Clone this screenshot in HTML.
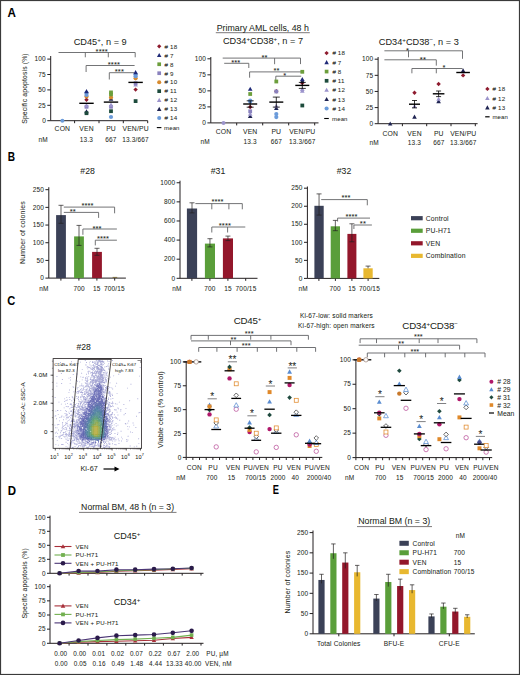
<!DOCTYPE html>
<html><head><meta charset="utf-8"><style>
html,body{margin:0;padding:0;background:#fff;}
svg{display:block;}
text{font-family:"Liberation Sans", sans-serif;stroke:#231f20;stroke-width:0.04px;}
</style></head><body>
<svg width="520" height="675" viewBox="0 0 520 675">
<rect width="520" height="675" fill="#fff"/>
<rect x="0.5" y="0.5" width="519" height="674" fill="none" stroke="#3a3a3a" stroke-width="1.2"/>
<text x="7.50" y="17.00" font-size="11.9" text-anchor="start" fill="#000" font-weight="bold" textLength="8.4" lengthAdjust="spacingAndGlyphs">A</text>
<text x="7.70" y="160.50" font-size="11.9" text-anchor="start" fill="#000" font-weight="bold" textLength="7.3" lengthAdjust="spacingAndGlyphs">B</text>
<text x="7.30" y="305.40" font-size="11.9" text-anchor="start" fill="#000" font-weight="bold" textLength="8.0" lengthAdjust="spacingAndGlyphs">C</text>
<text x="7.80" y="495.10" font-size="11.9" text-anchor="start" fill="#000" font-weight="bold" textLength="8.3" lengthAdjust="spacingAndGlyphs">D</text>
<text x="272.80" y="494.10" font-size="11.9" text-anchor="start" fill="#000" font-weight="bold" textLength="6.2" lengthAdjust="spacingAndGlyphs">E</text>
<text x="262.80" y="31.00" font-size="8.8" text-anchor="middle" fill="#231f20">Primary AML cells, 48 h</text>
<line x1="215.80" y1="32.70" x2="309.80" y2="32.70" stroke="#231f20" stroke-width="0.6"/>
<line x1="50.70" y1="56.00" x2="50.70" y2="120.70" stroke="#231f20" stroke-width="1.0"/>
<line x1="47.30" y1="120.70" x2="50.70" y2="120.70" stroke="#231f20" stroke-width="1.0"/>
<text x="45.90" y="122.91" font-size="6.5" text-anchor="end" fill="#231f20" letter-spacing="0.15">0</text>
<line x1="47.30" y1="105.30" x2="50.70" y2="105.30" stroke="#231f20" stroke-width="1.0"/>
<text x="45.90" y="107.50" font-size="6.5" text-anchor="end" fill="#231f20" letter-spacing="0.15">25</text>
<line x1="47.30" y1="89.90" x2="50.70" y2="89.90" stroke="#231f20" stroke-width="1.0"/>
<text x="45.90" y="92.11" font-size="6.5" text-anchor="end" fill="#231f20" letter-spacing="0.15">50</text>
<line x1="47.30" y1="74.50" x2="50.70" y2="74.50" stroke="#231f20" stroke-width="1.0"/>
<text x="45.90" y="76.70" font-size="6.5" text-anchor="end" fill="#231f20" letter-spacing="0.15">75</text>
<line x1="47.30" y1="59.10" x2="50.70" y2="59.10" stroke="#231f20" stroke-width="1.0"/>
<text x="45.90" y="61.30" font-size="6.5" text-anchor="end" fill="#231f20" letter-spacing="0.15">100</text>
<line x1="50.70" y1="120.70" x2="147.70" y2="120.70" stroke="#231f20" stroke-width="1.0"/>
<line x1="74.60" y1="120.70" x2="74.60" y2="123.20" stroke="#231f20" stroke-width="1.0"/>
<line x1="99.00" y1="120.70" x2="99.00" y2="123.20" stroke="#231f20" stroke-width="1.0"/>
<line x1="123.30" y1="120.70" x2="123.30" y2="123.20" stroke="#231f20" stroke-width="1.0"/>
<line x1="147.70" y1="120.70" x2="147.70" y2="123.20" stroke="#231f20" stroke-width="1.0"/>
<text x="62.40" y="131.20" font-size="6.8" text-anchor="middle" fill="#231f20" letter-spacing="0.15">CON</text>
<text x="86.50" y="131.20" font-size="6.8" text-anchor="middle" fill="#231f20" letter-spacing="0.15">VEN</text>
<text x="111.00" y="131.20" font-size="6.8" text-anchor="middle" fill="#231f20" letter-spacing="0.15">PU</text>
<text x="135.60" y="131.20" font-size="6.8" text-anchor="middle" fill="#231f20" letter-spacing="0.15">VEN/PU</text>
<text x="38.60" y="141.90" font-size="6.5" text-anchor="start" fill="#231f20" letter-spacing="0.15">nM</text>
<text x="86.50" y="141.90" font-size="6.5" text-anchor="middle" fill="#231f20" letter-spacing="0.15">13.3</text>
<text x="111.00" y="141.90" font-size="6.5" text-anchor="middle" fill="#231f20" letter-spacing="0.15">667</text>
<text x="135.60" y="141.90" font-size="6.5" text-anchor="middle" fill="#231f20" letter-spacing="0.15">13.3/667</text>
<text x="100.20" y="45.20" font-size="9.2" text-anchor="middle" fill="#231f20">CD45<tspan font-size="6.2" dy="-3.2">+</tspan><tspan dy="3.2">, n = 9</tspan></text>
<text x="27.10" y="88.50" font-size="6.8" text-anchor="middle" fill="#231f20" transform="rotate(-90 27.1 88.5)" letter-spacing="0.15">Specific apoptosis (%)</text>
<line x1="58.50" y1="52.50" x2="135.20" y2="52.50" stroke="#636467" stroke-width="0.9"/>
<line x1="58.50" y1="52.50" x2="58.50" y2="52.50" stroke="#636467" stroke-width="0.9"/>
<line x1="85.30" y1="52.50" x2="85.30" y2="57.30" stroke="#636467" stroke-width="0.9"/>
<line x1="108.30" y1="52.50" x2="108.30" y2="57.30" stroke="#636467" stroke-width="0.9"/>
<line x1="135.20" y1="52.50" x2="135.20" y2="57.30" stroke="#636467" stroke-width="0.9"/>
<text x="101.70" y="53.50" font-size="7.6" text-anchor="middle" fill="#231f20" letter-spacing="0.1">****</text>
<line x1="86.10" y1="65.50" x2="134.60" y2="65.50" stroke="#636467" stroke-width="0.9"/>
<line x1="86.10" y1="65.50" x2="86.10" y2="72.00" stroke="#636467" stroke-width="0.9"/>
<line x1="134.60" y1="65.50" x2="134.60" y2="65.50" stroke="#636467" stroke-width="0.9"/>
<text x="113.90" y="66.50" font-size="7.6" text-anchor="middle" fill="#231f20" letter-spacing="0.1">****</text>
<line x1="109.30" y1="72.70" x2="134.10" y2="72.70" stroke="#636467" stroke-width="0.9"/>
<line x1="109.30" y1="72.70" x2="109.30" y2="79.50" stroke="#636467" stroke-width="0.9"/>
<line x1="134.10" y1="72.70" x2="134.10" y2="72.70" stroke="#636467" stroke-width="0.9"/>
<text x="119.40" y="73.70" font-size="7.6" text-anchor="middle" fill="#231f20" letter-spacing="0.1">***</text>
<circle cx="62.40" cy="120.70" r="2.00" fill="#6b9bda"/>
<polygon points="86.50,109.19 88.81,113.35 84.19,113.35" fill="#1f2452"/>
<rect x="84.61" y="111.31" width="3.78" height="3.78" fill="#1d4b3c"/>
<rect x="84.61" y="104.91" width="3.78" height="3.78" fill="#8a82be"/>
<polygon points="86.50,103.09 88.81,107.25 84.19,107.25" fill="#9c94cc"/>
<polygon points="86.50,97.50 88.70,99.70 86.50,101.91 84.30,99.70" fill="#8e1b2e"/>
<circle cx="86.50" cy="96.50" r="2.10" fill="#d88b2e"/>
<circle cx="86.50" cy="95.00" r="2.10" fill="#6b9bda"/>
<circle cx="86.50" cy="92.80" r="2.10" fill="#6b9bda"/>
<polygon points="86.50,88.99 88.81,93.15 84.19,93.15" fill="#1f2a78"/>
<circle cx="111.00" cy="117.00" r="2.10" fill="#6b9bda"/>
<rect x="109.11" y="109.31" width="3.78" height="3.78" fill="#1d4b3c"/>
<rect x="109.11" y="104.91" width="3.78" height="3.78" fill="#8a82be"/>
<polygon points="111.00,102.49 113.31,106.65 108.69,106.65" fill="#9c94cc"/>
<polygon points="111.00,96.49 113.31,100.65 108.69,100.65" fill="#1f2452"/>
<circle cx="111.00" cy="97.40" r="2.10" fill="#d88b2e"/>
<rect x="109.11" y="92.51" width="3.78" height="3.78" fill="#6c9e3c"/>
<rect x="109.11" y="90.51" width="3.78" height="3.78" fill="#6c9e3c"/>
<rect x="133.71" y="99.21" width="3.78" height="3.78" fill="#1d4b3c"/>
<polygon points="135.60,87.39 137.81,89.60 135.60,91.80 133.39,89.60" fill="#8e1b2e"/>
<polygon points="135.60,82.29 137.91,86.45 133.29,86.45" fill="#9c94cc"/>
<rect x="133.71" y="81.31" width="3.78" height="3.78" fill="#8a82be"/>
<circle cx="135.60" cy="78.30" r="2.10" fill="#d88b2e"/>
<circle cx="135.60" cy="76.20" r="2.10" fill="#6b9bda"/>
<circle cx="135.60" cy="74.40" r="2.10" fill="#6b9bda"/>
<polygon points="135.60,69.99 137.91,74.15 133.29,74.15" fill="#1f2a78"/>
<line x1="79.30" y1="103.30" x2="93.70" y2="103.30" stroke="#000" stroke-width="1.4"/>
<line x1="103.80" y1="102.10" x2="118.20" y2="102.10" stroke="#000" stroke-width="1.4"/>
<line x1="128.40" y1="82.40" x2="142.80" y2="82.40" stroke="#000" stroke-width="1.4"/>
<polygon points="159.20,44.15 161.35,46.30 159.20,48.45 157.05,46.30" fill="#8e1b2e"/>
<text x="164.60" y="48.60" font-size="6.2" text-anchor="start" fill="#231f20" letter-spacing="0.15"># 18</text>
<polygon points="159.20,53.01 161.45,57.07 156.94,57.07" fill="#1f2a78"/>
<text x="164.60" y="57.57" font-size="6.2" text-anchor="start" fill="#231f20" letter-spacing="0.15"># 7</text>
<rect x="157.35" y="62.39" width="3.69" height="3.69" fill="#6c9e3c"/>
<text x="164.60" y="66.54" font-size="6.2" text-anchor="start" fill="#231f20" letter-spacing="0.15"># 8</text>
<rect x="157.35" y="71.37" width="3.69" height="3.69" fill="#8a82be"/>
<text x="164.60" y="75.51" font-size="6.2" text-anchor="start" fill="#231f20" letter-spacing="0.15"># 9</text>
<circle cx="159.20" cy="82.18" r="2.05" fill="#d88b2e"/>
<text x="164.60" y="84.48" font-size="6.2" text-anchor="start" fill="#231f20" letter-spacing="0.15"># 10</text>
<rect x="157.35" y="89.31" width="3.69" height="3.69" fill="#1d4b3c"/>
<text x="164.60" y="93.45" font-size="6.2" text-anchor="start" fill="#231f20" letter-spacing="0.15"># 11</text>
<polygon points="159.20,97.87 161.45,101.92 156.94,101.92" fill="#9c94cc"/>
<text x="164.60" y="102.42" font-size="6.2" text-anchor="start" fill="#231f20" letter-spacing="0.15"># 12</text>
<polygon points="159.20,106.84 161.45,110.89 156.94,110.89" fill="#1f2452"/>
<text x="164.60" y="111.39" font-size="6.2" text-anchor="start" fill="#231f20" letter-spacing="0.15"># 13</text>
<circle cx="159.20" cy="118.06" r="2.05" fill="#6b9bda"/>
<text x="164.60" y="120.36" font-size="6.2" text-anchor="start" fill="#231f20" letter-spacing="0.15"># 14</text>
<line x1="156.80" y1="127.60" x2="161.40" y2="127.60" stroke="#000" stroke-width="1.1"/>
<text x="164.00" y="129.80" font-size="6.0" text-anchor="start" fill="#231f20" letter-spacing="0.15">mean</text>
<line x1="210.80" y1="57.00" x2="210.80" y2="122.90" stroke="#231f20" stroke-width="1.0"/>
<line x1="207.40" y1="122.90" x2="210.80" y2="122.90" stroke="#231f20" stroke-width="1.0"/>
<text x="206.00" y="125.11" font-size="6.5" text-anchor="end" fill="#231f20" letter-spacing="0.15">0</text>
<line x1="207.40" y1="106.88" x2="210.80" y2="106.88" stroke="#231f20" stroke-width="1.0"/>
<text x="206.00" y="109.08" font-size="6.5" text-anchor="end" fill="#231f20" letter-spacing="0.15">25</text>
<line x1="207.40" y1="90.85" x2="210.80" y2="90.85" stroke="#231f20" stroke-width="1.0"/>
<text x="206.00" y="93.06" font-size="6.5" text-anchor="end" fill="#231f20" letter-spacing="0.15">50</text>
<line x1="207.40" y1="74.83" x2="210.80" y2="74.83" stroke="#231f20" stroke-width="1.0"/>
<text x="206.00" y="77.03" font-size="6.5" text-anchor="end" fill="#231f20" letter-spacing="0.15">75</text>
<line x1="207.40" y1="58.80" x2="210.80" y2="58.80" stroke="#231f20" stroke-width="1.0"/>
<text x="206.00" y="61.01" font-size="6.5" text-anchor="end" fill="#231f20" letter-spacing="0.15">100</text>
<line x1="210.80" y1="122.90" x2="318.50" y2="122.90" stroke="#231f20" stroke-width="1.0"/>
<line x1="236.70" y1="122.90" x2="236.70" y2="125.40" stroke="#231f20" stroke-width="1.0"/>
<line x1="262.70" y1="122.90" x2="262.70" y2="125.40" stroke="#231f20" stroke-width="1.0"/>
<line x1="288.70" y1="122.90" x2="288.70" y2="125.40" stroke="#231f20" stroke-width="1.0"/>
<line x1="314.70" y1="122.90" x2="314.70" y2="125.40" stroke="#231f20" stroke-width="1.0"/>
<text x="223.50" y="134.00" font-size="6.8" text-anchor="middle" fill="#231f20" letter-spacing="0.15">CON</text>
<text x="250.20" y="134.00" font-size="6.8" text-anchor="middle" fill="#231f20" letter-spacing="0.15">VEN</text>
<text x="276.30" y="134.00" font-size="6.8" text-anchor="middle" fill="#231f20" letter-spacing="0.15">PU</text>
<text x="302.30" y="134.00" font-size="6.8" text-anchor="middle" fill="#231f20" letter-spacing="0.15">VEN/PU</text>
<text x="200.50" y="144.40" font-size="6.5" text-anchor="start" fill="#231f20" letter-spacing="0.15">nM</text>
<text x="250.20" y="144.40" font-size="6.5" text-anchor="middle" fill="#231f20" letter-spacing="0.15">13.3</text>
<text x="276.30" y="144.40" font-size="6.5" text-anchor="middle" fill="#231f20" letter-spacing="0.15">667</text>
<text x="302.30" y="144.40" font-size="6.5" text-anchor="middle" fill="#231f20" letter-spacing="0.15">13.3/667</text>
<text x="263.00" y="44.20" font-size="9.2" text-anchor="middle" fill="#231f20">CD34<tspan font-size="6.2" dy="-3.2">+</tspan><tspan dy="3.2">CD38</tspan><tspan font-size="6.2" dy="-3.2">+</tspan><tspan dy="3.2">, n = 7</tspan></text>
<line x1="222.70" y1="58.10" x2="300.50" y2="58.10" stroke="#636467" stroke-width="0.9"/>
<line x1="222.70" y1="58.10" x2="222.70" y2="58.10" stroke="#636467" stroke-width="0.9"/>
<line x1="274.60" y1="58.10" x2="274.60" y2="64.20" stroke="#636467" stroke-width="0.9"/>
<line x1="300.50" y1="58.10" x2="300.50" y2="64.10" stroke="#636467" stroke-width="0.9"/>
<text x="264.60" y="59.90" font-size="7.6" text-anchor="middle" fill="#231f20" letter-spacing="0.1">**</text>
<line x1="224.20" y1="63.30" x2="248.80" y2="63.30" stroke="#636467" stroke-width="0.9"/>
<line x1="248.80" y1="63.30" x2="248.80" y2="68.00" stroke="#636467" stroke-width="0.9"/>
<text x="235.80" y="65.10" font-size="7.6" text-anchor="middle" fill="#231f20" letter-spacing="0.1">***</text>
<line x1="249.60" y1="71.90" x2="301.20" y2="71.90" stroke="#636467" stroke-width="0.9"/>
<line x1="249.60" y1="71.90" x2="249.60" y2="77.70" stroke="#636467" stroke-width="0.9"/>
<line x1="301.20" y1="71.90" x2="301.20" y2="71.90" stroke="#636467" stroke-width="0.9"/>
<text x="276.50" y="73.40" font-size="7.6" text-anchor="middle" fill="#231f20" letter-spacing="0.1">**</text>
<line x1="275.80" y1="76.20" x2="301.20" y2="76.20" stroke="#636467" stroke-width="0.9"/>
<line x1="275.80" y1="76.20" x2="275.80" y2="81.50" stroke="#636467" stroke-width="0.9"/>
<line x1="301.20" y1="76.20" x2="301.20" y2="76.20" stroke="#636467" stroke-width="0.9"/>
<text x="284.80" y="78.30" font-size="7.6" text-anchor="middle" fill="#231f20" letter-spacing="0.1">*</text>
<circle cx="223.50" cy="122.90" r="2.00" fill="#9c94cc"/>
<polygon points="250.20,113.89 252.51,118.05 247.89,118.05" fill="#1f2452"/>
<polygon points="250.20,111.69 252.51,115.85 247.89,115.85" fill="#9c94cc"/>
<rect x="248.31" y="109.41" width="3.78" height="3.78" fill="#8a82be"/>
<polygon points="250.20,104.80 252.41,107.00 250.20,109.20 247.99,107.00" fill="#8e1b2e"/>
<circle cx="250.20" cy="101.60" r="2.10" fill="#6b9bda"/>
<circle cx="250.20" cy="100.50" r="2.10" fill="#6b9bda"/>
<rect x="248.31" y="92.11" width="3.78" height="3.78" fill="#6c9e3c"/>
<polygon points="250.20,86.69 252.51,90.85 247.89,90.85" fill="#1f2a78"/>
<circle cx="276.30" cy="117.10" r="2.10" fill="#6b9bda"/>
<circle cx="276.30" cy="114.00" r="2.10" fill="#6b9bda"/>
<polygon points="276.30,105.89 278.61,110.05 273.99,110.05" fill="#1f2452"/>
<polygon points="276.30,103.69 278.61,107.85 273.99,107.85" fill="#9c94cc"/>
<polygon points="276.30,89.00 278.50,91.20 276.30,93.41 274.10,91.20" fill="#8e1b2e"/>
<rect x="274.41" y="89.61" width="3.78" height="3.78" fill="#8a82be"/>
<rect x="274.41" y="79.61" width="3.78" height="3.78" fill="#6c9e3c"/>
<rect x="300.41" y="103.61" width="3.78" height="3.78" fill="#1d4b3c"/>
<polygon points="302.30,88.49 304.61,92.65 299.99,92.65" fill="#9c94cc"/>
<polygon points="302.30,86.89 304.61,91.05 299.99,91.05" fill="#9c94cc"/>
<polygon points="302.30,80.80 304.50,83.00 302.30,85.20 300.10,83.00" fill="#8e1b2e"/>
<polygon points="302.30,78.69 304.61,82.85 299.99,82.85" fill="#1f2452"/>
<polygon points="302.30,76.89 304.61,81.05 299.99,81.05" fill="#1f2a78"/>
<rect x="300.41" y="69.91" width="3.78" height="3.78" fill="#6c9e3c"/>
<line x1="243.20" y1="104.00" x2="257.20" y2="104.00" stroke="#000" stroke-width="1.4"/>
<line x1="269.30" y1="102.10" x2="283.30" y2="102.10" stroke="#000" stroke-width="1.4"/>
<line x1="295.30" y1="85.40" x2="309.30" y2="85.40" stroke="#000" stroke-width="1.4"/>
<line x1="250.20" y1="100.80" x2="250.20" y2="107.20" stroke="#000" stroke-width="0.8"/>
<line x1="246.70" y1="100.80" x2="253.70" y2="100.80" stroke="#000" stroke-width="0.8"/>
<line x1="246.70" y1="107.20" x2="253.70" y2="107.20" stroke="#000" stroke-width="0.8"/>
<line x1="276.30" y1="97.10" x2="276.30" y2="107.10" stroke="#000" stroke-width="0.8"/>
<line x1="272.80" y1="97.10" x2="279.80" y2="97.10" stroke="#000" stroke-width="0.8"/>
<line x1="272.80" y1="107.10" x2="279.80" y2="107.10" stroke="#000" stroke-width="0.8"/>
<line x1="302.30" y1="82.40" x2="302.30" y2="88.40" stroke="#000" stroke-width="0.8"/>
<line x1="298.80" y1="82.40" x2="305.80" y2="82.40" stroke="#000" stroke-width="0.8"/>
<line x1="298.80" y1="88.40" x2="305.80" y2="88.40" stroke="#000" stroke-width="0.8"/>
<polygon points="326.60,50.95 328.75,53.10 326.60,55.25 324.45,53.10" fill="#8e1b2e"/>
<text x="332.40" y="55.40" font-size="6.2" text-anchor="start" fill="#231f20" letter-spacing="0.15"># 18</text>
<polygon points="326.60,60.07 328.86,64.13 324.35,64.13" fill="#1f2a78"/>
<text x="332.40" y="64.63" font-size="6.2" text-anchor="start" fill="#231f20" letter-spacing="0.15"># 7</text>
<rect x="324.75" y="69.72" width="3.69" height="3.69" fill="#6c9e3c"/>
<text x="332.40" y="73.86" font-size="6.2" text-anchor="start" fill="#231f20" letter-spacing="0.15"># 8</text>
<rect x="324.75" y="78.95" width="3.69" height="3.69" fill="#1d4b3c"/>
<text x="332.40" y="83.09" font-size="6.2" text-anchor="start" fill="#231f20" letter-spacing="0.15"># 11</text>
<polygon points="326.60,87.77 328.86,91.82 324.35,91.82" fill="#9c94cc"/>
<text x="332.40" y="92.32" font-size="6.2" text-anchor="start" fill="#231f20" letter-spacing="0.15"># 12</text>
<polygon points="326.60,97.00 328.86,101.05 324.35,101.05" fill="#1f2452"/>
<text x="332.40" y="101.55" font-size="6.2" text-anchor="start" fill="#231f20" letter-spacing="0.15"># 13</text>
<circle cx="326.60" cy="108.48" r="2.05" fill="#6b9bda"/>
<text x="332.40" y="110.78" font-size="6.2" text-anchor="start" fill="#231f20" letter-spacing="0.15"># 14</text>
<line x1="324.20" y1="118.50" x2="328.80" y2="118.50" stroke="#000" stroke-width="1.1"/>
<text x="332.00" y="120.70" font-size="6.0" text-anchor="start" fill="#231f20" letter-spacing="0.15">mean</text>
<line x1="378.10" y1="57.00" x2="378.10" y2="123.70" stroke="#231f20" stroke-width="1.0"/>
<line x1="374.70" y1="123.70" x2="378.10" y2="123.70" stroke="#231f20" stroke-width="1.0"/>
<text x="373.30" y="125.91" font-size="6.5" text-anchor="end" fill="#231f20" letter-spacing="0.15">0</text>
<line x1="374.70" y1="107.58" x2="378.10" y2="107.58" stroke="#231f20" stroke-width="1.0"/>
<text x="373.30" y="109.78" font-size="6.5" text-anchor="end" fill="#231f20" letter-spacing="0.15">25</text>
<line x1="374.70" y1="91.45" x2="378.10" y2="91.45" stroke="#231f20" stroke-width="1.0"/>
<text x="373.30" y="93.66" font-size="6.5" text-anchor="end" fill="#231f20" letter-spacing="0.15">50</text>
<line x1="374.70" y1="75.33" x2="378.10" y2="75.33" stroke="#231f20" stroke-width="1.0"/>
<text x="373.30" y="77.53" font-size="6.5" text-anchor="end" fill="#231f20" letter-spacing="0.15">75</text>
<line x1="374.70" y1="59.20" x2="378.10" y2="59.20" stroke="#231f20" stroke-width="1.0"/>
<text x="373.30" y="61.41" font-size="6.5" text-anchor="end" fill="#231f20" letter-spacing="0.15">100</text>
<line x1="378.10" y1="123.70" x2="477.60" y2="123.70" stroke="#231f20" stroke-width="1.0"/>
<line x1="402.40" y1="123.70" x2="402.40" y2="126.20" stroke="#231f20" stroke-width="1.0"/>
<line x1="426.70" y1="123.70" x2="426.70" y2="126.20" stroke="#231f20" stroke-width="1.0"/>
<line x1="451.00" y1="123.70" x2="451.00" y2="126.20" stroke="#231f20" stroke-width="1.0"/>
<line x1="475.30" y1="123.70" x2="475.30" y2="126.20" stroke="#231f20" stroke-width="1.0"/>
<text x="390.20" y="135.60" font-size="6.8" text-anchor="middle" fill="#231f20" letter-spacing="0.15">CON</text>
<text x="414.50" y="135.60" font-size="6.8" text-anchor="middle" fill="#231f20" letter-spacing="0.15">VEN</text>
<text x="438.80" y="135.60" font-size="6.8" text-anchor="middle" fill="#231f20" letter-spacing="0.15">PU</text>
<text x="463.30" y="135.60" font-size="6.8" text-anchor="middle" fill="#231f20" letter-spacing="0.15">VEN/PU</text>
<text x="369.50" y="144.60" font-size="6.5" text-anchor="start" fill="#231f20" letter-spacing="0.15">nM</text>
<text x="414.50" y="144.60" font-size="6.5" text-anchor="middle" fill="#231f20" letter-spacing="0.15">13.3</text>
<text x="438.80" y="144.60" font-size="6.5" text-anchor="middle" fill="#231f20" letter-spacing="0.15">667</text>
<text x="463.30" y="144.60" font-size="6.5" text-anchor="middle" fill="#231f20" letter-spacing="0.15">13.3/667</text>
<text x="418.80" y="45.20" font-size="9.2" text-anchor="middle" fill="#231f20">CD34<tspan font-size="6.2" dy="-3.2">+</tspan><tspan dy="3.2">CD38</tspan><tspan font-size="6.2" dy="-3.2">−</tspan><tspan dy="3.2">, n = 3</tspan></text>
<line x1="384.40" y1="50.80" x2="462.50" y2="50.80" stroke="#636467" stroke-width="0.9"/>
<line x1="384.40" y1="50.80" x2="384.40" y2="50.80" stroke="#636467" stroke-width="0.9"/>
<line x1="408.50" y1="50.80" x2="408.50" y2="57.30" stroke="#636467" stroke-width="0.9"/>
<line x1="462.50" y1="50.80" x2="462.50" y2="58.80" stroke="#636467" stroke-width="0.9"/>
<text x="407.50" y="52.60" font-size="7.6" text-anchor="middle" fill="#231f20" letter-spacing="0.1">*</text>
<line x1="384.40" y1="59.80" x2="436.30" y2="59.80" stroke="#636467" stroke-width="0.9"/>
<line x1="436.30" y1="59.80" x2="436.30" y2="65.60" stroke="#636467" stroke-width="0.9"/>
<text x="422.90" y="61.60" font-size="7.6" text-anchor="middle" fill="#231f20" letter-spacing="0.1">**</text>
<line x1="411.90" y1="68.50" x2="462.50" y2="68.50" stroke="#636467" stroke-width="0.9"/>
<line x1="411.90" y1="68.50" x2="411.90" y2="73.30" stroke="#636467" stroke-width="0.9"/>
<line x1="436.30" y1="68.50" x2="436.30" y2="73.30" stroke="#636467" stroke-width="0.9"/>
<line x1="462.50" y1="68.50" x2="462.50" y2="68.50" stroke="#636467" stroke-width="0.9"/>
<text x="444.00" y="69.90" font-size="7.6" text-anchor="middle" fill="#231f20" letter-spacing="0.1">*</text>
<polygon points="390.20,121.50 392.40,125.46 388.00,125.46" fill="#1f2452"/>
<polygon points="414.50,114.59 416.81,118.75 412.19,118.75" fill="#1f2452"/>
<polygon points="414.50,103.89 416.81,108.05 412.19,108.05" fill="#9c94cc"/>
<polygon points="414.50,90.50 416.70,92.70 414.50,94.91 412.30,92.70" fill="#8e1b2e"/>
<polygon points="438.60,98.99 440.91,103.15 436.29,103.15" fill="#1f2452"/>
<polygon points="438.60,96.69 440.91,100.85 436.29,100.85" fill="#9c94cc"/>
<polygon points="438.60,81.80 440.81,84.00 438.60,86.20 436.40,84.00" fill="#8e1b2e"/>
<polygon points="463.10,73.20 465.31,75.40 463.10,77.61 460.90,75.40" fill="#8e1b2e"/>
<polygon points="463.10,69.19 465.41,73.35 460.79,73.35" fill="#9c94cc"/>
<polygon points="463.10,68.29 465.41,72.45 460.79,72.45" fill="#1f2452"/>
<line x1="409.00" y1="104.20" x2="420.00" y2="104.20" stroke="#000" stroke-width="1.4"/>
<line x1="432.80" y1="93.80" x2="444.40" y2="93.80" stroke="#000" stroke-width="1.4"/>
<line x1="456.30" y1="72.50" x2="469.90" y2="72.50" stroke="#000" stroke-width="1.4"/>
<line x1="414.50" y1="100.50" x2="414.50" y2="107.90" stroke="#000" stroke-width="0.8"/>
<line x1="412.00" y1="100.50" x2="417.00" y2="100.50" stroke="#000" stroke-width="0.8"/>
<line x1="412.00" y1="107.90" x2="417.00" y2="107.90" stroke="#000" stroke-width="0.8"/>
<line x1="438.60" y1="91.00" x2="438.60" y2="96.60" stroke="#000" stroke-width="0.8"/>
<line x1="436.10" y1="91.00" x2="441.10" y2="91.00" stroke="#000" stroke-width="0.8"/>
<line x1="436.10" y1="96.60" x2="441.10" y2="96.60" stroke="#000" stroke-width="0.8"/>
<polygon points="487.40,86.75 489.55,88.90 487.40,91.05 485.25,88.90" fill="#8e1b2e"/>
<text x="492.60" y="91.20" font-size="6.2" text-anchor="start" fill="#231f20" letter-spacing="0.15"># 18</text>
<polygon points="487.40,96.00 489.65,100.05 485.14,100.05" fill="#9c94cc"/>
<text x="492.60" y="100.55" font-size="6.2" text-anchor="start" fill="#231f20" letter-spacing="0.15"># 12</text>
<polygon points="487.40,105.35 489.65,109.40 485.14,109.40" fill="#1f2452"/>
<text x="492.60" y="109.90" font-size="6.2" text-anchor="start" fill="#231f20" letter-spacing="0.15"># 13</text>
<line x1="485.20" y1="116.80" x2="489.60" y2="116.80" stroke="#000" stroke-width="1.2"/>
<text x="492.40" y="119.00" font-size="6.0" text-anchor="start" fill="#231f20" letter-spacing="0.15">mean</text>
<line x1="48.80" y1="187.20" x2="48.80" y2="278.10" stroke="#231f20" stroke-width="1.0"/>
<line x1="45.40" y1="278.10" x2="48.80" y2="278.10" stroke="#231f20" stroke-width="1.0"/>
<text x="44.00" y="280.31" font-size="6.5" text-anchor="end" fill="#231f20" letter-spacing="0.15">0</text>
<line x1="45.40" y1="260.42" x2="48.80" y2="260.42" stroke="#231f20" stroke-width="1.0"/>
<text x="44.00" y="262.62" font-size="6.5" text-anchor="end" fill="#231f20" letter-spacing="0.15">50</text>
<line x1="45.40" y1="242.73" x2="48.80" y2="242.73" stroke="#231f20" stroke-width="1.0"/>
<text x="44.00" y="244.94" font-size="6.5" text-anchor="end" fill="#231f20" letter-spacing="0.15">100</text>
<line x1="45.40" y1="225.05" x2="48.80" y2="225.05" stroke="#231f20" stroke-width="1.0"/>
<text x="44.00" y="227.25" font-size="6.5" text-anchor="end" fill="#231f20" letter-spacing="0.15">150</text>
<line x1="45.40" y1="207.36" x2="48.80" y2="207.36" stroke="#231f20" stroke-width="1.0"/>
<text x="44.00" y="209.57" font-size="6.5" text-anchor="end" fill="#231f20" letter-spacing="0.15">200</text>
<line x1="45.40" y1="189.68" x2="48.80" y2="189.68" stroke="#231f20" stroke-width="1.0"/>
<text x="44.00" y="191.88" font-size="6.5" text-anchor="end" fill="#231f20" letter-spacing="0.15">250</text>
<line x1="48.80" y1="278.10" x2="125.90" y2="278.10" stroke="#231f20" stroke-width="1.0"/>
<line x1="60.90" y1="278.10" x2="60.90" y2="280.60" stroke="#231f20" stroke-width="1.0"/>
<line x1="78.90" y1="278.10" x2="78.90" y2="280.60" stroke="#231f20" stroke-width="1.0"/>
<line x1="96.90" y1="278.10" x2="96.90" y2="280.60" stroke="#231f20" stroke-width="1.0"/>
<line x1="114.70" y1="278.10" x2="114.70" y2="280.60" stroke="#231f20" stroke-width="1.0"/>
<rect x="56.10" y="215.10" width="9.80" height="63.00" fill="#3b4157"/>
<line x1="61.00" y1="205.30" x2="61.00" y2="215.10" stroke="#231f20" stroke-width="0.7"/>
<line x1="58.50" y1="205.30" x2="63.50" y2="205.30" stroke="#231f20" stroke-width="0.7"/>
<line x1="61.00" y1="215.10" x2="61.00" y2="223.30" stroke="#231f20" stroke-width="0.7"/>
<line x1="58.50" y1="223.30" x2="63.50" y2="223.30" stroke="#231f20" stroke-width="0.7"/>
<rect x="74.10" y="236.40" width="9.80" height="41.70" fill="#5a9e3a"/>
<line x1="79.00" y1="225.40" x2="79.00" y2="236.40" stroke="#231f20" stroke-width="0.7"/>
<line x1="76.50" y1="225.40" x2="81.50" y2="225.40" stroke="#231f20" stroke-width="0.7"/>
<line x1="79.00" y1="236.40" x2="79.00" y2="245.40" stroke="#231f20" stroke-width="0.7"/>
<line x1="76.50" y1="245.40" x2="81.50" y2="245.40" stroke="#231f20" stroke-width="0.7"/>
<rect x="92.10" y="251.90" width="9.80" height="26.20" fill="#93172b"/>
<line x1="97.00" y1="248.30" x2="97.00" y2="251.90" stroke="#231f20" stroke-width="0.7"/>
<line x1="94.50" y1="248.30" x2="99.50" y2="248.30" stroke="#231f20" stroke-width="0.7"/>
<line x1="97.00" y1="251.90" x2="97.00" y2="255.30" stroke="#231f20" stroke-width="0.7"/>
<line x1="94.50" y1="255.30" x2="99.50" y2="255.30" stroke="#231f20" stroke-width="0.7"/>
<rect x="112.60" y="276.90" width="4.60" height="1.00" fill="#7a6a3a"/>
<text x="87.60" y="174.20" font-size="8.7" text-anchor="middle" fill="#231f20">#28</text>
<text x="25.40" y="232.50" font-size="7.0" text-anchor="middle" fill="#231f20" transform="rotate(-90 25.4 232.5)" letter-spacing="0.15">Number of colonies</text>
<text x="39.20" y="290.60" font-size="6.5" text-anchor="start" fill="#231f20" letter-spacing="0.15">nM</text>
<text x="79.20" y="290.60" font-size="6.5" text-anchor="middle" fill="#231f20" letter-spacing="0.15">700</text>
<text x="96.80" y="290.60" font-size="6.5" text-anchor="middle" fill="#231f20" letter-spacing="0.15">15</text>
<text x="114.30" y="290.60" font-size="6.5" text-anchor="middle" fill="#231f20" letter-spacing="0.15">700/15</text>
<line x1="63.80" y1="207.10" x2="114.60" y2="207.10" stroke="#636467" stroke-width="0.9"/>
<line x1="114.60" y1="207.10" x2="114.60" y2="213.30" stroke="#636467" stroke-width="0.9"/>
<text x="87.50" y="207.90" font-size="7.6" text-anchor="middle" fill="#231f20" letter-spacing="0.1">****</text>
<line x1="63.80" y1="212.40" x2="98.60" y2="212.40" stroke="#636467" stroke-width="0.9"/>
<line x1="98.60" y1="212.40" x2="98.60" y2="217.90" stroke="#636467" stroke-width="0.9"/>
<text x="72.80" y="214.10" font-size="7.6" text-anchor="middle" fill="#231f20" letter-spacing="0.1">**</text>
<line x1="82.90" y1="229.00" x2="116.90" y2="229.00" stroke="#636467" stroke-width="0.9"/>
<line x1="82.90" y1="229.00" x2="82.90" y2="234.80" stroke="#636467" stroke-width="0.9"/>
<text x="97.00" y="231.20" font-size="7.6" text-anchor="middle" fill="#231f20" letter-spacing="0.1">***</text>
<line x1="95.30" y1="240.20" x2="116.90" y2="240.20" stroke="#636467" stroke-width="0.9"/>
<line x1="95.30" y1="240.20" x2="95.30" y2="245.40" stroke="#636467" stroke-width="0.9"/>
<text x="103.00" y="241.30" font-size="7.6" text-anchor="middle" fill="#231f20" letter-spacing="0.1">****</text>
<line x1="180.00" y1="180.70" x2="180.00" y2="278.30" stroke="#231f20" stroke-width="1.0"/>
<line x1="176.60" y1="278.30" x2="180.00" y2="278.30" stroke="#231f20" stroke-width="1.0"/>
<text x="175.20" y="280.50" font-size="6.5" text-anchor="end" fill="#231f20" letter-spacing="0.15">0</text>
<line x1="176.60" y1="259.19" x2="180.00" y2="259.19" stroke="#231f20" stroke-width="1.0"/>
<text x="175.20" y="261.39" font-size="6.5" text-anchor="end" fill="#231f20" letter-spacing="0.15">200</text>
<line x1="176.60" y1="240.08" x2="180.00" y2="240.08" stroke="#231f20" stroke-width="1.0"/>
<text x="175.20" y="242.29" font-size="6.5" text-anchor="end" fill="#231f20" letter-spacing="0.15">400</text>
<line x1="176.60" y1="220.97" x2="180.00" y2="220.97" stroke="#231f20" stroke-width="1.0"/>
<text x="175.20" y="223.18" font-size="6.5" text-anchor="end" fill="#231f20" letter-spacing="0.15">600</text>
<line x1="176.60" y1="201.86" x2="180.00" y2="201.86" stroke="#231f20" stroke-width="1.0"/>
<text x="175.20" y="204.07" font-size="6.5" text-anchor="end" fill="#231f20" letter-spacing="0.15">800</text>
<line x1="176.60" y1="182.75" x2="180.00" y2="182.75" stroke="#231f20" stroke-width="1.0"/>
<text x="175.20" y="184.96" font-size="6.5" text-anchor="end" fill="#231f20" letter-spacing="0.15">1000</text>
<line x1="180.00" y1="278.30" x2="257.50" y2="278.30" stroke="#231f20" stroke-width="1.0"/>
<line x1="191.90" y1="278.30" x2="191.90" y2="280.80" stroke="#231f20" stroke-width="1.0"/>
<line x1="209.90" y1="278.30" x2="209.90" y2="280.80" stroke="#231f20" stroke-width="1.0"/>
<line x1="227.90" y1="278.30" x2="227.90" y2="280.80" stroke="#231f20" stroke-width="1.0"/>
<line x1="245.70" y1="278.30" x2="245.70" y2="280.80" stroke="#231f20" stroke-width="1.0"/>
<rect x="186.90" y="208.50" width="10.20" height="69.80" fill="#3b4157"/>
<line x1="192.00" y1="202.80" x2="192.00" y2="208.50" stroke="#231f20" stroke-width="0.7"/>
<line x1="189.50" y1="202.80" x2="194.50" y2="202.80" stroke="#231f20" stroke-width="0.7"/>
<line x1="192.00" y1="208.50" x2="192.00" y2="212.90" stroke="#231f20" stroke-width="0.7"/>
<line x1="189.50" y1="212.90" x2="194.50" y2="212.90" stroke="#231f20" stroke-width="0.7"/>
<rect x="204.90" y="243.60" width="10.10" height="34.70" fill="#5a9e3a"/>
<line x1="209.95" y1="238.70" x2="209.95" y2="243.60" stroke="#231f20" stroke-width="0.7"/>
<line x1="207.45" y1="238.70" x2="212.45" y2="238.70" stroke="#231f20" stroke-width="0.7"/>
<line x1="209.95" y1="243.60" x2="209.95" y2="246.90" stroke="#231f20" stroke-width="0.7"/>
<line x1="207.45" y1="246.90" x2="212.45" y2="246.90" stroke="#231f20" stroke-width="0.7"/>
<rect x="222.90" y="238.40" width="10.10" height="39.90" fill="#93172b"/>
<line x1="227.95" y1="236.10" x2="227.95" y2="238.40" stroke="#231f20" stroke-width="0.7"/>
<line x1="225.45" y1="236.10" x2="230.45" y2="236.10" stroke="#231f20" stroke-width="0.7"/>
<line x1="227.95" y1="238.40" x2="227.95" y2="240.60" stroke="#231f20" stroke-width="0.7"/>
<line x1="225.45" y1="240.60" x2="230.45" y2="240.60" stroke="#231f20" stroke-width="0.7"/>
<text x="218.00" y="174.20" font-size="8.7" text-anchor="middle" fill="#231f20">#31</text>
<text x="172.30" y="290.60" font-size="6.5" text-anchor="start" fill="#231f20" letter-spacing="0.15">nM</text>
<text x="210.00" y="290.60" font-size="6.5" text-anchor="middle" fill="#231f20" letter-spacing="0.15">700</text>
<text x="228.00" y="290.60" font-size="6.5" text-anchor="middle" fill="#231f20" letter-spacing="0.15">15</text>
<text x="246.00" y="290.60" font-size="6.5" text-anchor="middle" fill="#231f20" letter-spacing="0.15">700/15</text>
<line x1="195.40" y1="203.60" x2="242.30" y2="203.60" stroke="#636467" stroke-width="0.9"/>
<line x1="211.80" y1="203.60" x2="211.80" y2="209.30" stroke="#636467" stroke-width="0.9"/>
<line x1="228.90" y1="203.60" x2="228.90" y2="209.30" stroke="#636467" stroke-width="0.9"/>
<line x1="242.30" y1="203.60" x2="242.30" y2="209.30" stroke="#636467" stroke-width="0.9"/>
<text x="217.50" y="204.30" font-size="7.6" text-anchor="middle" fill="#231f20" letter-spacing="0.1">****</text>
<line x1="211.80" y1="227.00" x2="245.30" y2="227.00" stroke="#636467" stroke-width="0.9"/>
<line x1="211.80" y1="227.00" x2="211.80" y2="232.50" stroke="#636467" stroke-width="0.9"/>
<line x1="227.60" y1="227.00" x2="227.60" y2="232.50" stroke="#636467" stroke-width="0.9"/>
<text x="224.90" y="227.50" font-size="7.6" text-anchor="middle" fill="#231f20" letter-spacing="0.1">****</text>
<line x1="307.40" y1="186.50" x2="307.40" y2="278.40" stroke="#231f20" stroke-width="1.0"/>
<line x1="304.00" y1="278.40" x2="307.40" y2="278.40" stroke="#231f20" stroke-width="1.0"/>
<text x="302.60" y="280.60" font-size="6.5" text-anchor="end" fill="#231f20" letter-spacing="0.15">0</text>
<line x1="304.00" y1="260.36" x2="307.40" y2="260.36" stroke="#231f20" stroke-width="1.0"/>
<text x="302.60" y="262.56" font-size="6.5" text-anchor="end" fill="#231f20" letter-spacing="0.15">50</text>
<line x1="304.00" y1="242.32" x2="307.40" y2="242.32" stroke="#231f20" stroke-width="1.0"/>
<text x="302.60" y="244.53" font-size="6.5" text-anchor="end" fill="#231f20" letter-spacing="0.15">100</text>
<line x1="304.00" y1="224.28" x2="307.40" y2="224.28" stroke="#231f20" stroke-width="1.0"/>
<text x="302.60" y="226.48" font-size="6.5" text-anchor="end" fill="#231f20" letter-spacing="0.15">150</text>
<line x1="304.00" y1="206.24" x2="307.40" y2="206.24" stroke="#231f20" stroke-width="1.0"/>
<text x="302.60" y="208.44" font-size="6.5" text-anchor="end" fill="#231f20" letter-spacing="0.15">200</text>
<line x1="304.00" y1="188.20" x2="307.40" y2="188.20" stroke="#231f20" stroke-width="1.0"/>
<text x="302.60" y="190.41" font-size="6.5" text-anchor="end" fill="#231f20" letter-spacing="0.15">250</text>
<line x1="307.40" y1="278.40" x2="379.30" y2="278.40" stroke="#231f20" stroke-width="1.0"/>
<line x1="318.90" y1="278.40" x2="318.90" y2="280.90" stroke="#231f20" stroke-width="1.0"/>
<line x1="335.40" y1="278.40" x2="335.40" y2="280.90" stroke="#231f20" stroke-width="1.0"/>
<line x1="351.90" y1="278.40" x2="351.90" y2="280.90" stroke="#231f20" stroke-width="1.0"/>
<line x1="368.10" y1="278.40" x2="368.10" y2="280.90" stroke="#231f20" stroke-width="1.0"/>
<rect x="314.40" y="205.80" width="9.30" height="72.60" fill="#3b4157"/>
<line x1="319.05" y1="193.90" x2="319.05" y2="205.80" stroke="#231f20" stroke-width="0.7"/>
<line x1="316.55" y1="193.90" x2="321.55" y2="193.90" stroke="#231f20" stroke-width="0.7"/>
<line x1="319.05" y1="205.80" x2="319.05" y2="215.10" stroke="#231f20" stroke-width="0.7"/>
<line x1="316.55" y1="215.10" x2="321.55" y2="215.10" stroke="#231f20" stroke-width="0.7"/>
<rect x="330.70" y="226.30" width="9.30" height="52.10" fill="#5a9e3a"/>
<line x1="335.35" y1="220.40" x2="335.35" y2="226.30" stroke="#231f20" stroke-width="0.7"/>
<line x1="332.85" y1="220.40" x2="337.85" y2="220.40" stroke="#231f20" stroke-width="0.7"/>
<line x1="335.35" y1="226.30" x2="335.35" y2="230.70" stroke="#231f20" stroke-width="0.7"/>
<line x1="332.85" y1="230.70" x2="337.85" y2="230.70" stroke="#231f20" stroke-width="0.7"/>
<rect x="347.40" y="233.90" width="9.00" height="44.50" fill="#93172b"/>
<line x1="351.90" y1="223.80" x2="351.90" y2="233.90" stroke="#231f20" stroke-width="0.7"/>
<line x1="349.40" y1="223.80" x2="354.40" y2="223.80" stroke="#231f20" stroke-width="0.7"/>
<line x1="351.90" y1="233.90" x2="351.90" y2="241.80" stroke="#231f20" stroke-width="0.7"/>
<line x1="349.40" y1="241.80" x2="354.40" y2="241.80" stroke="#231f20" stroke-width="0.7"/>
<rect x="363.40" y="268.30" width="9.30" height="10.10" fill="#e8b830"/>
<line x1="368.05" y1="266.10" x2="368.05" y2="268.30" stroke="#231f20" stroke-width="0.7"/>
<line x1="365.55" y1="266.10" x2="370.55" y2="266.10" stroke="#231f20" stroke-width="0.7"/>
<text x="344.00" y="174.20" font-size="8.7" text-anchor="middle" fill="#231f20">#32</text>
<text x="298.60" y="290.60" font-size="6.5" text-anchor="start" fill="#231f20" letter-spacing="0.15">nM</text>
<text x="335.10" y="290.60" font-size="6.5" text-anchor="middle" fill="#231f20" letter-spacing="0.15">700</text>
<text x="352.00" y="290.60" font-size="6.5" text-anchor="middle" fill="#231f20" letter-spacing="0.15">15</text>
<text x="369.50" y="290.60" font-size="6.5" text-anchor="middle" fill="#231f20" letter-spacing="0.15">700/15</text>
<line x1="321.20" y1="199.60" x2="367.30" y2="199.60" stroke="#636467" stroke-width="0.9"/>
<line x1="367.30" y1="199.60" x2="367.30" y2="205.30" stroke="#636467" stroke-width="0.9"/>
<text x="346.10" y="200.30" font-size="7.6" text-anchor="middle" fill="#231f20" letter-spacing="0.1">***</text>
<line x1="337.60" y1="218.10" x2="370.00" y2="218.10" stroke="#636467" stroke-width="0.9"/>
<line x1="337.60" y1="218.10" x2="337.60" y2="221.50" stroke="#636467" stroke-width="0.9"/>
<text x="351.50" y="218.90" font-size="7.6" text-anchor="middle" fill="#231f20" letter-spacing="0.1">****</text>
<line x1="353.90" y1="225.00" x2="371.90" y2="225.00" stroke="#636467" stroke-width="0.9"/>
<line x1="353.90" y1="225.00" x2="353.90" y2="229.00" stroke="#636467" stroke-width="0.9"/>
<text x="362.90" y="226.10" font-size="7.6" text-anchor="middle" fill="#231f20" letter-spacing="0.1">**</text>
<rect x="411.00" y="216.10" width="11.70" height="4.20" fill="#3b4157"/>
<text x="425.80" y="220.60" font-size="6.8" text-anchor="start" fill="#231f20" letter-spacing="0.15">Control</text>
<rect x="411.00" y="228.65" width="11.70" height="4.20" fill="#5a9e3a"/>
<text x="425.80" y="233.15" font-size="6.8" text-anchor="start" fill="#231f20" letter-spacing="0.15">PU-H71</text>
<rect x="411.00" y="241.20" width="11.70" height="4.20" fill="#93172b"/>
<text x="425.80" y="245.70" font-size="6.8" text-anchor="start" fill="#231f20" letter-spacing="0.15">VEN</text>
<rect x="411.00" y="253.75" width="11.70" height="4.20" fill="#e8b830"/>
<text x="425.80" y="258.25" font-size="6.8" text-anchor="start" fill="#231f20" letter-spacing="0.15">Combination</text>
<path d="M66.2 427.5h.9v.9h-.9zM67.4 417.7h.9v.9h-.9zM70.1 379.6h.9v.9h-.9zM86.8 380.4h.9v.9h-.9zM86.0 373.8h.9v.9h-.9zM65.8 406.1h.9v.9h-.9zM55.4 410.7h.9v.9h-.9zM62.4 434.1h.9v.9h-.9zM55.3 415.3h.9v.9h-.9zM86.6 366.7h.9v.9h-.9zM73.2 386.9h.9v.9h-.9zM107.6 366.0h.9v.9h-.9zM70.6 414.7h.9v.9h-.9zM77.2 405.0h.9v.9h-.9zM69.0 426.7h.9v.9h-.9zM76.3 392.3h.9v.9h-.9zM112.1 360.1h.9v.9h-.9zM70.5 404.0h.9v.9h-.9zM108.8 391.3h.9v.9h-.9zM92.1 361.5h.9v.9h-.9zM111.3 387.4h.9v.9h-.9zM73.4 398.5h.9v.9h-.9zM68.9 413.0h.9v.9h-.9zM65.6 428.7h.9v.9h-.9zM58.1 429.6h.9v.9h-.9zM107.7 378.1h.9v.9h-.9zM66.1 433.3h.9v.9h-.9zM92.2 361.7h.9v.9h-.9zM62.2 425.6h.9v.9h-.9zM87.2 377.4h.9v.9h-.9zM108.3 367.8h.9v.9h-.9zM109.6 394.0h.9v.9h-.9zM107.5 387.8h.9v.9h-.9zM105.6 377.1h.9v.9h-.9zM65.2 431.3h.9v.9h-.9zM73.2 391.4h.9v.9h-.9zM112.3 421.5h.9v.9h-.9zM71.1 415.3h.9v.9h-.9zM58.4 424.0h.9v.9h-.9zM108.6 361.0h.9v.9h-.9zM109.8 392.9h.9v.9h-.9zM64.3 401.1h.9v.9h-.9zM111.7 402.8h.9v.9h-.9zM78.4 400.6h.9v.9h-.9zM77.9 391.0h.9v.9h-.9zM57.8 413.9h.9v.9h-.9zM81.1 391.9h.9v.9h-.9zM65.8 422.8h.9v.9h-.9zM64.1 436.4h.9v.9h-.9zM84.9 379.9h.9v.9h-.9zM86.6 380.3h.9v.9h-.9zM105.7 373.0h.9v.9h-.9zM59.7 436.2h.9v.9h-.9zM68.5 391.9h.9v.9h-.9zM87.1 378.6h.9v.9h-.9zM61.9 426.9h.9v.9h-.9zM108.2 392.5h.9v.9h-.9zM81.8 369.2h.9v.9h-.9zM61.5 415.5h.9v.9h-.9zM77.9 396.5h.9v.9h-.9zM55.2 427.3h.9v.9h-.9zM90.7 365.5h.9v.9h-.9zM85.1 385.7h.9v.9h-.9zM109.6 382.4h.9v.9h-.9zM87.4 366.1h.9v.9h-.9zM78.4 403.2h.9v.9h-.9zM76.6 374.3h.9v.9h-.9zM86.3 380.5h.9v.9h-.9zM76.2 396.1h.9v.9h-.9zM59.7 435.4h.9v.9h-.9zM60.6 430.6h.9v.9h-.9zM77.9 396.3h.9v.9h-.9zM109.4 402.3h.9v.9h-.9zM108.5 378.7h.9v.9h-.9zM79.4 390.6h.9v.9h-.9zM76.7 398.1h.9v.9h-.9zM90.1 372.6h.9v.9h-.9zM76.5 372.9h.9v.9h-.9zM106.8 375.6h.9v.9h-.9zM85.6 377.9h.9v.9h-.9zM72.3 409.3h.9v.9h-.9zM88.0 373.4h.9v.9h-.9zM101.8 360.5h.9v.9h-.9zM84.8 382.2h.9v.9h-.9zM85.0 382.9h.9v.9h-.9zM80.5 396.3h.9v.9h-.9zM87.8 366.9h.9v.9h-.9zM65.6 435.8h.9v.9h-.9zM88.2 370.8h.9v.9h-.9zM108.0 392.5h.9v.9h-.9zM76.7 388.6h.9v.9h-.9zM61.2 438.1h.9v.9h-.9zM87.4 371.4h.9v.9h-.9zM81.3 383.6h.9v.9h-.9zM110.1 396.1h.9v.9h-.9zM74.3 400.0h.9v.9h-.9zM54.9 432.6h.9v.9h-.9zM82.7 376.8h.9v.9h-.9zM65.2 433.5h.9v.9h-.9zM76.4 402.9h.9v.9h-.9zM110.0 395.3h.9v.9h-.9zM105.5 380.0h.9v.9h-.9zM67.7 425.9h.9v.9h-.9zM103.9 362.9h.9v.9h-.9zM62.8 428.2h.9v.9h-.9zM71.0 420.6h.9v.9h-.9zM65.6 400.1h.9v.9h-.9zM108.2 386.1h.9v.9h-.9zM90.4 368.0h.9v.9h-.9zM65.5 438.4h.9v.9h-.9zM66.7 415.6h.9v.9h-.9zM56.9 424.3h.9v.9h-.9zM112.4 398.0h.9v.9h-.9zM109.6 406.6h.9v.9h-.9zM67.5 417.1h.9v.9h-.9zM72.6 386.3h.9v.9h-.9zM112.2 388.6h.9v.9h-.9zM56.4 385.7h.9v.9h-.9zM73.2 402.0h.9v.9h-.9zM110.0 404.9h.9v.9h-.9zM106.2 374.6h.9v.9h-.9zM82.4 390.0h.9v.9h-.9zM64.5 431.9h.9v.9h-.9zM112.1 401.6h.9v.9h-.9zM115.7 418.0h.9v.9h-.9zM106.2 380.8h.9v.9h-.9zM92.5 361.8h.9v.9h-.9zM67.9 417.0h.9v.9h-.9zM57.0 410.0h.9v.9h-.9zM56.2 431.7h.9v.9h-.9zM74.7 406.3h.9v.9h-.9zM68.5 411.7h.9v.9h-.9zM107.7 390.3h.9v.9h-.9zM86.4 376.4h.9v.9h-.9zM108.1 388.5h.9v.9h-.9zM90.8 369.1h.9v.9h-.9zM106.6 371.8h.9v.9h-.9zM66.6 423.1h.9v.9h-.9zM92.0 361.3h.9v.9h-.9zM60.6 434.7h.9v.9h-.9zM65.7 438.9h.9v.9h-.9zM74.0 409.2h.9v.9h-.9zM74.0 404.5h.9v.9h-.9zM112.0 417.5h.9v.9h-.9zM110.8 403.2h.9v.9h-.9zM69.9 403.4h.9v.9h-.9zM115.5 409.0h.9v.9h-.9zM109.7 392.3h.9v.9h-.9zM72.4 397.3h.9v.9h-.9zM61.6 427.7h.9v.9h-.9zM107.0 360.6h.9v.9h-.9zM76.2 376.6h.9v.9h-.9zM111.7 429.3h.9v.9h-.9zM65.0 424.3h.9v.9h-.9zM80.0 361.7h.9v.9h-.9zM108.5 369.1h.9v.9h-.9zM62.3 435.1h.9v.9h-.9zM106.5 372.6h.9v.9h-.9zM79.5 385.6h.9v.9h-.9zM63.1 428.4h.9v.9h-.9zM78.3 392.2h.9v.9h-.9zM86.5 382.4h.9v.9h-.9zM78.6 390.2h.9v.9h-.9zM60.0 432.3h.9v.9h-.9zM81.2 391.5h.9v.9h-.9zM81.2 388.3h.9v.9h-.9zM69.4 399.1h.9v.9h-.9zM108.9 392.3h.9v.9h-.9zM114.5 429.3h.9v.9h-.9zM69.1 428.2h.9v.9h-.9zM79.2 381.4h.9v.9h-.9zM80.3 376.4h.9v.9h-.9zM85.6 364.6h.9v.9h-.9zM90.9 372.0h.9v.9h-.9zM89.8 360.9h.9v.9h-.9zM112.6 402.8h.9v.9h-.9zM71.8 396.2h.9v.9h-.9zM92.9 361.8h.9v.9h-.9zM65.7 414.5h.9v.9h-.9zM111.6 425.1h.9v.9h-.9zM88.0 372.4h.9v.9h-.9zM85.2 378.6h.9v.9h-.9zM76.7 387.4h.9v.9h-.9zM70.4 410.5h.9v.9h-.9zM75.7 383.4h.9v.9h-.9zM73.1 412.0h.9v.9h-.9zM78.0 399.0h.9v.9h-.9zM87.0 381.3h.9v.9h-.9zM78.8 401.3h.9v.9h-.9zM111.5 414.2h.9v.9h-.9zM85.2 364.4h.9v.9h-.9zM109.2 394.9h.9v.9h-.9zM82.0 385.5h.9v.9h-.9zM59.3 437.7h.9v.9h-.9zM65.8 434.8h.9v.9h-.9zM86.0 380.8h.9v.9h-.9zM66.7 414.1h.9v.9h-.9zM69.1 389.5h.9v.9h-.9zM103.5 361.5h.9v.9h-.9zM83.0 385.5h.9v.9h-.9zM63.0 419.3h.9v.9h-.9zM86.1 362.0h.9v.9h-.9zM56.6 427.4h.9v.9h-.9zM58.0 436.4h.9v.9h-.9zM55.7 436.0h.9v.9h-.9zM88.8 367.1h.9v.9h-.9zM89.6 367.4h.9v.9h-.9zM111.5 438.4h.9v.9h-.9zM66.7 423.0h.9v.9h-.9zM77.1 380.9h.9v.9h-.9zM60.9 403.7h.9v.9h-.9zM70.1 377.2h.9v.9h-.9zM71.9 397.2h.9v.9h-.9zM54.7 397.1h.9v.9h-.9zM69.7 403.9h.9v.9h-.9zM89.0 362.4h.9v.9h-.9zM105.4 380.8h.9v.9h-.9zM71.3 400.3h.9v.9h-.9zM82.9 388.0h.9v.9h-.9zM84.3 386.7h.9v.9h-.9zM68.5 377.7h.9v.9h-.9zM89.5 364.4h.9v.9h-.9zM112.9 437.6h.9v.9h-.9zM81.6 385.6h.9v.9h-.9zM111.4 423.0h.9v.9h-.9zM63.1 433.6h.9v.9h-.9zM67.5 406.3h.9v.9h-.9zM84.8 360.0h.9v.9h-.9zM66.9 421.4h.9v.9h-.9zM62.8 426.0h.9v.9h-.9zM83.3 389.2h.9v.9h-.9zM90.7 367.7h.9v.9h-.9zM87.3 368.4h.9v.9h-.9zM59.1 420.4h.9v.9h-.9zM65.0 403.7h.9v.9h-.9zM77.7 391.3h.9v.9h-.9zM110.0 376.7h.9v.9h-.9zM78.0 403.3h.9v.9h-.9zM117.4 407.6h.9v.9h-.9zM106.1 366.2h.9v.9h-.9zM109.3 391.1h.9v.9h-.9zM69.9 414.9h.9v.9h-.9zM112.2 404.8h.9v.9h-.9zM65.3 422.3h.9v.9h-.9zM70.4 421.4h.9v.9h-.9zM64.0 428.7h.9v.9h-.9zM77.1 391.0h.9v.9h-.9zM63.5 416.5h.9v.9h-.9zM78.7 390.7h.9v.9h-.9zM68.8 424.6h.9v.9h-.9zM88.0 366.9h.9v.9h-.9zM82.4 389.6h.9v.9h-.9zM105.6 381.9h.9v.9h-.9zM70.9 411.0h.9v.9h-.9zM72.1 411.7h.9v.9h-.9zM80.1 396.4h.9v.9h-.9zM81.8 379.4h.9v.9h-.9zM74.2 406.2h.9v.9h-.9zM92.0 362.2h.9v.9h-.9zM80.2 389.1h.9v.9h-.9zM80.3 397.3h.9v.9h-.9zM58.2 424.2h.9v.9h-.9zM67.5 438.5h.9v.9h-.9zM75.0 404.0h.9v.9h-.9zM111.6 393.8h.9v.9h-.9zM77.9 397.4h.9v.9h-.9zM85.0 377.3h.9v.9h-.9zM114.6 436.7h.9v.9h-.9zM114.9 403.3h.9v.9h-.9zM112.2 417.9h.9v.9h-.9zM88.3 376.2h.9v.9h-.9zM73.6 399.3h.9v.9h-.9zM77.6 393.0h.9v.9h-.9zM69.1 427.7h.9v.9h-.9zM84.7 388.9h.9v.9h-.9zM63.4 436.2h.9v.9h-.9zM66.2 428.7h.9v.9h-.9zM58.5 401.7h.9v.9h-.9zM86.4 380.5h.9v.9h-.9zM66.8 436.7h.9v.9h-.9zM66.2 433.9h.9v.9h-.9zM63.8 425.1h.9v.9h-.9zM106.3 379.7h.9v.9h-.9zM77.7 387.2h.9v.9h-.9zM108.7 393.3h.9v.9h-.9zM60.9 435.1h.9v.9h-.9zM64.5 436.6h.9v.9h-.9zM89.4 370.8h.9v.9h-.9zM73.1 413.3h.9v.9h-.9zM108.3 363.3h.9v.9h-.9zM80.4 397.0h.9v.9h-.9zM83.3 387.2h.9v.9h-.9zM104.3 366.6h.9v.9h-.9zM70.4 411.1h.9v.9h-.9zM105.8 366.0h.9v.9h-.9zM80.0 392.0h.9v.9h-.9zM115.8 425.5h.9v.9h-.9zM76.3 380.1h.9v.9h-.9zM59.5 437.7h.9v.9h-.9zM105.7 379.3h.9v.9h-.9zM112.4 429.8h.9v.9h-.9zM90.5 367.8h.9v.9h-.9zM63.7 407.4h.9v.9h-.9zM115.0 385.7h.9v.9h-.9zM112.2 440.6h.9v.9h-.9zM54.7 415.7h.9v.9h-.9zM124.9 413.1h.9v.9h-.9zM117.5 414.6h.9v.9h-.9zM131.9 432.2h.9v.9h-.9zM67.2 425.5h.9v.9h-.9zM110.4 398.6h.9v.9h-.9zM117.5 424.7h.9v.9h-.9zM69.4 408.3h.9v.9h-.9zM107.2 444.4h.9v.9h-.9zM65.6 429.2h.9v.9h-.9zM127.3 422.7h.9v.9h-.9zM132.6 422.5h.9v.9h-.9zM62.1 423.5h.9v.9h-.9zM120.6 430.8h.9v.9h-.9zM80.6 399.2h.9v.9h-.9zM121.9 438.4h.9v.9h-.9zM71.4 414.4h.9v.9h-.9zM109.7 392.4h.9v.9h-.9zM128.2 420.5h.9v.9h-.9zM111.3 406.0h.9v.9h-.9zM117.0 434.0h.9v.9h-.9zM111.7 416.3h.9v.9h-.9zM73.9 442.8h.9v.9h-.9zM114.0 437.9h.9v.9h-.9zM114.5 439.3h.9v.9h-.9zM109.6 409.4h.9v.9h-.9zM111.7 413.5h.9v.9h-.9zM116.6 411.7h.9v.9h-.9zM99.2 446.4h.9v.9h-.9zM126.0 439.3h.9v.9h-.9zM72.3 407.1h.9v.9h-.9zM58.9 436.5h.9v.9h-.9zM111.7 437.1h.9v.9h-.9zM110.3 406.1h.9v.9h-.9zM64.8 434.0h.9v.9h-.9zM108.5 442.6h.9v.9h-.9zM69.6 446.8h.9v.9h-.9zM65.2 410.2h.9v.9h-.9zM66.3 417.1h.9v.9h-.9zM72.1 417.7h.9v.9h-.9zM60.3 409.9h.9v.9h-.9zM65.6 441.8h.9v.9h-.9zM114.5 433.0h.9v.9h-.9zM115.1 416.4h.9v.9h-.9zM115.5 410.2h.9v.9h-.9zM111.8 412.6h.9v.9h-.9zM59.4 417.0h.9v.9h-.9zM65.5 415.4h.9v.9h-.9zM112.0 412.0h.9v.9h-.9zM66.2 413.4h.9v.9h-.9zM71.5 441.1h.9v.9h-.9zM115.6 423.1h.9v.9h-.9zM64.8 427.0h.9v.9h-.9zM64.6 413.1h.9v.9h-.9zM116.6 403.7h.9v.9h-.9zM126.5 441.1h.9v.9h-.9zM73.5 403.7h.9v.9h-.9zM57.0 433.2h.9v.9h-.9zM120.3 410.5h.9v.9h-.9zM67.4 446.7h.9v.9h-.9zM113.3 428.8h.9v.9h-.9zM121.0 436.7h.9v.9h-.9zM65.7 418.5h.9v.9h-.9zM60.9 416.5h.9v.9h-.9zM71.0 420.0h.9v.9h-.9zM116.0 417.3h.9v.9h-.9zM120.4 409.1h.9v.9h-.9zM115.9 417.5h.9v.9h-.9zM71.6 404.9h.9v.9h-.9zM114.1 409.3h.9v.9h-.9zM70.3 417.3h.9v.9h-.9zM127.7 435.8h.9v.9h-.9zM71.4 441.1h.9v.9h-.9zM80.7 390.6h.9v.9h-.9zM71.8 413.6h.9v.9h-.9zM112.1 420.6h.9v.9h-.9zM107.6 445.8h.9v.9h-.9zM71.3 410.5h.9v.9h-.9zM118.9 401.7h.9v.9h-.9zM75.5 444.2h.9v.9h-.9zM117.2 418.5h.9v.9h-.9zM68.7 416.1h.9v.9h-.9zM117.4 432.5h.9v.9h-.9zM112.5 420.1h.9v.9h-.9zM74.6 405.4h.9v.9h-.9zM77.3 447.1h.9v.9h-.9zM128.9 426.4h.9v.9h-.9zM72.6 440.2h.9v.9h-.9zM111.9 428.0h.9v.9h-.9zM57.5 409.9h.9v.9h-.9zM72.6 442.3h.9v.9h-.9zM113.8 424.4h.9v.9h-.9zM133.3 424.7h.9v.9h-.9zM112.8 405.9h.9v.9h-.9zM114.5 440.7h.9v.9h-.9zM66.6 430.4h.9v.9h-.9zM61.9 443.9h.9v.9h-.9zM54.5 424.7h.9v.9h-.9zM70.7 407.1h.9v.9h-.9zM80.8 384.9h.9v.9h-.9zM109.3 446.1h.9v.9h-.9zM62.2 422.1h.9v.9h-.9zM119.3 419.8h.9v.9h-.9zM114.4 444.1h.9v.9h-.9zM113.9 414.3h.9v.9h-.9zM62.0 429.4h.9v.9h-.9zM111.8 438.4h.9v.9h-.9zM69.1 419.4h.9v.9h-.9zM66.3 397.2h.9v.9h-.9zM121.1 440.6h.9v.9h-.9zM115.7 439.4h.9v.9h-.9zM135.4 427.1h.9v.9h-.9zM138.2 438.3h.9v.9h-.9zM62.6 444.1h.9v.9h-.9zM72.0 415.6h.9v.9h-.9zM71.6 406.6h.9v.9h-.9zM123.6 414.3h.9v.9h-.9zM73.4 406.0h.9v.9h-.9zM118.0 408.4h.9v.9h-.9zM73.7 408.7h.9v.9h-.9zM67.8 406.1h.9v.9h-.9zM72.1 415.3h.9v.9h-.9zM114.5 417.0h.9v.9h-.9zM66.9 439.9h.9v.9h-.9zM123.4 404.1h.9v.9h-.9zM130.0 431.6h.9v.9h-.9zM67.0 402.9h.9v.9h-.9zM61.1 430.3h.9v.9h-.9zM66.8 399.5h.9v.9h-.9zM112.4 416.9h.9v.9h-.9zM75.3 391.1h.9v.9h-.9zM124.9 423.0h.9v.9h-.9zM63.4 431.9h.9v.9h-.9zM71.0 403.8h.9v.9h-.9zM67.8 419.9h.9v.9h-.9zM57.9 444.7h.9v.9h-.9zM70.9 441.8h.9v.9h-.9zM72.8 446.8h.9v.9h-.9zM65.6 446.2h.9v.9h-.9zM70.4 442.9h.9v.9h-.9zM56.8 439.9h.9v.9h-.9zM104.5 447.2h.9v.9h-.9zM74.3 443.6h.9v.9h-.9zM72.0 447.1h.9v.9h-.9zM82.1 446.3h.9v.9h-.9zM70.8 442.7h.9v.9h-.9zM99.7 446.3h.9v.9h-.9zM76.7 443.9h.9v.9h-.9zM71.1 442.5h.9v.9h-.9zM117.9 438.6h.9v.9h-.9zM112.9 438.8h.9v.9h-.9zM105.0 446.2h.9v.9h-.9zM108.5 443.3h.9v.9h-.9zM71.2 441.0h.9v.9h-.9zM76.0 444.3h.9v.9h-.9zM118.5 443.1h.9v.9h-.9zM105.3 446.4h.9v.9h-.9zM103.3 446.8h.9v.9h-.9zM104.0 445.2h.9v.9h-.9zM109.6 443.5h.9v.9h-.9zM68.6 444.4h.9v.9h-.9zM75.5 442.9h.9v.9h-.9zM104.2 446.9h.9v.9h-.9zM133.8 446.4h.9v.9h-.9zM72.2 447.2h.9v.9h-.9zM70.9 443.7h.9v.9h-.9zM105.8 444.8h.9v.9h-.9zM69.4 438.3h.9v.9h-.9zM109.0 443.8h.9v.9h-.9zM106.4 445.2h.9v.9h-.9zM115.6 444.3h.9v.9h-.9zM71.8 447.3h.9v.9h-.9zM108.5 442.6h.9v.9h-.9zM82.3 446.3h.9v.9h-.9zM112.0 443.3h.9v.9h-.9zM61.2 444.1h.9v.9h-.9zM104.1 447.3h.9v.9h-.9zM107.7 446.5h.9v.9h-.9zM73.1 440.4h.9v.9h-.9zM103.2 447.1h.9v.9h-.9zM74.6 446.0h.9v.9h-.9zM109.0 447.1h.9v.9h-.9zM107.5 446.5h.9v.9h-.9zM70.5 444.5h.9v.9h-.9zM82.7 446.8h.9v.9h-.9zM109.0 443.4h.9v.9h-.9zM70.5 445.6h.9v.9h-.9zM78.3 444.9h.9v.9h-.9zM67.9 440.0h.9v.9h-.9zM78.1 446.0h.9v.9h-.9zM69.6 442.6h.9v.9h-.9zM76.8 443.5h.9v.9h-.9zM70.3 439.8h.9v.9h-.9zM67.2 442.9h.9v.9h-.9zM106.0 446.3h.9v.9h-.9zM68.9 396.9h.9v.9h-.9zM127.6 435.9h.9v.9h-.9zM136.3 445.8h.9v.9h-.9zM72.8 374.1h.9v.9h-.9zM71.0 361.3h.9v.9h-.9zM139.1 375.7h.9v.9h-.9zM65.9 411.1h.9v.9h-.9zM66.6 424.4h.9v.9h-.9zM113.4 427.3h.9v.9h-.9zM127.2 426.2h.9v.9h-.9zM125.5 407.9h.9v.9h-.9zM61.9 379.0h.9v.9h-.9zM118.6 440.3h.9v.9h-.9zM129.2 400.3h.9v.9h-.9zM70.8 403.4h.9v.9h-.9zM139.4 412.0h.9v.9h-.9zM107.5 364.8h.9v.9h-.9zM125.4 423.5h.9v.9h-.9zM112.0 395.1h.9v.9h-.9zM109.4 387.0h.9v.9h-.9zM118.3 373.8h.9v.9h-.9zM60.0 362.1h.9v.9h-.9zM136.1 415.8h.9v.9h-.9zM129.7 445.5h.9v.9h-.9zM127.6 428.7h.9v.9h-.9zM116.6 393.2h.9v.9h-.9zM113.2 375.4h.9v.9h-.9zM138.4 412.4h.9v.9h-.9zM138.4 442.9h.9v.9h-.9zM82.5 377.1h.9v.9h-.9zM130.5 383.8h.9v.9h-.9zM61.2 383.0h.9v.9h-.9zM56.0 418.3h.9v.9h-.9zM81.2 372.8h.9v.9h-.9zM69.7 382.9h.9v.9h-.9zM72.5 364.3h.9v.9h-.9zM137.3 398.3h.9v.9h-.9zM127.4 439.6h.9v.9h-.9zM62.9 432.0h.9v.9h-.9zM56.4 382.7h.9v.9h-.9zM60.9 373.0h.9v.9h-.9zM64.2 398.4h.9v.9h-.9zM127.1 387.7h.9v.9h-.9zM139.7 367.1h.9v.9h-.9zM74.0 365.2h.9v.9h-.9zM55.4 443.9h.9v.9h-.9zM56.5 376.0h.9v.9h-.9zM116.2 382.8h.9v.9h-.9z" fill="#6b6bbb" fill-opacity="0.55"/>
<path d="M67.2 434.2h.9v.9h-.9zM72.2 435.2h.9v.9h-.9zM72.6 426.2h.9v.9h-.9zM99.8 360.2h.9v.9h-.9zM108.4 408.7h.9v.9h-.9zM69.1 431.6h.9v.9h-.9zM70.7 428.7h.9v.9h-.9zM94.2 366.8h.9v.9h-.9zM73.0 433.3h.9v.9h-.9zM84.0 396.0h.9v.9h-.9zM71.8 434.9h.9v.9h-.9zM103.9 369.8h.9v.9h-.9zM78.7 415.4h.9v.9h-.9zM80.9 406.2h.9v.9h-.9zM69.5 429.5h.9v.9h-.9zM103.5 369.6h.9v.9h-.9zM102.1 366.8h.9v.9h-.9zM94.1 367.3h.9v.9h-.9zM96.7 362.4h.9v.9h-.9zM80.8 408.9h.9v.9h-.9zM103.2 368.5h.9v.9h-.9zM102.3 370.1h.9v.9h-.9zM92.2 368.5h.9v.9h-.9zM87.4 385.3h.9v.9h-.9zM79.4 408.0h.9v.9h-.9zM92.5 367.8h.9v.9h-.9zM103.6 376.7h.9v.9h-.9zM68.0 435.7h.9v.9h-.9zM81.1 406.5h.9v.9h-.9zM85.2 390.6h.9v.9h-.9zM106.9 400.5h.9v.9h-.9zM86.5 383.2h.9v.9h-.9zM99.7 366.1h.9v.9h-.9zM83.6 401.2h.9v.9h-.9zM72.2 426.3h.9v.9h-.9zM108.9 402.2h.9v.9h-.9zM102.4 370.1h.9v.9h-.9zM86.1 389.1h.9v.9h-.9zM83.4 395.9h.9v.9h-.9zM105.8 399.7h.9v.9h-.9zM73.7 435.9h.9v.9h-.9zM72.9 419.1h.9v.9h-.9zM92.4 364.9h.9v.9h-.9zM85.1 399.1h.9v.9h-.9zM105.9 400.8h.9v.9h-.9zM91.9 374.3h.9v.9h-.9zM107.0 387.2h.9v.9h-.9zM109.7 411.2h.9v.9h-.9zM90.9 385.9h.9v.9h-.9zM97.9 362.7h.9v.9h-.9zM83.2 396.4h.9v.9h-.9zM89.2 386.8h.9v.9h-.9zM81.6 407.5h.9v.9h-.9zM101.7 370.6h.9v.9h-.9zM104.6 376.5h.9v.9h-.9zM106.5 390.2h.9v.9h-.9zM101.6 374.2h.9v.9h-.9zM70.2 423.9h.9v.9h-.9zM92.4 379.6h.9v.9h-.9zM79.8 401.2h.9v.9h-.9zM80.0 402.9h.9v.9h-.9zM101.0 361.1h.9v.9h-.9zM72.4 436.1h.9v.9h-.9zM90.4 385.2h.9v.9h-.9zM83.3 397.5h.9v.9h-.9zM100.9 362.6h.9v.9h-.9zM83.2 396.5h.9v.9h-.9zM87.0 394.0h.9v.9h-.9zM88.7 382.4h.9v.9h-.9zM69.1 435.8h.9v.9h-.9zM92.0 371.6h.9v.9h-.9zM99.3 361.1h.9v.9h-.9zM92.9 369.7h.9v.9h-.9zM73.5 421.0h.9v.9h-.9zM83.7 402.2h.9v.9h-.9zM98.1 360.2h.9v.9h-.9zM93.4 365.4h.9v.9h-.9zM74.0 438.9h.9v.9h-.9zM85.2 393.5h.9v.9h-.9zM86.0 390.5h.9v.9h-.9zM80.5 408.1h.9v.9h-.9zM82.5 404.9h.9v.9h-.9zM77.0 406.6h.9v.9h-.9zM72.0 433.1h.9v.9h-.9zM94.7 363.0h.9v.9h-.9zM81.6 399.9h.9v.9h-.9zM81.7 395.9h.9v.9h-.9zM75.1 416.0h.9v.9h-.9zM91.0 385.2h.9v.9h-.9zM75.9 412.8h.9v.9h-.9zM109.1 409.0h.9v.9h-.9zM86.8 387.7h.9v.9h-.9zM108.6 405.3h.9v.9h-.9zM95.2 374.5h.9v.9h-.9zM106.1 387.9h.9v.9h-.9zM97.4 362.7h.9v.9h-.9zM109.7 414.3h.9v.9h-.9zM105.8 387.5h.9v.9h-.9zM103.9 382.0h.9v.9h-.9zM110.9 431.3h.9v.9h-.9zM104.4 380.7h.9v.9h-.9zM71.2 437.8h.9v.9h-.9zM71.0 427.1h.9v.9h-.9zM85.5 385.8h.9v.9h-.9zM97.0 366.0h.9v.9h-.9zM99.8 366.2h.9v.9h-.9zM87.8 391.2h.9v.9h-.9zM77.3 411.1h.9v.9h-.9zM85.8 392.8h.9v.9h-.9zM95.3 370.9h.9v.9h-.9zM106.2 400.5h.9v.9h-.9zM99.5 361.3h.9v.9h-.9zM92.3 380.5h.9v.9h-.9zM78.0 414.2h.9v.9h-.9zM104.4 369.9h.9v.9h-.9zM76.8 413.1h.9v.9h-.9zM71.7 433.4h.9v.9h-.9zM76.0 419.5h.9v.9h-.9zM94.7 371.5h.9v.9h-.9zM101.1 366.4h.9v.9h-.9zM71.5 425.9h.9v.9h-.9zM100.0 365.8h.9v.9h-.9zM74.9 436.8h.9v.9h-.9zM89.3 390.2h.9v.9h-.9zM100.2 364.2h.9v.9h-.9zM75.1 412.4h.9v.9h-.9zM109.5 436.6h.9v.9h-.9zM78.2 403.7h.9v.9h-.9zM93.4 375.7h.9v.9h-.9zM83.6 397.2h.9v.9h-.9zM96.7 366.3h.9v.9h-.9zM102.3 364.5h.9v.9h-.9zM101.4 361.0h.9v.9h-.9zM85.6 392.2h.9v.9h-.9zM73.5 418.9h.9v.9h-.9zM104.3 382.7h.9v.9h-.9zM107.4 408.6h.9v.9h-.9zM74.8 434.8h.9v.9h-.9zM105.6 387.1h.9v.9h-.9zM73.5 423.3h.9v.9h-.9zM74.6 411.0h.9v.9h-.9zM102.5 369.4h.9v.9h-.9zM75.8 407.1h.9v.9h-.9zM106.5 392.8h.9v.9h-.9zM84.8 398.7h.9v.9h-.9zM87.7 386.0h.9v.9h-.9zM74.0 412.4h.9v.9h-.9zM78.0 410.4h.9v.9h-.9zM72.3 424.3h.9v.9h-.9zM90.0 377.7h.9v.9h-.9zM71.4 428.5h.9v.9h-.9zM81.3 394.3h.9v.9h-.9zM88.8 388.7h.9v.9h-.9zM88.6 392.6h.9v.9h-.9zM97.3 361.7h.9v.9h-.9zM92.8 372.4h.9v.9h-.9zM93.7 375.8h.9v.9h-.9zM111.0 413.9h.9v.9h-.9zM95.1 361.7h.9v.9h-.9zM74.7 434.5h.9v.9h-.9zM82.7 396.5h.9v.9h-.9zM83.4 402.8h.9v.9h-.9zM90.3 381.8h.9v.9h-.9zM96.7 363.6h.9v.9h-.9zM91.4 380.3h.9v.9h-.9zM94.8 373.1h.9v.9h-.9zM71.8 433.8h.9v.9h-.9zM93.3 380.6h.9v.9h-.9zM70.0 425.0h.9v.9h-.9zM87.5 392.5h.9v.9h-.9zM84.1 393.9h.9v.9h-.9zM92.0 373.6h.9v.9h-.9zM107.1 386.1h.9v.9h-.9zM68.7 432.3h.9v.9h-.9zM101.0 364.1h.9v.9h-.9zM92.1 374.2h.9v.9h-.9zM104.4 376.4h.9v.9h-.9zM68.5 433.3h.9v.9h-.9zM83.7 403.4h.9v.9h-.9zM106.0 387.4h.9v.9h-.9zM105.1 378.2h.9v.9h-.9zM72.4 427.9h.9v.9h-.9zM70.0 424.1h.9v.9h-.9zM95.8 359.9h.9v.9h-.9zM69.0 434.0h.9v.9h-.9zM105.0 384.9h.9v.9h-.9zM83.5 400.7h.9v.9h-.9zM102.6 362.0h.9v.9h-.9zM109.7 426.3h.9v.9h-.9zM110.4 415.9h.9v.9h-.9zM75.9 438.7h.9v.9h-.9zM109.8 421.6h.9v.9h-.9zM80.6 408.9h.9v.9h-.9zM72.0 426.8h.9v.9h-.9zM76.3 407.5h.9v.9h-.9zM67.7 435.1h.9v.9h-.9zM93.2 379.8h.9v.9h-.9zM84.0 394.2h.9v.9h-.9zM93.6 369.4h.9v.9h-.9zM105.4 374.6h.9v.9h-.9zM96.6 366.7h.9v.9h-.9zM81.6 401.7h.9v.9h-.9zM103.6 385.0h.9v.9h-.9zM98.7 360.4h.9v.9h-.9zM110.6 414.6h.9v.9h-.9zM110.8 430.5h.9v.9h-.9zM104.8 371.6h.9v.9h-.9zM94.1 372.8h.9v.9h-.9zM88.6 386.9h.9v.9h-.9zM72.0 421.1h.9v.9h-.9zM110.3 426.8h.9v.9h-.9zM108.8 408.4h.9v.9h-.9zM101.1 366.1h.9v.9h-.9zM86.8 388.7h.9v.9h-.9zM84.3 402.1h.9v.9h-.9zM102.0 367.8h.9v.9h-.9zM81.5 401.2h.9v.9h-.9zM82.3 406.5h.9v.9h-.9zM92.5 375.4h.9v.9h-.9zM102.1 374.3h.9v.9h-.9zM74.0 422.9h.9v.9h-.9zM95.9 366.1h.9v.9h-.9zM78.1 410.8h.9v.9h-.9zM107.5 409.4h.9v.9h-.9zM84.3 401.6h.9v.9h-.9zM71.6 431.9h.9v.9h-.9zM84.7 400.0h.9v.9h-.9zM84.5 397.9h.9v.9h-.9zM102.9 363.9h.9v.9h-.9zM78.2 412.0h.9v.9h-.9zM80.7 410.7h.9v.9h-.9zM85.8 386.0h.9v.9h-.9zM104.1 391.4h.9v.9h-.9zM86.6 396.1h.9v.9h-.9zM88.2 392.8h.9v.9h-.9zM69.0 431.7h.9v.9h-.9zM110.0 433.9h.9v.9h-.9zM108.5 403.3h.9v.9h-.9zM88.0 391.4h.9v.9h-.9zM97.7 360.6h.9v.9h-.9zM70.0 428.3h.9v.9h-.9zM103.3 372.1h.9v.9h-.9zM108.5 405.1h.9v.9h-.9zM111.0 438.3h.9v.9h-.9zM109.5 410.3h.9v.9h-.9zM85.2 401.3h.9v.9h-.9zM79.5 406.3h.9v.9h-.9zM105.4 400.0h.9v.9h-.9zM100.8 365.6h.9v.9h-.9zM76.7 419.7h.9v.9h-.9zM108.1 404.9h.9v.9h-.9zM78.5 405.8h.9v.9h-.9zM101.9 364.7h.9v.9h-.9zM81.8 401.0h.9v.9h-.9zM99.3 360.3h.9v.9h-.9zM87.0 391.4h.9v.9h-.9zM98.5 360.1h.9v.9h-.9zM100.1 363.5h.9v.9h-.9zM94.4 366.7h.9v.9h-.9zM109.5 421.0h.9v.9h-.9zM81.3 406.1h.9v.9h-.9zM86.3 391.7h.9v.9h-.9zM91.9 375.1h.9v.9h-.9zM93.4 365.0h.9v.9h-.9zM91.7 380.2h.9v.9h-.9zM85.5 386.4h.9v.9h-.9zM78.0 413.3h.9v.9h-.9zM101.3 364.2h.9v.9h-.9zM89.2 386.5h.9v.9h-.9zM88.8 393.2h.9v.9h-.9zM86.9 391.9h.9v.9h-.9zM110.3 428.9h.9v.9h-.9zM70.4 430.2h.9v.9h-.9zM71.4 431.7h.9v.9h-.9zM83.4 397.4h.9v.9h-.9zM109.5 418.3h.9v.9h-.9zM95.2 374.8h.9v.9h-.9zM92.0 369.1h.9v.9h-.9zM77.0 414.0h.9v.9h-.9zM94.8 365.6h.9v.9h-.9zM93.8 376.8h.9v.9h-.9zM99.0 359.7h.9v.9h-.9zM90.3 381.0h.9v.9h-.9zM103.7 392.8h.9v.9h-.9zM103.2 368.7h.9v.9h-.9zM78.4 409.9h.9v.9h-.9zM86.0 383.6h.9v.9h-.9zM83.2 397.2h.9v.9h-.9zM92.5 376.7h.9v.9h-.9zM95.1 363.7h.9v.9h-.9zM73.4 436.3h.9v.9h-.9zM71.9 427.5h.9v.9h-.9zM91.8 381.0h.9v.9h-.9zM81.9 392.5h.9v.9h-.9zM101.7 362.7h.9v.9h-.9zM103.7 385.8h.9v.9h-.9zM70.1 435.9h.9v.9h-.9zM93.2 368.0h.9v.9h-.9zM80.0 403.5h.9v.9h-.9zM95.8 364.1h.9v.9h-.9zM74.5 436.1h.9v.9h-.9zM83.0 399.4h.9v.9h-.9zM86.6 383.2h.9v.9h-.9zM88.7 383.6h.9v.9h-.9zM72.4 433.2h.9v.9h-.9zM110.9 421.4h.9v.9h-.9zM69.3 435.7h.9v.9h-.9zM96.8 363.3h.9v.9h-.9zM83.3 398.4h.9v.9h-.9zM98.2 361.7h.9v.9h-.9zM86.3 392.0h.9v.9h-.9zM77.6 409.3h.9v.9h-.9zM93.9 367.8h.9v.9h-.9zM81.5 405.5h.9v.9h-.9zM87.3 383.8h.9v.9h-.9zM109.8 421.7h.9v.9h-.9zM107.8 410.2h.9v.9h-.9zM109.6 437.4h.9v.9h-.9zM109.1 411.3h.9v.9h-.9zM104.1 370.0h.9v.9h-.9zM91.8 379.3h.9v.9h-.9zM88.9 389.2h.9v.9h-.9zM70.1 430.4h.9v.9h-.9zM84.3 391.3h.9v.9h-.9zM82.3 407.1h.9v.9h-.9zM82.1 395.4h.9v.9h-.9zM71.7 426.5h.9v.9h-.9zM90.5 385.9h.9v.9h-.9zM101.8 374.9h.9v.9h-.9zM91.6 380.0h.9v.9h-.9zM107.6 438.2h.9v.9h-.9zM91.2 376.6h.9v.9h-.9zM93.5 367.2h.9v.9h-.9zM100.7 360.5h.9v.9h-.9zM97.3 363.8h.9v.9h-.9zM87.8 384.9h.9v.9h-.9zM81.0 406.3h.9v.9h-.9zM94.2 372.1h.9v.9h-.9zM91.9 372.3h.9v.9h-.9zM106.3 395.8h.9v.9h-.9zM107.4 413.6h.9v.9h-.9zM68.6 430.1h.9v.9h-.9zM80.2 408.6h.9v.9h-.9zM96.9 366.7h.9v.9h-.9zM81.5 392.0h.9v.9h-.9zM94.0 372.7h.9v.9h-.9zM106.5 391.6h.9v.9h-.9zM90.4 378.8h.9v.9h-.9zM78.3 409.0h.9v.9h-.9zM92.6 368.1h.9v.9h-.9zM71.7 425.2h.9v.9h-.9zM109.5 428.9h.9v.9h-.9zM93.0 379.2h.9v.9h-.9zM77.1 438.8h.9v.9h-.9zM79.7 409.0h.9v.9h-.9zM101.0 366.4h.9v.9h-.9zM70.5 430.3h.9v.9h-.9zM81.0 406.3h.9v.9h-.9zM70.3 425.8h.9v.9h-.9zM90.2 384.8h.9v.9h-.9zM93.0 373.0h.9v.9h-.9zM83.3 402.4h.9v.9h-.9zM72.7 420.0h.9v.9h-.9zM107.7 406.4h.9v.9h-.9zM72.0 419.5h.9v.9h-.9zM96.9 363.6h.9v.9h-.9zM74.2 411.4h.9v.9h-.9zM71.6 430.3h.9v.9h-.9zM108.3 436.8h.9v.9h-.9zM86.4 395.3h.9v.9h-.9zM75.8 408.9h.9v.9h-.9zM79.8 404.4h.9v.9h-.9zM92.6 369.9h.9v.9h-.9zM104.3 392.2h.9v.9h-.9zM93.6 375.3h.9v.9h-.9zM108.0 404.0h.9v.9h-.9zM109.5 425.0h.9v.9h-.9zM103.8 382.6h.9v.9h-.9zM73.7 438.3h.9v.9h-.9zM106.0 388.6h.9v.9h-.9zM79.9 409.6h.9v.9h-.9zM94.1 371.2h.9v.9h-.9zM102.1 360.7h.9v.9h-.9zM73.0 434.9h.9v.9h-.9zM101.5 369.1h.9v.9h-.9zM106.1 386.3h.9v.9h-.9zM108.6 438.7h.9v.9h-.9zM110.3 424.0h.9v.9h-.9zM103.6 378.7h.9v.9h-.9zM84.9 397.1h.9v.9h-.9zM70.5 435.6h.9v.9h-.9zM100.2 362.2h.9v.9h-.9zM81.3 394.5h.9v.9h-.9zM92.7 376.1h.9v.9h-.9zM86.2 389.4h.9v.9h-.9zM73.0 436.2h.9v.9h-.9zM109.9 427.8h.9v.9h-.9zM71.3 421.1h.9v.9h-.9zM96.3 363.7h.9v.9h-.9zM107.5 407.1h.9v.9h-.9zM92.0 367.2h.9v.9h-.9zM90.2 381.1h.9v.9h-.9zM105.2 379.1h.9v.9h-.9zM110.1 418.0h.9v.9h-.9zM87.5 384.3h.9v.9h-.9zM104.3 372.5h.9v.9h-.9zM71.3 418.5h.9v.9h-.9zM90.0 382.3h.9v.9h-.9zM82.8 403.5h.9v.9h-.9zM101.9 364.7h.9v.9h-.9zM86.8 396.3h.9v.9h-.9zM73.2 420.5h.9v.9h-.9zM69.6 432.9h.9v.9h-.9zM73.8 421.1h.9v.9h-.9zM93.6 366.2h.9v.9h-.9zM82.0 405.4h.9v.9h-.9zM74.4 439.3h.9v.9h-.9zM106.1 398.1h.9v.9h-.9zM79.1 406.6h.9v.9h-.9zM108.0 397.4h.9v.9h-.9zM102.7 373.9h.9v.9h-.9zM79.1 406.3h.9v.9h-.9zM109.2 403.9h.9v.9h-.9zM78.1 406.4h.9v.9h-.9zM100.1 366.7h.9v.9h-.9zM82.3 392.0h.9v.9h-.9zM100.8 366.6h.9v.9h-.9zM85.0 393.9h.9v.9h-.9zM72.5 431.1h.9v.9h-.9zM100.4 363.5h.9v.9h-.9zM73.5 413.8h.9v.9h-.9zM107.6 401.5h.9v.9h-.9zM70.3 435.1h.9v.9h-.9zM76.7 410.3h.9v.9h-.9zM77.7 406.4h.9v.9h-.9zM102.9 361.3h.9v.9h-.9zM96.5 361.4h.9v.9h-.9zM90.2 377.4h.9v.9h-.9zM108.5 412.1h.9v.9h-.9zM94.4 362.7h.9v.9h-.9zM101.0 363.7h.9v.9h-.9zM106.9 400.6h.9v.9h-.9zM107.7 404.4h.9v.9h-.9zM71.3 429.5h.9v.9h-.9zM97.2 364.5h.9v.9h-.9zM106.6 399.9h.9v.9h-.9zM101.4 367.4h.9v.9h-.9zM67.7 435.1h.9v.9h-.9zM82.1 404.2h.9v.9h-.9zM100.2 361.5h.9v.9h-.9zM91.9 373.0h.9v.9h-.9zM76.2 439.4h.9v.9h-.9zM93.0 364.2h.9v.9h-.9zM75.1 434.3h.9v.9h-.9zM104.0 374.7h.9v.9h-.9zM89.8 379.1h.9v.9h-.9zM87.3 385.8h.9v.9h-.9zM79.3 407.5h.9v.9h-.9zM72.5 420.7h.9v.9h-.9zM92.8 364.7h.9v.9h-.9zM102.4 361.2h.9v.9h-.9zM97.8 364.7h.9v.9h-.9zM73.6 437.3h.9v.9h-.9zM102.9 372.6h.9v.9h-.9zM95.0 370.2h.9v.9h-.9zM102.6 368.3h.9v.9h-.9zM90.6 379.3h.9v.9h-.9zM94.3 376.3h.9v.9h-.9zM71.1 432.5h.9v.9h-.9zM105.7 400.4h.9v.9h-.9zM107.8 413.4h.9v.9h-.9zM110.2 436.9h.9v.9h-.9zM95.3 375.1h.9v.9h-.9zM78.4 410.0h.9v.9h-.9zM96.4 360.4h.9v.9h-.9zM81.6 406.4h.9v.9h-.9zM87.5 379.8h.9v.9h-.9zM92.3 379.2h.9v.9h-.9zM91.5 381.0h.9v.9h-.9zM93.5 365.2h.9v.9h-.9zM81.4 405.4h.9v.9h-.9zM69.9 433.4h.9v.9h-.9zM99.9 361.2h.9v.9h-.9zM94.6 361.7h.9v.9h-.9zM91.5 374.6h.9v.9h-.9zM106.5 400.5h.9v.9h-.9zM107.9 397.8h.9v.9h-.9zM97.1 366.0h.9v.9h-.9zM104.0 382.1h.9v.9h-.9zM77.4 410.7h.9v.9h-.9zM84.2 393.0h.9v.9h-.9zM94.1 362.8h.9v.9h-.9zM80.1 403.0h.9v.9h-.9zM111.0 426.6h.9v.9h-.9zM110.9 430.2h.9v.9h-.9zM74.5 411.3h.9v.9h-.9zM74.2 420.6h.9v.9h-.9zM87.7 390.1h.9v.9h-.9zM101.5 366.9h.9v.9h-.9zM109.3 409.2h.9v.9h-.9zM91.8 372.7h.9v.9h-.9zM108.0 399.0h.9v.9h-.9zM99.8 360.7h.9v.9h-.9zM78.1 406.8h.9v.9h-.9zM98.4 361.4h.9v.9h-.9zM96.9 362.4h.9v.9h-.9zM97.0 364.6h.9v.9h-.9zM91.2 375.2h.9v.9h-.9zM105.6 398.2h.9v.9h-.9zM73.2 431.8h.9v.9h-.9zM83.5 445.8h.9v.9h-.9zM74.0 421.4h.9v.9h-.9zM111.1 423.4h.9v.9h-.9zM79.0 412.2h.9v.9h-.9zM110.6 415.3h.9v.9h-.9zM72.8 436.2h.9v.9h-.9zM73.2 418.7h.9v.9h-.9zM109.6 432.1h.9v.9h-.9zM109.6 421.4h.9v.9h-.9zM95.1 444.5h.9v.9h-.9zM79.7 405.4h.9v.9h-.9zM105.4 400.9h.9v.9h-.9zM76.5 414.9h.9v.9h-.9zM109.2 411.0h.9v.9h-.9zM111.0 419.2h.9v.9h-.9zM74.7 410.5h.9v.9h-.9zM108.8 436.9h.9v.9h-.9zM73.3 435.0h.9v.9h-.9zM98.2 444.4h.9v.9h-.9zM75.2 415.7h.9v.9h-.9zM110.8 421.7h.9v.9h-.9zM76.5 440.6h.9v.9h-.9zM73.1 421.1h.9v.9h-.9zM76.0 419.7h.9v.9h-.9zM100.0 443.3h.9v.9h-.9zM72.4 427.4h.9v.9h-.9zM78.1 405.4h.9v.9h-.9zM82.4 445.3h.9v.9h-.9zM72.9 426.0h.9v.9h-.9zM110.0 420.4h.9v.9h-.9zM84.2 399.1h.9v.9h-.9zM106.2 443.3h.9v.9h-.9zM74.3 415.6h.9v.9h-.9zM83.4 397.7h.9v.9h-.9zM79.7 442.0h.9v.9h-.9zM105.1 392.4h.9v.9h-.9zM73.3 410.9h.9v.9h-.9zM75.4 412.6h.9v.9h-.9zM85.6 443.0h.9v.9h-.9zM88.4 386.3h.9v.9h-.9zM77.3 412.4h.9v.9h-.9zM71.2 433.0h.9v.9h-.9zM72.5 424.1h.9v.9h-.9zM110.6 415.8h.9v.9h-.9zM86.2 384.9h.9v.9h-.9zM73.5 421.3h.9v.9h-.9zM83.0 444.7h.9v.9h-.9zM78.9 410.4h.9v.9h-.9zM77.7 413.6h.9v.9h-.9zM82.2 407.2h.9v.9h-.9zM78.9 414.1h.9v.9h-.9zM111.4 436.9h.9v.9h-.9zM110.0 439.6h.9v.9h-.9zM80.2 401.9h.9v.9h-.9zM105.8 397.2h.9v.9h-.9zM110.7 438.9h.9v.9h-.9zM77.9 412.5h.9v.9h-.9zM75.0 414.6h.9v.9h-.9zM110.1 417.5h.9v.9h-.9zM110.9 433.1h.9v.9h-.9zM82.3 406.9h.9v.9h-.9zM75.4 416.7h.9v.9h-.9zM80.5 445.8h.9v.9h-.9zM72.7 423.4h.9v.9h-.9zM82.7 393.9h.9v.9h-.9zM81.1 402.5h.9v.9h-.9zM81.6 444.3h.9v.9h-.9zM84.0 444.5h.9v.9h-.9zM72.8 424.4h.9v.9h-.9zM80.6 401.8h.9v.9h-.9zM93.5 446.2h.9v.9h-.9zM72.3 421.3h.9v.9h-.9zM106.6 400.1h.9v.9h-.9zM107.4 412.9h.9v.9h-.9zM76.6 438.3h.9v.9h-.9zM91.1 445.9h.9v.9h-.9zM81.1 444.3h.9v.9h-.9zM82.8 444.3h.9v.9h-.9zM76.5 438.3h.9v.9h-.9zM86.9 447.3h.9v.9h-.9zM86.8 443.5h.9v.9h-.9zM76.5 439.1h.9v.9h-.9zM91.5 444.3h.9v.9h-.9zM86.3 447.0h.9v.9h-.9zM111.1 439.7h.9v.9h-.9zM98.6 445.2h.9v.9h-.9zM97.6 445.3h.9v.9h-.9zM104.1 443.0h.9v.9h-.9zM81.1 440.3h.9v.9h-.9zM96.3 444.9h.9v.9h-.9zM77.4 441.4h.9v.9h-.9zM77.2 441.7h.9v.9h-.9zM97.8 446.0h.9v.9h-.9zM87.6 446.8h.9v.9h-.9zM105.8 440.7h.9v.9h-.9zM72.5 439.8h.9v.9h-.9zM72.4 440.1h.9v.9h-.9zM105.1 442.1h.9v.9h-.9zM81.7 442.9h.9v.9h-.9zM89.4 444.6h.9v.9h-.9zM93.2 447.2h.9v.9h-.9zM100.6 445.3h.9v.9h-.9zM84.6 444.0h.9v.9h-.9zM79.5 442.9h.9v.9h-.9zM99.2 445.2h.9v.9h-.9zM79.3 441.8h.9v.9h-.9zM79.5 445.1h.9v.9h-.9zM88.0 446.4h.9v.9h-.9zM108.6 439.1h.9v.9h-.9zM107.7 440.9h.9v.9h-.9zM101.0 446.1h.9v.9h-.9zM92.6 445.8h.9v.9h-.9zM90.7 444.3h.9v.9h-.9zM92.0 446.2h.9v.9h-.9zM100.3 443.1h.9v.9h-.9zM85.8 445.4h.9v.9h-.9zM75.8 440.6h.9v.9h-.9zM78.2 442.7h.9v.9h-.9zM94.7 444.6h.9v.9h-.9zM78.5 443.0h.9v.9h-.9zM103.3 444.6h.9v.9h-.9zM92.1 444.4h.9v.9h-.9zM71.2 438.4h.9v.9h-.9zM95.4 445.4h.9v.9h-.9zM81.0 441.7h.9v.9h-.9zM78.6 440.8h.9v.9h-.9zM84.9 445.1h.9v.9h-.9zM94.4 446.4h.9v.9h-.9zM84.9 443.5h.9v.9h-.9zM81.0 443.4h.9v.9h-.9zM92.4 445.8h.9v.9h-.9zM87.8 447.1h.9v.9h-.9zM83.5 443.2h.9v.9h-.9zM80.6 443.2h.9v.9h-.9zM80.4 445.4h.9v.9h-.9zM87.2 443.5h.9v.9h-.9zM105.0 441.4h.9v.9h-.9zM94.5 444.5h.9v.9h-.9zM94.0 445.6h.9v.9h-.9zM74.0 440.2h.9v.9h-.9zM93.6 446.6h.9v.9h-.9zM86.8 442.3h.9v.9h-.9zM103.7 441.3h.9v.9h-.9zM93.1 446.8h.9v.9h-.9zM94.0 444.9h.9v.9h-.9zM89.5 446.0h.9v.9h-.9zM88.9 445.2h.9v.9h-.9zM84.8 442.6h.9v.9h-.9zM89.5 444.5h.9v.9h-.9zM82.7 442.2h.9v.9h-.9zM83.9 442.5h.9v.9h-.9zM100.4 442.7h.9v.9h-.9zM84.3 445.0h.9v.9h-.9zM99.6 446.0h.9v.9h-.9zM100.0 444.7h.9v.9h-.9zM100.2 445.6h.9v.9h-.9zM74.2 439.3h.9v.9h-.9zM93.7 445.3h.9v.9h-.9zM89.8 444.3h.9v.9h-.9zM103.3 445.4h.9v.9h-.9zM84.2 446.4h.9v.9h-.9zM108.9 438.2h.9v.9h-.9zM94.1 368.9h.9v.9h-.9zM83.9 391.7h.9v.9h-.9zM108.2 406.5h.9v.9h-.9zM67.7 434.2h.9v.9h-.9zM109.5 438.7h.9v.9h-.9zM75.5 415.8h.9v.9h-.9zM108.1 413.6h.9v.9h-.9zM78.6 412.0h.9v.9h-.9zM68.7 435.3h.9v.9h-.9zM94.4 361.3h.9v.9h-.9zM89.7 383.5h.9v.9h-.9zM105.2 441.4h.9v.9h-.9zM108.8 440.2h.9v.9h-.9zM71.9 433.0h.9v.9h-.9zM103.5 374.6h.9v.9h-.9z" fill="#6667b7" fill-opacity="0.55"/>
<path d="M73.4 429.3h.9v.9h-.9zM75.2 425.7h.9v.9h-.9zM76.9 432.0h.9v.9h-.9zM76.4 435.5h.9v.9h-.9zM74.8 424.2h.9v.9h-.9zM78.7 418.6h.9v.9h-.9zM78.9 437.3h.9v.9h-.9zM81.3 415.3h.9v.9h-.9zM96.3 368.4h.9v.9h-.9zM75.6 422.1h.9v.9h-.9zM77.4 436.7h.9v.9h-.9zM101.6 380.2h.9v.9h-.9zM76.1 433.4h.9v.9h-.9zM89.4 393.9h.9v.9h-.9zM104.9 400.9h.9v.9h-.9zM97.1 370.2h.9v.9h-.9zM91.7 385.3h.9v.9h-.9zM97.7 370.4h.9v.9h-.9zM105.9 410.4h.9v.9h-.9zM79.7 438.6h.9v.9h-.9zM101.4 379.4h.9v.9h-.9zM102.4 384.9h.9v.9h-.9zM84.1 410.5h.9v.9h-.9zM90.2 395.7h.9v.9h-.9zM100.5 384.6h.9v.9h-.9zM96.0 372.1h.9v.9h-.9zM80.1 414.9h.9v.9h-.9zM97.3 380.2h.9v.9h-.9zM102.7 380.3h.9v.9h-.9zM89.9 390.7h.9v.9h-.9zM103.1 380.0h.9v.9h-.9zM100.8 379.1h.9v.9h-.9zM85.0 410.8h.9v.9h-.9zM90.8 387.3h.9v.9h-.9zM101.0 370.6h.9v.9h-.9zM95.5 379.3h.9v.9h-.9zM84.7 407.2h.9v.9h-.9zM93.4 386.4h.9v.9h-.9zM77.7 417.1h.9v.9h-.9zM102.1 387.4h.9v.9h-.9zM74.4 431.0h.9v.9h-.9zM99.5 384.1h.9v.9h-.9zM105.6 436.4h.9v.9h-.9zM93.9 377.8h.9v.9h-.9zM100.2 383.8h.9v.9h-.9zM102.2 388.0h.9v.9h-.9zM98.0 376.4h.9v.9h-.9zM92.1 389.7h.9v.9h-.9zM83.8 409.4h.9v.9h-.9zM105.9 402.5h.9v.9h-.9zM100.1 371.4h.9v.9h-.9zM100.4 369.2h.9v.9h-.9zM90.6 394.1h.9v.9h-.9zM104.0 398.7h.9v.9h-.9zM99.6 374.2h.9v.9h-.9zM85.2 411.6h.9v.9h-.9zM104.1 398.1h.9v.9h-.9zM91.0 394.6h.9v.9h-.9zM76.3 436.4h.9v.9h-.9zM104.9 389.6h.9v.9h-.9zM87.7 393.6h.9v.9h-.9zM96.3 367.6h.9v.9h-.9zM92.4 391.6h.9v.9h-.9zM104.9 398.6h.9v.9h-.9zM107.1 437.5h.9v.9h-.9zM101.4 382.8h.9v.9h-.9zM93.6 385.8h.9v.9h-.9zM102.5 380.9h.9v.9h-.9zM83.4 410.1h.9v.9h-.9zM92.7 386.6h.9v.9h-.9zM98.3 376.2h.9v.9h-.9zM96.1 380.7h.9v.9h-.9zM107.7 419.3h.9v.9h-.9zM100.7 382.2h.9v.9h-.9zM85.2 408.5h.9v.9h-.9zM96.5 375.8h.9v.9h-.9zM84.0 408.6h.9v.9h-.9zM97.2 368.6h.9v.9h-.9zM94.7 382.1h.9v.9h-.9zM93.7 380.2h.9v.9h-.9zM79.2 435.1h.9v.9h-.9zM94.2 379.4h.9v.9h-.9zM101.0 381.2h.9v.9h-.9zM78.9 419.4h.9v.9h-.9zM104.8 397.7h.9v.9h-.9zM102.8 375.7h.9v.9h-.9zM82.0 412.9h.9v.9h-.9zM97.8 373.5h.9v.9h-.9zM73.7 427.7h.9v.9h-.9zM100.1 375.8h.9v.9h-.9zM107.4 437.1h.9v.9h-.9zM99.2 369.1h.9v.9h-.9zM108.4 420.8h.9v.9h-.9zM105.1 390.7h.9v.9h-.9zM88.9 398.0h.9v.9h-.9zM100.8 384.6h.9v.9h-.9zM76.7 430.0h.9v.9h-.9zM90.4 390.5h.9v.9h-.9zM76.0 425.5h.9v.9h-.9zM99.9 367.7h.9v.9h-.9zM107.6 427.8h.9v.9h-.9zM77.1 425.7h.9v.9h-.9zM102.4 394.0h.9v.9h-.9zM100.3 381.1h.9v.9h-.9zM97.0 368.0h.9v.9h-.9zM99.5 369.3h.9v.9h-.9zM100.3 373.5h.9v.9h-.9zM95.3 381.6h.9v.9h-.9zM78.3 423.2h.9v.9h-.9zM95.4 377.2h.9v.9h-.9zM93.7 388.9h.9v.9h-.9zM102.4 381.2h.9v.9h-.9zM108.5 429.6h.9v.9h-.9zM89.7 393.1h.9v.9h-.9zM88.7 401.2h.9v.9h-.9zM97.7 376.3h.9v.9h-.9zM100.4 371.1h.9v.9h-.9zM105.4 408.5h.9v.9h-.9zM90.3 392.2h.9v.9h-.9zM101.8 375.2h.9v.9h-.9zM78.6 418.0h.9v.9h-.9zM99.2 374.0h.9v.9h-.9zM104.1 398.9h.9v.9h-.9zM101.7 391.1h.9v.9h-.9zM80.3 414.0h.9v.9h-.9zM99.7 377.5h.9v.9h-.9zM108.5 430.2h.9v.9h-.9zM75.7 430.5h.9v.9h-.9zM86.3 402.0h.9v.9h-.9zM76.6 431.9h.9v.9h-.9zM93.1 392.8h.9v.9h-.9zM92.1 383.5h.9v.9h-.9zM102.0 391.2h.9v.9h-.9zM88.0 395.4h.9v.9h-.9zM107.8 429.7h.9v.9h-.9zM97.3 377.2h.9v.9h-.9zM89.5 395.6h.9v.9h-.9zM102.0 376.3h.9v.9h-.9zM96.2 371.1h.9v.9h-.9zM73.8 433.7h.9v.9h-.9zM103.4 388.9h.9v.9h-.9zM100.8 377.0h.9v.9h-.9zM101.5 381.8h.9v.9h-.9zM98.7 379.1h.9v.9h-.9zM88.1 394.3h.9v.9h-.9zM98.4 375.1h.9v.9h-.9zM91.7 393.0h.9v.9h-.9zM75.7 435.1h.9v.9h-.9zM96.2 381.5h.9v.9h-.9zM99.8 371.7h.9v.9h-.9zM94.8 389.0h.9v.9h-.9zM87.4 397.5h.9v.9h-.9zM96.8 376.5h.9v.9h-.9zM106.2 413.4h.9v.9h-.9zM80.0 417.5h.9v.9h-.9zM100.1 372.5h.9v.9h-.9zM105.5 436.1h.9v.9h-.9zM94.9 388.8h.9v.9h-.9zM76.2 430.4h.9v.9h-.9zM98.3 373.6h.9v.9h-.9zM104.4 399.8h.9v.9h-.9zM92.5 382.7h.9v.9h-.9zM109.2 415.3h.9v.9h-.9zM89.5 388.1h.9v.9h-.9zM107.0 436.1h.9v.9h-.9zM75.1 425.3h.9v.9h-.9zM108.1 435.0h.9v.9h-.9zM78.2 417.4h.9v.9h-.9zM80.4 412.7h.9v.9h-.9zM96.8 367.3h.9v.9h-.9zM98.4 378.5h.9v.9h-.9zM96.9 377.4h.9v.9h-.9zM100.7 376.2h.9v.9h-.9zM100.6 381.4h.9v.9h-.9zM98.1 375.8h.9v.9h-.9zM75.4 437.3h.9v.9h-.9zM79.3 415.2h.9v.9h-.9zM92.6 382.8h.9v.9h-.9zM97.1 379.3h.9v.9h-.9zM102.0 388.1h.9v.9h-.9zM97.2 370.8h.9v.9h-.9zM101.3 366.8h.9v.9h-.9zM107.8 434.7h.9v.9h-.9zM100.9 368.4h.9v.9h-.9zM78.0 420.2h.9v.9h-.9zM84.9 407.0h.9v.9h-.9zM90.9 394.2h.9v.9h-.9zM93.0 387.1h.9v.9h-.9zM89.2 398.2h.9v.9h-.9zM101.6 378.6h.9v.9h-.9zM76.6 421.8h.9v.9h-.9zM105.7 407.1h.9v.9h-.9zM102.7 378.1h.9v.9h-.9zM85.0 406.0h.9v.9h-.9zM96.9 371.1h.9v.9h-.9zM105.3 397.8h.9v.9h-.9zM103.2 377.5h.9v.9h-.9zM83.3 414.2h.9v.9h-.9zM96.6 378.3h.9v.9h-.9zM80.2 417.1h.9v.9h-.9zM96.8 384.2h.9v.9h-.9zM73.8 426.5h.9v.9h-.9zM82.0 408.9h.9v.9h-.9zM98.2 372.0h.9v.9h-.9zM73.6 430.4h.9v.9h-.9zM103.1 392.2h.9v.9h-.9zM87.0 406.3h.9v.9h-.9zM97.8 369.2h.9v.9h-.9zM91.6 385.4h.9v.9h-.9zM78.9 418.8h.9v.9h-.9zM90.5 396.3h.9v.9h-.9zM77.8 419.0h.9v.9h-.9zM99.3 377.1h.9v.9h-.9zM99.5 371.4h.9v.9h-.9zM105.8 401.7h.9v.9h-.9zM98.5 380.3h.9v.9h-.9zM103.1 394.4h.9v.9h-.9zM81.3 409.0h.9v.9h-.9zM92.8 389.3h.9v.9h-.9zM99.0 382.4h.9v.9h-.9zM76.7 434.6h.9v.9h-.9zM102.1 379.4h.9v.9h-.9zM98.1 381.0h.9v.9h-.9zM97.5 366.8h.9v.9h-.9zM94.0 388.5h.9v.9h-.9zM100.9 368.0h.9v.9h-.9zM84.9 407.1h.9v.9h-.9zM102.1 387.6h.9v.9h-.9zM76.9 423.9h.9v.9h-.9zM86.8 405.9h.9v.9h-.9zM89.4 389.5h.9v.9h-.9zM86.7 403.8h.9v.9h-.9zM91.7 384.3h.9v.9h-.9zM105.4 400.3h.9v.9h-.9zM105.2 389.2h.9v.9h-.9zM96.5 367.6h.9v.9h-.9zM103.0 387.5h.9v.9h-.9zM81.9 411.8h.9v.9h-.9zM102.3 380.0h.9v.9h-.9zM100.9 370.9h.9v.9h-.9zM100.3 383.9h.9v.9h-.9zM79.8 438.4h.9v.9h-.9zM103.1 391.3h.9v.9h-.9zM104.2 397.4h.9v.9h-.9zM98.9 378.2h.9v.9h-.9zM79.4 417.6h.9v.9h-.9zM97.1 383.1h.9v.9h-.9zM98.6 368.8h.9v.9h-.9zM78.8 421.5h.9v.9h-.9zM92.3 385.4h.9v.9h-.9zM96.3 378.7h.9v.9h-.9zM98.5 368.3h.9v.9h-.9zM102.7 389.4h.9v.9h-.9zM103.0 387.7h.9v.9h-.9zM74.1 424.6h.9v.9h-.9zM76.4 430.5h.9v.9h-.9zM102.0 387.4h.9v.9h-.9zM90.0 393.2h.9v.9h-.9zM108.9 425.8h.9v.9h-.9zM103.4 396.2h.9v.9h-.9zM107.8 414.1h.9v.9h-.9zM83.0 408.3h.9v.9h-.9zM83.9 405.7h.9v.9h-.9zM99.6 377.1h.9v.9h-.9zM94.7 385.2h.9v.9h-.9zM108.0 420.4h.9v.9h-.9zM101.3 374.4h.9v.9h-.9zM93.4 387.3h.9v.9h-.9zM102.2 387.4h.9v.9h-.9zM102.5 386.3h.9v.9h-.9zM102.4 394.3h.9v.9h-.9zM100.9 376.0h.9v.9h-.9zM76.8 429.6h.9v.9h-.9zM103.6 400.4h.9v.9h-.9zM89.6 391.0h.9v.9h-.9zM81.7 412.7h.9v.9h-.9zM97.8 368.5h.9v.9h-.9zM86.6 399.5h.9v.9h-.9zM89.7 394.5h.9v.9h-.9zM96.4 368.9h.9v.9h-.9zM108.1 414.8h.9v.9h-.9zM89.1 397.8h.9v.9h-.9zM81.3 415.6h.9v.9h-.9zM101.8 377.1h.9v.9h-.9zM101.7 378.2h.9v.9h-.9zM76.7 437.4h.9v.9h-.9zM82.0 411.9h.9v.9h-.9zM98.9 382.9h.9v.9h-.9zM92.2 382.4h.9v.9h-.9zM91.5 389.7h.9v.9h-.9zM102.1 376.9h.9v.9h-.9zM101.7 381.7h.9v.9h-.9zM92.9 388.6h.9v.9h-.9zM97.7 370.3h.9v.9h-.9zM77.1 425.0h.9v.9h-.9zM103.1 389.0h.9v.9h-.9zM91.4 391.4h.9v.9h-.9zM96.6 367.7h.9v.9h-.9zM94.7 381.7h.9v.9h-.9zM102.6 388.8h.9v.9h-.9zM108.0 431.4h.9v.9h-.9zM91.5 382.1h.9v.9h-.9zM106.5 415.3h.9v.9h-.9zM92.9 382.9h.9v.9h-.9zM90.0 393.6h.9v.9h-.9zM96.3 368.3h.9v.9h-.9zM108.7 421.0h.9v.9h-.9zM79.5 414.5h.9v.9h-.9zM102.3 378.5h.9v.9h-.9zM94.6 381.3h.9v.9h-.9zM99.7 370.6h.9v.9h-.9zM105.9 408.2h.9v.9h-.9zM101.6 378.9h.9v.9h-.9zM78.0 417.1h.9v.9h-.9zM88.0 400.1h.9v.9h-.9zM99.4 370.0h.9v.9h-.9zM100.0 379.9h.9v.9h-.9zM95.1 384.6h.9v.9h-.9zM75.6 437.3h.9v.9h-.9zM107.5 421.2h.9v.9h-.9zM77.9 420.0h.9v.9h-.9zM101.3 372.1h.9v.9h-.9zM90.3 393.9h.9v.9h-.9zM98.2 372.7h.9v.9h-.9zM91.7 382.6h.9v.9h-.9zM97.1 370.6h.9v.9h-.9zM82.7 408.2h.9v.9h-.9zM94.9 380.3h.9v.9h-.9zM100.3 376.5h.9v.9h-.9zM95.7 384.4h.9v.9h-.9zM91.3 393.5h.9v.9h-.9zM93.4 388.8h.9v.9h-.9zM75.3 426.6h.9v.9h-.9zM103.8 399.4h.9v.9h-.9zM88.5 394.9h.9v.9h-.9zM98.9 371.1h.9v.9h-.9zM85.3 404.1h.9v.9h-.9zM98.0 371.4h.9v.9h-.9zM100.2 377.9h.9v.9h-.9zM95.2 384.2h.9v.9h-.9zM101.0 375.3h.9v.9h-.9zM100.3 368.9h.9v.9h-.9zM102.6 377.2h.9v.9h-.9zM108.1 419.5h.9v.9h-.9zM85.7 397.9h.9v.9h-.9zM90.3 396.7h.9v.9h-.9zM77.0 432.2h.9v.9h-.9zM83.1 414.6h.9v.9h-.9zM75.7 437.7h.9v.9h-.9zM85.5 399.9h.9v.9h-.9zM77.3 438.5h.9v.9h-.9zM76.3 425.6h.9v.9h-.9zM95.6 367.2h.9v.9h-.9zM79.2 422.5h.9v.9h-.9zM84.5 411.5h.9v.9h-.9zM75.3 423.2h.9v.9h-.9zM81.4 414.7h.9v.9h-.9zM98.9 378.8h.9v.9h-.9zM93.7 385.4h.9v.9h-.9zM106.3 437.3h.9v.9h-.9zM108.5 429.0h.9v.9h-.9zM76.4 437.3h.9v.9h-.9zM100.8 379.5h.9v.9h-.9zM77.0 425.7h.9v.9h-.9zM98.9 380.1h.9v.9h-.9zM75.9 431.5h.9v.9h-.9zM79.0 416.4h.9v.9h-.9zM98.4 375.0h.9v.9h-.9zM89.8 394.3h.9v.9h-.9zM94.9 379.7h.9v.9h-.9zM99.0 364.8h.9v.9h-.9zM108.7 428.8h.9v.9h-.9zM75.7 430.2h.9v.9h-.9zM102.9 388.4h.9v.9h-.9zM89.4 390.1h.9v.9h-.9zM98.7 372.7h.9v.9h-.9zM99.5 384.2h.9v.9h-.9zM100.6 384.8h.9v.9h-.9zM101.3 380.9h.9v.9h-.9zM83.1 408.9h.9v.9h-.9zM108.9 417.3h.9v.9h-.9zM96.2 375.4h.9v.9h-.9zM80.5 414.5h.9v.9h-.9zM93.8 381.4h.9v.9h-.9zM76.7 434.3h.9v.9h-.9zM98.4 367.7h.9v.9h-.9zM91.5 392.8h.9v.9h-.9zM83.8 411.5h.9v.9h-.9zM99.8 375.1h.9v.9h-.9zM109.3 434.0h.9v.9h-.9zM88.0 393.9h.9v.9h-.9zM101.8 377.4h.9v.9h-.9zM98.8 369.0h.9v.9h-.9zM107.8 422.9h.9v.9h-.9zM108.4 435.9h.9v.9h-.9zM76.6 435.4h.9v.9h-.9zM87.0 401.9h.9v.9h-.9zM96.7 372.7h.9v.9h-.9zM83.3 407.2h.9v.9h-.9zM95.6 380.9h.9v.9h-.9zM102.1 378.5h.9v.9h-.9zM77.7 436.1h.9v.9h-.9zM107.4 424.2h.9v.9h-.9zM92.1 387.2h.9v.9h-.9zM86.3 403.2h.9v.9h-.9zM99.8 375.2h.9v.9h-.9zM98.2 366.9h.9v.9h-.9zM85.7 402.2h.9v.9h-.9zM102.0 380.8h.9v.9h-.9zM97.7 375.4h.9v.9h-.9zM83.0 413.9h.9v.9h-.9zM81.5 410.4h.9v.9h-.9zM97.9 378.9h.9v.9h-.9zM75.4 431.4h.9v.9h-.9zM94.9 381.2h.9v.9h-.9zM86.8 401.9h.9v.9h-.9zM108.8 424.1h.9v.9h-.9zM94.6 382.1h.9v.9h-.9zM95.8 373.3h.9v.9h-.9zM78.0 434.6h.9v.9h-.9zM98.8 368.6h.9v.9h-.9zM99.2 378.4h.9v.9h-.9zM90.9 394.5h.9v.9h-.9zM108.7 415.6h.9v.9h-.9zM93.3 387.9h.9v.9h-.9zM100.0 371.6h.9v.9h-.9zM107.9 431.3h.9v.9h-.9zM105.3 389.5h.9v.9h-.9zM78.5 423.8h.9v.9h-.9zM106.7 403.1h.9v.9h-.9zM91.5 392.8h.9v.9h-.9zM93.4 378.5h.9v.9h-.9zM100.4 374.8h.9v.9h-.9zM77.0 426.1h.9v.9h-.9zM78.6 435.3h.9v.9h-.9zM99.6 370.1h.9v.9h-.9zM102.2 394.2h.9v.9h-.9zM88.3 400.1h.9v.9h-.9zM77.5 419.0h.9v.9h-.9zM101.5 375.6h.9v.9h-.9zM94.6 379.4h.9v.9h-.9zM103.1 389.4h.9v.9h-.9zM101.5 388.0h.9v.9h-.9zM99.9 379.6h.9v.9h-.9zM107.8 432.6h.9v.9h-.9zM96.5 376.1h.9v.9h-.9zM107.0 408.1h.9v.9h-.9zM77.9 415.8h.9v.9h-.9zM101.4 377.3h.9v.9h-.9zM94.5 387.5h.9v.9h-.9zM90.7 392.5h.9v.9h-.9zM94.0 384.0h.9v.9h-.9zM95.8 384.4h.9v.9h-.9zM96.6 367.8h.9v.9h-.9zM90.6 394.3h.9v.9h-.9zM86.2 397.8h.9v.9h-.9zM89.1 394.9h.9v.9h-.9zM108.5 425.4h.9v.9h-.9zM99.7 383.3h.9v.9h-.9zM90.6 396.1h.9v.9h-.9zM99.0 381.3h.9v.9h-.9zM104.1 394.8h.9v.9h-.9zM106.7 402.8h.9v.9h-.9zM84.8 409.2h.9v.9h-.9zM95.9 381.2h.9v.9h-.9zM99.3 377.5h.9v.9h-.9zM96.0 380.2h.9v.9h-.9zM98.1 378.2h.9v.9h-.9zM102.1 376.8h.9v.9h-.9zM74.2 427.1h.9v.9h-.9zM108.4 429.5h.9v.9h-.9zM94.9 382.4h.9v.9h-.9zM79.2 421.6h.9v.9h-.9zM109.3 429.3h.9v.9h-.9zM74.1 426.7h.9v.9h-.9zM105.0 397.6h.9v.9h-.9zM83.0 410.1h.9v.9h-.9zM99.2 379.0h.9v.9h-.9zM75.7 421.3h.9v.9h-.9zM83.4 408.4h.9v.9h-.9zM76.3 430.9h.9v.9h-.9zM81.1 413.9h.9v.9h-.9zM107.4 433.1h.9v.9h-.9zM106.7 406.7h.9v.9h-.9zM104.5 401.0h.9v.9h-.9zM102.2 390.3h.9v.9h-.9zM96.4 383.7h.9v.9h-.9zM76.4 424.1h.9v.9h-.9zM95.7 375.3h.9v.9h-.9zM73.2 433.8h.9v.9h-.9zM78.6 419.7h.9v.9h-.9zM77.0 422.3h.9v.9h-.9zM108.9 422.4h.9v.9h-.9zM100.9 369.1h.9v.9h-.9zM102.4 386.4h.9v.9h-.9zM91.3 385.7h.9v.9h-.9zM81.4 414.7h.9v.9h-.9zM84.5 404.2h.9v.9h-.9zM101.2 375.2h.9v.9h-.9zM75.5 422.1h.9v.9h-.9zM84.4 409.8h.9v.9h-.9zM76.9 422.1h.9v.9h-.9zM108.1 421.6h.9v.9h-.9zM80.9 416.1h.9v.9h-.9zM102.5 388.1h.9v.9h-.9zM100.6 385.0h.9v.9h-.9zM76.3 427.5h.9v.9h-.9zM106.1 437.8h.9v.9h-.9zM88.7 395.6h.9v.9h-.9zM94.1 377.6h.9v.9h-.9zM94.9 385.2h.9v.9h-.9zM98.7 378.1h.9v.9h-.9zM99.9 378.4h.9v.9h-.9zM83.1 412.0h.9v.9h-.9zM98.8 379.6h.9v.9h-.9zM99.8 381.6h.9v.9h-.9zM100.7 368.4h.9v.9h-.9zM102.7 387.7h.9v.9h-.9zM107.5 423.9h.9v.9h-.9zM93.4 377.8h.9v.9h-.9zM96.6 376.5h.9v.9h-.9zM105.8 403.8h.9v.9h-.9zM86.5 401.0h.9v.9h-.9zM82.6 413.9h.9v.9h-.9zM95.5 373.5h.9v.9h-.9zM90.3 391.8h.9v.9h-.9zM107.7 429.5h.9v.9h-.9zM98.2 369.2h.9v.9h-.9zM89.9 397.2h.9v.9h-.9zM100.7 371.0h.9v.9h-.9zM100.0 372.6h.9v.9h-.9zM101.4 382.5h.9v.9h-.9zM108.4 413.7h.9v.9h-.9zM91.9 387.9h.9v.9h-.9zM99.9 371.7h.9v.9h-.9zM78.0 434.5h.9v.9h-.9zM73.7 425.5h.9v.9h-.9zM108.9 421.8h.9v.9h-.9zM98.7 376.9h.9v.9h-.9zM76.2 435.2h.9v.9h-.9zM90.5 388.2h.9v.9h-.9zM78.3 423.4h.9v.9h-.9zM83.0 414.0h.9v.9h-.9zM104.5 390.6h.9v.9h-.9zM105.7 438.7h.9v.9h-.9zM75.2 428.5h.9v.9h-.9zM98.8 379.2h.9v.9h-.9zM76.5 424.5h.9v.9h-.9zM92.4 383.3h.9v.9h-.9zM101.2 370.8h.9v.9h-.9zM95.7 381.8h.9v.9h-.9zM99.2 364.9h.9v.9h-.9zM91.3 396.3h.9v.9h-.9zM97.6 377.6h.9v.9h-.9zM108.1 423.9h.9v.9h-.9zM102.2 386.8h.9v.9h-.9zM82.3 407.9h.9v.9h-.9zM100.8 370.9h.9v.9h-.9zM82.1 407.6h.9v.9h-.9zM93.2 382.2h.9v.9h-.9zM107.9 431.1h.9v.9h-.9zM76.9 428.7h.9v.9h-.9zM97.8 368.0h.9v.9h-.9zM106.6 413.0h.9v.9h-.9zM99.3 382.3h.9v.9h-.9zM79.2 436.7h.9v.9h-.9zM88.5 399.2h.9v.9h-.9zM87.2 404.5h.9v.9h-.9zM102.1 384.8h.9v.9h-.9zM85.6 399.3h.9v.9h-.9zM89.6 390.7h.9v.9h-.9zM96.5 379.9h.9v.9h-.9zM107.2 437.7h.9v.9h-.9zM102.2 393.0h.9v.9h-.9zM91.9 388.5h.9v.9h-.9zM88.7 398.8h.9v.9h-.9zM76.5 435.7h.9v.9h-.9zM105.7 412.5h.9v.9h-.9zM100.6 373.9h.9v.9h-.9zM95.6 380.5h.9v.9h-.9zM93.6 387.5h.9v.9h-.9zM85.9 399.4h.9v.9h-.9zM107.8 415.4h.9v.9h-.9zM77.6 423.4h.9v.9h-.9zM100.5 376.4h.9v.9h-.9zM95.5 379.3h.9v.9h-.9zM83.3 406.9h.9v.9h-.9zM102.6 383.9h.9v.9h-.9zM99.1 380.9h.9v.9h-.9zM76.1 429.9h.9v.9h-.9zM94.8 379.2h.9v.9h-.9zM106.0 410.0h.9v.9h-.9zM99.0 370.9h.9v.9h-.9zM98.8 376.7h.9v.9h-.9zM107.8 414.3h.9v.9h-.9zM97.1 384.5h.9v.9h-.9zM99.3 365.4h.9v.9h-.9zM98.6 376.5h.9v.9h-.9zM101.6 389.3h.9v.9h-.9zM95.0 387.6h.9v.9h-.9zM102.1 391.8h.9v.9h-.9zM105.5 403.9h.9v.9h-.9zM86.6 397.6h.9v.9h-.9zM106.9 413.3h.9v.9h-.9zM99.2 381.3h.9v.9h-.9zM77.4 416.7h.9v.9h-.9zM76.0 423.4h.9v.9h-.9zM92.6 389.8h.9v.9h-.9zM102.1 380.4h.9v.9h-.9zM107.9 414.1h.9v.9h-.9zM108.8 432.4h.9v.9h-.9zM95.0 384.7h.9v.9h-.9zM102.9 387.4h.9v.9h-.9zM95.3 382.3h.9v.9h-.9zM79.7 416.9h.9v.9h-.9zM102.4 381.9h.9v.9h-.9zM100.2 382.1h.9v.9h-.9zM73.8 433.0h.9v.9h-.9zM109.1 425.5h.9v.9h-.9zM97.8 381.6h.9v.9h-.9zM109.1 429.6h.9v.9h-.9zM96.8 371.2h.9v.9h-.9zM94.3 387.8h.9v.9h-.9zM102.1 388.0h.9v.9h-.9zM99.9 374.8h.9v.9h-.9zM103.9 398.6h.9v.9h-.9zM73.6 432.7h.9v.9h-.9zM99.1 381.4h.9v.9h-.9zM100.5 378.8h.9v.9h-.9zM96.1 372.7h.9v.9h-.9zM79.9 415.3h.9v.9h-.9zM102.4 386.0h.9v.9h-.9zM107.2 409.7h.9v.9h-.9zM101.1 369.8h.9v.9h-.9zM100.2 376.6h.9v.9h-.9zM108.1 420.4h.9v.9h-.9zM89.9 393.1h.9v.9h-.9zM87.4 395.8h.9v.9h-.9zM99.2 376.3h.9v.9h-.9zM107.9 424.6h.9v.9h-.9zM102.3 387.9h.9v.9h-.9zM102.2 386.7h.9v.9h-.9zM96.9 381.2h.9v.9h-.9zM93.6 377.5h.9v.9h-.9zM107.1 413.9h.9v.9h-.9zM98.1 371.9h.9v.9h-.9zM108.7 425.8h.9v.9h-.9zM100.5 369.8h.9v.9h-.9zM101.9 377.3h.9v.9h-.9zM93.9 388.6h.9v.9h-.9zM87.2 403.7h.9v.9h-.9zM73.8 427.2h.9v.9h-.9zM99.7 368.8h.9v.9h-.9zM85.4 399.1h.9v.9h-.9zM83.8 410.3h.9v.9h-.9zM96.8 368.1h.9v.9h-.9zM98.3 381.5h.9v.9h-.9zM96.4 383.8h.9v.9h-.9zM102.0 389.7h.9v.9h-.9zM102.6 391.9h.9v.9h-.9zM109.4 425.5h.9v.9h-.9zM73.8 431.7h.9v.9h-.9zM77.1 428.0h.9v.9h-.9zM77.3 421.2h.9v.9h-.9zM80.6 415.7h.9v.9h-.9zM75.1 432.1h.9v.9h-.9zM102.7 390.9h.9v.9h-.9zM104.5 399.7h.9v.9h-.9zM76.3 429.4h.9v.9h-.9zM94.9 384.9h.9v.9h-.9zM90.4 390.7h.9v.9h-.9zM105.1 387.3h.9v.9h-.9zM96.8 371.5h.9v.9h-.9zM102.1 395.3h.9v.9h-.9zM77.4 423.7h.9v.9h-.9zM94.6 382.0h.9v.9h-.9zM97.4 371.4h.9v.9h-.9zM92.4 387.1h.9v.9h-.9zM108.1 435.1h.9v.9h-.9zM85.6 401.9h.9v.9h-.9zM100.0 381.6h.9v.9h-.9zM87.3 407.2h.9v.9h-.9zM93.0 387.3h.9v.9h-.9zM107.6 432.8h.9v.9h-.9zM85.8 403.4h.9v.9h-.9zM99.1 372.7h.9v.9h-.9zM94.1 388.6h.9v.9h-.9zM76.2 432.0h.9v.9h-.9zM98.5 379.1h.9v.9h-.9zM101.0 373.4h.9v.9h-.9zM102.9 378.5h.9v.9h-.9zM75.3 430.0h.9v.9h-.9zM83.1 414.1h.9v.9h-.9zM98.0 365.1h.9v.9h-.9zM95.5 383.0h.9v.9h-.9zM87.0 402.2h.9v.9h-.9zM102.5 380.7h.9v.9h-.9zM109.3 419.5h.9v.9h-.9zM104.8 401.1h.9v.9h-.9zM99.5 376.2h.9v.9h-.9zM80.5 439.0h.9v.9h-.9zM95.7 379.6h.9v.9h-.9zM94.3 387.0h.9v.9h-.9zM108.8 416.9h.9v.9h-.9zM106.6 408.2h.9v.9h-.9zM94.6 388.1h.9v.9h-.9zM105.5 409.8h.9v.9h-.9zM101.8 389.0h.9v.9h-.9zM105.5 410.4h.9v.9h-.9zM97.9 380.4h.9v.9h-.9zM106.2 414.6h.9v.9h-.9zM82.2 414.5h.9v.9h-.9zM90.4 390.2h.9v.9h-.9zM107.8 431.4h.9v.9h-.9zM96.3 370.8h.9v.9h-.9zM99.7 376.9h.9v.9h-.9zM99.3 372.1h.9v.9h-.9zM92.7 381.7h.9v.9h-.9zM91.2 388.5h.9v.9h-.9zM106.3 410.6h.9v.9h-.9zM102.4 390.7h.9v.9h-.9zM89.8 394.1h.9v.9h-.9zM99.6 373.6h.9v.9h-.9zM100.7 385.0h.9v.9h-.9zM100.8 368.6h.9v.9h-.9zM96.8 377.5h.9v.9h-.9zM82.3 409.0h.9v.9h-.9zM89.7 390.5h.9v.9h-.9zM99.8 381.5h.9v.9h-.9zM102.2 387.2h.9v.9h-.9zM94.2 384.0h.9v.9h-.9zM103.1 382.0h.9v.9h-.9zM82.2 409.8h.9v.9h-.9zM79.0 415.8h.9v.9h-.9zM74.0 431.7h.9v.9h-.9zM75.8 421.9h.9v.9h-.9zM84.7 409.1h.9v.9h-.9zM76.0 437.9h.9v.9h-.9zM75.8 433.0h.9v.9h-.9zM77.8 439.1h.9v.9h-.9zM86.2 406.7h.9v.9h-.9zM104.8 398.1h.9v.9h-.9zM79.0 420.3h.9v.9h-.9zM91.9 442.7h.9v.9h-.9zM81.9 415.2h.9v.9h-.9zM75.9 420.5h.9v.9h-.9zM103.2 384.9h.9v.9h-.9zM87.7 393.9h.9v.9h-.9zM76.9 425.6h.9v.9h-.9zM74.1 426.8h.9v.9h-.9zM87.2 400.7h.9v.9h-.9zM107.8 433.1h.9v.9h-.9zM77.5 422.0h.9v.9h-.9zM73.9 427.5h.9v.9h-.9zM74.6 424.5h.9v.9h-.9zM85.5 440.5h.9v.9h-.9zM73.9 424.0h.9v.9h-.9zM90.7 444.0h.9v.9h-.9zM77.4 423.4h.9v.9h-.9zM74.5 426.1h.9v.9h-.9zM104.2 401.1h.9v.9h-.9zM107.0 413.1h.9v.9h-.9zM105.6 436.4h.9v.9h-.9zM105.0 398.7h.9v.9h-.9zM73.8 424.0h.9v.9h-.9zM83.7 409.7h.9v.9h-.9zM83.1 413.0h.9v.9h-.9zM75.4 422.9h.9v.9h-.9zM77.0 426.9h.9v.9h-.9zM106.8 407.1h.9v.9h-.9zM84.5 404.8h.9v.9h-.9zM75.8 424.8h.9v.9h-.9zM78.1 423.1h.9v.9h-.9zM90.8 443.5h.9v.9h-.9zM77.1 430.1h.9v.9h-.9zM108.9 427.4h.9v.9h-.9zM79.5 412.4h.9v.9h-.9zM80.0 439.0h.9v.9h-.9zM77.1 432.5h.9v.9h-.9zM99.2 443.5h.9v.9h-.9zM106.6 414.1h.9v.9h-.9zM109.1 416.6h.9v.9h-.9zM75.8 430.1h.9v.9h-.9zM76.3 435.4h.9v.9h-.9zM77.5 420.7h.9v.9h-.9zM106.0 411.1h.9v.9h-.9zM75.5 438.0h.9v.9h-.9zM107.5 418.3h.9v.9h-.9zM108.9 419.1h.9v.9h-.9zM77.1 431.4h.9v.9h-.9zM90.3 391.5h.9v.9h-.9zM88.2 395.8h.9v.9h-.9zM106.2 408.2h.9v.9h-.9zM85.3 401.8h.9v.9h-.9zM84.3 406.8h.9v.9h-.9zM107.6 424.3h.9v.9h-.9zM109.4 420.1h.9v.9h-.9zM105.4 413.8h.9v.9h-.9zM76.5 430.9h.9v.9h-.9zM109.1 426.3h.9v.9h-.9zM102.2 440.3h.9v.9h-.9zM86.3 441.6h.9v.9h-.9zM94.1 443.6h.9v.9h-.9zM88.3 442.4h.9v.9h-.9zM88.6 442.6h.9v.9h-.9zM86.9 441.4h.9v.9h-.9zM95.3 442.2h.9v.9h-.9zM87.3 442.2h.9v.9h-.9zM91.3 442.3h.9v.9h-.9zM93.2 442.6h.9v.9h-.9zM86.5 440.8h.9v.9h-.9zM89.0 443.6h.9v.9h-.9zM91.9 443.2h.9v.9h-.9zM91.1 443.0h.9v.9h-.9zM89.4 443.7h.9v.9h-.9zM88.5 443.6h.9v.9h-.9zM88.2 442.7h.9v.9h-.9zM82.4 441.8h.9v.9h-.9zM82.1 441.3h.9v.9h-.9zM92.7 443.2h.9v.9h-.9zM81.9 441.7h.9v.9h-.9zM97.6 443.1h.9v.9h-.9zM84.6 441.5h.9v.9h-.9zM92.8 443.4h.9v.9h-.9zM83.0 441.8h.9v.9h-.9zM82.2 440.8h.9v.9h-.9zM89.6 444.1h.9v.9h-.9zM95.1 443.1h.9v.9h-.9zM85.6 441.0h.9v.9h-.9zM94.7 442.2h.9v.9h-.9zM82.0 440.2h.9v.9h-.9zM97.4 444.1h.9v.9h-.9zM89.7 443.6h.9v.9h-.9zM78.3 438.6h.9v.9h-.9zM92.5 443.4h.9v.9h-.9zM81.9 440.1h.9v.9h-.9zM103.2 442.1h.9v.9h-.9zM92.4 443.6h.9v.9h-.9zM90.6 442.3h.9v.9h-.9zM103.2 441.1h.9v.9h-.9zM81.7 440.3h.9v.9h-.9zM84.9 440.4h.9v.9h-.9zM78.3 439.8h.9v.9h-.9zM79.6 438.9h.9v.9h-.9zM103.4 382.0h.9v.9h-.9zM87.2 405.5h.9v.9h-.9zM108.6 426.2h.9v.9h-.9zM106.5 439.6h.9v.9h-.9zM90.5 391.8h.9v.9h-.9zM86.9 399.5h.9v.9h-.9z" fill="#6163b3" fill-opacity="0.55"/>
<path d="M77.6 427.7h.9v.9h-.9zM78.4 431.4h.9v.9h-.9zM81.1 425.8h.9v.9h-.9zM77.3 424.4h.9v.9h-.9zM85.4 412.5h.9v.9h-.9zM80.6 427.5h.9v.9h-.9zM80.2 427.8h.9v.9h-.9zM81.2 429.9h.9v.9h-.9zM79.7 431.0h.9v.9h-.9zM80.5 427.3h.9v.9h-.9zM78.8 426.5h.9v.9h-.9zM100.4 387.8h.9v.9h-.9zM91.0 403.0h.9v.9h-.9zM90.5 399.9h.9v.9h-.9zM100.0 388.8h.9v.9h-.9zM101.0 388.1h.9v.9h-.9zM99.2 383.6h.9v.9h-.9zM102.1 395.7h.9v.9h-.9zM80.4 433.8h.9v.9h-.9zM97.6 393.3h.9v.9h-.9zM106.4 419.2h.9v.9h-.9zM85.4 410.4h.9v.9h-.9zM93.4 389.6h.9v.9h-.9zM80.3 421.9h.9v.9h-.9zM99.4 390.3h.9v.9h-.9zM80.6 436.4h.9v.9h-.9zM92.0 399.0h.9v.9h-.9zM79.9 425.3h.9v.9h-.9zM84.9 411.8h.9v.9h-.9zM81.1 422.4h.9v.9h-.9zM106.0 427.6h.9v.9h-.9zM96.1 390.1h.9v.9h-.9zM92.0 393.6h.9v.9h-.9zM79.5 430.2h.9v.9h-.9zM101.0 387.6h.9v.9h-.9zM106.8 435.5h.9v.9h-.9zM104.2 403.2h.9v.9h-.9zM104.6 406.6h.9v.9h-.9zM79.2 432.6h.9v.9h-.9zM90.5 401.4h.9v.9h-.9zM93.5 391.3h.9v.9h-.9zM85.7 412.4h.9v.9h-.9zM99.1 386.5h.9v.9h-.9zM90.2 404.0h.9v.9h-.9zM106.3 417.4h.9v.9h-.9zM97.9 394.6h.9v.9h-.9zM98.3 392.9h.9v.9h-.9zM99.8 385.3h.9v.9h-.9zM88.6 402.2h.9v.9h-.9zM100.6 394.4h.9v.9h-.9zM89.1 405.2h.9v.9h-.9zM79.4 429.2h.9v.9h-.9zM88.5 403.5h.9v.9h-.9zM90.0 400.5h.9v.9h-.9zM104.6 409.4h.9v.9h-.9zM98.6 387.1h.9v.9h-.9zM88.6 409.2h.9v.9h-.9zM89.3 404.0h.9v.9h-.9zM99.0 384.8h.9v.9h-.9zM93.9 393.4h.9v.9h-.9zM80.8 435.1h.9v.9h-.9zM101.2 393.9h.9v.9h-.9zM79.7 422.9h.9v.9h-.9zM79.3 436.1h.9v.9h-.9zM79.1 429.1h.9v.9h-.9zM98.1 384.9h.9v.9h-.9zM80.0 428.6h.9v.9h-.9zM98.5 386.7h.9v.9h-.9zM105.5 421.6h.9v.9h-.9zM95.4 391.5h.9v.9h-.9zM91.2 399.7h.9v.9h-.9zM99.8 395.4h.9v.9h-.9zM79.5 428.4h.9v.9h-.9zM96.4 390.3h.9v.9h-.9zM94.2 395.9h.9v.9h-.9zM106.8 418.9h.9v.9h-.9zM81.1 437.6h.9v.9h-.9zM88.1 405.7h.9v.9h-.9zM97.4 387.7h.9v.9h-.9zM90.9 403.0h.9v.9h-.9zM99.8 396.0h.9v.9h-.9zM100.1 392.7h.9v.9h-.9zM102.5 398.6h.9v.9h-.9zM102.5 400.7h.9v.9h-.9zM86.2 410.6h.9v.9h-.9zM95.8 385.3h.9v.9h-.9zM98.7 394.9h.9v.9h-.9zM106.5 422.4h.9v.9h-.9zM94.9 393.5h.9v.9h-.9zM103.9 405.7h.9v.9h-.9zM100.0 385.3h.9v.9h-.9zM98.1 386.0h.9v.9h-.9zM82.1 419.6h.9v.9h-.9zM89.3 402.4h.9v.9h-.9zM105.8 433.7h.9v.9h-.9zM81.0 435.0h.9v.9h-.9zM106.4 427.8h.9v.9h-.9zM83.8 413.1h.9v.9h-.9zM91.6 399.1h.9v.9h-.9zM81.3 418.0h.9v.9h-.9zM105.5 427.3h.9v.9h-.9zM92.8 398.1h.9v.9h-.9zM101.4 389.4h.9v.9h-.9zM99.7 389.8h.9v.9h-.9zM82.4 417.1h.9v.9h-.9zM100.1 396.4h.9v.9h-.9zM80.7 424.0h.9v.9h-.9zM100.8 385.2h.9v.9h-.9zM79.6 430.9h.9v.9h-.9zM81.7 439.0h.9v.9h-.9zM86.5 412.2h.9v.9h-.9zM100.0 394.8h.9v.9h-.9zM91.8 397.5h.9v.9h-.9zM79.4 433.4h.9v.9h-.9zM84.8 413.4h.9v.9h-.9zM90.2 404.2h.9v.9h-.9zM96.8 387.7h.9v.9h-.9zM106.1 421.6h.9v.9h-.9zM100.9 392.1h.9v.9h-.9zM80.1 428.3h.9v.9h-.9zM106.0 418.1h.9v.9h-.9zM97.3 386.1h.9v.9h-.9zM81.1 434.0h.9v.9h-.9zM86.0 412.6h.9v.9h-.9zM101.2 389.0h.9v.9h-.9zM102.0 400.9h.9v.9h-.9zM94.8 392.9h.9v.9h-.9zM102.2 398.7h.9v.9h-.9zM79.9 435.3h.9v.9h-.9zM90.1 404.0h.9v.9h-.9zM100.7 391.1h.9v.9h-.9zM88.4 401.5h.9v.9h-.9zM103.4 402.2h.9v.9h-.9zM81.0 435.9h.9v.9h-.9zM93.9 394.5h.9v.9h-.9zM100.1 391.7h.9v.9h-.9zM105.4 425.8h.9v.9h-.9zM100.4 393.7h.9v.9h-.9zM106.8 420.8h.9v.9h-.9zM106.3 435.1h.9v.9h-.9zM101.7 396.2h.9v.9h-.9zM100.3 386.8h.9v.9h-.9zM101.0 389.8h.9v.9h-.9zM79.6 422.5h.9v.9h-.9zM79.1 426.5h.9v.9h-.9zM106.1 420.8h.9v.9h-.9zM97.7 385.4h.9v.9h-.9zM104.5 402.5h.9v.9h-.9zM94.5 391.3h.9v.9h-.9zM88.1 409.1h.9v.9h-.9zM98.1 391.5h.9v.9h-.9zM99.4 392.8h.9v.9h-.9zM96.1 394.0h.9v.9h-.9zM97.5 384.1h.9v.9h-.9zM103.7 438.8h.9v.9h-.9zM89.8 401.7h.9v.9h-.9zM89.8 404.5h.9v.9h-.9zM90.2 401.4h.9v.9h-.9zM103.8 407.3h.9v.9h-.9zM82.6 419.0h.9v.9h-.9zM90.0 397.5h.9v.9h-.9zM98.1 390.4h.9v.9h-.9zM95.9 395.3h.9v.9h-.9zM80.1 425.9h.9v.9h-.9zM105.6 418.1h.9v.9h-.9zM79.8 435.2h.9v.9h-.9zM103.7 403.1h.9v.9h-.9zM100.0 387.1h.9v.9h-.9zM106.1 415.9h.9v.9h-.9zM99.0 392.6h.9v.9h-.9zM98.0 394.1h.9v.9h-.9zM77.7 429.5h.9v.9h-.9zM80.8 429.4h.9v.9h-.9zM83.1 416.0h.9v.9h-.9zM80.0 429.5h.9v.9h-.9zM98.0 389.6h.9v.9h-.9zM97.3 385.7h.9v.9h-.9zM91.0 403.2h.9v.9h-.9zM97.1 388.6h.9v.9h-.9zM93.6 389.8h.9v.9h-.9zM90.5 399.8h.9v.9h-.9zM80.4 432.5h.9v.9h-.9zM106.5 435.4h.9v.9h-.9zM77.9 424.7h.9v.9h-.9zM90.5 404.0h.9v.9h-.9zM94.5 395.8h.9v.9h-.9zM93.2 397.3h.9v.9h-.9zM107.3 420.0h.9v.9h-.9zM80.1 421.5h.9v.9h-.9zM95.4 391.4h.9v.9h-.9zM77.3 433.7h.9v.9h-.9zM79.5 426.6h.9v.9h-.9zM77.4 426.4h.9v.9h-.9zM92.4 398.7h.9v.9h-.9zM93.6 394.0h.9v.9h-.9zM94.2 397.1h.9v.9h-.9zM100.2 391.0h.9v.9h-.9zM104.1 404.6h.9v.9h-.9zM81.4 415.8h.9v.9h-.9zM99.8 394.8h.9v.9h-.9zM88.1 404.2h.9v.9h-.9zM104.2 407.9h.9v.9h-.9zM89.3 407.0h.9v.9h-.9zM100.8 389.9h.9v.9h-.9zM98.4 393.0h.9v.9h-.9zM82.1 438.5h.9v.9h-.9zM99.9 389.6h.9v.9h-.9zM85.0 415.4h.9v.9h-.9zM100.0 388.7h.9v.9h-.9zM83.0 439.1h.9v.9h-.9zM106.7 434.7h.9v.9h-.9zM99.8 396.1h.9v.9h-.9zM100.9 394.7h.9v.9h-.9zM77.4 427.6h.9v.9h-.9zM104.1 405.2h.9v.9h-.9zM98.0 389.3h.9v.9h-.9zM93.0 398.9h.9v.9h-.9zM100.5 394.3h.9v.9h-.9zM106.2 423.2h.9v.9h-.9zM103.6 402.9h.9v.9h-.9zM80.1 423.7h.9v.9h-.9zM106.4 425.7h.9v.9h-.9zM86.0 412.9h.9v.9h-.9zM79.4 434.0h.9v.9h-.9zM91.9 396.8h.9v.9h-.9zM102.0 397.1h.9v.9h-.9zM96.0 392.4h.9v.9h-.9zM87.8 401.8h.9v.9h-.9zM105.2 401.7h.9v.9h-.9zM95.0 390.3h.9v.9h-.9zM99.6 386.1h.9v.9h-.9zM80.8 427.6h.9v.9h-.9zM84.2 411.9h.9v.9h-.9zM98.3 394.3h.9v.9h-.9zM98.6 391.1h.9v.9h-.9zM81.8 417.8h.9v.9h-.9zM106.4 421.3h.9v.9h-.9zM98.7 386.3h.9v.9h-.9zM89.2 408.6h.9v.9h-.9zM105.8 417.0h.9v.9h-.9zM95.4 388.5h.9v.9h-.9zM97.8 392.4h.9v.9h-.9zM102.6 399.1h.9v.9h-.9zM87.8 405.6h.9v.9h-.9zM78.9 429.4h.9v.9h-.9zM78.3 429.5h.9v.9h-.9zM102.2 400.9h.9v.9h-.9zM84.7 413.3h.9v.9h-.9zM92.8 395.5h.9v.9h-.9zM96.2 391.4h.9v.9h-.9zM106.5 433.3h.9v.9h-.9zM80.9 435.6h.9v.9h-.9zM88.9 406.0h.9v.9h-.9zM80.0 417.9h.9v.9h-.9zM106.0 422.7h.9v.9h-.9zM89.5 404.2h.9v.9h-.9zM86.9 410.4h.9v.9h-.9zM80.7 425.6h.9v.9h-.9zM91.5 396.1h.9v.9h-.9zM101.1 392.3h.9v.9h-.9zM98.8 383.5h.9v.9h-.9zM78.8 427.4h.9v.9h-.9zM79.5 427.3h.9v.9h-.9zM84.2 414.1h.9v.9h-.9zM89.1 404.2h.9v.9h-.9zM92.3 397.6h.9v.9h-.9zM82.8 416.5h.9v.9h-.9zM98.6 390.1h.9v.9h-.9zM79.5 427.4h.9v.9h-.9zM93.3 397.5h.9v.9h-.9zM98.8 394.4h.9v.9h-.9zM98.4 383.1h.9v.9h-.9zM98.5 394.2h.9v.9h-.9zM102.5 395.7h.9v.9h-.9zM106.1 419.2h.9v.9h-.9zM85.0 415.2h.9v.9h-.9zM105.5 419.7h.9v.9h-.9zM92.3 398.7h.9v.9h-.9zM80.7 420.5h.9v.9h-.9zM83.0 419.6h.9v.9h-.9zM84.6 438.6h.9v.9h-.9zM96.5 394.0h.9v.9h-.9zM100.5 387.6h.9v.9h-.9zM101.2 388.8h.9v.9h-.9zM105.8 419.1h.9v.9h-.9zM105.0 403.9h.9v.9h-.9zM100.3 390.8h.9v.9h-.9zM97.7 385.0h.9v.9h-.9zM81.7 438.3h.9v.9h-.9zM77.6 430.6h.9v.9h-.9zM103.5 404.2h.9v.9h-.9zM97.7 393.8h.9v.9h-.9zM91.9 395.8h.9v.9h-.9zM90.0 401.5h.9v.9h-.9zM95.7 389.8h.9v.9h-.9zM92.9 397.4h.9v.9h-.9zM96.3 388.9h.9v.9h-.9zM101.1 386.3h.9v.9h-.9zM101.6 399.5h.9v.9h-.9zM100.1 389.7h.9v.9h-.9zM82.2 438.9h.9v.9h-.9zM80.4 430.7h.9v.9h-.9zM96.0 389.8h.9v.9h-.9zM97.4 394.3h.9v.9h-.9zM80.7 433.8h.9v.9h-.9zM90.6 402.4h.9v.9h-.9zM93.7 391.5h.9v.9h-.9zM106.0 426.3h.9v.9h-.9zM106.3 423.3h.9v.9h-.9zM85.6 409.5h.9v.9h-.9zM97.0 391.2h.9v.9h-.9zM99.8 396.2h.9v.9h-.9zM90.6 404.9h.9v.9h-.9zM100.1 385.3h.9v.9h-.9zM87.0 409.0h.9v.9h-.9zM97.3 394.3h.9v.9h-.9zM79.8 435.8h.9v.9h-.9zM92.6 397.5h.9v.9h-.9zM79.6 418.5h.9v.9h-.9zM104.3 404.8h.9v.9h-.9zM84.4 439.5h.9v.9h-.9zM100.7 392.9h.9v.9h-.9zM81.0 425.5h.9v.9h-.9zM79.1 429.3h.9v.9h-.9zM98.1 385.6h.9v.9h-.9zM106.2 417.6h.9v.9h-.9zM80.7 420.9h.9v.9h-.9zM101.1 387.4h.9v.9h-.9zM101.7 400.5h.9v.9h-.9zM85.5 412.0h.9v.9h-.9zM85.0 439.4h.9v.9h-.9zM91.4 398.2h.9v.9h-.9zM105.1 407.5h.9v.9h-.9zM81.0 436.3h.9v.9h-.9zM78.2 424.7h.9v.9h-.9zM102.8 396.5h.9v.9h-.9zM86.0 410.8h.9v.9h-.9zM96.2 390.3h.9v.9h-.9zM104.1 410.4h.9v.9h-.9zM80.9 420.6h.9v.9h-.9zM81.1 428.8h.9v.9h-.9zM102.8 398.3h.9v.9h-.9zM78.7 432.6h.9v.9h-.9zM103.9 404.9h.9v.9h-.9zM81.2 435.7h.9v.9h-.9zM97.9 385.0h.9v.9h-.9zM97.0 388.0h.9v.9h-.9zM93.7 392.7h.9v.9h-.9zM88.0 404.5h.9v.9h-.9zM99.4 387.1h.9v.9h-.9zM97.8 391.1h.9v.9h-.9zM77.8 433.1h.9v.9h-.9zM89.0 401.6h.9v.9h-.9zM94.8 389.6h.9v.9h-.9zM98.3 387.7h.9v.9h-.9zM99.7 387.3h.9v.9h-.9zM89.6 400.1h.9v.9h-.9zM79.7 436.5h.9v.9h-.9zM99.6 396.7h.9v.9h-.9zM97.5 384.8h.9v.9h-.9zM97.8 394.4h.9v.9h-.9zM96.6 390.2h.9v.9h-.9zM99.3 395.2h.9v.9h-.9zM80.3 437.4h.9v.9h-.9zM101.6 399.8h.9v.9h-.9zM90.5 397.7h.9v.9h-.9zM100.9 389.8h.9v.9h-.9zM84.3 413.1h.9v.9h-.9zM92.2 395.8h.9v.9h-.9zM99.0 394.3h.9v.9h-.9zM93.2 397.2h.9v.9h-.9zM85.2 412.6h.9v.9h-.9zM103.5 408.2h.9v.9h-.9zM93.7 396.1h.9v.9h-.9zM82.4 438.4h.9v.9h-.9zM100.1 391.7h.9v.9h-.9zM104.8 409.9h.9v.9h-.9zM80.1 423.9h.9v.9h-.9zM83.3 412.5h.9v.9h-.9zM106.4 435.2h.9v.9h-.9zM101.8 399.9h.9v.9h-.9zM98.6 394.5h.9v.9h-.9zM87.4 408.4h.9v.9h-.9zM78.2 426.2h.9v.9h-.9zM92.5 396.0h.9v.9h-.9zM90.3 400.3h.9v.9h-.9zM86.7 408.1h.9v.9h-.9zM90.3 400.1h.9v.9h-.9zM93.5 391.9h.9v.9h-.9zM98.5 387.1h.9v.9h-.9zM106.1 433.7h.9v.9h-.9zM100.8 395.9h.9v.9h-.9zM86.8 412.9h.9v.9h-.9zM102.2 399.8h.9v.9h-.9zM104.1 401.8h.9v.9h-.9zM87.7 402.7h.9v.9h-.9zM104.6 409.9h.9v.9h-.9zM104.0 410.8h.9v.9h-.9zM102.6 400.4h.9v.9h-.9zM95.5 390.6h.9v.9h-.9zM80.8 428.1h.9v.9h-.9zM88.7 403.8h.9v.9h-.9zM92.8 396.6h.9v.9h-.9zM78.8 427.2h.9v.9h-.9zM79.2 428.7h.9v.9h-.9zM102.4 401.0h.9v.9h-.9zM91.3 405.0h.9v.9h-.9zM106.6 416.3h.9v.9h-.9zM81.2 428.1h.9v.9h-.9zM94.9 391.4h.9v.9h-.9zM89.2 403.6h.9v.9h-.9zM95.9 385.9h.9v.9h-.9zM101.0 386.6h.9v.9h-.9zM106.6 432.6h.9v.9h-.9zM91.6 396.7h.9v.9h-.9zM93.8 390.8h.9v.9h-.9zM101.2 386.3h.9v.9h-.9zM91.8 393.4h.9v.9h-.9zM79.6 432.4h.9v.9h-.9zM88.2 404.4h.9v.9h-.9zM88.0 403.8h.9v.9h-.9zM87.6 407.6h.9v.9h-.9zM94.8 391.3h.9v.9h-.9zM100.7 388.5h.9v.9h-.9zM101.0 386.5h.9v.9h-.9zM96.9 388.3h.9v.9h-.9zM94.1 396.9h.9v.9h-.9zM82.9 418.0h.9v.9h-.9zM96.3 392.9h.9v.9h-.9zM106.9 417.8h.9v.9h-.9zM97.9 394.2h.9v.9h-.9zM107.1 426.5h.9v.9h-.9zM86.0 408.7h.9v.9h-.9zM106.0 426.9h.9v.9h-.9zM87.4 408.1h.9v.9h-.9zM81.2 423.8h.9v.9h-.9zM90.8 400.8h.9v.9h-.9zM81.6 438.2h.9v.9h-.9zM102.7 396.7h.9v.9h-.9zM96.5 385.3h.9v.9h-.9zM79.4 426.0h.9v.9h-.9zM94.6 391.7h.9v.9h-.9zM107.2 418.4h.9v.9h-.9zM80.6 428.9h.9v.9h-.9zM89.4 404.0h.9v.9h-.9zM102.4 401.4h.9v.9h-.9zM88.9 409.0h.9v.9h-.9zM107.0 433.3h.9v.9h-.9zM99.5 390.6h.9v.9h-.9zM97.5 385.5h.9v.9h-.9zM97.0 394.6h.9v.9h-.9zM80.7 417.8h.9v.9h-.9zM105.6 427.7h.9v.9h-.9zM99.8 392.5h.9v.9h-.9zM99.4 390.6h.9v.9h-.9zM100.9 391.7h.9v.9h-.9zM104.0 438.7h.9v.9h-.9zM96.5 386.6h.9v.9h-.9zM93.9 396.1h.9v.9h-.9zM94.3 394.7h.9v.9h-.9zM97.2 389.9h.9v.9h-.9zM78.1 432.8h.9v.9h-.9zM82.4 416.4h.9v.9h-.9zM79.0 427.7h.9v.9h-.9zM100.1 392.5h.9v.9h-.9zM87.2 413.2h.9v.9h-.9zM83.5 413.7h.9v.9h-.9zM96.9 392.4h.9v.9h-.9zM78.6 432.9h.9v.9h-.9zM104.2 409.7h.9v.9h-.9zM105.8 426.6h.9v.9h-.9zM102.0 401.0h.9v.9h-.9zM92.9 394.3h.9v.9h-.9zM80.4 437.1h.9v.9h-.9zM94.9 395.3h.9v.9h-.9zM98.0 392.8h.9v.9h-.9zM105.9 424.2h.9v.9h-.9zM77.4 429.8h.9v.9h-.9zM91.3 403.2h.9v.9h-.9zM92.3 398.4h.9v.9h-.9zM93.2 399.0h.9v.9h-.9zM93.9 394.5h.9v.9h-.9zM79.1 429.2h.9v.9h-.9zM90.8 403.2h.9v.9h-.9zM105.3 403.8h.9v.9h-.9zM100.1 395.6h.9v.9h-.9zM83.1 416.0h.9v.9h-.9zM77.9 425.8h.9v.9h-.9zM106.8 423.6h.9v.9h-.9zM97.9 394.5h.9v.9h-.9zM87.9 405.2h.9v.9h-.9zM80.2 420.8h.9v.9h-.9zM79.7 438.0h.9v.9h-.9zM102.7 396.7h.9v.9h-.9zM102.2 396.0h.9v.9h-.9zM82.2 418.5h.9v.9h-.9zM78.2 433.5h.9v.9h-.9zM96.3 388.8h.9v.9h-.9zM79.7 424.1h.9v.9h-.9zM88.0 401.5h.9v.9h-.9zM97.7 390.0h.9v.9h-.9zM100.2 386.0h.9v.9h-.9zM105.7 426.2h.9v.9h-.9zM82.5 417.7h.9v.9h-.9zM97.9 393.8h.9v.9h-.9zM97.2 387.9h.9v.9h-.9zM103.5 439.0h.9v.9h-.9zM84.0 411.9h.9v.9h-.9zM99.4 396.7h.9v.9h-.9zM107.1 417.8h.9v.9h-.9zM79.7 435.0h.9v.9h-.9zM100.5 393.0h.9v.9h-.9zM78.5 432.4h.9v.9h-.9zM88.0 406.5h.9v.9h-.9zM94.2 393.5h.9v.9h-.9zM81.9 416.3h.9v.9h-.9zM99.3 387.5h.9v.9h-.9zM81.2 423.4h.9v.9h-.9zM98.1 390.6h.9v.9h-.9zM100.0 391.7h.9v.9h-.9zM97.2 391.3h.9v.9h-.9zM103.0 397.2h.9v.9h-.9zM99.0 384.4h.9v.9h-.9zM89.8 405.4h.9v.9h-.9zM96.2 393.4h.9v.9h-.9zM106.8 432.9h.9v.9h-.9zM83.2 419.2h.9v.9h-.9zM99.0 393.3h.9v.9h-.9zM93.1 397.6h.9v.9h-.9zM102.5 398.6h.9v.9h-.9zM96.5 393.4h.9v.9h-.9zM90.2 404.2h.9v.9h-.9zM89.1 405.9h.9v.9h-.9zM93.2 395.6h.9v.9h-.9zM93.2 395.5h.9v.9h-.9zM94.4 392.6h.9v.9h-.9zM97.8 386.8h.9v.9h-.9zM80.8 422.0h.9v.9h-.9zM106.1 433.4h.9v.9h-.9zM96.2 393.5h.9v.9h-.9zM103.7 411.4h.9v.9h-.9zM105.5 420.3h.9v.9h-.9zM106.4 426.8h.9v.9h-.9zM98.5 388.8h.9v.9h-.9zM92.0 395.8h.9v.9h-.9zM93.6 390.1h.9v.9h-.9zM106.6 433.0h.9v.9h-.9zM96.3 385.7h.9v.9h-.9zM100.1 385.9h.9v.9h-.9zM80.7 422.5h.9v.9h-.9zM96.2 394.0h.9v.9h-.9zM95.8 385.8h.9v.9h-.9zM94.9 394.4h.9v.9h-.9zM97.8 394.3h.9v.9h-.9zM84.6 414.5h.9v.9h-.9zM103.5 410.4h.9v.9h-.9zM96.1 389.3h.9v.9h-.9zM101.1 392.5h.9v.9h-.9zM83.6 412.7h.9v.9h-.9zM80.3 435.9h.9v.9h-.9zM98.6 387.3h.9v.9h-.9zM84.4 438.7h.9v.9h-.9zM83.3 419.5h.9v.9h-.9zM93.7 391.3h.9v.9h-.9zM100.4 390.2h.9v.9h-.9zM89.4 400.7h.9v.9h-.9zM100.3 391.8h.9v.9h-.9zM105.1 409.1h.9v.9h-.9zM91.3 397.8h.9v.9h-.9zM95.5 387.4h.9v.9h-.9zM95.9 385.2h.9v.9h-.9zM88.3 402.7h.9v.9h-.9zM99.5 391.0h.9v.9h-.9zM101.3 386.4h.9v.9h-.9zM107.3 425.9h.9v.9h-.9zM101.4 399.9h.9v.9h-.9zM87.4 402.0h.9v.9h-.9zM80.1 425.2h.9v.9h-.9zM101.3 389.2h.9v.9h-.9zM86.3 411.5h.9v.9h-.9zM85.2 414.1h.9v.9h-.9zM95.0 390.4h.9v.9h-.9zM100.4 388.5h.9v.9h-.9zM97.3 394.3h.9v.9h-.9zM90.8 400.1h.9v.9h-.9zM100.1 395.1h.9v.9h-.9zM82.4 417.6h.9v.9h-.9zM98.0 389.4h.9v.9h-.9zM99.7 395.0h.9v.9h-.9zM99.3 391.8h.9v.9h-.9zM105.4 416.2h.9v.9h-.9zM98.0 392.1h.9v.9h-.9zM79.3 433.4h.9v.9h-.9zM106.7 433.9h.9v.9h-.9zM97.4 388.5h.9v.9h-.9zM88.0 401.8h.9v.9h-.9zM92.8 395.0h.9v.9h-.9zM96.9 387.7h.9v.9h-.9zM99.3 388.2h.9v.9h-.9zM100.0 394.5h.9v.9h-.9zM105.7 426.4h.9v.9h-.9zM105.9 418.9h.9v.9h-.9zM106.0 425.3h.9v.9h-.9zM97.9 394.6h.9v.9h-.9zM102.4 396.2h.9v.9h-.9zM102.5 396.8h.9v.9h-.9zM97.2 389.8h.9v.9h-.9zM86.0 412.2h.9v.9h-.9zM92.7 399.3h.9v.9h-.9zM106.5 434.3h.9v.9h-.9zM96.5 388.8h.9v.9h-.9zM80.9 419.3h.9v.9h-.9zM81.0 422.8h.9v.9h-.9zM89.1 409.1h.9v.9h-.9zM90.7 399.0h.9v.9h-.9zM80.7 436.8h.9v.9h-.9zM80.5 423.7h.9v.9h-.9zM78.4 431.3h.9v.9h-.9zM81.0 421.5h.9v.9h-.9zM85.8 407.8h.9v.9h-.9zM79.8 421.3h.9v.9h-.9zM85.0 414.6h.9v.9h-.9zM80.7 436.3h.9v.9h-.9zM107.0 435.9h.9v.9h-.9zM106.3 434.3h.9v.9h-.9zM80.2 437.3h.9v.9h-.9zM77.6 426.3h.9v.9h-.9zM100.0 392.8h.9v.9h-.9zM98.2 440.3h.9v.9h-.9zM98.1 441.1h.9v.9h-.9zM83.3 438.6h.9v.9h-.9zM81.0 433.6h.9v.9h-.9zM84.7 415.3h.9v.9h-.9zM79.7 425.5h.9v.9h-.9zM79.1 428.6h.9v.9h-.9zM81.1 427.3h.9v.9h-.9zM88.0 440.4h.9v.9h-.9zM106.8 433.0h.9v.9h-.9zM105.0 406.8h.9v.9h-.9zM106.4 432.6h.9v.9h-.9zM89.1 441.0h.9v.9h-.9zM85.6 408.3h.9v.9h-.9zM82.9 439.7h.9v.9h-.9zM90.8 398.2h.9v.9h-.9zM94.5 390.7h.9v.9h-.9zM80.3 427.5h.9v.9h-.9zM84.6 413.8h.9v.9h-.9zM78.4 432.9h.9v.9h-.9zM78.2 431.2h.9v.9h-.9zM104.7 411.1h.9v.9h-.9zM81.3 418.7h.9v.9h-.9zM81.2 431.2h.9v.9h-.9zM101.1 389.6h.9v.9h-.9zM80.0 429.8h.9v.9h-.9zM80.0 422.6h.9v.9h-.9zM86.0 413.2h.9v.9h-.9zM92.8 442.1h.9v.9h-.9zM104.3 439.3h.9v.9h-.9zM88.1 440.4h.9v.9h-.9zM83.0 439.1h.9v.9h-.9zM87.3 441.8h.9v.9h-.9zM93.0 440.4h.9v.9h-.9zM91.8 441.9h.9v.9h-.9zM97.9 440.3h.9v.9h-.9zM90.5 440.5h.9v.9h-.9zM100.9 442.0h.9v.9h-.9zM90.6 440.3h.9v.9h-.9zM99.9 441.4h.9v.9h-.9zM98.1 441.9h.9v.9h-.9zM84.3 439.7h.9v.9h-.9zM87.4 440.4h.9v.9h-.9zM87.8 442.1h.9v.9h-.9zM88.9 440.6h.9v.9h-.9zM104.5 439.4h.9v.9h-.9zM103.5 439.4h.9v.9h-.9zM100.3 441.9h.9v.9h-.9zM81.6 438.7h.9v.9h-.9zM82.3 439.8h.9v.9h-.9zM84.3 439.7h.9v.9h-.9zM96.0 388.6h.9v.9h-.9z" fill="#5c5faf" fill-opacity="0.85"/>
<path d="M82.5 422.9h.9v.9h-.9zM82.8 431.3h.9v.9h-.9zM83.7 437.3h.9v.9h-.9zM83.1 429.7h.9v.9h-.9zM83.2 431.1h.9v.9h-.9zM86.3 415.5h.9v.9h-.9zM82.2 433.7h.9v.9h-.9zM84.8 437.3h.9v.9h-.9zM82.4 423.5h.9v.9h-.9zM92.9 399.8h.9v.9h-.9zM91.4 403.9h.9v.9h-.9zM99.8 401.3h.9v.9h-.9zM105.5 429.3h.9v.9h-.9zM95.9 395.4h.9v.9h-.9zM85.6 416.8h.9v.9h-.9zM99.4 397.3h.9v.9h-.9zM99.1 397.9h.9v.9h-.9zM81.9 433.1h.9v.9h-.9zM97.3 401.2h.9v.9h-.9zM100.9 399.7h.9v.9h-.9zM88.7 411.2h.9v.9h-.9zM97.9 397.0h.9v.9h-.9zM97.4 400.1h.9v.9h-.9zM81.7 420.0h.9v.9h-.9zM82.6 433.6h.9v.9h-.9zM101.7 407.5h.9v.9h-.9zM95.9 399.4h.9v.9h-.9zM102.9 409.2h.9v.9h-.9zM81.7 435.0h.9v.9h-.9zM91.4 400.4h.9v.9h-.9zM104.9 413.5h.9v.9h-.9zM93.1 402.4h.9v.9h-.9zM91.1 409.2h.9v.9h-.9zM99.6 402.2h.9v.9h-.9zM82.4 420.2h.9v.9h-.9zM99.1 398.2h.9v.9h-.9zM98.7 395.6h.9v.9h-.9zM81.6 433.7h.9v.9h-.9zM104.6 414.3h.9v.9h-.9zM88.0 411.7h.9v.9h-.9zM85.4 413.9h.9v.9h-.9zM92.9 400.4h.9v.9h-.9zM100.1 402.8h.9v.9h-.9zM90.6 407.3h.9v.9h-.9zM85.4 416.4h.9v.9h-.9zM82.6 420.2h.9v.9h-.9zM82.0 423.1h.9v.9h-.9zM94.9 399.0h.9v.9h-.9zM94.0 397.9h.9v.9h-.9zM83.0 424.2h.9v.9h-.9zM94.6 399.7h.9v.9h-.9zM101.6 408.2h.9v.9h-.9zM100.7 401.4h.9v.9h-.9zM104.4 414.0h.9v.9h-.9zM100.8 402.8h.9v.9h-.9zM96.0 400.5h.9v.9h-.9zM83.1 423.1h.9v.9h-.9zM96.7 399.0h.9v.9h-.9zM92.6 404.1h.9v.9h-.9zM82.9 423.1h.9v.9h-.9zM93.9 397.8h.9v.9h-.9zM93.2 400.0h.9v.9h-.9zM103.6 414.4h.9v.9h-.9zM96.7 401.1h.9v.9h-.9zM101.5 408.1h.9v.9h-.9zM81.4 432.1h.9v.9h-.9zM83.2 431.3h.9v.9h-.9zM93.6 400.8h.9v.9h-.9zM106.8 428.4h.9v.9h-.9zM95.0 402.1h.9v.9h-.9zM86.2 417.7h.9v.9h-.9zM84.6 437.6h.9v.9h-.9zM106.0 429.3h.9v.9h-.9zM103.2 402.5h.9v.9h-.9zM84.1 437.9h.9v.9h-.9zM87.7 412.8h.9v.9h-.9zM102.4 438.4h.9v.9h-.9zM102.2 405.1h.9v.9h-.9zM81.6 422.8h.9v.9h-.9zM91.2 408.2h.9v.9h-.9zM101.6 406.4h.9v.9h-.9zM89.5 406.6h.9v.9h-.9zM82.1 426.2h.9v.9h-.9zM102.7 402.5h.9v.9h-.9zM81.7 435.9h.9v.9h-.9zM84.9 436.4h.9v.9h-.9zM87.5 411.6h.9v.9h-.9zM98.7 396.1h.9v.9h-.9zM105.0 436.2h.9v.9h-.9zM92.0 404.8h.9v.9h-.9zM84.7 437.4h.9v.9h-.9zM104.8 438.1h.9v.9h-.9zM91.8 402.8h.9v.9h-.9zM82.8 423.1h.9v.9h-.9zM104.5 416.2h.9v.9h-.9zM97.4 399.5h.9v.9h-.9zM101.7 405.3h.9v.9h-.9zM87.2 438.6h.9v.9h-.9zM89.1 411.4h.9v.9h-.9zM102.1 405.1h.9v.9h-.9zM107.0 431.6h.9v.9h-.9zM93.1 402.6h.9v.9h-.9zM107.3 431.4h.9v.9h-.9zM81.4 430.2h.9v.9h-.9zM103.3 405.2h.9v.9h-.9zM88.0 411.2h.9v.9h-.9zM104.4 414.3h.9v.9h-.9zM104.6 417.2h.9v.9h-.9zM83.6 418.0h.9v.9h-.9zM92.6 405.0h.9v.9h-.9zM103.2 407.2h.9v.9h-.9zM96.0 396.0h.9v.9h-.9zM88.2 413.5h.9v.9h-.9zM82.2 434.8h.9v.9h-.9zM106.3 430.0h.9v.9h-.9zM82.2 422.8h.9v.9h-.9zM96.3 397.9h.9v.9h-.9zM83.8 437.7h.9v.9h-.9zM86.7 417.3h.9v.9h-.9zM95.9 395.7h.9v.9h-.9zM89.8 406.1h.9v.9h-.9zM83.0 427.4h.9v.9h-.9zM101.9 406.0h.9v.9h-.9zM96.3 400.1h.9v.9h-.9zM86.2 417.3h.9v.9h-.9zM100.6 402.5h.9v.9h-.9zM83.1 424.2h.9v.9h-.9zM106.1 431.5h.9v.9h-.9zM93.5 400.0h.9v.9h-.9zM99.2 396.8h.9v.9h-.9zM82.4 424.6h.9v.9h-.9zM82.5 420.4h.9v.9h-.9zM98.1 398.3h.9v.9h-.9zM99.9 401.9h.9v.9h-.9zM102.0 402.7h.9v.9h-.9zM102.0 405.8h.9v.9h-.9zM83.2 433.2h.9v.9h-.9zM105.8 431.7h.9v.9h-.9zM106.5 431.2h.9v.9h-.9zM81.3 436.2h.9v.9h-.9zM83.9 437.2h.9v.9h-.9zM83.9 419.1h.9v.9h-.9zM98.7 399.0h.9v.9h-.9zM102.4 408.9h.9v.9h-.9zM81.6 433.1h.9v.9h-.9zM86.7 416.6h.9v.9h-.9zM103.5 419.7h.9v.9h-.9zM90.8 409.1h.9v.9h-.9zM82.1 431.9h.9v.9h-.9zM96.6 397.7h.9v.9h-.9zM82.1 424.0h.9v.9h-.9zM100.8 401.5h.9v.9h-.9zM102.2 405.6h.9v.9h-.9zM82.9 431.0h.9v.9h-.9zM93.3 403.5h.9v.9h-.9zM95.9 401.3h.9v.9h-.9zM101.0 401.3h.9v.9h-.9zM101.5 438.1h.9v.9h-.9zM82.9 427.2h.9v.9h-.9zM102.6 405.7h.9v.9h-.9zM103.0 404.0h.9v.9h-.9zM101.9 438.5h.9v.9h-.9zM85.6 416.5h.9v.9h-.9zM102.3 401.4h.9v.9h-.9zM104.8 418.9h.9v.9h-.9zM93.7 399.3h.9v.9h-.9zM83.2 433.8h.9v.9h-.9zM104.2 419.0h.9v.9h-.9zM82.4 425.5h.9v.9h-.9zM105.4 431.9h.9v.9h-.9zM94.9 398.0h.9v.9h-.9zM97.3 398.3h.9v.9h-.9zM98.0 400.4h.9v.9h-.9zM95.8 399.6h.9v.9h-.9zM81.7 420.9h.9v.9h-.9zM93.5 402.2h.9v.9h-.9zM95.6 396.3h.9v.9h-.9zM95.7 400.2h.9v.9h-.9zM83.1 432.2h.9v.9h-.9zM98.6 399.5h.9v.9h-.9zM88.1 438.1h.9v.9h-.9zM84.9 437.1h.9v.9h-.9zM100.8 398.8h.9v.9h-.9zM82.4 437.2h.9v.9h-.9zM98.3 401.0h.9v.9h-.9zM82.0 425.4h.9v.9h-.9zM87.6 438.7h.9v.9h-.9zM87.9 438.6h.9v.9h-.9zM104.7 436.4h.9v.9h-.9zM92.9 399.8h.9v.9h-.9zM81.9 434.0h.9v.9h-.9zM91.9 402.6h.9v.9h-.9zM102.1 406.3h.9v.9h-.9zM82.4 434.9h.9v.9h-.9zM84.8 436.2h.9v.9h-.9zM95.0 402.6h.9v.9h-.9zM100.2 401.6h.9v.9h-.9zM91.4 401.8h.9v.9h-.9zM82.6 425.3h.9v.9h-.9zM94.3 398.4h.9v.9h-.9zM100.8 397.9h.9v.9h-.9zM96.6 397.6h.9v.9h-.9zM93.0 401.0h.9v.9h-.9zM105.0 436.6h.9v.9h-.9zM81.5 433.6h.9v.9h-.9zM84.3 437.1h.9v.9h-.9zM103.9 414.9h.9v.9h-.9zM81.6 429.8h.9v.9h-.9zM84.8 436.2h.9v.9h-.9zM101.4 407.5h.9v.9h-.9zM81.9 420.4h.9v.9h-.9zM95.4 398.7h.9v.9h-.9zM97.8 398.8h.9v.9h-.9zM102.0 406.1h.9v.9h-.9zM94.5 398.1h.9v.9h-.9zM99.7 400.5h.9v.9h-.9zM92.3 401.1h.9v.9h-.9zM94.6 398.5h.9v.9h-.9zM83.0 429.3h.9v.9h-.9zM106.1 431.5h.9v.9h-.9zM93.7 401.8h.9v.9h-.9zM101.6 408.0h.9v.9h-.9zM94.0 399.5h.9v.9h-.9zM103.7 413.1h.9v.9h-.9zM86.0 414.2h.9v.9h-.9zM89.9 406.1h.9v.9h-.9zM95.8 397.7h.9v.9h-.9zM98.1 400.3h.9v.9h-.9zM88.8 410.7h.9v.9h-.9zM99.0 397.8h.9v.9h-.9zM104.6 414.4h.9v.9h-.9zM86.3 438.6h.9v.9h-.9zM90.5 407.7h.9v.9h-.9zM104.6 437.4h.9v.9h-.9zM88.4 412.9h.9v.9h-.9zM101.6 402.8h.9v.9h-.9zM97.9 396.8h.9v.9h-.9zM104.9 418.6h.9v.9h-.9zM94.9 401.9h.9v.9h-.9zM87.8 413.6h.9v.9h-.9zM101.5 406.1h.9v.9h-.9zM83.1 431.7h.9v.9h-.9zM91.4 401.1h.9v.9h-.9zM103.6 436.2h.9v.9h-.9zM85.5 414.8h.9v.9h-.9zM85.1 436.8h.9v.9h-.9zM90.6 406.8h.9v.9h-.9zM93.9 402.9h.9v.9h-.9zM102.3 402.9h.9v.9h-.9zM100.3 397.5h.9v.9h-.9zM104.3 415.2h.9v.9h-.9zM100.6 401.1h.9v.9h-.9zM92.2 402.2h.9v.9h-.9zM103.8 412.1h.9v.9h-.9zM85.0 418.1h.9v.9h-.9zM97.3 400.2h.9v.9h-.9zM97.8 397.9h.9v.9h-.9zM82.8 425.1h.9v.9h-.9zM83.1 437.9h.9v.9h-.9zM82.3 423.4h.9v.9h-.9zM106.2 429.2h.9v.9h-.9zM99.8 403.4h.9v.9h-.9zM101.0 397.4h.9v.9h-.9zM99.0 399.4h.9v.9h-.9zM82.1 420.9h.9v.9h-.9zM81.7 422.4h.9v.9h-.9zM101.9 404.6h.9v.9h-.9zM82.0 432.9h.9v.9h-.9zM94.4 397.4h.9v.9h-.9zM84.0 416.3h.9v.9h-.9zM90.4 408.0h.9v.9h-.9zM84.5 417.5h.9v.9h-.9zM103.3 404.9h.9v.9h-.9zM83.0 422.9h.9v.9h-.9zM97.9 400.6h.9v.9h-.9zM82.3 435.0h.9v.9h-.9zM81.4 433.3h.9v.9h-.9zM103.5 415.0h.9v.9h-.9zM91.6 404.5h.9v.9h-.9zM94.7 401.9h.9v.9h-.9zM88.0 409.8h.9v.9h-.9zM100.6 402.6h.9v.9h-.9zM83.2 435.4h.9v.9h-.9zM83.3 436.7h.9v.9h-.9zM98.8 396.6h.9v.9h-.9zM105.2 414.3h.9v.9h-.9zM101.3 398.6h.9v.9h-.9zM105.8 431.1h.9v.9h-.9zM92.8 400.3h.9v.9h-.9zM94.3 402.9h.9v.9h-.9zM91.9 399.9h.9v.9h-.9zM81.4 433.2h.9v.9h-.9zM107.4 429.6h.9v.9h-.9zM101.1 401.7h.9v.9h-.9zM96.2 396.4h.9v.9h-.9zM82.9 421.4h.9v.9h-.9zM93.5 403.3h.9v.9h-.9zM84.1 416.8h.9v.9h-.9zM105.2 412.7h.9v.9h-.9zM106.7 431.1h.9v.9h-.9zM99.1 396.0h.9v.9h-.9zM99.2 398.7h.9v.9h-.9zM98.0 400.0h.9v.9h-.9zM101.1 402.7h.9v.9h-.9zM81.5 426.2h.9v.9h-.9zM102.5 401.9h.9v.9h-.9zM92.9 400.9h.9v.9h-.9zM103.0 404.3h.9v.9h-.9zM101.1 397.6h.9v.9h-.9zM92.0 399.4h.9v.9h-.9zM83.2 420.7h.9v.9h-.9zM82.1 428.8h.9v.9h-.9zM102.1 407.5h.9v.9h-.9zM101.3 401.3h.9v.9h-.9zM102.1 403.4h.9v.9h-.9zM90.7 406.5h.9v.9h-.9zM87.0 416.9h.9v.9h-.9zM93.4 397.8h.9v.9h-.9zM99.7 403.2h.9v.9h-.9zM95.8 399.9h.9v.9h-.9zM87.6 410.1h.9v.9h-.9zM83.1 421.0h.9v.9h-.9zM88.8 410.5h.9v.9h-.9zM99.0 398.3h.9v.9h-.9zM82.7 428.7h.9v.9h-.9zM103.8 418.6h.9v.9h-.9zM91.8 404.3h.9v.9h-.9zM107.3 431.5h.9v.9h-.9zM83.0 425.5h.9v.9h-.9zM86.2 414.7h.9v.9h-.9zM98.6 396.1h.9v.9h-.9zM81.7 436.7h.9v.9h-.9zM102.3 402.0h.9v.9h-.9zM102.5 438.8h.9v.9h-.9zM105.1 416.7h.9v.9h-.9zM99.1 396.5h.9v.9h-.9zM92.8 402.6h.9v.9h-.9zM83.2 428.5h.9v.9h-.9zM99.7 397.8h.9v.9h-.9zM97.3 398.6h.9v.9h-.9zM93.6 397.7h.9v.9h-.9zM97.3 397.9h.9v.9h-.9zM89.0 409.7h.9v.9h-.9zM82.0 431.5h.9v.9h-.9zM98.5 401.3h.9v.9h-.9zM101.6 406.2h.9v.9h-.9zM106.4 429.0h.9v.9h-.9zM105.1 411.6h.9v.9h-.9zM99.7 397.5h.9v.9h-.9zM87.9 409.7h.9v.9h-.9zM104.3 417.0h.9v.9h-.9zM101.0 400.8h.9v.9h-.9zM81.5 423.3h.9v.9h-.9zM84.3 436.5h.9v.9h-.9zM100.5 402.8h.9v.9h-.9zM103.7 419.5h.9v.9h-.9zM93.9 401.8h.9v.9h-.9zM89.1 410.5h.9v.9h-.9zM102.5 408.7h.9v.9h-.9zM98.0 399.5h.9v.9h-.9zM96.8 398.4h.9v.9h-.9zM103.0 407.1h.9v.9h-.9zM98.7 399.4h.9v.9h-.9zM99.3 400.9h.9v.9h-.9zM99.3 398.7h.9v.9h-.9zM84.5 415.8h.9v.9h-.9zM104.3 416.4h.9v.9h-.9zM96.3 395.6h.9v.9h-.9zM91.9 402.4h.9v.9h-.9zM93.5 399.7h.9v.9h-.9zM95.0 398.2h.9v.9h-.9zM88.4 409.7h.9v.9h-.9zM103.4 408.6h.9v.9h-.9zM83.1 435.9h.9v.9h-.9zM87.0 439.1h.9v.9h-.9zM104.2 436.9h.9v.9h-.9zM94.6 401.8h.9v.9h-.9zM96.5 400.0h.9v.9h-.9zM106.3 430.3h.9v.9h-.9zM95.8 400.4h.9v.9h-.9zM81.9 424.9h.9v.9h-.9zM97.8 398.8h.9v.9h-.9zM82.7 437.9h.9v.9h-.9zM95.9 399.4h.9v.9h-.9zM100.5 403.3h.9v.9h-.9zM97.8 395.3h.9v.9h-.9zM86.9 439.1h.9v.9h-.9zM89.9 406.8h.9v.9h-.9zM88.0 409.7h.9v.9h-.9zM85.9 416.5h.9v.9h-.9zM102.7 407.2h.9v.9h-.9zM103.5 412.4h.9v.9h-.9zM101.7 407.9h.9v.9h-.9zM107.0 429.8h.9v.9h-.9zM82.7 437.8h.9v.9h-.9zM104.1 437.6h.9v.9h-.9zM85.0 416.0h.9v.9h-.9zM89.1 412.9h.9v.9h-.9zM103.0 403.6h.9v.9h-.9zM100.5 397.4h.9v.9h-.9zM82.8 423.0h.9v.9h-.9zM93.1 403.3h.9v.9h-.9zM103.9 416.3h.9v.9h-.9zM81.9 435.1h.9v.9h-.9zM82.7 425.8h.9v.9h-.9zM97.1 396.5h.9v.9h-.9zM87.1 415.2h.9v.9h-.9zM83.2 430.0h.9v.9h-.9zM103.4 437.5h.9v.9h-.9zM105.2 413.9h.9v.9h-.9zM82.8 432.5h.9v.9h-.9zM97.7 397.9h.9v.9h-.9zM96.3 396.5h.9v.9h-.9zM103.0 439.3h.9v.9h-.9zM89.4 408.0h.9v.9h-.9zM98.2 398.3h.9v.9h-.9zM100.7 399.9h.9v.9h-.9zM91.2 408.2h.9v.9h-.9zM82.9 426.8h.9v.9h-.9zM88.8 410.9h.9v.9h-.9zM90.3 408.2h.9v.9h-.9zM87.1 438.9h.9v.9h-.9zM98.3 397.8h.9v.9h-.9zM97.4 400.7h.9v.9h-.9zM92.4 399.7h.9v.9h-.9zM81.6 432.8h.9v.9h-.9zM101.2 399.1h.9v.9h-.9zM81.5 429.5h.9v.9h-.9zM98.2 396.0h.9v.9h-.9zM97.9 400.1h.9v.9h-.9zM89.6 406.1h.9v.9h-.9zM82.6 436.4h.9v.9h-.9zM100.5 399.9h.9v.9h-.9zM82.7 434.4h.9v.9h-.9zM82.9 436.2h.9v.9h-.9zM83.1 432.0h.9v.9h-.9zM82.9 430.6h.9v.9h-.9zM105.1 412.5h.9v.9h-.9zM99.5 398.6h.9v.9h-.9zM82.7 424.8h.9v.9h-.9zM89.4 407.5h.9v.9h-.9zM82.0 437.0h.9v.9h-.9zM98.4 396.7h.9v.9h-.9zM103.3 408.4h.9v.9h-.9zM86.4 438.3h.9v.9h-.9zM83.0 436.6h.9v.9h-.9zM102.4 402.6h.9v.9h-.9zM83.6 437.2h.9v.9h-.9zM85.3 417.6h.9v.9h-.9zM103.7 414.7h.9v.9h-.9zM98.5 397.8h.9v.9h-.9zM90.6 408.3h.9v.9h-.9zM95.2 401.9h.9v.9h-.9zM86.6 417.0h.9v.9h-.9zM91.3 406.6h.9v.9h-.9zM82.9 427.0h.9v.9h-.9zM99.6 399.2h.9v.9h-.9zM101.0 400.3h.9v.9h-.9zM86.4 415.3h.9v.9h-.9zM92.9 400.2h.9v.9h-.9zM101.2 398.9h.9v.9h-.9zM101.8 404.8h.9v.9h-.9zM85.9 417.0h.9v.9h-.9zM105.7 428.8h.9v.9h-.9zM82.3 430.4h.9v.9h-.9zM87.5 438.3h.9v.9h-.9zM84.4 418.6h.9v.9h-.9zM99.0 395.4h.9v.9h-.9zM83.0 424.7h.9v.9h-.9zM96.3 400.1h.9v.9h-.9zM97.2 401.3h.9v.9h-.9zM96.2 400.6h.9v.9h-.9zM84.9 437.5h.9v.9h-.9zM81.6 436.9h.9v.9h-.9zM93.6 401.5h.9v.9h-.9zM83.6 416.3h.9v.9h-.9zM105.0 437.0h.9v.9h-.9zM103.3 403.3h.9v.9h-.9zM104.5 413.8h.9v.9h-.9zM100.3 403.4h.9v.9h-.9zM94.1 402.8h.9v.9h-.9zM104.9 413.8h.9v.9h-.9zM94.0 400.8h.9v.9h-.9zM86.6 439.2h.9v.9h-.9zM104.4 413.7h.9v.9h-.9zM100.4 402.8h.9v.9h-.9zM91.8 402.2h.9v.9h-.9zM101.4 402.1h.9v.9h-.9zM98.2 398.4h.9v.9h-.9zM105.0 415.9h.9v.9h-.9zM89.4 406.8h.9v.9h-.9zM104.8 412.1h.9v.9h-.9zM107.3 431.8h.9v.9h-.9zM83.4 418.9h.9v.9h-.9zM96.2 395.9h.9v.9h-.9zM81.9 433.5h.9v.9h-.9zM83.6 418.4h.9v.9h-.9zM94.6 397.8h.9v.9h-.9zM91.0 406.1h.9v.9h-.9zM82.6 422.5h.9v.9h-.9zM83.1 419.8h.9v.9h-.9zM82.9 421.9h.9v.9h-.9zM88.3 439.5h.9v.9h-.9zM89.3 413.1h.9v.9h-.9zM105.6 431.5h.9v.9h-.9zM81.9 423.1h.9v.9h-.9zM81.9 424.2h.9v.9h-.9zM86.2 414.5h.9v.9h-.9zM82.7 422.9h.9v.9h-.9zM82.0 428.9h.9v.9h-.9zM82.4 428.8h.9v.9h-.9zM95.1 442.0h.9v.9h-.9zM81.6 421.2h.9v.9h-.9zM81.8 421.7h.9v.9h-.9zM86.8 416.8h.9v.9h-.9zM100.9 400.9h.9v.9h-.9zM82.2 431.4h.9v.9h-.9zM83.7 417.4h.9v.9h-.9zM98.6 396.9h.9v.9h-.9zM82.9 437.4h.9v.9h-.9zM84.3 416.5h.9v.9h-.9zM90.4 409.2h.9v.9h-.9zM83.0 434.6h.9v.9h-.9zM101.8 404.5h.9v.9h-.9zM102.6 408.5h.9v.9h-.9zM105.6 428.0h.9v.9h-.9zM83.4 419.1h.9v.9h-.9zM102.9 406.6h.9v.9h-.9zM97.9 400.1h.9v.9h-.9zM86.0 415.0h.9v.9h-.9zM90.1 407.1h.9v.9h-.9zM87.5 439.4h.9v.9h-.9zM85.3 418.0h.9v.9h-.9zM83.6 419.3h.9v.9h-.9zM81.7 423.7h.9v.9h-.9zM95.2 441.7h.9v.9h-.9zM102.0 438.6h.9v.9h-.9zM89.2 439.3h.9v.9h-.9zM86.7 438.9h.9v.9h-.9zM101.6 440.1h.9v.9h-.9zM85.7 438.3h.9v.9h-.9zM89.3 439.2h.9v.9h-.9zM95.3 441.9h.9v.9h-.9zM93.6 441.6h.9v.9h-.9zM86.7 438.3h.9v.9h-.9zM102.9 439.4h.9v.9h-.9zM95.0 440.7h.9v.9h-.9zM81.9 420.1h.9v.9h-.9zM81.4 430.3h.9v.9h-.9zM104.3 436.6h.9v.9h-.9zM103.8 417.2h.9v.9h-.9z" fill="#575bab" fill-opacity="0.85"/>
<path d="M84.1 427.1h.9v.9h-.9zM85.1 428.8h.9v.9h-.9zM83.4 431.5h.9v.9h-.9zM84.8 430.2h.9v.9h-.9zM85.2 435.2h.9v.9h-.9zM87.1 418.0h.9v.9h-.9zM83.7 427.8h.9v.9h-.9zM86.4 437.2h.9v.9h-.9zM83.7 423.2h.9v.9h-.9zM85.1 432.4h.9v.9h-.9zM87.9 415.3h.9v.9h-.9zM92.3 409.4h.9v.9h-.9zM84.4 432.1h.9v.9h-.9zM85.0 432.7h.9v.9h-.9zM85.2 430.1h.9v.9h-.9zM86.9 436.8h.9v.9h-.9zM83.8 431.5h.9v.9h-.9zM83.4 433.6h.9v.9h-.9zM91.3 410.9h.9v.9h-.9zM84.0 428.2h.9v.9h-.9zM84.4 433.0h.9v.9h-.9zM90.0 411.3h.9v.9h-.9zM83.9 433.3h.9v.9h-.9zM92.2 405.7h.9v.9h-.9zM97.8 404.0h.9v.9h-.9zM86.4 417.9h.9v.9h-.9zM83.7 420.8h.9v.9h-.9zM105.0 423.2h.9v.9h-.9zM103.6 421.2h.9v.9h-.9zM85.0 425.0h.9v.9h-.9zM85.8 418.8h.9v.9h-.9zM103.4 424.2h.9v.9h-.9zM97.8 402.7h.9v.9h-.9zM84.3 423.4h.9v.9h-.9zM94.9 404.5h.9v.9h-.9zM104.3 422.6h.9v.9h-.9zM94.3 403.8h.9v.9h-.9zM84.5 421.8h.9v.9h-.9zM102.4 412.0h.9v.9h-.9zM96.9 404.0h.9v.9h-.9zM99.7 406.3h.9v.9h-.9zM101.1 404.0h.9v.9h-.9zM97.5 402.2h.9v.9h-.9zM98.0 405.2h.9v.9h-.9zM95.3 404.9h.9v.9h-.9zM101.7 415.7h.9v.9h-.9zM85.3 421.0h.9v.9h-.9zM101.7 414.3h.9v.9h-.9zM104.9 423.0h.9v.9h-.9zM86.6 437.4h.9v.9h-.9zM103.6 422.4h.9v.9h-.9zM91.5 406.1h.9v.9h-.9zM104.0 433.8h.9v.9h-.9zM87.0 436.8h.9v.9h-.9zM86.9 418.8h.9v.9h-.9zM87.7 415.9h.9v.9h-.9zM85.3 435.4h.9v.9h-.9zM95.2 404.1h.9v.9h-.9zM83.4 420.1h.9v.9h-.9zM104.2 430.1h.9v.9h-.9zM89.3 417.5h.9v.9h-.9zM92.3 408.6h.9v.9h-.9zM99.8 406.6h.9v.9h-.9zM101.8 413.2h.9v.9h-.9zM103.1 409.7h.9v.9h-.9zM92.0 405.9h.9v.9h-.9zM83.3 433.6h.9v.9h-.9zM85.7 436.5h.9v.9h-.9zM86.9 418.4h.9v.9h-.9zM102.2 413.2h.9v.9h-.9zM99.6 438.8h.9v.9h-.9zM96.4 405.3h.9v.9h-.9zM104.6 423.9h.9v.9h-.9zM100.4 404.0h.9v.9h-.9zM84.7 423.2h.9v.9h-.9zM83.7 425.9h.9v.9h-.9zM92.2 409.5h.9v.9h-.9zM100.4 406.9h.9v.9h-.9zM87.2 436.7h.9v.9h-.9zM84.0 422.3h.9v.9h-.9zM87.4 415.5h.9v.9h-.9zM85.0 434.5h.9v.9h-.9zM95.5 403.2h.9v.9h-.9zM102.3 412.9h.9v.9h-.9zM104.2 428.1h.9v.9h-.9zM83.4 432.9h.9v.9h-.9zM95.9 402.0h.9v.9h-.9zM87.3 419.2h.9v.9h-.9zM83.3 433.1h.9v.9h-.9zM89.8 410.3h.9v.9h-.9zM98.9 401.9h.9v.9h-.9zM104.5 429.8h.9v.9h-.9zM86.5 421.2h.9v.9h-.9zM100.6 404.3h.9v.9h-.9zM99.8 404.7h.9v.9h-.9zM99.5 405.5h.9v.9h-.9zM87.1 437.1h.9v.9h-.9zM85.2 432.8h.9v.9h-.9zM85.6 420.8h.9v.9h-.9zM84.8 433.6h.9v.9h-.9zM92.5 407.5h.9v.9h-.9zM102.6 414.4h.9v.9h-.9zM103.6 430.7h.9v.9h-.9zM88.4 415.4h.9v.9h-.9zM103.3 414.3h.9v.9h-.9zM101.3 406.9h.9v.9h-.9zM105.4 423.5h.9v.9h-.9zM97.3 404.6h.9v.9h-.9zM92.5 406.3h.9v.9h-.9zM99.0 405.2h.9v.9h-.9zM84.9 420.1h.9v.9h-.9zM92.7 406.6h.9v.9h-.9zM94.5 405.0h.9v.9h-.9zM103.0 410.5h.9v.9h-.9zM96.1 403.0h.9v.9h-.9zM95.0 406.2h.9v.9h-.9zM102.2 414.8h.9v.9h-.9zM103.5 426.8h.9v.9h-.9zM103.7 430.8h.9v.9h-.9zM88.0 417.0h.9v.9h-.9zM90.3 411.9h.9v.9h-.9zM105.4 420.8h.9v.9h-.9zM98.8 401.7h.9v.9h-.9zM98.0 402.6h.9v.9h-.9zM90.0 410.3h.9v.9h-.9zM92.1 408.0h.9v.9h-.9zM85.4 437.2h.9v.9h-.9zM105.0 433.3h.9v.9h-.9zM105.1 433.6h.9v.9h-.9zM83.5 432.8h.9v.9h-.9zM85.2 423.8h.9v.9h-.9zM99.2 405.4h.9v.9h-.9zM104.6 424.9h.9v.9h-.9zM94.6 405.4h.9v.9h-.9zM104.4 421.1h.9v.9h-.9zM97.2 405.2h.9v.9h-.9zM86.0 419.2h.9v.9h-.9zM100.5 404.1h.9v.9h-.9zM85.7 420.3h.9v.9h-.9zM96.0 404.7h.9v.9h-.9zM85.1 422.3h.9v.9h-.9zM103.0 413.2h.9v.9h-.9zM99.0 402.0h.9v.9h-.9zM86.7 437.7h.9v.9h-.9zM84.6 432.8h.9v.9h-.9zM90.9 411.2h.9v.9h-.9zM84.0 426.5h.9v.9h-.9zM85.3 426.3h.9v.9h-.9zM94.6 404.5h.9v.9h-.9zM87.5 414.3h.9v.9h-.9zM104.5 423.2h.9v.9h-.9zM104.3 429.1h.9v.9h-.9zM94.5 405.0h.9v.9h-.9zM92.9 408.4h.9v.9h-.9zM102.4 409.8h.9v.9h-.9zM104.7 426.2h.9v.9h-.9zM103.8 433.1h.9v.9h-.9zM87.0 436.1h.9v.9h-.9zM91.1 412.1h.9v.9h-.9zM105.3 435.5h.9v.9h-.9zM84.6 432.2h.9v.9h-.9zM89.9 409.6h.9v.9h-.9zM89.5 411.4h.9v.9h-.9zM98.8 404.4h.9v.9h-.9zM84.9 424.5h.9v.9h-.9zM90.6 412.2h.9v.9h-.9zM103.6 428.6h.9v.9h-.9zM86.2 420.5h.9v.9h-.9zM90.7 409.9h.9v.9h-.9zM100.5 404.4h.9v.9h-.9zM100.3 405.0h.9v.9h-.9zM103.9 434.0h.9v.9h-.9zM86.9 437.5h.9v.9h-.9zM102.5 413.3h.9v.9h-.9zM95.9 403.3h.9v.9h-.9zM84.8 425.1h.9v.9h-.9zM102.5 412.4h.9v.9h-.9zM99.3 403.1h.9v.9h-.9zM88.1 417.6h.9v.9h-.9zM105.4 426.9h.9v.9h-.9zM90.4 412.8h.9v.9h-.9zM85.5 437.8h.9v.9h-.9zM85.4 420.8h.9v.9h-.9zM87.5 414.1h.9v.9h-.9zM86.9 419.4h.9v.9h-.9zM104.6 428.2h.9v.9h-.9zM83.4 435.3h.9v.9h-.9zM87.5 414.8h.9v.9h-.9zM100.3 403.9h.9v.9h-.9zM94.2 405.3h.9v.9h-.9zM90.8 412.2h.9v.9h-.9zM104.7 424.4h.9v.9h-.9zM84.8 434.0h.9v.9h-.9zM84.4 434.2h.9v.9h-.9zM104.3 427.1h.9v.9h-.9zM85.6 437.0h.9v.9h-.9zM105.1 420.6h.9v.9h-.9zM87.5 415.1h.9v.9h-.9zM94.6 403.8h.9v.9h-.9zM90.6 410.2h.9v.9h-.9zM89.4 438.4h.9v.9h-.9zM87.6 415.8h.9v.9h-.9zM83.6 427.8h.9v.9h-.9zM103.6 424.6h.9v.9h-.9zM90.9 409.7h.9v.9h-.9zM84.2 435.2h.9v.9h-.9zM103.4 415.4h.9v.9h-.9zM99.9 405.1h.9v.9h-.9zM97.3 405.0h.9v.9h-.9zM83.7 422.6h.9v.9h-.9zM87.4 415.8h.9v.9h-.9zM91.2 438.3h.9v.9h-.9zM85.1 427.2h.9v.9h-.9zM104.3 421.2h.9v.9h-.9zM91.7 407.2h.9v.9h-.9zM91.6 405.5h.9v.9h-.9zM104.3 425.7h.9v.9h-.9zM104.1 420.5h.9v.9h-.9zM84.7 427.8h.9v.9h-.9zM89.2 417.6h.9v.9h-.9zM85.2 424.2h.9v.9h-.9zM83.8 430.7h.9v.9h-.9zM102.1 410.8h.9v.9h-.9zM104.0 432.6h.9v.9h-.9zM98.2 404.9h.9v.9h-.9zM89.2 414.9h.9v.9h-.9zM87.0 436.5h.9v.9h-.9zM104.6 429.9h.9v.9h-.9zM97.3 403.4h.9v.9h-.9zM103.4 433.7h.9v.9h-.9zM90.8 412.7h.9v.9h-.9zM105.1 421.8h.9v.9h-.9zM99.6 403.9h.9v.9h-.9zM84.2 420.7h.9v.9h-.9zM87.0 437.7h.9v.9h-.9zM87.3 421.2h.9v.9h-.9zM83.5 434.2h.9v.9h-.9zM86.7 437.4h.9v.9h-.9zM93.2 406.2h.9v.9h-.9zM89.5 413.2h.9v.9h-.9zM104.8 425.2h.9v.9h-.9zM105.2 434.8h.9v.9h-.9zM95.3 404.4h.9v.9h-.9zM101.3 406.9h.9v.9h-.9zM91.2 438.8h.9v.9h-.9zM102.1 412.9h.9v.9h-.9zM100.9 405.8h.9v.9h-.9zM101.2 405.5h.9v.9h-.9zM103.7 423.3h.9v.9h-.9zM104.1 422.4h.9v.9h-.9zM84.4 422.0h.9v.9h-.9zM102.8 411.7h.9v.9h-.9zM84.0 435.5h.9v.9h-.9zM96.0 403.2h.9v.9h-.9zM90.6 438.6h.9v.9h-.9zM104.2 434.4h.9v.9h-.9zM104.7 430.6h.9v.9h-.9zM90.2 413.6h.9v.9h-.9zM84.5 433.2h.9v.9h-.9zM101.6 414.4h.9v.9h-.9zM98.6 402.0h.9v.9h-.9zM100.5 438.2h.9v.9h-.9zM95.8 404.9h.9v.9h-.9zM88.7 414.9h.9v.9h-.9zM85.1 423.2h.9v.9h-.9zM86.7 418.5h.9v.9h-.9zM84.5 433.3h.9v.9h-.9zM105.1 432.9h.9v.9h-.9zM104.2 433.6h.9v.9h-.9zM84.0 421.6h.9v.9h-.9zM91.6 408.2h.9v.9h-.9zM85.0 435.6h.9v.9h-.9zM104.6 433.5h.9v.9h-.9zM95.5 401.6h.9v.9h-.9zM101.9 409.8h.9v.9h-.9zM94.4 406.8h.9v.9h-.9zM86.1 437.7h.9v.9h-.9zM83.7 434.2h.9v.9h-.9zM102.7 411.2h.9v.9h-.9zM85.2 421.5h.9v.9h-.9zM96.9 405.3h.9v.9h-.9zM84.0 431.5h.9v.9h-.9zM84.5 426.3h.9v.9h-.9zM95.4 405.0h.9v.9h-.9zM84.9 420.0h.9v.9h-.9zM83.7 433.1h.9v.9h-.9zM96.5 404.9h.9v.9h-.9zM84.1 429.2h.9v.9h-.9zM97.2 402.7h.9v.9h-.9zM91.5 408.4h.9v.9h-.9zM105.2 420.0h.9v.9h-.9zM100.9 406.0h.9v.9h-.9zM99.1 402.7h.9v.9h-.9zM91.8 405.6h.9v.9h-.9zM103.4 426.2h.9v.9h-.9zM97.8 403.4h.9v.9h-.9zM103.8 429.1h.9v.9h-.9zM99.7 405.8h.9v.9h-.9zM99.0 401.9h.9v.9h-.9zM84.2 426.8h.9v.9h-.9zM97.2 404.7h.9v.9h-.9zM105.1 430.6h.9v.9h-.9zM88.1 414.2h.9v.9h-.9zM83.4 420.6h.9v.9h-.9zM103.8 432.8h.9v.9h-.9zM83.6 424.5h.9v.9h-.9zM86.7 418.7h.9v.9h-.9zM101.1 405.9h.9v.9h-.9zM103.2 413.7h.9v.9h-.9zM96.2 404.8h.9v.9h-.9zM84.3 425.0h.9v.9h-.9zM102.4 415.4h.9v.9h-.9zM84.8 425.0h.9v.9h-.9zM84.0 425.5h.9v.9h-.9zM89.8 438.7h.9v.9h-.9zM85.0 421.9h.9v.9h-.9zM91.8 408.8h.9v.9h-.9zM104.6 435.2h.9v.9h-.9zM97.5 405.4h.9v.9h-.9zM83.3 419.9h.9v.9h-.9zM104.3 435.7h.9v.9h-.9zM104.7 434.1h.9v.9h-.9zM84.3 433.3h.9v.9h-.9zM101.3 403.5h.9v.9h-.9zM96.6 402.9h.9v.9h-.9zM85.8 436.7h.9v.9h-.9zM100.1 438.8h.9v.9h-.9zM84.6 429.8h.9v.9h-.9zM85.1 424.2h.9v.9h-.9zM89.5 411.5h.9v.9h-.9zM85.7 420.3h.9v.9h-.9zM97.8 405.0h.9v.9h-.9zM102.4 411.7h.9v.9h-.9zM91.5 406.0h.9v.9h-.9zM91.1 409.7h.9v.9h-.9zM88.0 413.7h.9v.9h-.9zM84.7 435.8h.9v.9h-.9zM95.7 401.5h.9v.9h-.9zM90.6 439.2h.9v.9h-.9zM103.7 429.7h.9v.9h-.9zM89.9 409.7h.9v.9h-.9zM104.3 434.5h.9v.9h-.9zM103.1 410.7h.9v.9h-.9zM94.6 405.3h.9v.9h-.9zM105.3 429.7h.9v.9h-.9zM103.5 433.2h.9v.9h-.9zM94.6 403.6h.9v.9h-.9zM102.6 413.6h.9v.9h-.9zM84.0 430.5h.9v.9h-.9zM86.2 418.1h.9v.9h-.9zM103.9 431.8h.9v.9h-.9zM95.9 403.6h.9v.9h-.9zM92.0 407.9h.9v.9h-.9zM99.2 403.1h.9v.9h-.9zM104.1 425.2h.9v.9h-.9zM104.9 428.3h.9v.9h-.9zM88.5 414.9h.9v.9h-.9zM93.0 408.6h.9v.9h-.9zM101.6 410.3h.9v.9h-.9zM100.7 403.6h.9v.9h-.9zM83.7 429.1h.9v.9h-.9zM104.9 426.7h.9v.9h-.9zM92.0 409.2h.9v.9h-.9zM100.4 439.0h.9v.9h-.9zM85.7 436.7h.9v.9h-.9zM104.2 428.0h.9v.9h-.9zM95.0 405.8h.9v.9h-.9zM93.6 406.4h.9v.9h-.9zM95.5 404.0h.9v.9h-.9zM91.7 407.0h.9v.9h-.9zM85.3 431.2h.9v.9h-.9zM103.8 429.6h.9v.9h-.9zM84.2 428.8h.9v.9h-.9zM98.8 403.1h.9v.9h-.9zM102.6 410.1h.9v.9h-.9zM87.0 419.8h.9v.9h-.9zM83.6 421.8h.9v.9h-.9zM102.0 411.8h.9v.9h-.9zM83.7 419.9h.9v.9h-.9zM99.0 404.2h.9v.9h-.9zM101.0 404.8h.9v.9h-.9zM98.7 404.0h.9v.9h-.9zM104.3 434.8h.9v.9h-.9zM93.6 407.3h.9v.9h-.9zM87.1 437.7h.9v.9h-.9zM100.1 438.8h.9v.9h-.9zM97.3 403.3h.9v.9h-.9zM95.6 403.4h.9v.9h-.9zM87.9 413.9h.9v.9h-.9zM87.5 416.0h.9v.9h-.9zM91.9 406.7h.9v.9h-.9zM104.7 422.4h.9v.9h-.9zM83.5 424.3h.9v.9h-.9zM95.9 404.6h.9v.9h-.9zM92.9 405.9h.9v.9h-.9zM90.7 412.1h.9v.9h-.9zM84.7 422.4h.9v.9h-.9zM98.0 403.6h.9v.9h-.9zM84.7 432.1h.9v.9h-.9zM88.2 415.3h.9v.9h-.9zM84.2 431.8h.9v.9h-.9zM105.2 426.1h.9v.9h-.9zM105.4 424.9h.9v.9h-.9zM102.0 415.1h.9v.9h-.9zM102.5 415.2h.9v.9h-.9zM100.7 439.3h.9v.9h-.9zM84.1 426.0h.9v.9h-.9zM90.7 411.9h.9v.9h-.9zM103.9 421.2h.9v.9h-.9zM89.4 413.4h.9v.9h-.9zM104.9 427.9h.9v.9h-.9zM92.6 409.1h.9v.9h-.9zM100.1 403.6h.9v.9h-.9zM95.5 403.6h.9v.9h-.9zM95.8 402.8h.9v.9h-.9zM91.1 411.7h.9v.9h-.9zM84.7 421.1h.9v.9h-.9zM85.1 421.7h.9v.9h-.9zM90.7 412.8h.9v.9h-.9zM84.2 425.2h.9v.9h-.9zM86.0 420.8h.9v.9h-.9zM95.2 404.9h.9v.9h-.9zM102.1 411.8h.9v.9h-.9zM101.2 406.3h.9v.9h-.9zM104.3 430.5h.9v.9h-.9zM98.7 401.4h.9v.9h-.9zM104.1 422.2h.9v.9h-.9zM93.5 406.7h.9v.9h-.9zM85.0 433.9h.9v.9h-.9zM105.2 422.7h.9v.9h-.9zM95.0 405.0h.9v.9h-.9zM104.5 434.3h.9v.9h-.9zM84.2 434.1h.9v.9h-.9zM87.2 417.9h.9v.9h-.9zM105.0 436.0h.9v.9h-.9zM104.4 436.0h.9v.9h-.9zM92.7 406.5h.9v.9h-.9zM94.1 405.3h.9v.9h-.9zM85.0 425.4h.9v.9h-.9zM102.7 415.3h.9v.9h-.9zM84.2 429.2h.9v.9h-.9zM103.8 425.4h.9v.9h-.9zM94.0 406.3h.9v.9h-.9zM102.2 413.2h.9v.9h-.9zM91.0 410.3h.9v.9h-.9zM85.1 429.9h.9v.9h-.9zM85.4 420.8h.9v.9h-.9zM103.9 422.4h.9v.9h-.9zM105.2 435.2h.9v.9h-.9zM104.9 424.4h.9v.9h-.9zM94.2 406.5h.9v.9h-.9zM102.5 413.5h.9v.9h-.9zM85.7 436.9h.9v.9h-.9zM85.5 419.2h.9v.9h-.9zM104.2 419.8h.9v.9h-.9zM102.4 413.9h.9v.9h-.9zM104.7 434.5h.9v.9h-.9zM91.7 406.2h.9v.9h-.9zM104.8 423.2h.9v.9h-.9zM99.5 404.6h.9v.9h-.9zM102.6 412.8h.9v.9h-.9zM104.9 430.2h.9v.9h-.9zM88.4 416.0h.9v.9h-.9zM83.3 435.1h.9v.9h-.9zM102.1 413.6h.9v.9h-.9zM85.1 433.0h.9v.9h-.9zM89.5 413.0h.9v.9h-.9zM90.4 438.5h.9v.9h-.9zM104.5 434.7h.9v.9h-.9zM102.6 410.1h.9v.9h-.9zM84.9 430.1h.9v.9h-.9zM105.3 435.4h.9v.9h-.9zM87.1 421.4h.9v.9h-.9zM84.3 427.7h.9v.9h-.9zM97.6 403.2h.9v.9h-.9zM103.0 412.1h.9v.9h-.9zM102.2 410.1h.9v.9h-.9zM95.0 404.9h.9v.9h-.9zM104.5 432.1h.9v.9h-.9zM90.6 412.2h.9v.9h-.9zM95.9 402.8h.9v.9h-.9zM95.6 402.0h.9v.9h-.9zM86.7 418.4h.9v.9h-.9zM99.0 401.6h.9v.9h-.9zM92.7 405.9h.9v.9h-.9zM104.4 426.3h.9v.9h-.9zM99.2 403.7h.9v.9h-.9zM105.1 421.9h.9v.9h-.9zM95.5 403.7h.9v.9h-.9zM93.4 403.7h.9v.9h-.9zM100.8 438.6h.9v.9h-.9zM83.4 428.6h.9v.9h-.9zM94.2 407.2h.9v.9h-.9zM105.0 422.3h.9v.9h-.9zM92.4 406.5h.9v.9h-.9zM104.4 424.0h.9v.9h-.9zM84.9 433.5h.9v.9h-.9zM105.1 433.2h.9v.9h-.9zM84.3 428.2h.9v.9h-.9zM91.1 412.0h.9v.9h-.9zM90.9 438.7h.9v.9h-.9zM84.6 434.4h.9v.9h-.9zM88.4 417.7h.9v.9h-.9zM97.1 405.2h.9v.9h-.9zM103.9 423.6h.9v.9h-.9zM100.3 407.4h.9v.9h-.9zM84.4 425.7h.9v.9h-.9zM88.9 415.8h.9v.9h-.9zM92.8 407.0h.9v.9h-.9zM97.1 404.7h.9v.9h-.9zM87.3 436.4h.9v.9h-.9zM103.5 424.0h.9v.9h-.9zM84.7 422.9h.9v.9h-.9zM105.2 434.6h.9v.9h-.9zM104.0 420.5h.9v.9h-.9zM102.6 409.9h.9v.9h-.9zM89.9 412.0h.9v.9h-.9zM103.5 427.5h.9v.9h-.9zM87.4 417.1h.9v.9h-.9zM84.0 426.9h.9v.9h-.9zM85.9 421.0h.9v.9h-.9zM105.3 426.1h.9v.9h-.9zM101.6 411.3h.9v.9h-.9zM84.4 426.3h.9v.9h-.9zM101.1 406.3h.9v.9h-.9zM87.0 421.0h.9v.9h-.9zM85.2 431.4h.9v.9h-.9zM85.2 423.4h.9v.9h-.9zM83.9 424.0h.9v.9h-.9zM103.5 428.6h.9v.9h-.9zM85.8 418.1h.9v.9h-.9zM84.3 424.7h.9v.9h-.9zM85.4 418.7h.9v.9h-.9zM83.6 420.0h.9v.9h-.9zM87.9 416.4h.9v.9h-.9zM101.7 411.8h.9v.9h-.9zM95.5 404.3h.9v.9h-.9zM84.7 432.9h.9v.9h-.9zM89.0 414.4h.9v.9h-.9zM85.0 434.7h.9v.9h-.9zM85.0 432.1h.9v.9h-.9zM104.4 434.5h.9v.9h-.9zM103.6 436.0h.9v.9h-.9zM98.5 402.5h.9v.9h-.9zM103.9 422.6h.9v.9h-.9zM99.6 407.5h.9v.9h-.9zM83.4 433.6h.9v.9h-.9zM99.2 405.0h.9v.9h-.9zM84.7 430.4h.9v.9h-.9zM83.7 435.5h.9v.9h-.9zM105.2 421.2h.9v.9h-.9zM86.9 420.0h.9v.9h-.9zM83.8 421.0h.9v.9h-.9zM84.9 434.8h.9v.9h-.9zM98.7 403.1h.9v.9h-.9zM102.0 414.7h.9v.9h-.9zM98.2 402.2h.9v.9h-.9zM89.7 438.9h.9v.9h-.9zM90.8 438.6h.9v.9h-.9zM89.8 439.3h.9v.9h-.9zM101.3 439.8h.9v.9h-.9zM86.4 438.0h.9v.9h-.9zM89.7 438.8h.9v.9h-.9z" fill="#5060a6" fill-opacity="0.85"/>
<path d="M86.8 422.6h.9v.9h-.9zM85.6 427.4h.9v.9h-.9zM86.9 425.7h.9v.9h-.9zM86.2 426.1h.9v.9h-.9zM89.2 436.1h.9v.9h-.9zM86.8 435.1h.9v.9h-.9zM89.2 419.3h.9v.9h-.9zM86.7 424.1h.9v.9h-.9zM86.6 425.4h.9v.9h-.9zM92.4 411.9h.9v.9h-.9zM88.5 436.6h.9v.9h-.9zM86.5 427.8h.9v.9h-.9zM93.2 412.7h.9v.9h-.9zM87.0 424.1h.9v.9h-.9zM101.4 420.0h.9v.9h-.9zM86.6 425.7h.9v.9h-.9zM86.0 434.2h.9v.9h-.9zM86.4 435.6h.9v.9h-.9zM98.5 407.7h.9v.9h-.9zM99.3 408.6h.9v.9h-.9zM103.1 417.1h.9v.9h-.9zM85.9 423.2h.9v.9h-.9zM93.1 412.1h.9v.9h-.9zM98.6 406.4h.9v.9h-.9zM93.7 409.4h.9v.9h-.9zM85.7 426.8h.9v.9h-.9zM97.7 406.7h.9v.9h-.9zM86.8 434.9h.9v.9h-.9zM95.6 406.0h.9v.9h-.9zM102.1 419.2h.9v.9h-.9zM98.5 407.9h.9v.9h-.9zM101.4 411.1h.9v.9h-.9zM88.0 437.3h.9v.9h-.9zM85.6 423.4h.9v.9h-.9zM93.6 438.5h.9v.9h-.9zM86.2 423.3h.9v.9h-.9zM96.1 439.2h.9v.9h-.9zM98.6 408.8h.9v.9h-.9zM87.8 418.0h.9v.9h-.9zM98.4 408.2h.9v.9h-.9zM90.7 414.5h.9v.9h-.9zM86.2 435.1h.9v.9h-.9zM101.3 409.2h.9v.9h-.9zM85.4 435.7h.9v.9h-.9zM85.7 422.5h.9v.9h-.9zM86.1 423.8h.9v.9h-.9zM103.1 420.2h.9v.9h-.9zM86.5 424.2h.9v.9h-.9zM103.4 436.9h.9v.9h-.9zM97.3 438.2h.9v.9h-.9zM98.1 407.2h.9v.9h-.9zM98.5 406.7h.9v.9h-.9zM91.9 411.0h.9v.9h-.9zM98.4 406.3h.9v.9h-.9zM101.9 416.1h.9v.9h-.9zM88.3 437.5h.9v.9h-.9zM88.3 418.6h.9v.9h-.9zM102.8 419.5h.9v.9h-.9zM86.9 435.9h.9v.9h-.9zM101.5 421.6h.9v.9h-.9zM97.4 405.5h.9v.9h-.9zM91.4 438.8h.9v.9h-.9zM99.1 406.5h.9v.9h-.9zM90.4 414.8h.9v.9h-.9zM100.8 409.4h.9v.9h-.9zM103.2 416.5h.9v.9h-.9zM102.7 436.8h.9v.9h-.9zM92.9 412.7h.9v.9h-.9zM99.2 405.9h.9v.9h-.9zM85.9 427.3h.9v.9h-.9zM94.5 438.5h.9v.9h-.9zM100.0 408.6h.9v.9h-.9zM93.1 410.0h.9v.9h-.9zM86.2 427.1h.9v.9h-.9zM91.8 409.9h.9v.9h-.9zM86.1 423.6h.9v.9h-.9zM102.2 416.8h.9v.9h-.9zM102.0 421.3h.9v.9h-.9zM96.3 438.3h.9v.9h-.9zM87.6 437.6h.9v.9h-.9zM101.5 436.3h.9v.9h-.9zM97.5 406.6h.9v.9h-.9zM102.2 415.9h.9v.9h-.9zM94.4 438.3h.9v.9h-.9zM97.8 407.4h.9v.9h-.9zM99.4 407.7h.9v.9h-.9zM101.4 420.2h.9v.9h-.9zM93.8 409.4h.9v.9h-.9zM100.2 410.3h.9v.9h-.9zM102.0 421.7h.9v.9h-.9zM102.9 437.5h.9v.9h-.9zM103.0 416.8h.9v.9h-.9zM89.3 437.6h.9v.9h-.9zM100.0 409.3h.9v.9h-.9zM91.2 415.7h.9v.9h-.9zM103.2 436.4h.9v.9h-.9zM86.9 423.7h.9v.9h-.9zM94.0 408.0h.9v.9h-.9zM90.1 413.8h.9v.9h-.9zM94.4 408.7h.9v.9h-.9zM97.6 408.8h.9v.9h-.9zM86.8 423.6h.9v.9h-.9zM98.1 408.2h.9v.9h-.9zM90.8 415.0h.9v.9h-.9zM96.5 438.6h.9v.9h-.9zM95.6 406.4h.9v.9h-.9zM86.0 424.0h.9v.9h-.9zM102.5 419.7h.9v.9h-.9zM96.2 405.7h.9v.9h-.9zM101.4 409.6h.9v.9h-.9zM93.8 407.6h.9v.9h-.9zM99.9 408.8h.9v.9h-.9zM96.1 407.2h.9v.9h-.9zM103.2 421.5h.9v.9h-.9zM99.3 407.5h.9v.9h-.9zM89.0 419.5h.9v.9h-.9zM95.0 409.2h.9v.9h-.9zM98.9 406.9h.9v.9h-.9zM95.0 409.4h.9v.9h-.9zM98.5 409.4h.9v.9h-.9zM89.2 438.0h.9v.9h-.9zM86.4 435.0h.9v.9h-.9zM86.9 425.8h.9v.9h-.9zM98.9 408.2h.9v.9h-.9zM97.7 408.9h.9v.9h-.9zM101.5 416.5h.9v.9h-.9zM87.9 418.5h.9v.9h-.9zM95.7 406.2h.9v.9h-.9zM100.1 409.4h.9v.9h-.9zM90.5 414.5h.9v.9h-.9zM99.3 408.8h.9v.9h-.9zM102.7 418.9h.9v.9h-.9zM85.7 426.2h.9v.9h-.9zM97.9 407.5h.9v.9h-.9zM94.2 438.2h.9v.9h-.9zM96.3 406.5h.9v.9h-.9zM98.0 408.0h.9v.9h-.9zM97.0 439.0h.9v.9h-.9zM102.7 420.6h.9v.9h-.9zM101.0 411.5h.9v.9h-.9zM101.8 436.3h.9v.9h-.9zM95.7 407.2h.9v.9h-.9zM93.7 408.2h.9v.9h-.9zM87.2 427.2h.9v.9h-.9zM86.2 424.8h.9v.9h-.9zM94.8 408.3h.9v.9h-.9zM102.0 417.7h.9v.9h-.9zM96.2 438.2h.9v.9h-.9zM86.5 427.9h.9v.9h-.9zM92.4 411.0h.9v.9h-.9zM87.1 434.8h.9v.9h-.9zM101.1 409.8h.9v.9h-.9zM95.3 409.6h.9v.9h-.9zM90.9 415.1h.9v.9h-.9zM101.9 436.2h.9v.9h-.9zM89.0 419.7h.9v.9h-.9zM87.3 424.1h.9v.9h-.9zM89.9 413.7h.9v.9h-.9zM102.2 436.7h.9v.9h-.9zM97.4 408.2h.9v.9h-.9zM102.4 437.6h.9v.9h-.9zM88.1 418.8h.9v.9h-.9zM102.4 437.0h.9v.9h-.9zM93.8 408.6h.9v.9h-.9zM91.6 411.6h.9v.9h-.9zM96.3 438.5h.9v.9h-.9zM103.0 419.7h.9v.9h-.9zM91.4 410.5h.9v.9h-.9zM98.3 408.1h.9v.9h-.9zM102.3 418.4h.9v.9h-.9zM98.1 408.1h.9v.9h-.9zM98.5 438.6h.9v.9h-.9zM89.1 436.4h.9v.9h-.9zM94.5 438.4h.9v.9h-.9zM94.0 408.5h.9v.9h-.9zM99.7 409.5h.9v.9h-.9zM87.5 437.5h.9v.9h-.9zM101.0 410.3h.9v.9h-.9zM100.1 410.0h.9v.9h-.9zM96.3 406.6h.9v.9h-.9zM101.4 421.3h.9v.9h-.9zM101.8 415.8h.9v.9h-.9zM101.4 408.5h.9v.9h-.9zM102.5 417.4h.9v.9h-.9zM91.2 415.6h.9v.9h-.9zM100.6 410.0h.9v.9h-.9zM91.7 439.4h.9v.9h-.9zM86.5 423.4h.9v.9h-.9zM86.1 422.1h.9v.9h-.9zM86.0 424.9h.9v.9h-.9zM92.8 411.1h.9v.9h-.9zM98.4 407.5h.9v.9h-.9zM91.9 413.2h.9v.9h-.9zM101.2 409.5h.9v.9h-.9zM92.3 412.1h.9v.9h-.9zM101.7 419.2h.9v.9h-.9zM98.5 439.2h.9v.9h-.9zM102.1 436.9h.9v.9h-.9zM89.7 414.3h.9v.9h-.9zM100.3 408.8h.9v.9h-.9zM90.9 413.7h.9v.9h-.9zM86.1 435.1h.9v.9h-.9zM88.5 419.2h.9v.9h-.9zM99.1 407.3h.9v.9h-.9zM97.2 406.9h.9v.9h-.9zM89.0 436.4h.9v.9h-.9zM87.0 424.1h.9v.9h-.9zM92.5 413.4h.9v.9h-.9zM100.5 411.2h.9v.9h-.9zM98.7 438.3h.9v.9h-.9zM89.8 414.5h.9v.9h-.9zM87.2 427.8h.9v.9h-.9zM90.3 414.6h.9v.9h-.9zM92.3 438.5h.9v.9h-.9zM96.2 407.4h.9v.9h-.9zM86.9 425.7h.9v.9h-.9zM87.5 436.3h.9v.9h-.9zM92.0 410.4h.9v.9h-.9zM92.0 413.5h.9v.9h-.9zM97.3 406.6h.9v.9h-.9zM92.9 413.0h.9v.9h-.9zM90.7 414.5h.9v.9h-.9zM95.4 405.9h.9v.9h-.9zM100.4 409.9h.9v.9h-.9zM88.6 418.6h.9v.9h-.9zM101.4 420.7h.9v.9h-.9zM100.2 409.1h.9v.9h-.9zM99.3 406.2h.9v.9h-.9zM95.0 409.1h.9v.9h-.9zM95.6 438.4h.9v.9h-.9zM85.7 427.3h.9v.9h-.9zM89.8 415.1h.9v.9h-.9zM103.2 417.3h.9v.9h-.9zM96.7 406.2h.9v.9h-.9zM87.8 437.8h.9v.9h-.9zM102.9 421.2h.9v.9h-.9zM87.9 419.7h.9v.9h-.9zM97.9 406.7h.9v.9h-.9zM96.8 406.5h.9v.9h-.9zM96.4 406.0h.9v.9h-.9zM92.2 412.5h.9v.9h-.9zM98.5 409.0h.9v.9h-.9zM95.8 406.5h.9v.9h-.9zM87.2 426.9h.9v.9h-.9zM91.1 414.9h.9v.9h-.9zM87.2 422.7h.9v.9h-.9zM86.9 427.4h.9v.9h-.9zM93.7 439.4h.9v.9h-.9zM97.7 408.8h.9v.9h-.9zM98.4 408.3h.9v.9h-.9zM93.6 408.1h.9v.9h-.9zM85.5 426.2h.9v.9h-.9zM86.7 424.8h.9v.9h-.9zM100.0 411.3h.9v.9h-.9zM89.0 419.5h.9v.9h-.9zM85.8 423.4h.9v.9h-.9zM103.3 416.7h.9v.9h-.9zM93.6 439.0h.9v.9h-.9zM103.2 437.4h.9v.9h-.9zM101.5 437.3h.9v.9h-.9zM93.1 413.1h.9v.9h-.9zM94.8 408.7h.9v.9h-.9zM88.2 437.3h.9v.9h-.9zM89.9 413.9h.9v.9h-.9zM88.2 437.9h.9v.9h-.9zM87.1 425.0h.9v.9h-.9zM91.8 438.7h.9v.9h-.9zM88.0 417.7h.9v.9h-.9zM102.0 436.4h.9v.9h-.9zM100.1 411.1h.9v.9h-.9zM94.0 438.4h.9v.9h-.9zM101.6 420.2h.9v.9h-.9zM97.8 408.9h.9v.9h-.9zM95.2 438.9h.9v.9h-.9zM89.0 436.5h.9v.9h-.9zM88.1 436.2h.9v.9h-.9zM100.8 407.8h.9v.9h-.9zM85.9 427.6h.9v.9h-.9zM92.2 412.8h.9v.9h-.9zM87.0 423.1h.9v.9h-.9zM87.6 437.5h.9v.9h-.9zM90.7 414.8h.9v.9h-.9zM95.5 439.5h.9v.9h-.9zM95.1 407.5h.9v.9h-.9zM86.6 422.5h.9v.9h-.9zM100.2 411.1h.9v.9h-.9zM103.1 419.4h.9v.9h-.9zM100.7 410.6h.9v.9h-.9zM95.1 407.7h.9v.9h-.9zM100.5 410.7h.9v.9h-.9zM102.1 421.2h.9v.9h-.9zM101.7 418.9h.9v.9h-.9zM103.0 416.5h.9v.9h-.9zM88.8 419.7h.9v.9h-.9zM89.7 413.8h.9v.9h-.9zM101.9 420.9h.9v.9h-.9zM85.8 425.7h.9v.9h-.9zM96.7 405.5h.9v.9h-.9zM85.9 426.0h.9v.9h-.9zM100.9 410.7h.9v.9h-.9zM86.9 424.3h.9v.9h-.9zM97.0 407.1h.9v.9h-.9zM102.1 417.2h.9v.9h-.9zM97.7 408.0h.9v.9h-.9zM102.7 421.0h.9v.9h-.9zM101.9 436.3h.9v.9h-.9zM88.2 438.0h.9v.9h-.9zM91.8 412.5h.9v.9h-.9zM99.0 408.8h.9v.9h-.9zM99.4 410.1h.9v.9h-.9zM98.1 405.7h.9v.9h-.9zM98.3 438.5h.9v.9h-.9zM102.2 418.6h.9v.9h-.9zM101.2 409.5h.9v.9h-.9zM102.2 420.3h.9v.9h-.9zM94.8 409.0h.9v.9h-.9zM100.5 411.5h.9v.9h-.9zM88.3 418.2h.9v.9h-.9zM85.7 424.3h.9v.9h-.9zM87.2 425.6h.9v.9h-.9zM90.3 415.0h.9v.9h-.9zM86.3 427.6h.9v.9h-.9zM102.5 416.3h.9v.9h-.9zM102.1 421.3h.9v.9h-.9zM93.3 438.6h.9v.9h-.9zM97.0 406.2h.9v.9h-.9zM91.9 411.2h.9v.9h-.9zM97.3 438.8h.9v.9h-.9zM98.7 408.9h.9v.9h-.9zM86.7 427.7h.9v.9h-.9zM94.4 409.3h.9v.9h-.9zM103.2 436.5h.9v.9h-.9zM91.6 413.2h.9v.9h-.9zM87.5 418.9h.9v.9h-.9zM95.4 406.6h.9v.9h-.9zM86.7 435.0h.9v.9h-.9zM86.8 424.8h.9v.9h-.9zM87.6 437.8h.9v.9h-.9zM103.1 417.5h.9v.9h-.9zM98.6 407.8h.9v.9h-.9zM96.8 407.0h.9v.9h-.9zM99.0 438.3h.9v.9h-.9zM94.6 408.7h.9v.9h-.9zM98.0 438.8h.9v.9h-.9zM99.5 410.2h.9v.9h-.9zM96.3 405.7h.9v.9h-.9zM101.6 418.8h.9v.9h-.9zM96.5 439.0h.9v.9h-.9zM92.2 412.8h.9v.9h-.9zM92.1 412.7h.9v.9h-.9zM103.0 421.0h.9v.9h-.9zM85.4 424.0h.9v.9h-.9zM86.0 435.8h.9v.9h-.9zM93.6 438.4h.9v.9h-.9zM102.1 418.5h.9v.9h-.9zM87.1 436.1h.9v.9h-.9zM100.6 409.7h.9v.9h-.9zM86.7 427.5h.9v.9h-.9zM94.9 439.3h.9v.9h-.9zM92.7 412.3h.9v.9h-.9zM89.2 419.7h.9v.9h-.9zM92.5 411.0h.9v.9h-.9zM97.3 438.8h.9v.9h-.9zM86.2 434.2h.9v.9h-.9zM86.1 427.1h.9v.9h-.9zM91.4 439.5h.9v.9h-.9zM99.7 411.5h.9v.9h-.9zM99.0 439.0h.9v.9h-.9zM93.2 413.1h.9v.9h-.9zM85.7 426.3h.9v.9h-.9zM94.2 438.8h.9v.9h-.9zM89.3 414.1h.9v.9h-.9zM102.6 421.4h.9v.9h-.9zM90.7 414.1h.9v.9h-.9zM95.5 406.9h.9v.9h-.9zM88.7 419.3h.9v.9h-.9zM102.2 420.7h.9v.9h-.9zM102.7 419.7h.9v.9h-.9zM96.4 439.8h.9v.9h-.9zM101.8 418.5h.9v.9h-.9zM87.5 418.8h.9v.9h-.9zM98.0 406.0h.9v.9h-.9zM102.3 416.1h.9v.9h-.9zM86.1 426.0h.9v.9h-.9zM102.5 418.7h.9v.9h-.9zM100.9 408.9h.9v.9h-.9zM101.0 410.8h.9v.9h-.9zM95.9 405.5h.9v.9h-.9zM88.5 419.2h.9v.9h-.9zM93.1 439.2h.9v.9h-.9zM95.8 438.2h.9v.9h-.9zM95.0 439.7h.9v.9h-.9zM94.3 439.0h.9v.9h-.9zM98.3 438.3h.9v.9h-.9zM97.7 439.7h.9v.9h-.9zM92.5 439.2h.9v.9h-.9zM94.9 438.2h.9v.9h-.9zM92.0 439.5h.9v.9h-.9zM94.7 438.3h.9v.9h-.9zM98.3 439.5h.9v.9h-.9zM94.1 438.8h.9v.9h-.9zM98.1 439.0h.9v.9h-.9zM94.4 438.8h.9v.9h-.9zM94.3 439.3h.9v.9h-.9zM95.1 438.8h.9v.9h-.9zM98.7 438.4h.9v.9h-.9zM91.4 438.6h.9v.9h-.9zM92.7 438.9h.9v.9h-.9zM97.0 440.0h.9v.9h-.9zM97.0 438.2h.9v.9h-.9z" fill="#496ba1" fill-opacity="0.85"/>
<path d="M87.1 431.1h.9v.9h-.9zM100.6 436.8h.9v.9h-.9zM88.6 420.9h.9v.9h-.9zM90.8 436.6h.9v.9h-.9zM87.0 433.9h.9v.9h-.9zM90.2 419.0h.9v.9h-.9zM98.4 410.7h.9v.9h-.9zM91.2 417.2h.9v.9h-.9zM85.7 431.2h.9v.9h-.9zM100.1 436.5h.9v.9h-.9zM93.5 409.8h.9v.9h-.9zM88.0 420.2h.9v.9h-.9zM89.0 421.3h.9v.9h-.9zM89.4 436.2h.9v.9h-.9zM100.2 436.5h.9v.9h-.9zM90.8 418.0h.9v.9h-.9zM86.1 433.1h.9v.9h-.9zM85.9 431.3h.9v.9h-.9zM91.0 437.3h.9v.9h-.9zM100.0 436.4h.9v.9h-.9zM87.4 421.2h.9v.9h-.9zM90.0 437.3h.9v.9h-.9zM87.0 431.1h.9v.9h-.9zM91.0 436.6h.9v.9h-.9zM91.1 436.4h.9v.9h-.9zM100.3 416.5h.9v.9h-.9zM89.5 417.0h.9v.9h-.9zM89.9 437.3h.9v.9h-.9zM97.9 409.9h.9v.9h-.9zM99.7 417.5h.9v.9h-.9zM91.2 419.0h.9v.9h-.9zM93.9 413.6h.9v.9h-.9zM90.0 418.0h.9v.9h-.9zM100.7 417.6h.9v.9h-.9zM85.4 429.8h.9v.9h-.9zM89.5 437.1h.9v.9h-.9zM102.3 423.3h.9v.9h-.9zM102.7 423.1h.9v.9h-.9zM93.6 411.5h.9v.9h-.9zM97.2 410.2h.9v.9h-.9zM101.9 434.2h.9v.9h-.9zM86.8 433.5h.9v.9h-.9zM95.0 412.0h.9v.9h-.9zM102.8 434.6h.9v.9h-.9zM93.8 413.5h.9v.9h-.9zM95.2 411.5h.9v.9h-.9zM95.7 410.6h.9v.9h-.9zM102.1 426.6h.9v.9h-.9zM85.9 429.5h.9v.9h-.9zM103.0 425.3h.9v.9h-.9zM87.6 423.4h.9v.9h-.9zM101.2 415.4h.9v.9h-.9zM88.9 422.3h.9v.9h-.9zM89.0 421.1h.9v.9h-.9zM94.9 411.4h.9v.9h-.9zM98.8 409.8h.9v.9h-.9zM86.3 430.1h.9v.9h-.9zM89.9 437.2h.9v.9h-.9zM99.8 413.0h.9v.9h-.9zM88.1 421.7h.9v.9h-.9zM98.3 411.0h.9v.9h-.9zM102.9 425.8h.9v.9h-.9zM90.2 436.6h.9v.9h-.9zM95.6 408.6h.9v.9h-.9zM85.7 430.3h.9v.9h-.9zM88.5 422.4h.9v.9h-.9zM100.2 413.6h.9v.9h-.9zM103.1 425.6h.9v.9h-.9zM100.4 414.4h.9v.9h-.9zM100.6 415.1h.9v.9h-.9zM89.6 417.1h.9v.9h-.9zM101.3 436.2h.9v.9h-.9zM101.7 423.9h.9v.9h-.9zM102.2 435.9h.9v.9h-.9zM89.0 420.3h.9v.9h-.9zM100.0 412.2h.9v.9h-.9zM98.0 409.7h.9v.9h-.9zM101.5 427.8h.9v.9h-.9zM92.3 414.2h.9v.9h-.9zM88.9 420.9h.9v.9h-.9zM93.8 410.1h.9v.9h-.9zM89.5 417.5h.9v.9h-.9zM87.1 430.7h.9v.9h-.9zM100.0 415.2h.9v.9h-.9zM87.3 428.9h.9v.9h-.9zM99.4 415.9h.9v.9h-.9zM102.7 436.0h.9v.9h-.9zM101.1 436.5h.9v.9h-.9zM100.5 415.2h.9v.9h-.9zM99.0 409.9h.9v.9h-.9zM95.1 412.4h.9v.9h-.9zM100.2 414.3h.9v.9h-.9zM101.3 414.7h.9v.9h-.9zM96.0 408.6h.9v.9h-.9zM103.2 434.4h.9v.9h-.9zM91.2 437.7h.9v.9h-.9zM102.3 435.3h.9v.9h-.9zM91.5 415.6h.9v.9h-.9zM91.1 419.0h.9v.9h-.9zM89.7 436.2h.9v.9h-.9zM102.2 434.6h.9v.9h-.9zM96.6 408.3h.9v.9h-.9zM95.5 408.6h.9v.9h-.9zM86.0 432.0h.9v.9h-.9zM95.6 408.6h.9v.9h-.9zM97.8 411.2h.9v.9h-.9zM96.0 411.3h.9v.9h-.9zM94.1 410.3h.9v.9h-.9zM102.4 427.1h.9v.9h-.9zM85.7 431.0h.9v.9h-.9zM101.6 434.9h.9v.9h-.9zM101.5 423.6h.9v.9h-.9zM94.1 412.3h.9v.9h-.9zM99.8 415.4h.9v.9h-.9zM95.0 411.8h.9v.9h-.9zM102.0 434.8h.9v.9h-.9zM102.3 426.5h.9v.9h-.9zM86.8 433.6h.9v.9h-.9zM85.9 430.0h.9v.9h-.9zM102.9 426.5h.9v.9h-.9zM100.5 413.6h.9v.9h-.9zM102.6 435.2h.9v.9h-.9zM96.3 409.1h.9v.9h-.9zM100.1 416.7h.9v.9h-.9zM86.4 429.8h.9v.9h-.9zM102.3 425.3h.9v.9h-.9zM95.7 407.7h.9v.9h-.9zM101.2 436.7h.9v.9h-.9zM101.4 415.3h.9v.9h-.9zM94.9 410.5h.9v.9h-.9zM100.3 437.8h.9v.9h-.9zM96.3 409.3h.9v.9h-.9zM102.4 427.8h.9v.9h-.9zM102.7 422.7h.9v.9h-.9zM90.0 417.4h.9v.9h-.9zM94.6 412.2h.9v.9h-.9zM100.3 417.0h.9v.9h-.9zM102.8 422.9h.9v.9h-.9zM92.1 414.0h.9v.9h-.9zM103.0 422.1h.9v.9h-.9zM93.5 412.4h.9v.9h-.9zM102.9 434.0h.9v.9h-.9zM101.0 415.0h.9v.9h-.9zM86.4 429.8h.9v.9h-.9zM91.6 413.8h.9v.9h-.9zM88.2 420.1h.9v.9h-.9zM87.5 422.5h.9v.9h-.9zM89.3 418.2h.9v.9h-.9zM102.0 424.0h.9v.9h-.9zM87.8 420.8h.9v.9h-.9zM90.4 416.1h.9v.9h-.9zM103.1 435.8h.9v.9h-.9zM95.6 408.8h.9v.9h-.9zM98.8 410.2h.9v.9h-.9zM101.6 422.6h.9v.9h-.9zM102.8 427.7h.9v.9h-.9zM98.8 410.8h.9v.9h-.9zM100.1 417.1h.9v.9h-.9zM101.1 416.9h.9v.9h-.9zM85.6 433.6h.9v.9h-.9zM94.3 412.6h.9v.9h-.9zM85.6 430.8h.9v.9h-.9zM86.1 433.3h.9v.9h-.9zM100.6 412.8h.9v.9h-.9zM96.7 410.5h.9v.9h-.9zM102.7 426.3h.9v.9h-.9zM101.8 422.5h.9v.9h-.9zM93.8 411.6h.9v.9h-.9zM91.9 414.1h.9v.9h-.9zM94.0 411.9h.9v.9h-.9zM101.2 414.7h.9v.9h-.9zM101.3 412.1h.9v.9h-.9zM86.5 432.3h.9v.9h-.9zM94.2 412.3h.9v.9h-.9zM99.4 416.3h.9v.9h-.9zM99.9 416.3h.9v.9h-.9zM100.0 416.5h.9v.9h-.9zM102.7 422.8h.9v.9h-.9zM93.4 412.5h.9v.9h-.9zM90.4 437.0h.9v.9h-.9zM99.6 417.3h.9v.9h-.9zM90.9 437.1h.9v.9h-.9zM101.6 423.2h.9v.9h-.9zM94.4 412.5h.9v.9h-.9zM101.0 437.3h.9v.9h-.9zM96.4 408.6h.9v.9h-.9zM100.6 436.2h.9v.9h-.9zM103.3 434.7h.9v.9h-.9zM97.8 411.5h.9v.9h-.9zM102.4 435.1h.9v.9h-.9zM95.2 411.2h.9v.9h-.9zM86.1 430.3h.9v.9h-.9zM102.4 423.4h.9v.9h-.9zM97.8 410.8h.9v.9h-.9zM95.2 409.6h.9v.9h-.9zM91.0 416.3h.9v.9h-.9zM96.5 407.9h.9v.9h-.9zM93.4 409.8h.9v.9h-.9zM93.5 410.9h.9v.9h-.9zM100.4 413.9h.9v.9h-.9zM94.6 413.2h.9v.9h-.9zM102.4 426.3h.9v.9h-.9zM97.3 408.2h.9v.9h-.9zM90.1 416.2h.9v.9h-.9zM99.8 413.1h.9v.9h-.9zM91.3 414.7h.9v.9h-.9zM86.8 433.7h.9v.9h-.9zM94.1 412.6h.9v.9h-.9zM95.8 409.0h.9v.9h-.9zM94.5 413.3h.9v.9h-.9zM101.6 422.8h.9v.9h-.9zM89.5 436.2h.9v.9h-.9zM102.4 434.3h.9v.9h-.9zM103.3 435.5h.9v.9h-.9zM102.7 423.9h.9v.9h-.9zM102.0 426.2h.9v.9h-.9zM98.6 410.9h.9v.9h-.9zM97.1 410.0h.9v.9h-.9zM90.5 417.3h.9v.9h-.9zM86.7 431.6h.9v.9h-.9zM96.2 410.7h.9v.9h-.9zM96.5 407.7h.9v.9h-.9zM102.2 427.7h.9v.9h-.9zM92.1 414.4h.9v.9h-.9zM99.6 436.3h.9v.9h-.9zM92.2 414.1h.9v.9h-.9zM101.2 416.7h.9v.9h-.9zM85.4 429.6h.9v.9h-.9zM99.8 416.2h.9v.9h-.9zM101.6 427.5h.9v.9h-.9zM92.7 415.5h.9v.9h-.9zM100.4 437.4h.9v.9h-.9zM89.7 419.3h.9v.9h-.9zM101.4 436.5h.9v.9h-.9zM85.7 433.3h.9v.9h-.9zM101.7 424.6h.9v.9h-.9zM96.5 407.8h.9v.9h-.9zM94.6 411.3h.9v.9h-.9zM94.6 412.6h.9v.9h-.9zM88.2 421.2h.9v.9h-.9zM103.3 426.3h.9v.9h-.9zM102.3 426.8h.9v.9h-.9zM101.0 415.3h.9v.9h-.9zM85.4 430.9h.9v.9h-.9zM101.0 436.7h.9v.9h-.9zM85.4 431.3h.9v.9h-.9zM101.6 434.3h.9v.9h-.9zM85.9 430.4h.9v.9h-.9zM94.5 409.9h.9v.9h-.9zM85.4 432.2h.9v.9h-.9zM95.4 411.0h.9v.9h-.9zM99.6 412.9h.9v.9h-.9zM102.1 435.7h.9v.9h-.9zM102.2 424.6h.9v.9h-.9zM89.9 416.6h.9v.9h-.9zM101.0 412.6h.9v.9h-.9zM85.8 429.2h.9v.9h-.9zM87.2 428.7h.9v.9h-.9zM101.6 434.1h.9v.9h-.9zM101.3 412.7h.9v.9h-.9zM95.6 408.9h.9v.9h-.9zM101.4 423.7h.9v.9h-.9zM101.1 411.9h.9v.9h-.9zM102.0 427.4h.9v.9h-.9zM100.6 436.4h.9v.9h-.9zM100.8 413.5h.9v.9h-.9zM91.1 436.4h.9v.9h-.9zM90.3 416.9h.9v.9h-.9zM102.8 434.5h.9v.9h-.9zM90.2 436.6h.9v.9h-.9zM101.6 422.7h.9v.9h-.9zM103.2 434.9h.9v.9h-.9zM99.4 417.2h.9v.9h-.9zM102.5 422.6h.9v.9h-.9zM102.0 422.9h.9v.9h-.9zM94.5 412.5h.9v.9h-.9zM102.0 423.3h.9v.9h-.9zM102.9 425.4h.9v.9h-.9zM87.3 428.9h.9v.9h-.9zM89.6 417.0h.9v.9h-.9zM98.9 409.8h.9v.9h-.9zM94.0 411.5h.9v.9h-.9zM96.2 407.7h.9v.9h-.9zM94.4 411.7h.9v.9h-.9zM102.3 424.5h.9v.9h-.9zM101.0 411.7h.9v.9h-.9zM99.5 413.5h.9v.9h-.9zM99.6 415.3h.9v.9h-.9zM99.4 415.7h.9v.9h-.9zM96.0 407.8h.9v.9h-.9zM100.0 413.1h.9v.9h-.9zM86.0 431.4h.9v.9h-.9zM90.9 418.0h.9v.9h-.9zM90.4 419.4h.9v.9h-.9zM95.9 411.3h.9v.9h-.9zM102.6 422.6h.9v.9h-.9zM98.7 409.9h.9v.9h-.9zM96.9 408.4h.9v.9h-.9zM99.6 413.6h.9v.9h-.9zM100.6 437.2h.9v.9h-.9zM90.4 416.0h.9v.9h-.9zM86.5 432.6h.9v.9h-.9zM101.1 436.9h.9v.9h-.9zM96.2 410.1h.9v.9h-.9zM96.0 410.2h.9v.9h-.9zM96.5 409.3h.9v.9h-.9zM97.9 410.7h.9v.9h-.9zM99.7 411.7h.9v.9h-.9zM95.8 409.6h.9v.9h-.9zM103.0 427.3h.9v.9h-.9zM100.1 415.1h.9v.9h-.9zM89.4 417.9h.9v.9h-.9zM85.8 432.2h.9v.9h-.9zM90.8 419.2h.9v.9h-.9zM96.8 411.3h.9v.9h-.9zM93.3 414.3h.9v.9h-.9zM103.3 422.5h.9v.9h-.9zM100.9 411.7h.9v.9h-.9zM102.3 424.5h.9v.9h-.9zM87.5 421.7h.9v.9h-.9zM89.3 419.9h.9v.9h-.9zM100.5 437.1h.9v.9h-.9zM97.9 411.2h.9v.9h-.9zM102.6 422.9h.9v.9h-.9zM102.4 425.6h.9v.9h-.9zM99.6 415.2h.9v.9h-.9zM97.8 410.2h.9v.9h-.9zM102.7 423.8h.9v.9h-.9zM102.5 424.5h.9v.9h-.9zM90.7 417.9h.9v.9h-.9zM101.1 414.6h.9v.9h-.9zM102.8 423.8h.9v.9h-.9zM102.4 424.8h.9v.9h-.9zM86.1 431.9h.9v.9h-.9zM101.7 423.1h.9v.9h-.9zM88.2 420.9h.9v.9h-.9zM97.6 409.7h.9v.9h-.9zM101.5 434.6h.9v.9h-.9zM89.4 419.0h.9v.9h-.9zM101.2 413.6h.9v.9h-.9zM103.1 435.1h.9v.9h-.9zM89.7 417.9h.9v.9h-.9zM102.0 424.1h.9v.9h-.9zM100.5 436.7h.9v.9h-.9zM95.1 412.9h.9v.9h-.9zM94.7 411.7h.9v.9h-.9zM96.3 408.5h.9v.9h-.9zM92.8 414.0h.9v.9h-.9zM97.2 409.1h.9v.9h-.9zM93.6 411.7h.9v.9h-.9zM93.3 414.0h.9v.9h-.9zM86.2 433.9h.9v.9h-.9zM88.1 421.0h.9v.9h-.9zM98.4 410.8h.9v.9h-.9zM97.1 410.7h.9v.9h-.9zM90.5 437.5h.9v.9h-.9zM102.6 423.3h.9v.9h-.9zM102.5 424.5h.9v.9h-.9zM100.6 412.8h.9v.9h-.9zM96.9 408.8h.9v.9h-.9zM91.4 414.2h.9v.9h-.9zM90.5 416.0h.9v.9h-.9zM91.9 415.4h.9v.9h-.9zM93.6 413.1h.9v.9h-.9zM96.7 410.7h.9v.9h-.9zM88.1 422.4h.9v.9h-.9zM103.4 422.5h.9v.9h-.9zM89.7 419.2h.9v.9h-.9zM102.4 423.3h.9v.9h-.9zM101.2 436.9h.9v.9h-.9zM100.9 412.6h.9v.9h-.9zM98.2 411.4h.9v.9h-.9zM89.8 436.1h.9v.9h-.9zM86.6 432.7h.9v.9h-.9zM94.4 411.5h.9v.9h-.9zM102.5 424.3h.9v.9h-.9zM98.3 411.1h.9v.9h-.9zM102.8 424.7h.9v.9h-.9zM92.5 415.6h.9v.9h-.9zM96.1 408.7h.9v.9h-.9zM101.5 434.2h.9v.9h-.9zM90.6 419.4h.9v.9h-.9zM101.5 423.9h.9v.9h-.9zM101.2 412.9h.9v.9h-.9zM102.9 424.8h.9v.9h-.9zM91.0 438.0h.9v.9h-.9zM96.5 410.6h.9v.9h-.9zM89.7 418.3h.9v.9h-.9zM99.1 410.9h.9v.9h-.9zM99.6 414.0h.9v.9h-.9zM103.3 435.8h.9v.9h-.9zM102.6 435.7h.9v.9h-.9zM90.3 419.4h.9v.9h-.9zM87.0 428.9h.9v.9h-.9zM87.9 420.8h.9v.9h-.9zM85.6 434.0h.9v.9h-.9zM91.3 418.8h.9v.9h-.9zM86.4 432.2h.9v.9h-.9zM88.0 423.2h.9v.9h-.9zM91.5 414.4h.9v.9h-.9zM103.3 423.7h.9v.9h-.9zM98.9 411.2h.9v.9h-.9zM94.8 410.0h.9v.9h-.9zM87.1 432.8h.9v.9h-.9zM95.8 408.3h.9v.9h-.9zM93.2 414.8h.9v.9h-.9zM92.4 414.4h.9v.9h-.9zM103.1 427.5h.9v.9h-.9zM103.2 427.0h.9v.9h-.9zM93.6 411.6h.9v.9h-.9zM102.3 422.2h.9v.9h-.9zM102.4 423.4h.9v.9h-.9zM94.2 410.9h.9v.9h-.9zM100.9 415.4h.9v.9h-.9zM86.7 432.7h.9v.9h-.9zM101.6 422.9h.9v.9h-.9zM94.7 413.4h.9v.9h-.9zM96.6 407.8h.9v.9h-.9zM102.8 434.7h.9v.9h-.9zM87.5 421.3h.9v.9h-.9zM88.9 422.1h.9v.9h-.9zM90.0 436.8h.9v.9h-.9zM97.2 407.8h.9v.9h-.9zM98.0 410.8h.9v.9h-.9zM86.0 433.2h.9v.9h-.9zM95.4 410.9h.9v.9h-.9zM98.1 410.2h.9v.9h-.9zM85.9 432.0h.9v.9h-.9zM94.6 413.6h.9v.9h-.9zM100.2 411.7h.9v.9h-.9zM89.7 438.0h.9v.9h-.9zM100.1 417.0h.9v.9h-.9zM94.0 411.2h.9v.9h-.9zM88.1 421.8h.9v.9h-.9zM100.6 436.1h.9v.9h-.9zM95.3 410.0h.9v.9h-.9zM102.2 423.3h.9v.9h-.9zM101.1 416.9h.9v.9h-.9zM96.4 408.4h.9v.9h-.9zM86.0 429.4h.9v.9h-.9zM90.2 418.5h.9v.9h-.9zM89.7 418.8h.9v.9h-.9zM90.7 437.4h.9v.9h-.9zM102.1 426.5h.9v.9h-.9zM99.5 411.6h.9v.9h-.9zM94.9 411.8h.9v.9h-.9zM90.8 418.3h.9v.9h-.9zM99.8 416.2h.9v.9h-.9zM88.6 420.0h.9v.9h-.9zM92.7 414.8h.9v.9h-.9zM87.2 432.1h.9v.9h-.9zM99.4 413.3h.9v.9h-.9zM88.5 423.2h.9v.9h-.9zM90.7 416.8h.9v.9h-.9zM96.7 410.0h.9v.9h-.9zM91.4 414.5h.9v.9h-.9zM92.4 414.3h.9v.9h-.9zM103.2 426.1h.9v.9h-.9zM86.8 431.5h.9v.9h-.9zM89.3 436.6h.9v.9h-.9zM102.9 424.3h.9v.9h-.9zM89.2 421.8h.9v.9h-.9zM101.8 425.5h.9v.9h-.9zM95.1 410.2h.9v.9h-.9zM91.2 437.7h.9v.9h-.9zM97.6 411.4h.9v.9h-.9zM99.5 438.0h.9v.9h-.9z" fill="#42759c" fill-opacity="0.85"/>
<path d="M87.8 428.5h.9v.9h-.9zM92.7 436.8h.9v.9h-.9zM95.7 415.0h.9v.9h-.9zM93.2 436.8h.9v.9h-.9zM94.3 415.1h.9v.9h-.9zM89.1 431.5h.9v.9h-.9zM89.1 430.4h.9v.9h-.9zM93.0 437.4h.9v.9h-.9zM99.7 421.7h.9v.9h-.9zM88.8 433.4h.9v.9h-.9zM87.9 433.1h.9v.9h-.9zM92.5 437.1h.9v.9h-.9zM88.3 432.2h.9v.9h-.9zM89.2 427.7h.9v.9h-.9zM88.8 435.5h.9v.9h-.9zM89.2 432.2h.9v.9h-.9zM88.2 434.5h.9v.9h-.9zM88.0 431.9h.9v.9h-.9zM99.9 419.8h.9v.9h-.9zM88.9 431.8h.9v.9h-.9zM91.9 437.1h.9v.9h-.9zM88.9 431.8h.9v.9h-.9zM91.4 436.4h.9v.9h-.9zM88.9 432.9h.9v.9h-.9zM97.7 413.8h.9v.9h-.9zM88.5 433.9h.9v.9h-.9zM88.9 431.1h.9v.9h-.9zM93.1 437.1h.9v.9h-.9zM92.4 417.3h.9v.9h-.9zM91.9 437.3h.9v.9h-.9zM87.4 434.9h.9v.9h-.9zM88.7 430.5h.9v.9h-.9zM91.5 436.8h.9v.9h-.9zM87.4 429.3h.9v.9h-.9zM88.8 430.4h.9v.9h-.9zM88.0 431.2h.9v.9h-.9zM87.5 434.6h.9v.9h-.9zM92.7 436.2h.9v.9h-.9zM97.5 413.3h.9v.9h-.9zM87.7 425.2h.9v.9h-.9zM94.5 413.9h.9v.9h-.9zM89.0 431.2h.9v.9h-.9zM98.1 413.2h.9v.9h-.9zM98.3 413.8h.9v.9h-.9zM87.4 426.4h.9v.9h-.9zM91.0 420.6h.9v.9h-.9zM88.1 433.1h.9v.9h-.9zM91.8 417.6h.9v.9h-.9zM87.9 431.6h.9v.9h-.9zM94.4 415.2h.9v.9h-.9zM88.3 429.0h.9v.9h-.9zM88.2 426.6h.9v.9h-.9zM90.3 421.6h.9v.9h-.9zM88.8 433.3h.9v.9h-.9zM87.8 429.3h.9v.9h-.9zM91.1 420.8h.9v.9h-.9zM101.5 432.4h.9v.9h-.9zM96.9 415.0h.9v.9h-.9zM96.5 412.7h.9v.9h-.9zM98.5 415.8h.9v.9h-.9zM90.7 420.8h.9v.9h-.9zM97.0 414.1h.9v.9h-.9zM89.0 425.2h.9v.9h-.9zM87.5 433.9h.9v.9h-.9zM88.1 424.4h.9v.9h-.9zM99.2 414.6h.9v.9h-.9zM97.0 414.2h.9v.9h-.9zM94.1 414.7h.9v.9h-.9zM96.4 415.6h.9v.9h-.9zM92.8 415.7h.9v.9h-.9zM102.1 431.2h.9v.9h-.9zM90.9 421.5h.9v.9h-.9zM92.3 436.3h.9v.9h-.9zM94.6 414.5h.9v.9h-.9zM88.1 431.1h.9v.9h-.9zM88.9 427.1h.9v.9h-.9zM92.7 437.1h.9v.9h-.9zM88.3 424.7h.9v.9h-.9zM96.8 412.0h.9v.9h-.9zM88.0 431.0h.9v.9h-.9zM102.1 432.4h.9v.9h-.9zM102.6 432.5h.9v.9h-.9zM100.7 419.4h.9v.9h-.9zM87.7 432.8h.9v.9h-.9zM102.8 430.6h.9v.9h-.9zM91.7 436.9h.9v.9h-.9zM91.5 417.6h.9v.9h-.9zM101.7 430.2h.9v.9h-.9zM88.4 424.3h.9v.9h-.9zM87.4 429.6h.9v.9h-.9zM88.2 425.3h.9v.9h-.9zM96.6 412.0h.9v.9h-.9zM98.4 412.1h.9v.9h-.9zM89.6 419.9h.9v.9h-.9zM91.4 417.2h.9v.9h-.9zM88.6 429.6h.9v.9h-.9zM102.9 428.6h.9v.9h-.9zM99.6 418.4h.9v.9h-.9zM91.1 420.4h.9v.9h-.9zM97.0 412.9h.9v.9h-.9zM99.4 418.9h.9v.9h-.9zM99.2 416.4h.9v.9h-.9zM87.3 425.3h.9v.9h-.9zM92.7 437.6h.9v.9h-.9zM87.7 430.7h.9v.9h-.9zM101.6 433.6h.9v.9h-.9zM92.6 415.9h.9v.9h-.9zM97.6 416.8h.9v.9h-.9zM88.8 428.8h.9v.9h-.9zM103.4 432.5h.9v.9h-.9zM88.0 429.2h.9v.9h-.9zM90.8 420.0h.9v.9h-.9zM92.5 417.2h.9v.9h-.9zM98.7 415.1h.9v.9h-.9zM88.5 434.6h.9v.9h-.9zM91.9 437.4h.9v.9h-.9zM98.0 415.9h.9v.9h-.9zM97.1 413.6h.9v.9h-.9zM99.0 413.3h.9v.9h-.9zM87.8 427.8h.9v.9h-.9zM89.2 432.6h.9v.9h-.9zM89.1 431.2h.9v.9h-.9zM96.4 414.9h.9v.9h-.9zM91.2 421.7h.9v.9h-.9zM91.8 437.7h.9v.9h-.9zM88.4 430.3h.9v.9h-.9zM98.5 417.2h.9v.9h-.9zM89.1 435.1h.9v.9h-.9zM97.4 414.9h.9v.9h-.9zM91.4 417.0h.9v.9h-.9zM102.7 429.9h.9v.9h-.9zM101.6 430.2h.9v.9h-.9zM101.9 428.8h.9v.9h-.9zM99.3 417.3h.9v.9h-.9zM98.2 414.0h.9v.9h-.9zM87.6 427.0h.9v.9h-.9zM102.5 428.0h.9v.9h-.9zM97.7 415.3h.9v.9h-.9zM92.2 416.5h.9v.9h-.9zM101.6 432.8h.9v.9h-.9zM88.1 435.8h.9v.9h-.9zM102.5 433.7h.9v.9h-.9zM88.9 432.3h.9v.9h-.9zM90.3 421.8h.9v.9h-.9zM101.9 428.5h.9v.9h-.9zM100.9 419.8h.9v.9h-.9zM98.6 415.9h.9v.9h-.9zM103.3 430.7h.9v.9h-.9zM88.0 426.9h.9v.9h-.9zM95.7 413.4h.9v.9h-.9zM89.0 433.4h.9v.9h-.9zM92.3 416.2h.9v.9h-.9zM87.8 429.4h.9v.9h-.9zM97.8 414.7h.9v.9h-.9zM88.1 426.3h.9v.9h-.9zM91.5 437.0h.9v.9h-.9zM89.8 420.7h.9v.9h-.9zM89.7 420.4h.9v.9h-.9zM102.2 432.8h.9v.9h-.9zM92.6 437.9h.9v.9h-.9zM90.3 421.7h.9v.9h-.9zM93.2 437.5h.9v.9h-.9zM95.2 415.2h.9v.9h-.9zM89.0 427.2h.9v.9h-.9zM95.3 415.6h.9v.9h-.9zM88.0 432.1h.9v.9h-.9zM88.4 428.0h.9v.9h-.9zM87.3 426.2h.9v.9h-.9zM88.5 424.5h.9v.9h-.9zM98.5 412.1h.9v.9h-.9zM99.0 412.8h.9v.9h-.9zM95.8 415.0h.9v.9h-.9zM97.6 412.4h.9v.9h-.9zM87.5 427.0h.9v.9h-.9zM95.4 415.1h.9v.9h-.9zM100.1 419.2h.9v.9h-.9zM89.2 427.3h.9v.9h-.9zM89.2 433.2h.9v.9h-.9zM93.0 436.5h.9v.9h-.9zM99.5 420.0h.9v.9h-.9zM100.5 420.5h.9v.9h-.9zM96.2 413.4h.9v.9h-.9zM102.6 431.4h.9v.9h-.9zM88.2 427.1h.9v.9h-.9zM88.7 428.3h.9v.9h-.9zM99.2 411.7h.9v.9h-.9zM99.2 413.3h.9v.9h-.9zM98.2 416.4h.9v.9h-.9zM100.2 420.5h.9v.9h-.9zM101.2 418.1h.9v.9h-.9zM98.1 417.5h.9v.9h-.9zM87.9 430.2h.9v.9h-.9zM103.1 431.8h.9v.9h-.9zM98.4 417.1h.9v.9h-.9zM98.5 417.1h.9v.9h-.9zM87.3 434.2h.9v.9h-.9zM89.0 424.3h.9v.9h-.9zM91.2 420.6h.9v.9h-.9zM102.0 428.0h.9v.9h-.9zM100.3 418.0h.9v.9h-.9zM102.5 432.8h.9v.9h-.9zM101.3 419.8h.9v.9h-.9zM95.3 414.0h.9v.9h-.9zM97.1 414.8h.9v.9h-.9zM88.4 428.8h.9v.9h-.9zM100.5 418.3h.9v.9h-.9zM87.8 427.9h.9v.9h-.9zM94.6 415.1h.9v.9h-.9zM96.5 412.3h.9v.9h-.9zM100.3 420.0h.9v.9h-.9zM94.9 414.9h.9v.9h-.9zM97.4 413.9h.9v.9h-.9zM89.2 426.5h.9v.9h-.9zM102.6 431.8h.9v.9h-.9zM95.1 414.8h.9v.9h-.9zM87.4 432.1h.9v.9h-.9zM88.6 426.8h.9v.9h-.9zM97.9 411.8h.9v.9h-.9zM88.2 434.8h.9v.9h-.9zM102.4 430.2h.9v.9h-.9zM96.5 414.2h.9v.9h-.9zM97.5 412.1h.9v.9h-.9zM98.5 412.5h.9v.9h-.9zM98.7 413.0h.9v.9h-.9zM103.3 431.5h.9v.9h-.9zM103.4 432.8h.9v.9h-.9zM87.9 431.3h.9v.9h-.9zM97.8 417.3h.9v.9h-.9zM102.4 432.7h.9v.9h-.9zM102.5 431.8h.9v.9h-.9zM97.5 415.9h.9v.9h-.9zM99.9 421.4h.9v.9h-.9zM96.2 415.3h.9v.9h-.9zM98.1 416.6h.9v.9h-.9zM90.8 421.2h.9v.9h-.9zM89.5 421.3h.9v.9h-.9zM102.1 432.1h.9v.9h-.9zM87.4 433.7h.9v.9h-.9zM93.9 414.5h.9v.9h-.9zM87.6 428.0h.9v.9h-.9zM96.5 415.7h.9v.9h-.9zM98.2 416.4h.9v.9h-.9zM97.6 414.7h.9v.9h-.9zM92.3 416.5h.9v.9h-.9zM97.8 412.3h.9v.9h-.9zM88.7 424.9h.9v.9h-.9zM90.4 420.0h.9v.9h-.9zM98.5 413.8h.9v.9h-.9zM92.3 436.5h.9v.9h-.9zM96.0 414.0h.9v.9h-.9zM88.2 431.3h.9v.9h-.9zM94.7 413.8h.9v.9h-.9zM93.2 436.8h.9v.9h-.9zM87.7 431.5h.9v.9h-.9zM96.7 415.3h.9v.9h-.9zM98.3 417.0h.9v.9h-.9zM91.4 437.2h.9v.9h-.9zM99.5 418.6h.9v.9h-.9zM96.9 415.3h.9v.9h-.9zM88.5 435.1h.9v.9h-.9zM88.6 426.8h.9v.9h-.9zM87.6 435.5h.9v.9h-.9zM94.3 415.5h.9v.9h-.9zM102.7 429.3h.9v.9h-.9zM98.6 413.8h.9v.9h-.9zM97.6 412.2h.9v.9h-.9zM102.3 431.4h.9v.9h-.9zM88.0 433.4h.9v.9h-.9zM101.5 433.9h.9v.9h-.9zM97.0 411.6h.9v.9h-.9zM101.5 431.6h.9v.9h-.9zM100.3 419.9h.9v.9h-.9zM88.6 428.5h.9v.9h-.9zM91.3 421.8h.9v.9h-.9zM93.1 416.7h.9v.9h-.9zM99.1 412.2h.9v.9h-.9zM94.5 414.2h.9v.9h-.9zM102.4 429.5h.9v.9h-.9zM87.4 427.7h.9v.9h-.9zM92.8 417.2h.9v.9h-.9zM99.2 412.9h.9v.9h-.9zM101.9 432.1h.9v.9h-.9zM97.3 411.7h.9v.9h-.9zM100.2 420.3h.9v.9h-.9zM102.3 432.1h.9v.9h-.9zM97.4 412.4h.9v.9h-.9zM89.0 434.3h.9v.9h-.9zM101.9 428.8h.9v.9h-.9zM88.6 435.1h.9v.9h-.9zM98.5 416.8h.9v.9h-.9zM97.9 412.6h.9v.9h-.9zM96.7 414.5h.9v.9h-.9zM89.2 432.4h.9v.9h-.9zM99.7 419.5h.9v.9h-.9zM98.8 412.9h.9v.9h-.9zM88.9 429.9h.9v.9h-.9zM99.0 416.0h.9v.9h-.9zM97.9 415.4h.9v.9h-.9zM102.5 428.7h.9v.9h-.9zM91.4 415.8h.9v.9h-.9zM92.9 417.4h.9v.9h-.9zM102.6 428.6h.9v.9h-.9zM88.2 435.2h.9v.9h-.9zM88.6 430.6h.9v.9h-.9zM96.7 412.5h.9v.9h-.9zM103.0 433.8h.9v.9h-.9zM96.3 414.6h.9v.9h-.9zM102.2 432.1h.9v.9h-.9zM91.5 436.1h.9v.9h-.9zM92.7 436.9h.9v.9h-.9zM91.9 436.6h.9v.9h-.9zM99.1 417.4h.9v.9h-.9zM99.3 413.5h.9v.9h-.9zM101.5 432.4h.9v.9h-.9zM100.2 419.4h.9v.9h-.9zM102.1 428.6h.9v.9h-.9zM88.6 436.1h.9v.9h-.9zM95.8 413.1h.9v.9h-.9zM98.2 416.0h.9v.9h-.9zM98.1 415.8h.9v.9h-.9zM87.4 424.3h.9v.9h-.9zM88.9 434.9h.9v.9h-.9zM98.6 411.9h.9v.9h-.9zM89.1 426.1h.9v.9h-.9zM87.4 426.7h.9v.9h-.9zM94.9 414.0h.9v.9h-.9zM99.3 411.7h.9v.9h-.9zM96.0 413.7h.9v.9h-.9zM97.0 413.8h.9v.9h-.9zM97.0 414.0h.9v.9h-.9zM93.8 414.8h.9v.9h-.9zM98.3 412.0h.9v.9h-.9zM97.8 411.9h.9v.9h-.9zM101.3 419.9h.9v.9h-.9zM99.0 412.1h.9v.9h-.9zM99.8 421.5h.9v.9h-.9zM92.7 437.5h.9v.9h-.9zM97.7 411.6h.9v.9h-.9zM95.4 413.0h.9v.9h-.9zM94.9 415.6h.9v.9h-.9zM88.1 429.6h.9v.9h-.9zM88.3 436.0h.9v.9h-.9zM94.8 415.6h.9v.9h-.9zM87.9 429.4h.9v.9h-.9zM91.4 416.1h.9v.9h-.9zM101.2 418.2h.9v.9h-.9zM93.0 416.6h.9v.9h-.9zM88.9 433.6h.9v.9h-.9zM96.6 413.5h.9v.9h-.9zM97.4 414.9h.9v.9h-.9zM96.2 415.6h.9v.9h-.9zM88.7 424.8h.9v.9h-.9zM88.1 436.0h.9v.9h-.9zM102.6 432.3h.9v.9h-.9zM91.9 416.5h.9v.9h-.9zM90.1 419.9h.9v.9h-.9zM98.9 413.8h.9v.9h-.9zM96.0 412.3h.9v.9h-.9zM90.4 419.9h.9v.9h-.9zM100.1 420.3h.9v.9h-.9zM97.0 415.1h.9v.9h-.9zM91.5 436.6h.9v.9h-.9zM101.9 428.5h.9v.9h-.9zM87.3 436.0h.9v.9h-.9zM101.7 431.7h.9v.9h-.9zM88.7 428.6h.9v.9h-.9zM89.2 429.5h.9v.9h-.9zM102.7 430.5h.9v.9h-.9zM93.6 414.1h.9v.9h-.9zM103.1 432.8h.9v.9h-.9zM101.4 430.5h.9v.9h-.9zM94.0 415.2h.9v.9h-.9zM88.4 424.9h.9v.9h-.9zM99.6 419.0h.9v.9h-.9zM98.0 413.2h.9v.9h-.9zM100.8 421.4h.9v.9h-.9zM89.2 427.7h.9v.9h-.9zM97.0 413.7h.9v.9h-.9zM88.4 432.1h.9v.9h-.9zM99.6 419.9h.9v.9h-.9zM99.6 420.4h.9v.9h-.9zM89.0 428.2h.9v.9h-.9zM99.7 419.4h.9v.9h-.9zM88.6 432.9h.9v.9h-.9zM88.0 434.9h.9v.9h-.9zM98.9 413.0h.9v.9h-.9zM103.3 430.1h.9v.9h-.9zM98.8 414.0h.9v.9h-.9zM99.0 414.9h.9v.9h-.9zM102.7 433.3h.9v.9h-.9zM101.3 420.9h.9v.9h-.9zM89.2 429.8h.9v.9h-.9zM98.9 414.5h.9v.9h-.9zM88.3 430.7h.9v.9h-.9zM101.1 417.8h.9v.9h-.9zM89.7 420.8h.9v.9h-.9zM102.9 429.6h.9v.9h-.9zM88.8 427.3h.9v.9h-.9zM93.2 416.8h.9v.9h-.9zM89.2 430.4h.9v.9h-.9zM93.3 416.5h.9v.9h-.9zM102.5 430.8h.9v.9h-.9zM95.4 414.9h.9v.9h-.9zM88.2 435.5h.9v.9h-.9zM88.8 428.5h.9v.9h-.9zM100.2 418.6h.9v.9h-.9zM88.2 426.2h.9v.9h-.9zM88.4 432.4h.9v.9h-.9zM88.4 431.4h.9v.9h-.9zM87.5 435.8h.9v.9h-.9zM93.3 437.3h.9v.9h-.9zM87.9 426.3h.9v.9h-.9zM102.9 429.2h.9v.9h-.9zM99.0 414.6h.9v.9h-.9zM95.9 413.4h.9v.9h-.9zM94.1 413.8h.9v.9h-.9zM97.1 415.1h.9v.9h-.9zM102.0 431.4h.9v.9h-.9zM96.4 413.8h.9v.9h-.9zM91.9 417.2h.9v.9h-.9zM88.4 426.6h.9v.9h-.9zM102.8 433.4h.9v.9h-.9zM95.9 414.3h.9v.9h-.9zM89.0 435.4h.9v.9h-.9zM88.7 424.1h.9v.9h-.9zM93.0 416.7h.9v.9h-.9zM87.6 433.1h.9v.9h-.9zM98.0 416.6h.9v.9h-.9zM88.2 433.6h.9v.9h-.9zM102.0 431.7h.9v.9h-.9zM101.6 428.6h.9v.9h-.9zM95.7 412.3h.9v.9h-.9zM95.8 415.6h.9v.9h-.9zM88.0 430.1h.9v.9h-.9zM87.9 424.6h.9v.9h-.9zM102.5 429.1h.9v.9h-.9zM98.0 414.7h.9v.9h-.9zM100.7 419.2h.9v.9h-.9zM96.9 415.1h.9v.9h-.9zM88.7 426.4h.9v.9h-.9zM96.3 412.9h.9v.9h-.9zM87.6 434.8h.9v.9h-.9zM91.1 421.5h.9v.9h-.9zM97.4 417.1h.9v.9h-.9zM93.9 415.0h.9v.9h-.9zM99.1 416.0h.9v.9h-.9zM99.4 419.9h.9v.9h-.9zM88.9 433.6h.9v.9h-.9zM89.0 426.1h.9v.9h-.9zM93.4 414.9h.9v.9h-.9zM96.9 415.7h.9v.9h-.9zM94.8 414.9h.9v.9h-.9zM91.3 421.5h.9v.9h-.9zM87.6 425.1h.9v.9h-.9zM98.8 415.5h.9v.9h-.9zM91.7 437.4h.9v.9h-.9zM97.8 414.7h.9v.9h-.9zM101.7 433.7h.9v.9h-.9zM87.8 426.8h.9v.9h-.9zM97.8 417.6h.9v.9h-.9zM101.1 419.4h.9v.9h-.9zM102.5 433.2h.9v.9h-.9zM89.0 426.5h.9v.9h-.9zM97.4 414.3h.9v.9h-.9zM88.3 425.5h.9v.9h-.9zM89.0 434.2h.9v.9h-.9zM100.0 421.5h.9v.9h-.9z" fill="#46828e" fill-opacity="0.85"/>
<path d="M91.5 419.7h.9v.9h-.9zM98.8 436.3h.9v.9h-.9zM100.7 434.4h.9v.9h-.9zM97.3 436.1h.9v.9h-.9zM99.5 435.2h.9v.9h-.9zM96.9 436.2h.9v.9h-.9zM99.4 436.4h.9v.9h-.9zM93.0 418.0h.9v.9h-.9zM91.1 434.8h.9v.9h-.9zM98.6 419.3h.9v.9h-.9zM98.8 437.4h.9v.9h-.9zM90.1 423.9h.9v.9h-.9zM96.5 436.9h.9v.9h-.9zM90.6 434.8h.9v.9h-.9zM94.5 437.3h.9v.9h-.9zM90.8 424.8h.9v.9h-.9zM99.5 424.1h.9v.9h-.9zM98.5 436.3h.9v.9h-.9zM90.7 425.4h.9v.9h-.9zM92.7 419.7h.9v.9h-.9zM99.9 435.4h.9v.9h-.9zM99.6 435.4h.9v.9h-.9zM99.9 425.2h.9v.9h-.9zM94.2 437.3h.9v.9h-.9zM95.7 436.9h.9v.9h-.9zM100.4 425.2h.9v.9h-.9zM98.7 437.0h.9v.9h-.9zM96.7 417.6h.9v.9h-.9zM94.5 437.1h.9v.9h-.9zM96.4 436.3h.9v.9h-.9zM94.0 437.2h.9v.9h-.9zM90.9 424.7h.9v.9h-.9zM97.2 417.4h.9v.9h-.9zM96.6 436.2h.9v.9h-.9zM89.9 424.1h.9v.9h-.9zM96.0 436.6h.9v.9h-.9zM97.8 436.9h.9v.9h-.9zM96.9 436.9h.9v.9h-.9zM93.9 436.5h.9v.9h-.9zM95.9 436.2h.9v.9h-.9zM91.0 434.5h.9v.9h-.9zM89.7 434.8h.9v.9h-.9zM96.2 436.3h.9v.9h-.9zM97.4 436.7h.9v.9h-.9zM96.8 417.3h.9v.9h-.9zM100.0 435.6h.9v.9h-.9zM89.9 425.5h.9v.9h-.9zM96.2 437.3h.9v.9h-.9zM90.3 422.8h.9v.9h-.9zM98.6 436.7h.9v.9h-.9zM97.9 436.9h.9v.9h-.9zM94.5 416.2h.9v.9h-.9zM93.4 436.7h.9v.9h-.9zM99.8 435.9h.9v.9h-.9zM94.4 436.4h.9v.9h-.9zM97.8 436.6h.9v.9h-.9zM99.6 435.8h.9v.9h-.9zM99.5 425.3h.9v.9h-.9zM89.3 434.3h.9v.9h-.9zM96.4 437.2h.9v.9h-.9zM99.8 435.1h.9v.9h-.9zM98.0 437.3h.9v.9h-.9zM95.6 437.3h.9v.9h-.9zM97.8 437.4h.9v.9h-.9zM95.3 417.0h.9v.9h-.9zM96.0 436.7h.9v.9h-.9zM96.3 437.1h.9v.9h-.9zM100.1 434.1h.9v.9h-.9zM94.6 417.7h.9v.9h-.9zM90.1 435.4h.9v.9h-.9zM98.6 436.5h.9v.9h-.9zM95.8 436.1h.9v.9h-.9zM95.7 417.1h.9v.9h-.9zM98.2 436.2h.9v.9h-.9zM97.4 418.4h.9v.9h-.9zM90.5 435.2h.9v.9h-.9zM96.2 416.8h.9v.9h-.9zM93.4 416.4h.9v.9h-.9zM96.6 416.4h.9v.9h-.9zM97.9 436.8h.9v.9h-.9zM97.3 437.9h.9v.9h-.9zM97.8 436.6h.9v.9h-.9zM90.9 435.6h.9v.9h-.9zM95.9 417.0h.9v.9h-.9zM94.6 437.3h.9v.9h-.9zM90.5 434.1h.9v.9h-.9zM97.9 438.0h.9v.9h-.9zM101.2 422.6h.9v.9h-.9zM99.5 435.6h.9v.9h-.9zM90.8 435.7h.9v.9h-.9zM98.1 419.4h.9v.9h-.9zM90.1 423.7h.9v.9h-.9zM100.7 422.1h.9v.9h-.9zM98.4 438.0h.9v.9h-.9zM94.3 436.4h.9v.9h-.9zM95.9 416.7h.9v.9h-.9zM96.9 437.1h.9v.9h-.9zM97.6 436.3h.9v.9h-.9zM90.1 424.5h.9v.9h-.9zM98.8 418.8h.9v.9h-.9zM100.2 422.5h.9v.9h-.9zM100.3 434.8h.9v.9h-.9zM99.7 425.5h.9v.9h-.9zM98.5 436.9h.9v.9h-.9zM97.4 436.9h.9v.9h-.9zM93.9 416.5h.9v.9h-.9zM101.1 434.3h.9v.9h-.9zM91.1 435.7h.9v.9h-.9zM95.9 417.7h.9v.9h-.9zM90.4 422.4h.9v.9h-.9zM97.0 437.5h.9v.9h-.9zM101.3 424.6h.9v.9h-.9zM89.4 435.1h.9v.9h-.9zM97.7 418.4h.9v.9h-.9zM92.3 418.7h.9v.9h-.9zM91.5 417.9h.9v.9h-.9zM95.1 436.3h.9v.9h-.9zM100.4 434.1h.9v.9h-.9zM95.1 417.5h.9v.9h-.9zM94.5 416.1h.9v.9h-.9zM90.3 424.4h.9v.9h-.9zM91.6 418.5h.9v.9h-.9zM94.2 436.1h.9v.9h-.9zM96.5 417.2h.9v.9h-.9zM96.3 417.6h.9v.9h-.9zM94.2 417.7h.9v.9h-.9zM101.3 423.9h.9v.9h-.9zM90.7 423.5h.9v.9h-.9zM98.4 437.2h.9v.9h-.9zM98.4 418.9h.9v.9h-.9zM90.0 422.1h.9v.9h-.9zM97.7 419.7h.9v.9h-.9zM98.5 419.3h.9v.9h-.9zM93.4 437.2h.9v.9h-.9zM89.7 423.6h.9v.9h-.9zM100.8 435.7h.9v.9h-.9zM89.4 423.8h.9v.9h-.9zM90.7 434.4h.9v.9h-.9zM97.7 438.0h.9v.9h-.9zM98.8 419.4h.9v.9h-.9zM99.6 423.8h.9v.9h-.9zM96.8 437.5h.9v.9h-.9zM95.2 436.1h.9v.9h-.9zM97.6 436.5h.9v.9h-.9zM98.3 419.5h.9v.9h-.9zM89.6 435.6h.9v.9h-.9zM100.5 435.5h.9v.9h-.9zM94.9 417.4h.9v.9h-.9zM95.5 438.0h.9v.9h-.9zM100.8 435.3h.9v.9h-.9zM90.4 424.7h.9v.9h-.9zM93.0 419.7h.9v.9h-.9zM91.1 435.4h.9v.9h-.9zM90.8 422.0h.9v.9h-.9zM90.9 423.3h.9v.9h-.9zM92.1 417.9h.9v.9h-.9zM95.5 416.7h.9v.9h-.9zM91.1 434.6h.9v.9h-.9zM100.3 434.8h.9v.9h-.9zM98.0 436.7h.9v.9h-.9zM97.0 436.2h.9v.9h-.9zM95.9 416.9h.9v.9h-.9zM96.4 436.2h.9v.9h-.9zM95.9 436.5h.9v.9h-.9zM99.0 419.3h.9v.9h-.9zM90.0 435.0h.9v.9h-.9zM101.1 423.8h.9v.9h-.9zM90.2 424.2h.9v.9h-.9zM98.2 417.8h.9v.9h-.9zM99.0 419.4h.9v.9h-.9zM97.0 417.1h.9v.9h-.9zM90.9 422.4h.9v.9h-.9zM90.2 435.3h.9v.9h-.9zM92.8 418.4h.9v.9h-.9zM89.8 422.7h.9v.9h-.9zM100.3 422.4h.9v.9h-.9zM89.6 434.5h.9v.9h-.9zM93.4 437.5h.9v.9h-.9zM97.3 436.9h.9v.9h-.9zM100.4 424.8h.9v.9h-.9zM90.9 435.4h.9v.9h-.9zM90.6 422.3h.9v.9h-.9zM99.4 434.7h.9v.9h-.9zM94.0 416.3h.9v.9h-.9zM90.1 424.8h.9v.9h-.9zM96.2 417.7h.9v.9h-.9zM99.0 418.6h.9v.9h-.9zM100.7 434.1h.9v.9h-.9zM93.5 436.2h.9v.9h-.9zM96.9 416.8h.9v.9h-.9zM94.7 417.7h.9v.9h-.9zM91.7 419.2h.9v.9h-.9zM91.4 418.8h.9v.9h-.9zM95.7 416.5h.9v.9h-.9zM90.6 421.9h.9v.9h-.9zM93.7 415.7h.9v.9h-.9zM99.6 424.9h.9v.9h-.9zM94.1 415.9h.9v.9h-.9zM99.7 435.3h.9v.9h-.9zM95.7 436.4h.9v.9h-.9zM99.6 425.4h.9v.9h-.9zM91.6 418.6h.9v.9h-.9zM97.9 419.1h.9v.9h-.9zM97.9 437.5h.9v.9h-.9zM89.3 423.0h.9v.9h-.9zM100.5 435.1h.9v.9h-.9zM99.9 435.0h.9v.9h-.9zM100.1 435.4h.9v.9h-.9zM98.2 418.8h.9v.9h-.9zM90.4 435.5h.9v.9h-.9zM99.3 436.2h.9v.9h-.9zM94.4 437.4h.9v.9h-.9zM90.8 425.2h.9v.9h-.9zM96.1 416.9h.9v.9h-.9zM100.7 422.2h.9v.9h-.9zM90.4 423.3h.9v.9h-.9zM95.2 436.5h.9v.9h-.9zM96.3 436.3h.9v.9h-.9zM93.4 417.2h.9v.9h-.9zM98.9 437.8h.9v.9h-.9zM97.5 417.9h.9v.9h-.9zM98.4 419.4h.9v.9h-.9zM96.7 417.7h.9v.9h-.9zM95.5 417.6h.9v.9h-.9zM90.8 424.8h.9v.9h-.9zM98.1 418.8h.9v.9h-.9zM96.9 416.4h.9v.9h-.9zM91.3 425.6h.9v.9h-.9zM93.4 417.6h.9v.9h-.9zM96.9 437.5h.9v.9h-.9zM98.0 418.4h.9v.9h-.9zM90.8 422.8h.9v.9h-.9zM91.9 419.4h.9v.9h-.9zM90.7 424.2h.9v.9h-.9zM92.8 417.9h.9v.9h-.9zM92.0 419.7h.9v.9h-.9zM97.4 438.0h.9v.9h-.9zM99.1 437.3h.9v.9h-.9zM90.9 434.4h.9v.9h-.9zM96.1 416.2h.9v.9h-.9zM96.4 416.1h.9v.9h-.9zM91.1 434.7h.9v.9h-.9zM91.0 423.3h.9v.9h-.9zM92.9 419.1h.9v.9h-.9zM96.5 437.2h.9v.9h-.9zM95.0 437.6h.9v.9h-.9zM99.8 434.2h.9v.9h-.9zM98.2 436.5h.9v.9h-.9zM96.5 437.3h.9v.9h-.9zM98.5 417.8h.9v.9h-.9zM100.2 434.1h.9v.9h-.9zM90.4 423.4h.9v.9h-.9zM99.0 419.7h.9v.9h-.9zM98.2 438.0h.9v.9h-.9zM96.1 417.1h.9v.9h-.9zM100.9 423.0h.9v.9h-.9zM100.9 435.9h.9v.9h-.9zM93.1 419.1h.9v.9h-.9zM91.1 435.5h.9v.9h-.9zM90.6 422.3h.9v.9h-.9zM101.0 434.4h.9v.9h-.9zM96.9 417.2h.9v.9h-.9zM99.6 435.7h.9v.9h-.9zM90.7 422.8h.9v.9h-.9zM90.0 422.9h.9v.9h-.9zM96.6 417.5h.9v.9h-.9zM89.6 425.7h.9v.9h-.9zM95.5 436.7h.9v.9h-.9zM90.9 425.4h.9v.9h-.9zM100.4 435.7h.9v.9h-.9zM99.3 437.6h.9v.9h-.9zM94.1 416.8h.9v.9h-.9zM100.1 422.7h.9v.9h-.9zM90.1 421.9h.9v.9h-.9zM91.3 434.0h.9v.9h-.9zM99.9 435.3h.9v.9h-.9zM100.8 423.1h.9v.9h-.9zM101.2 434.6h.9v.9h-.9zM91.2 422.2h.9v.9h-.9zM95.9 436.4h.9v.9h-.9zM90.8 434.5h.9v.9h-.9zM97.3 436.2h.9v.9h-.9zM100.1 434.7h.9v.9h-.9zM98.3 418.8h.9v.9h-.9zM100.9 425.2h.9v.9h-.9zM96.9 415.7h.9v.9h-.9zM100.6 423.8h.9v.9h-.9zM91.7 418.6h.9v.9h-.9zM100.4 423.6h.9v.9h-.9zM91.3 424.8h.9v.9h-.9zM93.0 418.4h.9v.9h-.9zM91.0 424.6h.9v.9h-.9zM95.9 417.3h.9v.9h-.9zM99.4 425.0h.9v.9h-.9zM96.2 417.6h.9v.9h-.9zM97.3 437.5h.9v.9h-.9zM99.6 435.2h.9v.9h-.9zM96.1 437.0h.9v.9h-.9zM90.7 434.3h.9v.9h-.9zM90.1 425.5h.9v.9h-.9zM94.9 417.4h.9v.9h-.9zM91.7 419.6h.9v.9h-.9zM99.7 425.8h.9v.9h-.9zM96.6 417.3h.9v.9h-.9zM96.8 436.8h.9v.9h-.9zM91.2 434.7h.9v.9h-.9zM99.3 419.7h.9v.9h-.9zM95.3 437.8h.9v.9h-.9zM100.1 435.8h.9v.9h-.9zM94.0 416.9h.9v.9h-.9zM97.6 437.2h.9v.9h-.9zM99.0 438.0h.9v.9h-.9zM99.7 425.7h.9v.9h-.9zM90.1 422.5h.9v.9h-.9zM95.7 416.0h.9v.9h-.9zM100.5 423.8h.9v.9h-.9zM95.7 437.2h.9v.9h-.9zM90.2 425.6h.9v.9h-.9zM92.3 419.3h.9v.9h-.9zM93.2 418.5h.9v.9h-.9zM90.7 434.4h.9v.9h-.9zM90.1 422.1h.9v.9h-.9zM98.1 418.0h.9v.9h-.9zM97.0 417.6h.9v.9h-.9zM92.0 419.4h.9v.9h-.9zM95.6 436.9h.9v.9h-.9zM100.3 423.4h.9v.9h-.9zM100.9 435.1h.9v.9h-.9zM100.9 424.1h.9v.9h-.9zM95.1 416.7h.9v.9h-.9zM96.4 436.6h.9v.9h-.9zM94.6 437.3h.9v.9h-.9zM89.8 425.2h.9v.9h-.9zM94.4 416.5h.9v.9h-.9zM98.9 437.2h.9v.9h-.9zM98.5 419.0h.9v.9h-.9zM91.2 434.8h.9v.9h-.9zM91.7 419.7h.9v.9h-.9zM100.4 435.6h.9v.9h-.9zM100.4 421.8h.9v.9h-.9zM101.0 423.2h.9v.9h-.9zM100.9 424.0h.9v.9h-.9zM93.8 436.4h.9v.9h-.9zM95.6 438.0h.9v.9h-.9zM98.2 437.5h.9v.9h-.9zM89.7 434.5h.9v.9h-.9zM98.9 436.4h.9v.9h-.9zM100.4 424.3h.9v.9h-.9zM97.6 437.0h.9v.9h-.9zM100.7 423.6h.9v.9h-.9zM99.9 436.0h.9v.9h-.9zM94.8 417.5h.9v.9h-.9zM96.9 437.1h.9v.9h-.9zM92.5 419.6h.9v.9h-.9zM89.5 434.5h.9v.9h-.9zM97.5 418.7h.9v.9h-.9zM90.3 422.6h.9v.9h-.9zM96.0 416.2h.9v.9h-.9zM100.2 424.3h.9v.9h-.9zM95.9 437.8h.9v.9h-.9zM95.3 436.3h.9v.9h-.9zM89.3 424.6h.9v.9h-.9zM100.4 423.7h.9v.9h-.9zM91.1 435.2h.9v.9h-.9zM101.0 423.6h.9v.9h-.9zM90.6 421.9h.9v.9h-.9zM93.6 436.9h.9v.9h-.9zM100.8 434.7h.9v.9h-.9zM95.2 416.5h.9v.9h-.9zM94.3 416.0h.9v.9h-.9zM93.5 417.3h.9v.9h-.9zM95.8 437.6h.9v.9h-.9zM98.2 419.2h.9v.9h-.9zM91.2 435.2h.9v.9h-.9zM100.4 434.7h.9v.9h-.9zM90.7 422.2h.9v.9h-.9z" fill="#4d8e7e" fill-opacity="0.85"/>
<path d="M92.7 435.8h.9v.9h-.9zM100.3 428.3h.9v.9h-.9zM89.4 433.6h.9v.9h-.9zM99.7 426.4h.9v.9h-.9zM91.4 423.4h.9v.9h-.9zM91.1 427.1h.9v.9h-.9zM91.1 426.1h.9v.9h-.9zM90.1 427.6h.9v.9h-.9zM91.5 435.4h.9v.9h-.9zM93.1 420.0h.9v.9h-.9zM92.3 422.0h.9v.9h-.9zM92.8 422.8h.9v.9h-.9zM97.8 420.4h.9v.9h-.9zM96.9 419.6h.9v.9h-.9zM90.6 430.1h.9v.9h-.9zM90.0 426.3h.9v.9h-.9zM91.3 426.2h.9v.9h-.9zM92.8 435.8h.9v.9h-.9zM92.6 436.1h.9v.9h-.9zM91.1 433.2h.9v.9h-.9zM92.5 435.1h.9v.9h-.9zM95.6 419.7h.9v.9h-.9zM90.8 431.7h.9v.9h-.9zM89.7 425.9h.9v.9h-.9zM91.8 420.2h.9v.9h-.9zM100.8 432.7h.9v.9h-.9zM99.4 427.7h.9v.9h-.9zM91.6 423.3h.9v.9h-.9zM93.2 435.8h.9v.9h-.9zM100.3 429.0h.9v.9h-.9zM93.1 435.1h.9v.9h-.9zM90.5 426.4h.9v.9h-.9zM89.8 427.9h.9v.9h-.9zM92.1 435.6h.9v.9h-.9zM99.4 431.8h.9v.9h-.9zM89.4 429.2h.9v.9h-.9zM98.7 421.4h.9v.9h-.9zM97.7 420.6h.9v.9h-.9zM92.8 421.6h.9v.9h-.9zM95.9 419.5h.9v.9h-.9zM99.6 432.2h.9v.9h-.9zM92.4 434.0h.9v.9h-.9zM99.8 433.0h.9v.9h-.9zM100.6 428.8h.9v.9h-.9zM99.8 427.5h.9v.9h-.9zM89.9 429.9h.9v.9h-.9zM91.0 433.4h.9v.9h-.9zM100.1 430.5h.9v.9h-.9zM89.8 427.0h.9v.9h-.9zM89.5 427.5h.9v.9h-.9zM99.5 431.7h.9v.9h-.9zM100.2 432.5h.9v.9h-.9zM99.6 428.5h.9v.9h-.9zM100.1 429.4h.9v.9h-.9zM99.4 432.4h.9v.9h-.9zM90.0 430.1h.9v.9h-.9zM92.7 423.5h.9v.9h-.9zM99.4 427.1h.9v.9h-.9zM92.8 421.9h.9v.9h-.9zM98.2 419.8h.9v.9h-.9zM94.7 418.8h.9v.9h-.9zM100.3 433.6h.9v.9h-.9zM90.7 430.6h.9v.9h-.9zM92.2 421.9h.9v.9h-.9zM92.2 435.3h.9v.9h-.9zM92.3 421.5h.9v.9h-.9zM93.0 435.5h.9v.9h-.9zM92.2 434.5h.9v.9h-.9zM99.5 430.6h.9v.9h-.9zM92.2 435.8h.9v.9h-.9zM100.8 427.6h.9v.9h-.9zM99.5 432.9h.9v.9h-.9zM100.5 427.6h.9v.9h-.9zM99.4 430.6h.9v.9h-.9zM99.6 427.4h.9v.9h-.9zM100.3 431.3h.9v.9h-.9zM99.9 430.6h.9v.9h-.9zM93.1 422.8h.9v.9h-.9zM91.3 432.5h.9v.9h-.9zM90.2 433.7h.9v.9h-.9zM92.5 435.5h.9v.9h-.9zM99.6 431.1h.9v.9h-.9zM100.9 431.3h.9v.9h-.9zM89.7 426.5h.9v.9h-.9zM91.0 428.8h.9v.9h-.9zM95.5 419.2h.9v.9h-.9zM90.8 430.6h.9v.9h-.9zM92.1 423.7h.9v.9h-.9zM95.3 418.3h.9v.9h-.9zM92.0 435.0h.9v.9h-.9zM96.6 419.3h.9v.9h-.9zM91.3 422.5h.9v.9h-.9zM91.7 421.2h.9v.9h-.9zM94.5 419.6h.9v.9h-.9zM89.7 432.9h.9v.9h-.9zM91.6 422.3h.9v.9h-.9zM93.5 419.5h.9v.9h-.9zM92.1 422.3h.9v.9h-.9zM89.5 429.7h.9v.9h-.9zM99.8 428.6h.9v.9h-.9zM92.8 423.1h.9v.9h-.9zM89.6 431.9h.9v.9h-.9zM90.1 431.8h.9v.9h-.9zM92.5 421.3h.9v.9h-.9zM95.7 418.1h.9v.9h-.9zM90.6 427.1h.9v.9h-.9zM99.6 429.7h.9v.9h-.9zM100.9 428.5h.9v.9h-.9zM90.5 428.9h.9v.9h-.9zM100.4 429.4h.9v.9h-.9zM89.9 426.5h.9v.9h-.9zM92.8 421.4h.9v.9h-.9zM100.4 433.3h.9v.9h-.9zM89.4 432.0h.9v.9h-.9zM92.5 421.9h.9v.9h-.9zM92.6 435.2h.9v.9h-.9zM93.9 419.2h.9v.9h-.9zM89.5 429.7h.9v.9h-.9zM90.8 432.7h.9v.9h-.9zM99.5 427.6h.9v.9h-.9zM89.7 426.6h.9v.9h-.9zM91.2 429.3h.9v.9h-.9zM100.7 433.9h.9v.9h-.9zM98.6 420.3h.9v.9h-.9zM90.0 427.4h.9v.9h-.9zM100.2 429.5h.9v.9h-.9zM90.2 427.2h.9v.9h-.9zM99.9 431.8h.9v.9h-.9zM92.6 420.4h.9v.9h-.9zM92.0 421.4h.9v.9h-.9zM99.5 428.1h.9v.9h-.9zM99.8 431.8h.9v.9h-.9zM100.6 426.8h.9v.9h-.9zM90.4 433.1h.9v.9h-.9zM93.3 421.4h.9v.9h-.9zM92.9 421.6h.9v.9h-.9zM98.6 419.8h.9v.9h-.9zM91.0 428.2h.9v.9h-.9zM91.1 432.2h.9v.9h-.9zM90.9 425.9h.9v.9h-.9zM93.9 419.2h.9v.9h-.9zM98.3 420.0h.9v.9h-.9zM96.2 418.4h.9v.9h-.9zM93.6 418.6h.9v.9h-.9zM100.8 430.8h.9v.9h-.9zM90.1 428.9h.9v.9h-.9zM101.2 426.7h.9v.9h-.9zM100.1 433.7h.9v.9h-.9zM98.9 420.1h.9v.9h-.9zM91.5 434.1h.9v.9h-.9zM100.6 429.2h.9v.9h-.9zM93.9 418.9h.9v.9h-.9zM99.5 429.7h.9v.9h-.9zM98.8 419.8h.9v.9h-.9zM92.8 423.4h.9v.9h-.9zM96.4 418.2h.9v.9h-.9zM99.5 429.0h.9v.9h-.9zM99.5 427.7h.9v.9h-.9zM93.2 434.9h.9v.9h-.9zM90.3 433.0h.9v.9h-.9zM92.6 422.2h.9v.9h-.9zM90.4 427.7h.9v.9h-.9zM92.4 419.8h.9v.9h-.9zM95.3 417.8h.9v.9h-.9zM100.5 431.9h.9v.9h-.9zM93.2 434.0h.9v.9h-.9zM94.6 418.5h.9v.9h-.9zM93.8 419.4h.9v.9h-.9zM99.6 428.4h.9v.9h-.9zM90.3 426.1h.9v.9h-.9zM92.4 435.8h.9v.9h-.9zM93.0 421.8h.9v.9h-.9zM91.4 422.1h.9v.9h-.9zM100.8 431.6h.9v.9h-.9zM99.1 420.9h.9v.9h-.9zM99.7 430.5h.9v.9h-.9zM89.5 427.6h.9v.9h-.9zM89.5 433.1h.9v.9h-.9zM95.7 419.0h.9v.9h-.9zM99.7 431.2h.9v.9h-.9zM91.1 429.5h.9v.9h-.9zM92.9 435.2h.9v.9h-.9zM91.2 431.7h.9v.9h-.9zM97.2 417.9h.9v.9h-.9zM89.4 427.3h.9v.9h-.9zM96.1 419.5h.9v.9h-.9zM99.2 420.6h.9v.9h-.9zM95.3 418.0h.9v.9h-.9zM90.6 426.2h.9v.9h-.9zM100.9 431.4h.9v.9h-.9zM99.6 428.4h.9v.9h-.9zM100.0 431.5h.9v.9h-.9zM90.8 432.5h.9v.9h-.9zM100.5 431.9h.9v.9h-.9zM97.5 420.0h.9v.9h-.9zM90.8 431.4h.9v.9h-.9zM94.9 419.6h.9v.9h-.9zM90.1 428.3h.9v.9h-.9zM90.0 432.6h.9v.9h-.9zM98.0 421.1h.9v.9h-.9zM94.1 418.1h.9v.9h-.9zM99.1 421.3h.9v.9h-.9zM90.2 432.1h.9v.9h-.9zM97.7 420.7h.9v.9h-.9zM94.2 418.0h.9v.9h-.9zM96.4 419.6h.9v.9h-.9zM91.8 420.5h.9v.9h-.9zM100.3 430.2h.9v.9h-.9zM99.9 427.5h.9v.9h-.9zM100.3 429.7h.9v.9h-.9zM90.0 427.0h.9v.9h-.9zM100.4 426.3h.9v.9h-.9zM90.0 432.8h.9v.9h-.9zM99.8 425.9h.9v.9h-.9zM96.6 418.6h.9v.9h-.9zM90.2 428.2h.9v.9h-.9zM96.3 419.0h.9v.9h-.9zM90.9 432.2h.9v.9h-.9zM99.5 430.0h.9v.9h-.9zM99.5 429.7h.9v.9h-.9zM90.0 432.7h.9v.9h-.9zM91.8 423.8h.9v.9h-.9zM100.3 429.1h.9v.9h-.9zM90.9 432.6h.9v.9h-.9zM100.2 431.2h.9v.9h-.9zM94.3 419.6h.9v.9h-.9zM90.9 427.9h.9v.9h-.9zM92.5 435.3h.9v.9h-.9zM92.7 420.0h.9v.9h-.9zM93.0 434.5h.9v.9h-.9zM100.0 433.1h.9v.9h-.9zM92.8 422.4h.9v.9h-.9zM97.6 420.3h.9v.9h-.9zM97.6 421.5h.9v.9h-.9zM99.1 420.5h.9v.9h-.9zM90.1 428.0h.9v.9h-.9zM98.0 420.5h.9v.9h-.9zM92.8 422.8h.9v.9h-.9zM100.6 429.6h.9v.9h-.9zM94.5 419.0h.9v.9h-.9zM94.1 419.4h.9v.9h-.9zM95.8 418.7h.9v.9h-.9zM91.1 432.0h.9v.9h-.9zM92.9 421.1h.9v.9h-.9zM99.9 430.4h.9v.9h-.9zM90.4 429.6h.9v.9h-.9zM99.8 427.0h.9v.9h-.9zM94.5 419.2h.9v.9h-.9zM94.4 419.6h.9v.9h-.9zM90.6 427.5h.9v.9h-.9zM94.0 418.0h.9v.9h-.9zM101.0 432.7h.9v.9h-.9zM97.7 421.1h.9v.9h-.9zM90.5 429.2h.9v.9h-.9zM94.7 417.9h.9v.9h-.9zM92.3 420.8h.9v.9h-.9zM98.1 420.3h.9v.9h-.9zM98.3 421.1h.9v.9h-.9zM89.8 431.9h.9v.9h-.9zM90.9 429.7h.9v.9h-.9zM91.3 434.6h.9v.9h-.9zM99.7 428.0h.9v.9h-.9zM93.3 421.1h.9v.9h-.9zM93.4 419.0h.9v.9h-.9zM93.7 419.5h.9v.9h-.9zM96.2 419.4h.9v.9h-.9zM91.7 420.0h.9v.9h-.9zM100.7 428.0h.9v.9h-.9zM91.0 430.2h.9v.9h-.9zM89.9 428.3h.9v.9h-.9zM94.8 419.6h.9v.9h-.9zM92.8 422.2h.9v.9h-.9zM96.8 418.1h.9v.9h-.9zM92.1 421.5h.9v.9h-.9zM93.5 418.8h.9v.9h-.9zM90.3 427.3h.9v.9h-.9zM100.0 430.7h.9v.9h-.9zM90.3 433.7h.9v.9h-.9zM99.8 432.6h.9v.9h-.9zM95.7 418.5h.9v.9h-.9zM90.5 427.5h.9v.9h-.9zM100.1 431.8h.9v.9h-.9zM91.0 428.5h.9v.9h-.9zM100.8 432.0h.9v.9h-.9zM100.6 427.4h.9v.9h-.9zM98.3 421.2h.9v.9h-.9zM95.0 419.2h.9v.9h-.9zM91.2 431.5h.9v.9h-.9zM98.9 420.5h.9v.9h-.9zM101.0 428.4h.9v.9h-.9zM91.2 426.9h.9v.9h-.9zM101.0 427.6h.9v.9h-.9zM89.3 428.1h.9v.9h-.9zM91.0 433.8h.9v.9h-.9zM89.6 427.1h.9v.9h-.9zM93.7 418.6h.9v.9h-.9zM90.2 431.7h.9v.9h-.9zM96.8 419.6h.9v.9h-.9zM92.1 420.4h.9v.9h-.9zM90.2 431.8h.9v.9h-.9zM90.8 430.9h.9v.9h-.9zM92.4 420.1h.9v.9h-.9zM89.9 432.0h.9v.9h-.9zM91.1 427.9h.9v.9h-.9zM99.8 434.0h.9v.9h-.9zM91.6 422.4h.9v.9h-.9zM100.1 427.4h.9v.9h-.9zM90.2 432.1h.9v.9h-.9zM101.0 430.7h.9v.9h-.9zM98.8 420.6h.9v.9h-.9zM93.0 423.1h.9v.9h-.9zM93.7 418.9h.9v.9h-.9zM100.6 431.2h.9v.9h-.9zM100.3 426.0h.9v.9h-.9zM90.5 432.4h.9v.9h-.9zM99.8 425.9h.9v.9h-.9zM92.9 421.6h.9v.9h-.9zM101.0 429.6h.9v.9h-.9zM95.4 418.7h.9v.9h-.9zM100.7 427.6h.9v.9h-.9zM100.9 427.0h.9v.9h-.9zM99.3 421.4h.9v.9h-.9zM95.7 418.7h.9v.9h-.9zM92.6 420.1h.9v.9h-.9zM96.7 419.7h.9v.9h-.9zM94.5 418.9h.9v.9h-.9zM94.9 418.3h.9v.9h-.9zM97.4 420.2h.9v.9h-.9zM99.1 419.9h.9v.9h-.9zM97.2 419.7h.9v.9h-.9zM100.4 430.9h.9v.9h-.9zM99.5 432.2h.9v.9h-.9zM98.4 421.2h.9v.9h-.9zM100.6 431.1h.9v.9h-.9zM100.4 427.8h.9v.9h-.9zM96.9 418.0h.9v.9h-.9zM99.6 430.2h.9v.9h-.9zM99.9 426.9h.9v.9h-.9zM95.7 418.8h.9v.9h-.9zM100.3 430.3h.9v.9h-.9zM100.7 429.2h.9v.9h-.9zM96.3 417.7h.9v.9h-.9zM92.0 423.3h.9v.9h-.9zM99.6 429.5h.9v.9h-.9zM99.7 433.6h.9v.9h-.9zM91.7 435.6h.9v.9h-.9zM90.5 430.8h.9v.9h-.9zM93.1 422.2h.9v.9h-.9zM89.4 432.7h.9v.9h-.9zM99.7 429.0h.9v.9h-.9zM97.0 418.4h.9v.9h-.9zM96.3 418.8h.9v.9h-.9zM90.4 430.2h.9v.9h-.9zM101.2 428.6h.9v.9h-.9zM101.1 427.9h.9v.9h-.9zM100.0 429.7h.9v.9h-.9zM90.6 431.8h.9v.9h-.9zM91.4 420.9h.9v.9h-.9zM94.5 418.2h.9v.9h-.9zM92.9 435.3h.9v.9h-.9zM101.3 431.3h.9v.9h-.9zM92.0 435.1h.9v.9h-.9zM99.4 428.3h.9v.9h-.9zM100.5 426.1h.9v.9h-.9zM89.8 428.4h.9v.9h-.9zM96.1 419.1h.9v.9h-.9zM98.4 420.8h.9v.9h-.9zM91.5 434.4h.9v.9h-.9zM96.9 418.9h.9v.9h-.9zM92.9 423.8h.9v.9h-.9zM92.7 421.4h.9v.9h-.9zM99.4 427.7h.9v.9h-.9zM96.1 418.0h.9v.9h-.9zM93.1 422.8h.9v.9h-.9zM101.1 426.6h.9v.9h-.9zM99.8 429.9h.9v.9h-.9zM92.2 420.7h.9v.9h-.9zM95.6 419.4h.9v.9h-.9zM100.3 432.5h.9v.9h-.9zM100.5 430.7h.9v.9h-.9zM90.2 426.0h.9v.9h-.9zM96.4 418.1h.9v.9h-.9zM95.9 418.6h.9v.9h-.9zM92.1 421.0h.9v.9h-.9zM92.8 420.6h.9v.9h-.9zM89.6 433.8h.9v.9h-.9zM90.5 428.0h.9v.9h-.9zM90.0 428.7h.9v.9h-.9zM100.1 427.3h.9v.9h-.9zM91.1 430.1h.9v.9h-.9zM91.1 427.9h.9v.9h-.9zM91.5 435.4h.9v.9h-.9zM92.3 435.0h.9v.9h-.9zM89.9 432.2h.9v.9h-.9zM92.9 420.5h.9v.9h-.9zM98.2 421.0h.9v.9h-.9zM99.8 432.0h.9v.9h-.9zM92.9 422.2h.9v.9h-.9z" fill="#559b6e" fill-opacity="0.85"/>
<path d="M97.6 435.2h.9v.9h-.9zM93.5 423.7h.9v.9h-.9zM97.4 435.3h.9v.9h-.9zM94.1 423.3h.9v.9h-.9zM99.0 423.2h.9v.9h-.9zM95.5 420.1h.9v.9h-.9zM97.7 435.9h.9v.9h-.9zM93.1 425.3h.9v.9h-.9zM96.1 420.1h.9v.9h-.9zM98.3 434.4h.9v.9h-.9zM97.9 423.8h.9v.9h-.9zM91.8 424.0h.9v.9h-.9zM97.6 435.3h.9v.9h-.9zM94.5 420.7h.9v.9h-.9zM99.2 435.8h.9v.9h-.9zM95.5 421.0h.9v.9h-.9zM98.3 435.1h.9v.9h-.9zM98.8 435.4h.9v.9h-.9zM99.0 434.6h.9v.9h-.9zM97.9 424.0h.9v.9h-.9zM98.2 435.0h.9v.9h-.9zM98.3 434.4h.9v.9h-.9zM99.3 424.9h.9v.9h-.9zM98.8 435.6h.9v.9h-.9zM98.8 425.7h.9v.9h-.9zM98.2 434.8h.9v.9h-.9zM98.0 422.9h.9v.9h-.9zM97.5 425.7h.9v.9h-.9zM98.8 434.0h.9v.9h-.9zM97.0 421.6h.9v.9h-.9zM98.1 434.1h.9v.9h-.9zM97.9 421.9h.9v.9h-.9zM98.3 435.8h.9v.9h-.9zM96.8 420.2h.9v.9h-.9zM95.1 423.1h.9v.9h-.9zM93.0 425.0h.9v.9h-.9zM99.0 422.7h.9v.9h-.9zM94.4 423.1h.9v.9h-.9zM97.4 436.1h.9v.9h-.9zM98.1 423.8h.9v.9h-.9zM91.8 424.0h.9v.9h-.9zM98.5 436.0h.9v.9h-.9zM94.4 420.7h.9v.9h-.9zM97.7 424.1h.9v.9h-.9zM97.4 435.9h.9v.9h-.9zM95.0 422.0h.9v.9h-.9zM94.4 422.0h.9v.9h-.9zM97.5 424.5h.9v.9h-.9zM97.5 436.0h.9v.9h-.9zM98.2 424.2h.9v.9h-.9zM98.7 422.4h.9v.9h-.9zM98.7 422.7h.9v.9h-.9zM99.2 425.8h.9v.9h-.9zM98.2 435.7h.9v.9h-.9zM95.0 421.6h.9v.9h-.9zM98.7 435.0h.9v.9h-.9zM98.9 434.5h.9v.9h-.9zM95.1 423.3h.9v.9h-.9zM98.1 423.5h.9v.9h-.9zM98.6 435.0h.9v.9h-.9zM93.7 423.1h.9v.9h-.9zM94.0 420.8h.9v.9h-.9zM99.0 425.3h.9v.9h-.9zM91.5 425.8h.9v.9h-.9zM97.5 425.5h.9v.9h-.9zM93.4 420.1h.9v.9h-.9zM97.2 421.5h.9v.9h-.9zM95.1 423.7h.9v.9h-.9zM97.6 434.4h.9v.9h-.9zM99.3 435.6h.9v.9h-.9zM94.5 422.7h.9v.9h-.9zM98.7 423.1h.9v.9h-.9zM95.9 421.4h.9v.9h-.9zM92.3 424.5h.9v.9h-.9zM98.5 424.5h.9v.9h-.9zM93.8 422.5h.9v.9h-.9zM96.4 420.1h.9v.9h-.9zM98.7 424.9h.9v.9h-.9zM91.7 424.4h.9v.9h-.9zM99.3 425.0h.9v.9h-.9zM99.1 435.8h.9v.9h-.9zM97.7 424.8h.9v.9h-.9zM93.4 420.9h.9v.9h-.9zM97.4 423.6h.9v.9h-.9zM94.1 421.4h.9v.9h-.9zM97.9 423.9h.9v.9h-.9zM93.6 423.4h.9v.9h-.9zM98.9 422.3h.9v.9h-.9zM91.4 423.9h.9v.9h-.9zM92.2 425.5h.9v.9h-.9zM99.0 434.6h.9v.9h-.9zM93.5 423.3h.9v.9h-.9zM94.0 420.7h.9v.9h-.9zM95.4 421.2h.9v.9h-.9zM97.7 425.4h.9v.9h-.9zM98.5 423.9h.9v.9h-.9zM94.7 423.6h.9v.9h-.9zM98.8 421.8h.9v.9h-.9zM98.2 424.8h.9v.9h-.9zM98.4 434.9h.9v.9h-.9zM98.0 422.5h.9v.9h-.9zM99.2 435.0h.9v.9h-.9zM97.4 424.0h.9v.9h-.9zM97.9 435.1h.9v.9h-.9zM95.3 421.6h.9v.9h-.9zM99.3 423.7h.9v.9h-.9zM99.0 425.0h.9v.9h-.9zM95.3 423.5h.9v.9h-.9zM94.3 420.6h.9v.9h-.9zM98.1 422.8h.9v.9h-.9zM93.3 424.4h.9v.9h-.9zM94.0 423.0h.9v.9h-.9zM93.9 423.6h.9v.9h-.9zM99.0 435.2h.9v.9h-.9zM96.3 420.9h.9v.9h-.9zM95.1 421.2h.9v.9h-.9zM93.0 424.1h.9v.9h-.9zM97.2 420.0h.9v.9h-.9zM98.8 423.2h.9v.9h-.9zM94.2 423.8h.9v.9h-.9zM93.6 420.8h.9v.9h-.9zM94.5 421.8h.9v.9h-.9zM94.7 423.7h.9v.9h-.9zM94.9 423.5h.9v.9h-.9zM98.9 434.1h.9v.9h-.9zM91.7 425.3h.9v.9h-.9zM99.1 435.9h.9v.9h-.9zM96.7 420.0h.9v.9h-.9zM96.7 420.6h.9v.9h-.9zM97.9 435.9h.9v.9h-.9zM99.1 423.2h.9v.9h-.9zM91.6 425.6h.9v.9h-.9zM92.6 424.9h.9v.9h-.9zM91.6 425.4h.9v.9h-.9zM95.3 422.4h.9v.9h-.9zM94.9 421.8h.9v.9h-.9zM98.1 425.2h.9v.9h-.9zM96.1 421.2h.9v.9h-.9zM95.6 420.7h.9v.9h-.9zM94.6 420.2h.9v.9h-.9zM97.4 422.6h.9v.9h-.9zM98.0 436.0h.9v.9h-.9zM94.2 420.9h.9v.9h-.9zM96.1 421.5h.9v.9h-.9zM95.1 423.8h.9v.9h-.9zM94.1 421.9h.9v.9h-.9zM98.1 423.6h.9v.9h-.9zM97.4 434.5h.9v.9h-.9zM98.7 424.7h.9v.9h-.9zM94.4 422.1h.9v.9h-.9zM97.9 421.8h.9v.9h-.9zM94.5 421.6h.9v.9h-.9zM97.7 434.3h.9v.9h-.9zM95.2 421.2h.9v.9h-.9zM95.5 419.8h.9v.9h-.9zM99.2 423.4h.9v.9h-.9zM94.6 422.3h.9v.9h-.9zM94.8 421.4h.9v.9h-.9zM94.3 421.2h.9v.9h-.9zM92.3 424.3h.9v.9h-.9zM98.9 434.4h.9v.9h-.9zM99.0 423.7h.9v.9h-.9zM97.7 423.7h.9v.9h-.9zM95.3 423.6h.9v.9h-.9zM99.3 422.5h.9v.9h-.9zM97.4 434.3h.9v.9h-.9zM93.9 420.4h.9v.9h-.9zM93.8 420.2h.9v.9h-.9zM93.7 421.7h.9v.9h-.9zM98.4 424.4h.9v.9h-.9zM93.8 422.9h.9v.9h-.9zM96.9 421.4h.9v.9h-.9zM95.1 421.7h.9v.9h-.9zM91.6 424.9h.9v.9h-.9zM98.1 425.4h.9v.9h-.9zM92.8 425.8h.9v.9h-.9zM97.5 421.9h.9v.9h-.9zM91.8 425.0h.9v.9h-.9zM96.3 420.7h.9v.9h-.9zM95.3 422.9h.9v.9h-.9zM97.8 435.8h.9v.9h-.9zM95.4 420.6h.9v.9h-.9zM97.7 422.1h.9v.9h-.9zM92.1 424.2h.9v.9h-.9zM94.8 421.9h.9v.9h-.9zM94.1 420.0h.9v.9h-.9zM93.2 425.8h.9v.9h-.9zM94.6 423.5h.9v.9h-.9zM97.4 422.0h.9v.9h-.9zM94.4 420.2h.9v.9h-.9zM99.0 423.1h.9v.9h-.9zM97.3 421.8h.9v.9h-.9zM98.2 422.4h.9v.9h-.9zM98.3 422.6h.9v.9h-.9zM93.4 423.1h.9v.9h-.9zM92.6 425.2h.9v.9h-.9zM98.8 423.1h.9v.9h-.9zM95.2 420.4h.9v.9h-.9zM98.7 434.8h.9v.9h-.9zM91.9 425.3h.9v.9h-.9zM91.9 424.0h.9v.9h-.9zM93.2 425.3h.9v.9h-.9zM92.2 425.7h.9v.9h-.9zM95.1 423.7h.9v.9h-.9zM99.2 423.4h.9v.9h-.9zM97.4 435.9h.9v.9h-.9zM94.6 422.8h.9v.9h-.9zM93.1 425.7h.9v.9h-.9zM93.0 425.7h.9v.9h-.9zM98.9 423.0h.9v.9h-.9zM98.1 434.6h.9v.9h-.9zM97.8 434.2h.9v.9h-.9zM95.3 420.7h.9v.9h-.9zM97.8 422.0h.9v.9h-.9zM95.1 421.9h.9v.9h-.9zM94.0 422.8h.9v.9h-.9zM98.5 435.0h.9v.9h-.9zM98.1 434.3h.9v.9h-.9zM97.3 420.7h.9v.9h-.9zM94.8 420.9h.9v.9h-.9zM93.2 424.1h.9v.9h-.9zM97.6 425.5h.9v.9h-.9zM98.9 434.8h.9v.9h-.9zM97.0 420.3h.9v.9h-.9zM97.0 420.1h.9v.9h-.9zM92.5 424.7h.9v.9h-.9zM92.9 425.1h.9v.9h-.9zM92.1 425.0h.9v.9h-.9zM94.1 422.7h.9v.9h-.9zM93.6 423.3h.9v.9h-.9zM98.3 434.5h.9v.9h-.9zM95.5 420.5h.9v.9h-.9zM96.8 420.2h.9v.9h-.9zM97.4 423.2h.9v.9h-.9zM94.7 420.6h.9v.9h-.9zM98.6 434.3h.9v.9h-.9zM97.4 422.6h.9v.9h-.9zM98.5 424.2h.9v.9h-.9zM93.4 423.5h.9v.9h-.9zM96.0 420.6h.9v.9h-.9zM96.1 420.0h.9v.9h-.9zM96.9 420.8h.9v.9h-.9zM99.1 434.9h.9v.9h-.9zM98.5 423.5h.9v.9h-.9zM97.0 420.3h.9v.9h-.9zM97.5 435.4h.9v.9h-.9zM98.2 422.4h.9v.9h-.9zM92.8 424.2h.9v.9h-.9zM97.8 422.5h.9v.9h-.9zM95.7 421.6h.9v.9h-.9zM95.3 423.5h.9v.9h-.9zM97.7 435.3h.9v.9h-.9zM98.7 425.7h.9v.9h-.9zM98.1 425.5h.9v.9h-.9zM94.7 423.7h.9v.9h-.9zM93.2 424.1h.9v.9h-.9zM94.6 423.4h.9v.9h-.9zM94.0 423.2h.9v.9h-.9zM94.8 422.2h.9v.9h-.9zM97.6 421.9h.9v.9h-.9zM93.5 421.8h.9v.9h-.9zM94.4 422.6h.9v.9h-.9zM91.4 424.3h.9v.9h-.9zM98.1 422.9h.9v.9h-.9zM94.4 422.6h.9v.9h-.9zM98.7 424.1h.9v.9h-.9zM99.3 424.9h.9v.9h-.9zM98.4 424.3h.9v.9h-.9z" fill="#72a15b" fill-opacity="0.85"/>
<path d="M96.0 434.6h.9v.9h-.9zM99.1 433.5h.9v.9h-.9zM95.8 422.1h.9v.9h-.9zM95.8 425.1h.9v.9h-.9zM96.5 421.8h.9v.9h-.9zM97.8 433.3h.9v.9h-.9zM98.4 433.7h.9v.9h-.9zM97.4 429.7h.9v.9h-.9zM98.2 429.3h.9v.9h-.9zM97.9 427.2h.9v.9h-.9zM92.1 431.3h.9v.9h-.9zM97.1 436.0h.9v.9h-.9zM94.0 434.7h.9v.9h-.9zM91.6 431.2h.9v.9h-.9zM97.4 430.2h.9v.9h-.9zM95.5 435.1h.9v.9h-.9zM96.2 424.2h.9v.9h-.9zM92.0 429.4h.9v.9h-.9zM91.4 433.6h.9v.9h-.9zM91.3 432.0h.9v.9h-.9zM97.4 431.0h.9v.9h-.9zM98.5 432.5h.9v.9h-.9zM91.7 426.7h.9v.9h-.9zM98.5 426.0h.9v.9h-.9zM94.4 435.6h.9v.9h-.9zM92.7 432.0h.9v.9h-.9zM93.3 426.3h.9v.9h-.9zM91.5 433.4h.9v.9h-.9zM91.5 429.4h.9v.9h-.9zM96.5 425.1h.9v.9h-.9zM95.0 424.4h.9v.9h-.9zM93.0 426.5h.9v.9h-.9zM98.8 427.4h.9v.9h-.9zM98.1 428.4h.9v.9h-.9zM98.3 426.9h.9v.9h-.9zM97.7 430.1h.9v.9h-.9zM97.4 429.8h.9v.9h-.9zM96.1 425.1h.9v.9h-.9zM98.7 427.7h.9v.9h-.9zM94.1 435.5h.9v.9h-.9zM91.6 432.7h.9v.9h-.9zM99.1 432.6h.9v.9h-.9zM97.7 430.3h.9v.9h-.9zM94.5 435.2h.9v.9h-.9zM91.7 429.8h.9v.9h-.9zM93.0 429.9h.9v.9h-.9zM96.8 434.5h.9v.9h-.9zM95.7 425.0h.9v.9h-.9zM92.9 430.5h.9v.9h-.9zM92.8 432.5h.9v.9h-.9zM97.7 430.5h.9v.9h-.9zM94.6 434.3h.9v.9h-.9zM99.2 428.9h.9v.9h-.9zM98.6 432.1h.9v.9h-.9zM98.0 426.5h.9v.9h-.9zM92.5 433.1h.9v.9h-.9zM98.8 429.5h.9v.9h-.9zM92.0 430.4h.9v.9h-.9zM95.2 424.8h.9v.9h-.9zM95.7 435.3h.9v.9h-.9zM92.3 426.0h.9v.9h-.9zM92.9 431.5h.9v.9h-.9zM98.5 426.7h.9v.9h-.9zM96.2 434.8h.9v.9h-.9zM98.5 431.4h.9v.9h-.9zM99.1 432.2h.9v.9h-.9zM96.9 435.6h.9v.9h-.9zM97.7 430.7h.9v.9h-.9zM94.8 434.9h.9v.9h-.9zM97.5 431.2h.9v.9h-.9zM92.9 430.6h.9v.9h-.9zM98.3 426.0h.9v.9h-.9zM97.9 430.1h.9v.9h-.9zM95.7 425.4h.9v.9h-.9zM97.4 430.3h.9v.9h-.9zM91.8 427.4h.9v.9h-.9zM91.5 430.4h.9v.9h-.9zM92.4 429.7h.9v.9h-.9zM96.1 435.4h.9v.9h-.9zM96.5 434.6h.9v.9h-.9zM93.8 434.2h.9v.9h-.9zM94.4 434.2h.9v.9h-.9zM95.0 425.1h.9v.9h-.9zM96.8 435.8h.9v.9h-.9zM97.7 428.2h.9v.9h-.9zM93.2 432.9h.9v.9h-.9zM94.1 435.0h.9v.9h-.9zM97.4 428.6h.9v.9h-.9zM92.1 429.6h.9v.9h-.9zM92.4 432.8h.9v.9h-.9zM97.3 422.7h.9v.9h-.9zM92.6 432.2h.9v.9h-.9zM94.5 435.2h.9v.9h-.9zM91.8 429.4h.9v.9h-.9zM98.8 432.0h.9v.9h-.9zM91.6 426.8h.9v.9h-.9zM96.6 422.3h.9v.9h-.9zM96.3 435.0h.9v.9h-.9zM96.3 423.6h.9v.9h-.9zM95.7 434.2h.9v.9h-.9zM99.1 433.1h.9v.9h-.9zM93.9 435.2h.9v.9h-.9zM94.5 434.3h.9v.9h-.9zM99.2 428.3h.9v.9h-.9zM98.9 429.5h.9v.9h-.9zM97.8 428.2h.9v.9h-.9zM96.2 421.9h.9v.9h-.9zM99.2 434.0h.9v.9h-.9zM93.8 424.4h.9v.9h-.9zM92.4 429.3h.9v.9h-.9zM98.6 430.5h.9v.9h-.9zM98.6 427.4h.9v.9h-.9zM95.9 425.2h.9v.9h-.9zM92.7 431.4h.9v.9h-.9zM93.3 430.9h.9v.9h-.9zM92.6 428.2h.9v.9h-.9zM95.3 435.1h.9v.9h-.9zM96.8 435.5h.9v.9h-.9zM97.5 432.2h.9v.9h-.9zM98.0 431.8h.9v.9h-.9zM98.3 433.3h.9v.9h-.9zM94.8 435.1h.9v.9h-.9zM94.3 436.1h.9v.9h-.9zM99.1 429.9h.9v.9h-.9zM92.6 428.9h.9v.9h-.9zM92.6 427.4h.9v.9h-.9zM96.4 423.8h.9v.9h-.9zM98.4 427.9h.9v.9h-.9zM94.6 424.8h.9v.9h-.9zM97.7 432.4h.9v.9h-.9zM97.9 428.1h.9v.9h-.9zM97.4 433.8h.9v.9h-.9zM95.3 435.0h.9v.9h-.9zM98.4 429.2h.9v.9h-.9zM93.2 429.1h.9v.9h-.9zM95.3 425.4h.9v.9h-.9zM95.4 435.9h.9v.9h-.9zM94.9 434.1h.9v.9h-.9zM91.6 429.7h.9v.9h-.9zM94.5 424.1h.9v.9h-.9zM96.0 423.1h.9v.9h-.9zM96.4 434.5h.9v.9h-.9zM97.9 429.6h.9v.9h-.9zM93.3 429.0h.9v.9h-.9zM97.1 425.2h.9v.9h-.9zM96.2 425.7h.9v.9h-.9zM91.7 432.1h.9v.9h-.9zM92.6 433.8h.9v.9h-.9zM94.3 423.9h.9v.9h-.9zM96.4 434.3h.9v.9h-.9zM99.0 431.0h.9v.9h-.9zM92.0 433.9h.9v.9h-.9zM96.8 435.7h.9v.9h-.9zM92.2 432.5h.9v.9h-.9zM91.5 426.8h.9v.9h-.9zM97.7 430.4h.9v.9h-.9zM97.6 432.3h.9v.9h-.9zM92.6 434.0h.9v.9h-.9zM98.7 432.7h.9v.9h-.9zM97.1 422.2h.9v.9h-.9zM93.6 435.7h.9v.9h-.9zM94.2 435.5h.9v.9h-.9zM94.8 424.8h.9v.9h-.9zM95.4 434.1h.9v.9h-.9zM98.2 427.9h.9v.9h-.9zM96.6 423.9h.9v.9h-.9zM91.7 430.8h.9v.9h-.9zM99.1 427.0h.9v.9h-.9zM91.8 432.3h.9v.9h-.9zM95.6 421.9h.9v.9h-.9zM96.4 422.2h.9v.9h-.9zM95.5 422.3h.9v.9h-.9zM97.3 423.3h.9v.9h-.9zM92.8 432.4h.9v.9h-.9zM94.4 434.9h.9v.9h-.9zM98.6 429.0h.9v.9h-.9zM91.6 428.9h.9v.9h-.9zM98.1 432.9h.9v.9h-.9zM97.1 435.4h.9v.9h-.9zM91.4 429.3h.9v.9h-.9zM92.2 434.0h.9v.9h-.9zM98.1 427.1h.9v.9h-.9zM99.1 429.9h.9v.9h-.9zM95.6 422.5h.9v.9h-.9zM96.5 424.9h.9v.9h-.9zM93.2 429.4h.9v.9h-.9zM92.6 428.8h.9v.9h-.9zM94.7 434.7h.9v.9h-.9zM98.5 427.9h.9v.9h-.9zM98.9 426.8h.9v.9h-.9zM95.4 423.3h.9v.9h-.9zM94.0 434.8h.9v.9h-.9zM96.2 423.8h.9v.9h-.9zM92.1 432.1h.9v.9h-.9zM98.8 432.5h.9v.9h-.9zM98.9 429.7h.9v.9h-.9zM98.2 433.0h.9v.9h-.9zM97.3 422.6h.9v.9h-.9zM91.4 429.8h.9v.9h-.9zM94.7 425.4h.9v.9h-.9zM95.1 424.5h.9v.9h-.9zM97.6 429.5h.9v.9h-.9zM91.7 432.0h.9v.9h-.9zM93.0 428.0h.9v.9h-.9zM98.3 428.9h.9v.9h-.9zM93.4 424.1h.9v.9h-.9zM92.8 430.4h.9v.9h-.9zM97.7 430.5h.9v.9h-.9zM94.5 424.2h.9v.9h-.9zM92.4 430.3h.9v.9h-.9zM95.2 434.9h.9v.9h-.9zM93.6 425.6h.9v.9h-.9zM95.9 424.4h.9v.9h-.9zM91.9 432.6h.9v.9h-.9zM98.9 433.3h.9v.9h-.9zM92.0 432.5h.9v.9h-.9zM94.5 435.0h.9v.9h-.9zM98.9 434.0h.9v.9h-.9zM97.9 427.3h.9v.9h-.9zM93.3 429.8h.9v.9h-.9zM96.5 424.2h.9v.9h-.9zM92.2 431.2h.9v.9h-.9zM92.9 426.1h.9v.9h-.9zM96.2 422.6h.9v.9h-.9zM94.2 435.5h.9v.9h-.9zM98.5 431.3h.9v.9h-.9zM96.1 424.6h.9v.9h-.9zM96.2 424.8h.9v.9h-.9zM95.5 424.5h.9v.9h-.9zM91.8 429.0h.9v.9h-.9zM92.5 428.8h.9v.9h-.9zM93.5 434.2h.9v.9h-.9zM97.7 434.0h.9v.9h-.9zM92.6 427.1h.9v.9h-.9zM93.5 435.6h.9v.9h-.9zM93.4 424.6h.9v.9h-.9zM93.9 435.8h.9v.9h-.9zM96.5 434.9h.9v.9h-.9zM94.9 435.4h.9v.9h-.9zM98.4 433.3h.9v.9h-.9zM98.1 431.5h.9v.9h-.9zM96.2 435.0h.9v.9h-.9zM96.4 425.4h.9v.9h-.9zM95.0 435.9h.9v.9h-.9zM97.7 426.7h.9v.9h-.9zM95.9 434.3h.9v.9h-.9zM93.0 431.9h.9v.9h-.9zM91.4 426.0h.9v.9h-.9zM96.7 434.1h.9v.9h-.9zM98.3 426.5h.9v.9h-.9zM98.4 432.7h.9v.9h-.9zM91.7 426.8h.9v.9h-.9zM92.0 427.7h.9v.9h-.9zM97.4 432.9h.9v.9h-.9zM97.0 422.0h.9v.9h-.9zM92.9 428.5h.9v.9h-.9zM92.1 425.9h.9v.9h-.9zM93.2 428.7h.9v.9h-.9zM97.5 434.0h.9v.9h-.9zM99.1 426.8h.9v.9h-.9zM97.4 433.7h.9v.9h-.9zM91.9 431.9h.9v.9h-.9zM98.6 429.4h.9v.9h-.9zM97.1 424.8h.9v.9h-.9zM93.2 428.5h.9v.9h-.9zM97.8 429.2h.9v.9h-.9zM97.6 429.6h.9v.9h-.9zM94.5 435.0h.9v.9h-.9zM96.3 424.2h.9v.9h-.9zM97.4 430.1h.9v.9h-.9zM98.2 432.0h.9v.9h-.9zM95.4 422.4h.9v.9h-.9zM92.0 433.2h.9v.9h-.9zM94.4 435.6h.9v.9h-.9zM94.7 425.4h.9v.9h-.9zM92.2 432.0h.9v.9h-.9zM92.1 434.0h.9v.9h-.9zM98.7 433.2h.9v.9h-.9zM94.3 434.4h.9v.9h-.9zM91.5 433.3h.9v.9h-.9zM92.9 426.5h.9v.9h-.9zM94.2 424.5h.9v.9h-.9zM92.4 429.3h.9v.9h-.9zM96.5 424.7h.9v.9h-.9zM93.8 425.9h.9v.9h-.9zM97.1 422.5h.9v.9h-.9zM97.0 434.6h.9v.9h-.9zM98.5 426.3h.9v.9h-.9zM92.2 430.7h.9v.9h-.9zM98.5 432.6h.9v.9h-.9zM98.8 432.6h.9v.9h-.9zM99.3 427.8h.9v.9h-.9zM96.1 423.1h.9v.9h-.9zM93.8 424.4h.9v.9h-.9zM94.6 425.7h.9v.9h-.9zM93.9 424.1h.9v.9h-.9zM91.3 426.0h.9v.9h-.9zM91.8 426.9h.9v.9h-.9zM93.3 426.8h.9v.9h-.9zM92.0 429.4h.9v.9h-.9zM97.9 428.9h.9v.9h-.9zM92.1 426.4h.9v.9h-.9zM91.9 428.0h.9v.9h-.9zM97.7 429.6h.9v.9h-.9zM95.7 421.9h.9v.9h-.9zM93.1 430.0h.9v.9h-.9zM91.9 427.3h.9v.9h-.9zM99.3 432.4h.9v.9h-.9zM93.3 431.2h.9v.9h-.9zM99.0 430.7h.9v.9h-.9zM92.8 427.3h.9v.9h-.9zM98.8 429.0h.9v.9h-.9zM97.7 434.0h.9v.9h-.9zM99.0 432.7h.9v.9h-.9zM97.4 429.4h.9v.9h-.9zM91.8 432.3h.9v.9h-.9zM92.8 428.9h.9v.9h-.9zM95.7 423.9h.9v.9h-.9zM91.9 431.0h.9v.9h-.9zM94.0 424.5h.9v.9h-.9zM92.0 426.0h.9v.9h-.9zM97.4 430.5h.9v.9h-.9zM96.2 435.1h.9v.9h-.9zM93.2 430.6h.9v.9h-.9zM94.5 424.1h.9v.9h-.9zM96.6 435.9h.9v.9h-.9zM91.4 428.9h.9v.9h-.9zM97.8 432.0h.9v.9h-.9zM93.0 428.6h.9v.9h-.9zM95.9 435.7h.9v.9h-.9zM94.7 424.5h.9v.9h-.9zM95.1 424.7h.9v.9h-.9zM95.3 423.0h.9v.9h-.9zM94.2 436.0h.9v.9h-.9zM97.6 432.9h.9v.9h-.9zM96.9 424.7h.9v.9h-.9zM92.5 426.6h.9v.9h-.9zM95.3 434.6h.9v.9h-.9zM93.0 428.7h.9v.9h-.9zM98.9 431.4h.9v.9h-.9zM99.0 431.5h.9v.9h-.9zM92.1 431.2h.9v.9h-.9zM93.2 432.2h.9v.9h-.9zM95.2 434.2h.9v.9h-.9zM96.6 435.7h.9v.9h-.9zM94.5 425.0h.9v.9h-.9zM96.2 425.0h.9v.9h-.9zM91.3 433.7h.9v.9h-.9zM95.7 435.5h.9v.9h-.9zM98.7 432.2h.9v.9h-.9zM95.1 435.9h.9v.9h-.9zM92.3 430.7h.9v.9h-.9zM97.5 426.2h.9v.9h-.9zM94.8 434.7h.9v.9h-.9zM98.6 429.3h.9v.9h-.9zM98.9 433.0h.9v.9h-.9zM95.9 435.7h.9v.9h-.9zM94.6 424.9h.9v.9h-.9zM98.5 433.1h.9v.9h-.9zM97.9 427.8h.9v.9h-.9zM94.2 425.7h.9v.9h-.9zM98.5 426.3h.9v.9h-.9zM98.7 427.3h.9v.9h-.9zM91.8 427.8h.9v.9h-.9zM91.7 429.6h.9v.9h-.9zM93.1 426.2h.9v.9h-.9zM98.2 431.7h.9v.9h-.9zM97.5 433.4h.9v.9h-.9zM98.8 426.8h.9v.9h-.9zM92.0 430.6h.9v.9h-.9zM95.3 425.5h.9v.9h-.9zM92.2 427.8h.9v.9h-.9zM96.5 435.2h.9v.9h-.9zM98.0 426.8h.9v.9h-.9zM92.5 432.5h.9v.9h-.9zM91.8 426.4h.9v.9h-.9zM97.5 429.5h.9v.9h-.9zM95.6 424.5h.9v.9h-.9zM97.0 435.9h.9v.9h-.9zM97.8 431.9h.9v.9h-.9zM96.2 425.4h.9v.9h-.9zM98.6 427.4h.9v.9h-.9zM96.8 435.8h.9v.9h-.9zM93.7 434.3h.9v.9h-.9zM94.8 424.7h.9v.9h-.9zM91.3 429.4h.9v.9h-.9zM95.7 423.4h.9v.9h-.9zM94.0 424.0h.9v.9h-.9zM96.1 423.7h.9v.9h-.9zM95.7 422.9h.9v.9h-.9zM93.4 435.2h.9v.9h-.9zM98.7 429.3h.9v.9h-.9zM98.3 432.2h.9v.9h-.9zM91.6 430.7h.9v.9h-.9zM91.7 430.9h.9v.9h-.9zM95.9 435.4h.9v.9h-.9zM93.1 433.7h.9v.9h-.9zM91.4 431.7h.9v.9h-.9zM91.5 431.4h.9v.9h-.9zM98.3 431.0h.9v.9h-.9zM95.4 425.6h.9v.9h-.9zM98.7 430.2h.9v.9h-.9zM94.8 435.8h.9v.9h-.9zM93.3 427.3h.9v.9h-.9zM91.6 427.7h.9v.9h-.9zM92.7 426.9h.9v.9h-.9zM92.1 427.4h.9v.9h-.9zM94.6 434.9h.9v.9h-.9zM94.7 425.2h.9v.9h-.9zM95.8 435.0h.9v.9h-.9zM94.1 435.3h.9v.9h-.9zM91.9 429.3h.9v.9h-.9zM98.6 427.2h.9v.9h-.9zM99.2 428.9h.9v.9h-.9zM96.8 434.7h.9v.9h-.9zM97.6 431.1h.9v.9h-.9zM93.9 425.4h.9v.9h-.9zM95.7 425.4h.9v.9h-.9zM94.3 425.3h.9v.9h-.9zM91.7 427.9h.9v.9h-.9zM91.8 430.1h.9v.9h-.9zM95.4 434.1h.9v.9h-.9zM95.3 424.8h.9v.9h-.9zM97.2 423.3h.9v.9h-.9zM96.3 425.4h.9v.9h-.9zM97.5 427.6h.9v.9h-.9zM98.8 430.9h.9v.9h-.9zM97.3 423.7h.9v.9h-.9zM95.6 422.3h.9v.9h-.9zM97.5 426.1h.9v.9h-.9zM94.7 425.1h.9v.9h-.9zM96.1 434.7h.9v.9h-.9zM98.4 429.7h.9v.9h-.9zM98.0 432.4h.9v.9h-.9zM99.1 431.2h.9v.9h-.9zM97.5 433.1h.9v.9h-.9zM96.9 425.4h.9v.9h-.9zM92.7 430.6h.9v.9h-.9zM99.2 430.0h.9v.9h-.9zM92.7 433.8h.9v.9h-.9zM91.8 432.6h.9v.9h-.9zM98.5 434.0h.9v.9h-.9zM92.7 433.5h.9v.9h-.9zM92.5 426.7h.9v.9h-.9zM98.5 429.5h.9v.9h-.9zM97.1 434.4h.9v.9h-.9zM94.9 434.1h.9v.9h-.9zM98.2 433.6h.9v.9h-.9zM92.9 431.2h.9v.9h-.9zM91.8 431.9h.9v.9h-.9zM96.7 434.8h.9v.9h-.9zM98.3 434.0h.9v.9h-.9zM95.1 424.6h.9v.9h-.9zM91.5 430.5h.9v.9h-.9zM94.8 425.5h.9v.9h-.9zM98.5 433.7h.9v.9h-.9zM92.0 428.4h.9v.9h-.9zM98.3 428.2h.9v.9h-.9zM96.8 425.6h.9v.9h-.9zM92.2 428.7h.9v.9h-.9zM98.1 431.5h.9v.9h-.9zM91.5 429.9h.9v.9h-.9zM94.1 434.6h.9v.9h-.9zM93.7 435.9h.9v.9h-.9zM98.0 426.9h.9v.9h-.9zM95.4 424.3h.9v.9h-.9zM92.3 432.1h.9v.9h-.9zM96.3 435.4h.9v.9h-.9zM97.4 433.7h.9v.9h-.9zM98.6 432.3h.9v.9h-.9zM97.1 422.8h.9v.9h-.9zM94.4 424.5h.9v.9h-.9zM97.4 427.7h.9v.9h-.9zM94.0 424.7h.9v.9h-.9zM99.2 432.7h.9v.9h-.9zM92.3 426.2h.9v.9h-.9zM96.5 435.9h.9v.9h-.9zM98.5 433.5h.9v.9h-.9zM95.1 434.3h.9v.9h-.9zM95.5 424.5h.9v.9h-.9zM94.2 425.4h.9v.9h-.9zM98.0 426.8h.9v.9h-.9zM96.1 422.0h.9v.9h-.9zM96.2 425.8h.9v.9h-.9zM96.0 434.4h.9v.9h-.9zM93.0 426.1h.9v.9h-.9zM92.9 428.4h.9v.9h-.9zM92.1 430.8h.9v.9h-.9zM97.5 431.8h.9v.9h-.9zM98.5 429.8h.9v.9h-.9zM98.2 428.4h.9v.9h-.9zM99.3 427.7h.9v.9h-.9zM95.4 424.4h.9v.9h-.9zM91.8 432.0h.9v.9h-.9zM91.8 433.5h.9v.9h-.9zM91.6 430.6h.9v.9h-.9zM93.6 425.0h.9v.9h-.9zM98.2 430.0h.9v.9h-.9zM96.4 434.9h.9v.9h-.9zM97.8 430.8h.9v.9h-.9zM95.5 425.8h.9v.9h-.9zM92.3 433.1h.9v.9h-.9zM92.6 432.1h.9v.9h-.9zM96.2 421.9h.9v.9h-.9zM96.3 434.1h.9v.9h-.9zM93.2 430.5h.9v.9h-.9zM91.6 430.7h.9v.9h-.9zM97.5 426.6h.9v.9h-.9zM96.5 435.2h.9v.9h-.9zM96.5 434.6h.9v.9h-.9zM95.3 435.6h.9v.9h-.9zM91.9 432.9h.9v.9h-.9zM96.0 422.3h.9v.9h-.9zM96.4 423.3h.9v.9h-.9zM95.3 425.2h.9v.9h-.9zM92.2 433.8h.9v.9h-.9zM95.9 425.2h.9v.9h-.9zM97.3 425.4h.9v.9h-.9zM93.4 435.1h.9v.9h-.9zM95.8 434.6h.9v.9h-.9zM98.0 429.5h.9v.9h-.9zM92.8 426.8h.9v.9h-.9zM99.2 427.3h.9v.9h-.9zM91.9 426.9h.9v.9h-.9zM92.6 431.6h.9v.9h-.9zM98.6 431.3h.9v.9h-.9zM98.6 429.0h.9v.9h-.9zM96.0 424.2h.9v.9h-.9zM99.3 427.0h.9v.9h-.9zM95.8 424.6h.9v.9h-.9zM94.9 434.6h.9v.9h-.9zM97.4 430.6h.9v.9h-.9zM91.7 429.4h.9v.9h-.9zM93.2 427.3h.9v.9h-.9zM97.5 426.8h.9v.9h-.9z" fill="#8fa748" fill-opacity="0.85"/>
<path d="M95.2 433.8h.9v.9h-.9zM96.5 427.6h.9v.9h-.9zM95.6 427.3h.9v.9h-.9zM96.7 428.6h.9v.9h-.9zM97.2 428.9h.9v.9h-.9zM93.5 432.9h.9v.9h-.9zM95.2 433.5h.9v.9h-.9zM96.1 430.7h.9v.9h-.9zM96.6 426.4h.9v.9h-.9zM97.2 427.5h.9v.9h-.9zM95.8 433.6h.9v.9h-.9zM97.0 431.6h.9v.9h-.9zM95.3 426.7h.9v.9h-.9zM93.8 428.2h.9v.9h-.9zM95.8 429.3h.9v.9h-.9zM96.2 433.6h.9v.9h-.9zM94.9 426.6h.9v.9h-.9zM94.8 429.4h.9v.9h-.9zM96.8 433.3h.9v.9h-.9zM96.5 431.5h.9v.9h-.9zM95.7 428.3h.9v.9h-.9zM96.3 427.8h.9v.9h-.9zM95.8 428.6h.9v.9h-.9zM94.4 426.9h.9v.9h-.9zM96.6 428.7h.9v.9h-.9zM96.8 428.5h.9v.9h-.9zM94.9 431.2h.9v.9h-.9zM94.6 426.8h.9v.9h-.9zM96.5 431.6h.9v.9h-.9zM94.6 431.7h.9v.9h-.9zM97.3 428.4h.9v.9h-.9zM93.5 427.4h.9v.9h-.9zM95.0 432.0h.9v.9h-.9zM97.3 432.7h.9v.9h-.9zM95.8 431.6h.9v.9h-.9zM96.3 431.3h.9v.9h-.9zM95.4 432.6h.9v.9h-.9zM96.3 433.2h.9v.9h-.9zM95.4 433.3h.9v.9h-.9zM96.3 432.3h.9v.9h-.9zM96.0 426.2h.9v.9h-.9zM95.7 430.4h.9v.9h-.9zM96.3 430.3h.9v.9h-.9zM97.2 428.8h.9v.9h-.9zM95.7 433.6h.9v.9h-.9zM97.3 430.5h.9v.9h-.9zM95.0 428.8h.9v.9h-.9zM93.8 426.3h.9v.9h-.9zM93.4 431.2h.9v.9h-.9zM93.4 432.5h.9v.9h-.9zM93.7 432.2h.9v.9h-.9zM96.8 427.6h.9v.9h-.9zM95.8 432.7h.9v.9h-.9zM94.8 429.7h.9v.9h-.9zM96.6 427.4h.9v.9h-.9zM95.5 425.9h.9v.9h-.9zM95.7 430.7h.9v.9h-.9zM96.3 428.8h.9v.9h-.9zM95.5 430.8h.9v.9h-.9zM94.8 432.3h.9v.9h-.9zM95.8 427.9h.9v.9h-.9zM96.3 428.5h.9v.9h-.9zM97.1 431.8h.9v.9h-.9zM96.4 431.1h.9v.9h-.9zM94.9 431.2h.9v.9h-.9zM96.3 431.3h.9v.9h-.9zM94.8 428.9h.9v.9h-.9zM93.9 426.3h.9v.9h-.9zM93.7 430.7h.9v.9h-.9zM93.9 432.7h.9v.9h-.9zM95.4 429.5h.9v.9h-.9zM93.3 426.2h.9v.9h-.9zM95.7 429.8h.9v.9h-.9zM97.3 430.5h.9v.9h-.9zM94.9 431.3h.9v.9h-.9zM96.5 433.0h.9v.9h-.9zM96.5 433.8h.9v.9h-.9zM95.0 433.0h.9v.9h-.9zM94.6 429.9h.9v.9h-.9zM96.1 429.0h.9v.9h-.9zM96.4 433.6h.9v.9h-.9zM95.2 433.5h.9v.9h-.9zM96.0 429.2h.9v.9h-.9zM95.7 425.9h.9v.9h-.9zM93.5 428.5h.9v.9h-.9zM95.0 427.8h.9v.9h-.9zM95.3 426.2h.9v.9h-.9zM96.0 426.8h.9v.9h-.9zM94.8 431.1h.9v.9h-.9zM95.8 427.3h.9v.9h-.9zM95.1 431.8h.9v.9h-.9zM93.6 426.7h.9v.9h-.9zM96.4 433.8h.9v.9h-.9zM96.7 426.2h.9v.9h-.9zM96.5 426.3h.9v.9h-.9zM93.5 429.2h.9v.9h-.9zM96.7 429.5h.9v.9h-.9zM93.9 433.6h.9v.9h-.9zM95.8 429.1h.9v.9h-.9zM96.4 426.0h.9v.9h-.9zM96.6 426.1h.9v.9h-.9zM95.3 433.1h.9v.9h-.9zM96.2 430.8h.9v.9h-.9zM94.3 431.8h.9v.9h-.9zM94.6 428.2h.9v.9h-.9zM96.0 433.9h.9v.9h-.9zM96.8 427.2h.9v.9h-.9zM96.7 431.3h.9v.9h-.9zM93.7 429.9h.9v.9h-.9zM95.3 427.5h.9v.9h-.9zM94.6 432.7h.9v.9h-.9zM96.7 427.2h.9v.9h-.9zM97.1 433.6h.9v.9h-.9zM94.1 433.8h.9v.9h-.9zM97.1 426.3h.9v.9h-.9zM96.8 431.1h.9v.9h-.9zM94.6 433.0h.9v.9h-.9zM96.7 430.1h.9v.9h-.9zM96.3 430.1h.9v.9h-.9zM94.7 431.0h.9v.9h-.9zM93.6 426.2h.9v.9h-.9zM97.0 433.1h.9v.9h-.9zM94.2 427.4h.9v.9h-.9zM94.3 431.2h.9v.9h-.9zM94.9 428.1h.9v.9h-.9zM97.1 428.0h.9v.9h-.9zM96.0 428.4h.9v.9h-.9zM96.7 427.7h.9v.9h-.9zM94.1 432.5h.9v.9h-.9zM96.2 429.1h.9v.9h-.9zM95.5 430.1h.9v.9h-.9zM96.2 433.2h.9v.9h-.9zM94.8 431.5h.9v.9h-.9zM94.4 431.0h.9v.9h-.9zM95.1 426.9h.9v.9h-.9zM96.8 429.5h.9v.9h-.9zM95.5 428.9h.9v.9h-.9zM96.0 433.6h.9v.9h-.9zM94.4 426.9h.9v.9h-.9zM96.9 429.2h.9v.9h-.9zM96.4 429.1h.9v.9h-.9zM97.3 428.8h.9v.9h-.9zM95.8 430.7h.9v.9h-.9zM93.8 430.9h.9v.9h-.9zM93.9 429.1h.9v.9h-.9zM93.3 429.7h.9v.9h-.9zM94.0 431.8h.9v.9h-.9zM94.3 433.6h.9v.9h-.9zM96.0 434.0h.9v.9h-.9zM96.6 429.3h.9v.9h-.9zM96.8 432.7h.9v.9h-.9zM95.1 431.8h.9v.9h-.9zM96.0 431.2h.9v.9h-.9zM95.1 430.6h.9v.9h-.9zM94.0 433.5h.9v.9h-.9zM97.3 432.4h.9v.9h-.9zM94.1 433.5h.9v.9h-.9zM94.5 430.9h.9v.9h-.9zM96.8 429.3h.9v.9h-.9zM95.3 426.0h.9v.9h-.9zM96.6 433.1h.9v.9h-.9zM95.6 426.6h.9v.9h-.9zM95.0 430.0h.9v.9h-.9zM96.8 426.2h.9v.9h-.9zM96.9 431.7h.9v.9h-.9zM95.0 432.3h.9v.9h-.9zM96.4 429.2h.9v.9h-.9zM95.8 434.0h.9v.9h-.9zM96.3 431.7h.9v.9h-.9zM97.0 427.6h.9v.9h-.9zM94.5 432.5h.9v.9h-.9zM93.5 427.5h.9v.9h-.9zM97.1 433.2h.9v.9h-.9zM96.9 432.0h.9v.9h-.9zM96.8 426.5h.9v.9h-.9zM93.9 432.1h.9v.9h-.9zM95.5 426.3h.9v.9h-.9zM93.9 426.2h.9v.9h-.9zM93.6 426.3h.9v.9h-.9zM97.2 432.7h.9v.9h-.9zM96.6 429.4h.9v.9h-.9zM96.6 429.5h.9v.9h-.9zM95.4 430.4h.9v.9h-.9zM93.7 430.2h.9v.9h-.9zM93.8 432.6h.9v.9h-.9zM95.2 428.4h.9v.9h-.9zM93.7 428.5h.9v.9h-.9zM95.0 432.7h.9v.9h-.9zM95.1 433.0h.9v.9h-.9zM95.5 433.4h.9v.9h-.9zM93.9 428.0h.9v.9h-.9zM97.0 430.5h.9v.9h-.9zM94.3 428.7h.9v.9h-.9zM97.2 429.1h.9v.9h-.9zM96.1 430.5h.9v.9h-.9zM96.7 431.6h.9v.9h-.9zM93.5 427.8h.9v.9h-.9zM97.2 427.0h.9v.9h-.9zM96.3 429.3h.9v.9h-.9zM93.4 426.7h.9v.9h-.9zM96.2 427.4h.9v.9h-.9zM96.7 431.2h.9v.9h-.9zM96.2 433.5h.9v.9h-.9zM93.5 433.8h.9v.9h-.9zM96.7 428.0h.9v.9h-.9zM95.2 426.1h.9v.9h-.9zM96.4 427.0h.9v.9h-.9zM96.6 429.6h.9v.9h-.9zM96.1 428.1h.9v.9h-.9zM96.9 431.6h.9v.9h-.9zM96.6 433.4h.9v.9h-.9zM97.3 431.9h.9v.9h-.9zM96.6 431.5h.9v.9h-.9zM97.1 426.1h.9v.9h-.9zM93.4 429.5h.9v.9h-.9zM93.6 428.0h.9v.9h-.9zM95.8 431.2h.9v.9h-.9zM96.2 428.5h.9v.9h-.9zM93.5 428.8h.9v.9h-.9zM93.4 426.4h.9v.9h-.9zM96.1 426.4h.9v.9h-.9zM95.1 426.6h.9v.9h-.9zM94.2 433.7h.9v.9h-.9zM97.3 426.9h.9v.9h-.9zM94.9 426.1h.9v.9h-.9zM95.2 432.8h.9v.9h-.9zM95.0 430.9h.9v.9h-.9zM95.9 427.3h.9v.9h-.9zM95.2 429.3h.9v.9h-.9zM95.7 431.7h.9v.9h-.9zM96.0 428.3h.9v.9h-.9zM97.2 426.6h.9v.9h-.9zM94.1 431.7h.9v.9h-.9zM94.5 429.6h.9v.9h-.9zM96.2 429.3h.9v.9h-.9zM97.1 426.4h.9v.9h-.9zM94.6 432.5h.9v.9h-.9zM95.2 431.3h.9v.9h-.9zM94.3 429.8h.9v.9h-.9zM94.6 431.0h.9v.9h-.9zM96.2 429.6h.9v.9h-.9zM94.8 427.4h.9v.9h-.9zM96.9 428.5h.9v.9h-.9zM96.3 433.6h.9v.9h-.9zM97.0 430.3h.9v.9h-.9zM93.6 429.8h.9v.9h-.9zM96.6 433.5h.9v.9h-.9zM96.6 432.3h.9v.9h-.9zM96.0 430.1h.9v.9h-.9zM96.6 433.8h.9v.9h-.9zM95.5 433.6h.9v.9h-.9zM95.6 426.9h.9v.9h-.9zM96.4 433.0h.9v.9h-.9zM96.9 429.2h.9v.9h-.9zM95.5 431.0h.9v.9h-.9zM94.4 431.2h.9v.9h-.9zM95.7 429.9h.9v.9h-.9zM93.5 429.3h.9v.9h-.9zM95.7 431.8h.9v.9h-.9zM93.5 431.0h.9v.9h-.9zM94.6 429.3h.9v.9h-.9zM94.6 429.5h.9v.9h-.9zM97.2 430.5h.9v.9h-.9zM94.3 429.5h.9v.9h-.9zM94.1 429.6h.9v.9h-.9zM96.0 428.4h.9v.9h-.9zM93.4 433.8h.9v.9h-.9zM94.8 431.7h.9v.9h-.9zM93.7 427.8h.9v.9h-.9zM96.6 433.4h.9v.9h-.9zM94.2 430.0h.9v.9h-.9zM96.4 431.2h.9v.9h-.9zM95.8 429.9h.9v.9h-.9zM95.1 432.0h.9v.9h-.9zM94.5 430.8h.9v.9h-.9zM96.7 429.2h.9v.9h-.9zM94.2 428.7h.9v.9h-.9zM96.9 426.1h.9v.9h-.9zM96.9 431.5h.9v.9h-.9zM94.9 429.0h.9v.9h-.9zM94.7 428.6h.9v.9h-.9zM94.9 431.8h.9v.9h-.9zM93.9 433.0h.9v.9h-.9zM97.3 427.0h.9v.9h-.9zM94.8 427.6h.9v.9h-.9zM96.4 432.9h.9v.9h-.9zM94.9 427.9h.9v.9h-.9zM94.3 431.4h.9v.9h-.9zM96.8 433.4h.9v.9h-.9zM95.1 425.9h.9v.9h-.9zM94.9 428.8h.9v.9h-.9zM94.6 432.0h.9v.9h-.9zM95.6 428.0h.9v.9h-.9zM93.8 432.3h.9v.9h-.9zM95.7 429.9h.9v.9h-.9zM97.0 429.0h.9v.9h-.9zM94.8 430.0h.9v.9h-.9zM96.2 426.8h.9v.9h-.9zM96.3 429.6h.9v.9h-.9zM95.0 430.2h.9v.9h-.9zM93.5 432.0h.9v.9h-.9zM94.8 427.9h.9v.9h-.9zM95.9 426.0h.9v.9h-.9zM96.7 430.7h.9v.9h-.9zM95.2 431.2h.9v.9h-.9zM96.0 427.0h.9v.9h-.9zM95.8 430.3h.9v.9h-.9zM95.9 428.2h.9v.9h-.9zM94.6 433.8h.9v.9h-.9zM94.9 430.4h.9v.9h-.9zM93.5 429.5h.9v.9h-.9zM94.4 428.7h.9v.9h-.9zM94.2 426.1h.9v.9h-.9zM93.8 431.0h.9v.9h-.9zM94.1 430.7h.9v.9h-.9zM93.5 433.9h.9v.9h-.9zM94.4 427.0h.9v.9h-.9zM95.4 429.9h.9v.9h-.9zM95.2 429.3h.9v.9h-.9zM95.5 426.9h.9v.9h-.9zM93.8 429.0h.9v.9h-.9zM93.7 433.7h.9v.9h-.9zM95.1 433.3h.9v.9h-.9zM95.6 433.7h.9v.9h-.9z" fill="#b1a735" fill-opacity="0.85"/>
<rect x="53.1" y="358.6" width="88.5" height="89.69999999999999" fill="none" stroke="#231f20" stroke-width="0.8"/>
<path d="M78.3 359.0 L70.1 448.3" stroke="#231f20" stroke-width="0.8" fill="none"/>
<path d="M111.2 359.0 L100.3 448.3" stroke="#231f20" stroke-width="0.8" fill="none"/>
<line x1="78.30" y1="359.20" x2="111.20" y2="359.20" stroke="#231f20" stroke-width="1.2"/>
<text x="66.40" y="365.80" font-size="4.2" text-anchor="middle" fill="#231f20" letter-spacing="0.15">CD45+ Ki67</text>
<text x="66.40" y="371.80" font-size="4.2" text-anchor="middle" fill="#231f20" letter-spacing="0.15">low 82.3</text>
<text x="124.20" y="365.80" font-size="4.2" text-anchor="middle" fill="#231f20" letter-spacing="0.15">CD45+ Ki67</text>
<text x="124.20" y="371.80" font-size="4.2" text-anchor="middle" fill="#231f20" letter-spacing="0.15">high 7.83</text>
<line x1="137.50" y1="360.50" x2="140.80" y2="360.50" stroke="#231f20" stroke-width="0.5"/>
<line x1="140.80" y1="360.50" x2="140.80" y2="363.00" stroke="#231f20" stroke-width="0.5"/>
<line x1="50.60" y1="375.20" x2="53.10" y2="375.20" stroke="#231f20" stroke-width="0.7"/>
<text x="47.60" y="377.40" font-size="6.2" text-anchor="end" fill="#231f20" letter-spacing="0.15">4.0M</text>
<line x1="50.60" y1="403.20" x2="53.10" y2="403.20" stroke="#231f20" stroke-width="0.7"/>
<text x="47.60" y="405.40" font-size="6.2" text-anchor="end" fill="#231f20" letter-spacing="0.15">2.0M</text>
<line x1="50.60" y1="431.60" x2="53.10" y2="431.60" stroke="#231f20" stroke-width="0.7"/>
<text x="47.60" y="433.80" font-size="6.2" text-anchor="end" fill="#231f20" letter-spacing="0.15">0</text>
<line x1="51.90" y1="361.20" x2="53.10" y2="361.20" stroke="#231f20" stroke-width="0.4"/>
<line x1="51.90" y1="368.25" x2="53.10" y2="368.25" stroke="#231f20" stroke-width="0.4"/>
<line x1="51.90" y1="375.30" x2="53.10" y2="375.30" stroke="#231f20" stroke-width="0.4"/>
<line x1="51.90" y1="382.35" x2="53.10" y2="382.35" stroke="#231f20" stroke-width="0.4"/>
<line x1="51.90" y1="389.40" x2="53.10" y2="389.40" stroke="#231f20" stroke-width="0.4"/>
<line x1="51.90" y1="396.45" x2="53.10" y2="396.45" stroke="#231f20" stroke-width="0.4"/>
<line x1="51.90" y1="403.50" x2="53.10" y2="403.50" stroke="#231f20" stroke-width="0.4"/>
<line x1="51.90" y1="410.55" x2="53.10" y2="410.55" stroke="#231f20" stroke-width="0.4"/>
<line x1="51.90" y1="417.60" x2="53.10" y2="417.60" stroke="#231f20" stroke-width="0.4"/>
<line x1="51.90" y1="424.65" x2="53.10" y2="424.65" stroke="#231f20" stroke-width="0.4"/>
<line x1="51.90" y1="431.70" x2="53.10" y2="431.70" stroke="#231f20" stroke-width="0.4"/>
<line x1="51.90" y1="438.75" x2="53.10" y2="438.75" stroke="#231f20" stroke-width="0.4"/>
<line x1="55.30" y1="448.30" x2="55.30" y2="450.50" stroke="#231f20" stroke-width="0.7"/>
<text x="54.50" y="458.60" font-size="5.6" text-anchor="middle" fill="#231f20" letter-spacing="0.15">10<tspan font-size="3.8" dy="-2.4">1</tspan></text>
<line x1="59.57" y1="448.30" x2="59.57" y2="449.50" stroke="#231f20" stroke-width="0.4"/>
<line x1="62.08" y1="448.30" x2="62.08" y2="449.50" stroke="#231f20" stroke-width="0.4"/>
<line x1="63.85" y1="448.30" x2="63.85" y2="449.50" stroke="#231f20" stroke-width="0.4"/>
<line x1="65.23" y1="448.30" x2="65.23" y2="449.50" stroke="#231f20" stroke-width="0.4"/>
<line x1="66.35" y1="448.30" x2="66.35" y2="449.50" stroke="#231f20" stroke-width="0.4"/>
<line x1="67.30" y1="448.30" x2="67.30" y2="449.50" stroke="#231f20" stroke-width="0.4"/>
<line x1="68.12" y1="448.30" x2="68.12" y2="449.50" stroke="#231f20" stroke-width="0.4"/>
<line x1="68.85" y1="448.30" x2="68.85" y2="449.50" stroke="#231f20" stroke-width="0.4"/>
<line x1="69.50" y1="448.30" x2="69.50" y2="450.50" stroke="#231f20" stroke-width="0.7"/>
<text x="68.70" y="458.60" font-size="5.6" text-anchor="middle" fill="#231f20" letter-spacing="0.15">10<tspan font-size="3.8" dy="-2.4">2</tspan></text>
<line x1="73.77" y1="448.30" x2="73.77" y2="449.50" stroke="#231f20" stroke-width="0.4"/>
<line x1="76.28" y1="448.30" x2="76.28" y2="449.50" stroke="#231f20" stroke-width="0.4"/>
<line x1="78.05" y1="448.30" x2="78.05" y2="449.50" stroke="#231f20" stroke-width="0.4"/>
<line x1="79.43" y1="448.30" x2="79.43" y2="449.50" stroke="#231f20" stroke-width="0.4"/>
<line x1="80.55" y1="448.30" x2="80.55" y2="449.50" stroke="#231f20" stroke-width="0.4"/>
<line x1="81.50" y1="448.30" x2="81.50" y2="449.50" stroke="#231f20" stroke-width="0.4"/>
<line x1="82.32" y1="448.30" x2="82.32" y2="449.50" stroke="#231f20" stroke-width="0.4"/>
<line x1="83.05" y1="448.30" x2="83.05" y2="449.50" stroke="#231f20" stroke-width="0.4"/>
<line x1="83.70" y1="448.30" x2="83.70" y2="450.50" stroke="#231f20" stroke-width="0.7"/>
<text x="82.90" y="458.60" font-size="5.6" text-anchor="middle" fill="#231f20" letter-spacing="0.15">10<tspan font-size="3.8" dy="-2.4">3</tspan></text>
<line x1="87.97" y1="448.30" x2="87.97" y2="449.50" stroke="#231f20" stroke-width="0.4"/>
<line x1="90.48" y1="448.30" x2="90.48" y2="449.50" stroke="#231f20" stroke-width="0.4"/>
<line x1="92.25" y1="448.30" x2="92.25" y2="449.50" stroke="#231f20" stroke-width="0.4"/>
<line x1="93.63" y1="448.30" x2="93.63" y2="449.50" stroke="#231f20" stroke-width="0.4"/>
<line x1="94.75" y1="448.30" x2="94.75" y2="449.50" stroke="#231f20" stroke-width="0.4"/>
<line x1="95.70" y1="448.30" x2="95.70" y2="449.50" stroke="#231f20" stroke-width="0.4"/>
<line x1="96.52" y1="448.30" x2="96.52" y2="449.50" stroke="#231f20" stroke-width="0.4"/>
<line x1="97.25" y1="448.30" x2="97.25" y2="449.50" stroke="#231f20" stroke-width="0.4"/>
<line x1="97.90" y1="448.30" x2="97.90" y2="450.50" stroke="#231f20" stroke-width="0.7"/>
<text x="97.10" y="458.60" font-size="5.6" text-anchor="middle" fill="#231f20" letter-spacing="0.15">10<tspan font-size="3.8" dy="-2.4">4</tspan></text>
<line x1="102.17" y1="448.30" x2="102.17" y2="449.50" stroke="#231f20" stroke-width="0.4"/>
<line x1="104.68" y1="448.30" x2="104.68" y2="449.50" stroke="#231f20" stroke-width="0.4"/>
<line x1="106.45" y1="448.30" x2="106.45" y2="449.50" stroke="#231f20" stroke-width="0.4"/>
<line x1="107.83" y1="448.30" x2="107.83" y2="449.50" stroke="#231f20" stroke-width="0.4"/>
<line x1="108.95" y1="448.30" x2="108.95" y2="449.50" stroke="#231f20" stroke-width="0.4"/>
<line x1="109.90" y1="448.30" x2="109.90" y2="449.50" stroke="#231f20" stroke-width="0.4"/>
<line x1="110.72" y1="448.30" x2="110.72" y2="449.50" stroke="#231f20" stroke-width="0.4"/>
<line x1="111.45" y1="448.30" x2="111.45" y2="449.50" stroke="#231f20" stroke-width="0.4"/>
<line x1="112.10" y1="448.30" x2="112.10" y2="450.50" stroke="#231f20" stroke-width="0.7"/>
<text x="111.30" y="458.60" font-size="5.6" text-anchor="middle" fill="#231f20" letter-spacing="0.15">10<tspan font-size="3.8" dy="-2.4">5</tspan></text>
<line x1="116.37" y1="448.30" x2="116.37" y2="449.50" stroke="#231f20" stroke-width="0.4"/>
<line x1="118.88" y1="448.30" x2="118.88" y2="449.50" stroke="#231f20" stroke-width="0.4"/>
<line x1="120.65" y1="448.30" x2="120.65" y2="449.50" stroke="#231f20" stroke-width="0.4"/>
<line x1="122.03" y1="448.30" x2="122.03" y2="449.50" stroke="#231f20" stroke-width="0.4"/>
<line x1="123.15" y1="448.30" x2="123.15" y2="449.50" stroke="#231f20" stroke-width="0.4"/>
<line x1="124.10" y1="448.30" x2="124.10" y2="449.50" stroke="#231f20" stroke-width="0.4"/>
<line x1="124.92" y1="448.30" x2="124.92" y2="449.50" stroke="#231f20" stroke-width="0.4"/>
<line x1="125.65" y1="448.30" x2="125.65" y2="449.50" stroke="#231f20" stroke-width="0.4"/>
<line x1="126.30" y1="448.30" x2="126.30" y2="450.50" stroke="#231f20" stroke-width="0.7"/>
<text x="125.50" y="458.60" font-size="5.6" text-anchor="middle" fill="#231f20" letter-spacing="0.15">10<tspan font-size="3.8" dy="-2.4">6</tspan></text>
<line x1="130.57" y1="448.30" x2="130.57" y2="449.50" stroke="#231f20" stroke-width="0.4"/>
<line x1="133.08" y1="448.30" x2="133.08" y2="449.50" stroke="#231f20" stroke-width="0.4"/>
<line x1="134.85" y1="448.30" x2="134.85" y2="449.50" stroke="#231f20" stroke-width="0.4"/>
<line x1="136.23" y1="448.30" x2="136.23" y2="449.50" stroke="#231f20" stroke-width="0.4"/>
<line x1="137.35" y1="448.30" x2="137.35" y2="449.50" stroke="#231f20" stroke-width="0.4"/>
<line x1="138.30" y1="448.30" x2="138.30" y2="449.50" stroke="#231f20" stroke-width="0.4"/>
<line x1="139.12" y1="448.30" x2="139.12" y2="449.50" stroke="#231f20" stroke-width="0.4"/>
<line x1="139.85" y1="448.30" x2="139.85" y2="449.50" stroke="#231f20" stroke-width="0.4"/>
<line x1="140.50" y1="448.30" x2="140.50" y2="450.50" stroke="#231f20" stroke-width="0.7"/>
<text x="139.70" y="458.60" font-size="5.6" text-anchor="middle" fill="#231f20" letter-spacing="0.15">10<tspan font-size="3.8" dy="-2.4">7</tspan></text>
<text x="83.60" y="350.40" font-size="8.6" text-anchor="middle" fill="#231f20">#28</text>
<text x="25.50" y="403.20" font-size="6.25" text-anchor="middle" fill="#231f20" transform="rotate(-90 25.5 403.2)" letter-spacing="-0.15">SSC-A:: SSC-A</text>
<text x="89.20" y="471.30" font-size="7.2" text-anchor="middle" fill="#231f20" letter-spacing="0.15">Ki-67</text>
<line x1="103.50" y1="469.00" x2="116.50" y2="469.00" stroke="#000" stroke-width="1.2"/>
<polygon points="119.5,469 114.5,466.6 114.5,471.4" fill="#000"/>
<text x="336.40" y="317.80" font-size="6.5" text-anchor="middle" fill="#231f20" letter-spacing="0.15">Ki-67-low: solid markers</text>
<text x="336.40" y="327.50" font-size="6.5" text-anchor="middle" fill="#231f20" letter-spacing="0.15">Ki-67-high: open markers</text>
<line x1="183.5" y1="361.9" x2="201.3" y2="361.9" stroke="#000" stroke-width="1.3"/>
<line x1="186.20" y1="361.40" x2="186.20" y2="457.40" stroke="#231f20" stroke-width="1.0"/>
<line x1="182.80" y1="457.40" x2="186.20" y2="457.40" stroke="#231f20" stroke-width="1.0"/>
<text x="181.40" y="459.60" font-size="6.5" text-anchor="end" fill="#231f20" letter-spacing="0.15">0</text>
<line x1="182.80" y1="433.52" x2="186.20" y2="433.52" stroke="#231f20" stroke-width="1.0"/>
<text x="181.40" y="435.73" font-size="6.5" text-anchor="end" fill="#231f20" letter-spacing="0.15">25</text>
<line x1="182.80" y1="409.65" x2="186.20" y2="409.65" stroke="#231f20" stroke-width="1.0"/>
<text x="181.40" y="411.85" font-size="6.5" text-anchor="end" fill="#231f20" letter-spacing="0.15">50</text>
<line x1="182.80" y1="385.77" x2="186.20" y2="385.77" stroke="#231f20" stroke-width="1.0"/>
<text x="181.40" y="387.98" font-size="6.5" text-anchor="end" fill="#231f20" letter-spacing="0.15">75</text>
<line x1="182.80" y1="361.90" x2="186.20" y2="361.90" stroke="#231f20" stroke-width="1.0"/>
<text x="181.40" y="364.10" font-size="6.5" text-anchor="end" fill="#231f20" letter-spacing="0.15">100</text>
<line x1="186.20" y1="457.40" x2="322.30" y2="457.40" stroke="#231f20" stroke-width="1.0"/>
<line x1="186.20" y1="457.40" x2="186.20" y2="460.00" stroke="#231f20" stroke-width="1.0"/>
<line x1="192.87" y1="457.40" x2="192.87" y2="460.00" stroke="#231f20" stroke-width="1.0"/>
<line x1="199.54" y1="457.40" x2="199.54" y2="460.00" stroke="#231f20" stroke-width="1.0"/>
<line x1="206.21" y1="457.40" x2="206.21" y2="460.00" stroke="#231f20" stroke-width="1.0"/>
<line x1="212.88" y1="457.40" x2="212.88" y2="460.00" stroke="#231f20" stroke-width="1.0"/>
<line x1="219.55" y1="457.40" x2="219.55" y2="460.00" stroke="#231f20" stroke-width="1.0"/>
<line x1="226.22" y1="457.40" x2="226.22" y2="460.00" stroke="#231f20" stroke-width="1.0"/>
<line x1="232.89" y1="457.40" x2="232.89" y2="460.00" stroke="#231f20" stroke-width="1.0"/>
<line x1="239.56" y1="457.40" x2="239.56" y2="460.00" stroke="#231f20" stroke-width="1.0"/>
<line x1="246.23" y1="457.40" x2="246.23" y2="460.00" stroke="#231f20" stroke-width="1.0"/>
<line x1="252.90" y1="457.40" x2="252.90" y2="460.00" stroke="#231f20" stroke-width="1.0"/>
<line x1="259.57" y1="457.40" x2="259.57" y2="460.00" stroke="#231f20" stroke-width="1.0"/>
<line x1="266.24" y1="457.40" x2="266.24" y2="460.00" stroke="#231f20" stroke-width="1.0"/>
<line x1="272.91" y1="457.40" x2="272.91" y2="460.00" stroke="#231f20" stroke-width="1.0"/>
<line x1="279.58" y1="457.40" x2="279.58" y2="460.00" stroke="#231f20" stroke-width="1.0"/>
<line x1="286.25" y1="457.40" x2="286.25" y2="460.00" stroke="#231f20" stroke-width="1.0"/>
<line x1="292.92" y1="457.40" x2="292.92" y2="460.00" stroke="#231f20" stroke-width="1.0"/>
<line x1="299.59" y1="457.40" x2="299.59" y2="460.00" stroke="#231f20" stroke-width="1.0"/>
<line x1="306.26" y1="457.40" x2="306.26" y2="460.00" stroke="#231f20" stroke-width="1.0"/>
<line x1="312.93" y1="457.40" x2="312.93" y2="460.00" stroke="#231f20" stroke-width="1.0"/>
<line x1="319.60" y1="457.40" x2="319.60" y2="460.00" stroke="#231f20" stroke-width="1.0"/>
<text x="247.50" y="324.00" font-size="9.7" text-anchor="middle" fill="#231f20" letter-spacing="-0.15">CD45<tspan font-size="6.2" dy="-3.2">+</tspan></text>
<text x="194.30" y="470.20" font-size="6.6" text-anchor="middle" fill="#231f20" letter-spacing="0.15">CON</text>
<text x="213.10" y="470.20" font-size="6.6" text-anchor="middle" fill="#231f20" letter-spacing="0.15">PU</text>
<text x="233.10" y="470.20" font-size="6.6" text-anchor="middle" fill="#231f20" letter-spacing="0.15">VEN</text>
<text x="256.30" y="470.20" font-size="6.6" text-anchor="middle" fill="#231f20" letter-spacing="0.15">PU/VEN</text>
<text x="278.00" y="470.20" font-size="6.6" text-anchor="middle" fill="#231f20" letter-spacing="0.15">PU</text>
<text x="293.80" y="470.20" font-size="6.6" text-anchor="middle" fill="#231f20" letter-spacing="0.15">VEN</text>
<text x="317.20" y="470.20" font-size="6.6" text-anchor="middle" fill="#231f20" letter-spacing="0.15">PU/VEN</text>
<text x="176.20" y="479.60" font-size="6.5" text-anchor="start" fill="#231f20" letter-spacing="0.15">nM</text>
<text x="212.00" y="479.60" font-size="6.5" text-anchor="middle" fill="#231f20" letter-spacing="0.15">700</text>
<text x="231.50" y="479.60" font-size="6.5" text-anchor="middle" fill="#231f20" letter-spacing="0.15">15</text>
<text x="255.70" y="479.60" font-size="6.5" text-anchor="middle" fill="#231f20" letter-spacing="0.15">700/15</text>
<text x="278.00" y="479.60" font-size="6.5" text-anchor="middle" fill="#231f20" letter-spacing="0.15">2000</text>
<text x="295.20" y="479.60" font-size="6.5" text-anchor="middle" fill="#231f20" letter-spacing="0.15">40</text>
<text x="319.10" y="479.60" font-size="6.5" text-anchor="middle" fill="#231f20" letter-spacing="0.15">2000/40</text>
<circle cx="189.53" cy="361.90" r="2.20" fill="#b0186a"/>
<rect x="187.56" y="359.92" width="3.96" height="3.96" fill="#e0892a"/>
<circle cx="189.53" cy="361.90" r="2.20" fill="#c8782a"/>
<circle cx="196.20" cy="361.90" r="2.20" fill="white" stroke="#a08a80" stroke-width="0.75"/>
<circle cx="209.54" cy="414.40" r="2.20" fill="#b0186a"/>
<polygon points="209.54,407.69 211.85,410.00 209.54,412.31 207.23,410.00" fill="#1f4a3e"/>
<polygon points="209.54,402.58 211.96,406.94 207.12,406.94" fill="#5a8cd0"/>
<rect x="207.56" y="404.52" width="3.96" height="3.96" fill="#e0892a"/>
<line x1="204.54" y1="409.60" x2="214.54" y2="409.60" stroke="#000" stroke-width="1.3"/>
<circle cx="216.21" cy="446.90" r="2.20" fill="white" stroke="#b9509a" stroke-width="0.75"/>
<polygon points="216.21,423.58 218.63,427.94 213.79,427.94" fill="white" stroke="#5a8cd0" stroke-width="0.75"/>
<polygon points="216.21,420.59 218.52,422.90 216.21,425.21 213.90,422.90" fill="white" stroke="#3a3a3a" stroke-width="0.75"/>
<rect x="214.23" y="417.92" width="3.96" height="3.96" fill="white" stroke="#e0892a" stroke-width="0.75"/>
<line x1="211.31" y1="429.50" x2="221.11" y2="429.50" stroke="#000" stroke-width="1.3"/>
<circle cx="229.55" cy="378.40" r="2.20" fill="#b0186a"/>
<polygon points="229.55,365.78 231.97,370.14 227.13,370.14" fill="#5a8cd0"/>
<rect x="227.57" y="367.42" width="3.96" height="3.96" fill="#e0892a"/>
<polygon points="229.55,364.59 231.86,366.90 229.55,369.21 227.24,366.90" fill="#1f4a3e"/>
<line x1="224.55" y1="370.80" x2="234.55" y2="370.80" stroke="#000" stroke-width="1.3"/>
<circle cx="236.22" cy="409.20" r="2.20" fill="white" stroke="#b9509a" stroke-width="0.75"/>
<polygon points="236.22,402.68 238.64,407.04 233.81,407.04" fill="white" stroke="#5a8cd0" stroke-width="0.75"/>
<polygon points="236.22,392.99 238.53,395.30 236.22,397.61 233.91,395.30" fill="white" stroke="#3a3a3a" stroke-width="0.75"/>
<rect x="234.25" y="381.82" width="3.96" height="3.96" fill="white" stroke="#e0892a" stroke-width="0.75"/>
<line x1="231.32" y1="398.40" x2="241.12" y2="398.40" stroke="#000" stroke-width="1.3"/>
<circle cx="249.56" cy="432.00" r="2.20" fill="#b0186a"/>
<rect x="247.59" y="428.02" width="3.96" height="3.96" fill="#e0892a"/>
<polygon points="249.56,425.19 251.88,427.50 249.56,429.81 247.25,427.50" fill="#1f4a3e"/>
<polygon points="249.56,420.08 251.98,424.44 247.15,424.44" fill="#5a8cd0"/>
<line x1="244.56" y1="428.20" x2="254.56" y2="428.20" stroke="#000" stroke-width="1.3"/>
<circle cx="256.24" cy="451.90" r="2.20" fill="white" stroke="#b9509a" stroke-width="0.75"/>
<polygon points="256.24,436.08 258.66,440.44 253.82,440.44" fill="white" stroke="#5a8cd0" stroke-width="0.75"/>
<polygon points="256.24,434.19 258.55,436.50 256.24,438.81 253.93,436.50" fill="white" stroke="#3a3a3a" stroke-width="0.75"/>
<rect x="254.26" y="431.22" width="3.96" height="3.96" fill="white" stroke="#e0892a" stroke-width="0.75"/>
<line x1="251.34" y1="440.30" x2="261.13" y2="440.30" stroke="#000" stroke-width="1.3"/>
<circle cx="269.57" cy="429.10" r="2.20" fill="#b0186a"/>
<polygon points="269.57,412.59 271.88,414.90 269.57,417.21 267.26,414.90" fill="#1f4a3e"/>
<polygon points="269.57,399.18 272.00,403.54 267.15,403.54" fill="#5a8cd0"/>
<rect x="267.59" y="390.12" width="3.96" height="3.96" fill="#e0892a"/>
<line x1="264.38" y1="409.20" x2="274.77" y2="409.20" stroke="#000" stroke-width="1.3"/>
<circle cx="276.25" cy="447.40" r="2.20" fill="white" stroke="#b9509a" stroke-width="0.75"/>
<polygon points="276.25,429.08 278.67,433.44 273.82,433.44" fill="white" stroke="#5a8cd0" stroke-width="0.75"/>
<polygon points="276.25,427.69 278.56,430.00 276.25,432.31 273.94,430.00" fill="white" stroke="#3a3a3a" stroke-width="0.75"/>
<rect x="274.26" y="425.92" width="3.96" height="3.96" fill="white" stroke="#e0892a" stroke-width="0.75"/>
<line x1="271.05" y1="433.20" x2="281.44" y2="433.20" stroke="#000" stroke-width="1.3"/>
<polygon points="289.58,395.29 291.89,397.60 289.58,399.91 287.27,397.60" fill="#1f4a3e"/>
<circle cx="289.58" cy="385.00" r="2.20" fill="#b0186a"/>
<rect x="287.60" y="375.92" width="3.96" height="3.96" fill="#e0892a"/>
<polygon points="289.58,369.28 292.00,373.64 287.16,373.64" fill="#5a8cd0"/>
<line x1="284.58" y1="382.90" x2="294.58" y2="382.90" stroke="#000" stroke-width="1.3"/>
<circle cx="296.25" cy="434.80" r="2.20" fill="white" stroke="#b9509a" stroke-width="0.75"/>
<polygon points="296.25,412.08 298.68,416.44 293.83,416.44" fill="white" stroke="#5a8cd0" stroke-width="0.75"/>
<polygon points="296.25,409.89 298.56,412.20 296.25,414.51 293.94,412.20" fill="white" stroke="#3a3a3a" stroke-width="0.75"/>
<rect x="294.27" y="398.32" width="3.96" height="3.96" fill="white" stroke="#e0892a" stroke-width="0.75"/>
<line x1="291.06" y1="415.40" x2="301.45" y2="415.40" stroke="#000" stroke-width="1.3"/>
<rect x="307.61" y="444.02" width="3.96" height="3.96" fill="#e0892a"/>
<circle cx="309.59" cy="444.50" r="2.20" fill="#b0186a"/>
<polygon points="309.59,440.19 311.90,442.50 309.59,444.81 307.28,442.50" fill="#1f4a3e"/>
<polygon points="309.59,438.58 312.01,442.94 307.17,442.94" fill="#5a8cd0"/>
<line x1="304.99" y1="443.30" x2="314.19" y2="443.30" stroke="#000" stroke-width="1.3"/>
<circle cx="316.26" cy="451.30" r="2.20" fill="white" stroke="#b9509a" stroke-width="0.75"/>
<rect x="314.28" y="442.52" width="3.96" height="3.96" fill="white" stroke="#e0892a" stroke-width="0.75"/>
<polygon points="316.26,440.08 318.69,444.44 313.84,444.44" fill="white" stroke="#5a8cd0" stroke-width="0.75"/>
<polygon points="316.26,435.69 318.57,438.00 316.26,440.31 313.95,438.00" fill="white" stroke="#3a3a3a" stroke-width="0.75"/>
<line x1="311.37" y1="443.70" x2="321.16" y2="443.70" stroke="#000" stroke-width="1.3"/>
<text x="212.20" y="400.40" font-size="10.0" text-anchor="middle" fill="#231f20" letter-spacing="0">*</text>
<line x1="207.60" y1="398.80" x2="216.80" y2="398.80" stroke="#55565a" stroke-width="0.75"/>
<text x="232.40" y="363.40" font-size="10.0" text-anchor="middle" fill="#231f20" letter-spacing="0">**</text>
<line x1="227.80" y1="361.80" x2="237.00" y2="361.80" stroke="#55565a" stroke-width="0.75"/>
<text x="252.00" y="417.40" font-size="10.0" text-anchor="middle" fill="#231f20" letter-spacing="0">*</text>
<line x1="247.40" y1="415.80" x2="256.60" y2="415.80" stroke="#55565a" stroke-width="0.75"/>
<text x="270.40" y="387.60" font-size="10.0" text-anchor="middle" fill="#231f20" letter-spacing="0">*</text>
<line x1="265.80" y1="386.00" x2="275.00" y2="386.00" stroke="#55565a" stroke-width="0.75"/>
<text x="292.30" y="369.50" font-size="10.0" text-anchor="middle" fill="#231f20" letter-spacing="0">**</text>
<line x1="287.70" y1="367.90" x2="296.90" y2="367.90" stroke="#55565a" stroke-width="0.75"/>
<line x1="191.00" y1="335.40" x2="308.40" y2="335.40" stroke="#606164" stroke-width="0.9"/>
<line x1="191.00" y1="335.40" x2="191.00" y2="339.70" stroke="#606164" stroke-width="0.9"/>
<line x1="208.30" y1="335.40" x2="208.30" y2="339.70" stroke="#606164" stroke-width="0.9"/>
<line x1="250.70" y1="335.40" x2="250.70" y2="339.70" stroke="#606164" stroke-width="0.9"/>
<line x1="270.90" y1="335.40" x2="270.90" y2="339.70" stroke="#606164" stroke-width="0.9"/>
<line x1="308.40" y1="335.40" x2="308.40" y2="339.70" stroke="#606164" stroke-width="0.9"/>
<text x="249.20" y="336.00" font-size="7.4" text-anchor="middle" fill="#231f20" letter-spacing="0.1">***</text>
<line x1="191.00" y1="340.90" x2="291.00" y2="340.90" stroke="#606164" stroke-width="0.9"/>
<line x1="230.50" y1="340.90" x2="230.50" y2="345.20" stroke="#606164" stroke-width="0.9"/>
<line x1="291.00" y1="340.90" x2="291.00" y2="345.20" stroke="#606164" stroke-width="0.9"/>
<text x="233.40" y="341.50" font-size="7.4" text-anchor="middle" fill="#231f20" letter-spacing="0.1">**</text>
<line x1="198.70" y1="347.50" x2="315.60" y2="347.50" stroke="#606164" stroke-width="0.9"/>
<line x1="198.70" y1="347.50" x2="198.70" y2="351.80" stroke="#606164" stroke-width="0.9"/>
<line x1="216.90" y1="347.50" x2="216.90" y2="351.80" stroke="#606164" stroke-width="0.9"/>
<line x1="237.10" y1="347.50" x2="237.10" y2="351.80" stroke="#606164" stroke-width="0.9"/>
<line x1="257.30" y1="347.50" x2="257.30" y2="351.80" stroke="#606164" stroke-width="0.9"/>
<line x1="276.60" y1="347.50" x2="276.60" y2="351.80" stroke="#606164" stroke-width="0.9"/>
<line x1="296.80" y1="347.50" x2="296.80" y2="351.80" stroke="#606164" stroke-width="0.9"/>
<line x1="315.60" y1="347.50" x2="315.60" y2="351.80" stroke="#606164" stroke-width="0.9"/>
<text x="246.30" y="348.10" font-size="7.4" text-anchor="middle" fill="#231f20" letter-spacing="0.1">***</text>
<text x="162.80" y="409.60" font-size="7.2" text-anchor="middle" fill="#231f20" transform="rotate(-90 162.8 409.6)" letter-spacing="0.15">Viable cells (% control)</text>
<line x1="353.6" y1="359.8" x2="371.3" y2="359.8" stroke="#000" stroke-width="1.3"/>
<line x1="355.90" y1="359.30" x2="355.90" y2="457.60" stroke="#231f20" stroke-width="1.0"/>
<line x1="352.50" y1="457.60" x2="355.90" y2="457.60" stroke="#231f20" stroke-width="1.0"/>
<text x="351.10" y="459.81" font-size="6.5" text-anchor="end" fill="#231f20" letter-spacing="0.15">0</text>
<line x1="352.50" y1="433.15" x2="355.90" y2="433.15" stroke="#231f20" stroke-width="1.0"/>
<text x="351.10" y="435.36" font-size="6.5" text-anchor="end" fill="#231f20" letter-spacing="0.15">25</text>
<line x1="352.50" y1="408.70" x2="355.90" y2="408.70" stroke="#231f20" stroke-width="1.0"/>
<text x="351.10" y="410.91" font-size="6.5" text-anchor="end" fill="#231f20" letter-spacing="0.15">50</text>
<line x1="352.50" y1="384.25" x2="355.90" y2="384.25" stroke="#231f20" stroke-width="1.0"/>
<text x="351.10" y="386.45" font-size="6.5" text-anchor="end" fill="#231f20" letter-spacing="0.15">75</text>
<line x1="352.50" y1="359.80" x2="355.90" y2="359.80" stroke="#231f20" stroke-width="1.0"/>
<text x="351.10" y="362.00" font-size="6.5" text-anchor="end" fill="#231f20" letter-spacing="0.15">100</text>
<line x1="355.90" y1="457.60" x2="492.20" y2="457.60" stroke="#231f20" stroke-width="1.0"/>
<line x1="355.90" y1="457.60" x2="355.90" y2="460.20" stroke="#231f20" stroke-width="1.0"/>
<line x1="362.58" y1="457.60" x2="362.58" y2="460.20" stroke="#231f20" stroke-width="1.0"/>
<line x1="369.26" y1="457.60" x2="369.26" y2="460.20" stroke="#231f20" stroke-width="1.0"/>
<line x1="375.94" y1="457.60" x2="375.94" y2="460.20" stroke="#231f20" stroke-width="1.0"/>
<line x1="382.62" y1="457.60" x2="382.62" y2="460.20" stroke="#231f20" stroke-width="1.0"/>
<line x1="389.30" y1="457.60" x2="389.30" y2="460.20" stroke="#231f20" stroke-width="1.0"/>
<line x1="395.98" y1="457.60" x2="395.98" y2="460.20" stroke="#231f20" stroke-width="1.0"/>
<line x1="402.66" y1="457.60" x2="402.66" y2="460.20" stroke="#231f20" stroke-width="1.0"/>
<line x1="409.34" y1="457.60" x2="409.34" y2="460.20" stroke="#231f20" stroke-width="1.0"/>
<line x1="416.02" y1="457.60" x2="416.02" y2="460.20" stroke="#231f20" stroke-width="1.0"/>
<line x1="422.70" y1="457.60" x2="422.70" y2="460.20" stroke="#231f20" stroke-width="1.0"/>
<line x1="429.38" y1="457.60" x2="429.38" y2="460.20" stroke="#231f20" stroke-width="1.0"/>
<line x1="436.06" y1="457.60" x2="436.06" y2="460.20" stroke="#231f20" stroke-width="1.0"/>
<line x1="442.74" y1="457.60" x2="442.74" y2="460.20" stroke="#231f20" stroke-width="1.0"/>
<line x1="449.42" y1="457.60" x2="449.42" y2="460.20" stroke="#231f20" stroke-width="1.0"/>
<line x1="456.10" y1="457.60" x2="456.10" y2="460.20" stroke="#231f20" stroke-width="1.0"/>
<line x1="462.78" y1="457.60" x2="462.78" y2="460.20" stroke="#231f20" stroke-width="1.0"/>
<line x1="469.46" y1="457.60" x2="469.46" y2="460.20" stroke="#231f20" stroke-width="1.0"/>
<line x1="476.14" y1="457.60" x2="476.14" y2="460.20" stroke="#231f20" stroke-width="1.0"/>
<line x1="482.82" y1="457.60" x2="482.82" y2="460.20" stroke="#231f20" stroke-width="1.0"/>
<line x1="489.50" y1="457.60" x2="489.50" y2="460.20" stroke="#231f20" stroke-width="1.0"/>
<text x="430.00" y="329.00" font-size="9.7" text-anchor="middle" fill="#231f20" letter-spacing="-0.15">CD34<tspan font-size="6.2" dy="-3.2">+</tspan><tspan dy="3.2">CD38</tspan><tspan font-size="6.2" dy="-3.2">−</tspan></text>
<text x="361.60" y="470.40" font-size="6.6" text-anchor="middle" fill="#231f20" letter-spacing="0.15">CON</text>
<text x="379.90" y="470.40" font-size="6.6" text-anchor="middle" fill="#231f20" letter-spacing="0.15">PU</text>
<text x="398.80" y="470.40" font-size="6.6" text-anchor="middle" fill="#231f20" letter-spacing="0.15">VEN</text>
<text x="423.20" y="470.40" font-size="6.6" text-anchor="middle" fill="#231f20" letter-spacing="0.15">PU/VEN</text>
<text x="444.30" y="470.40" font-size="6.6" text-anchor="middle" fill="#231f20" letter-spacing="0.15">PU</text>
<text x="461.90" y="470.40" font-size="6.6" text-anchor="middle" fill="#231f20" letter-spacing="0.15">VEN</text>
<text x="485.90" y="470.40" font-size="6.6" text-anchor="middle" fill="#231f20" letter-spacing="0.15">PU/VEN</text>
<text x="345.00" y="479.80" font-size="6.5" text-anchor="start" fill="#231f20" letter-spacing="0.15">nM</text>
<text x="380.60" y="479.80" font-size="6.5" text-anchor="middle" fill="#231f20" letter-spacing="0.15">700</text>
<text x="399.80" y="479.80" font-size="6.5" text-anchor="middle" fill="#231f20" letter-spacing="0.15">15</text>
<text x="423.70" y="479.80" font-size="6.5" text-anchor="middle" fill="#231f20" letter-spacing="0.15">700/15</text>
<text x="445.50" y="479.80" font-size="6.5" text-anchor="middle" fill="#231f20" letter-spacing="0.15">2000</text>
<text x="463.00" y="479.80" font-size="6.5" text-anchor="middle" fill="#231f20" letter-spacing="0.15">40</text>
<text x="484.90" y="479.80" font-size="6.5" text-anchor="middle" fill="#231f20" letter-spacing="0.15">2000/40</text>
<circle cx="359.24" cy="359.80" r="2.20" fill="#b0186a"/>
<rect x="357.26" y="357.82" width="3.96" height="3.96" fill="#e0892a"/>
<circle cx="359.24" cy="359.80" r="2.20" fill="#c8782a"/>
<circle cx="365.92" cy="359.80" r="2.20" fill="white" stroke="#a08a80" stroke-width="0.75"/>
<rect x="377.30" y="416.42" width="3.96" height="3.96" fill="#e0892a"/>
<polygon points="379.28,411.99 381.59,414.30 379.28,416.61 376.97,414.30" fill="#1f4a3e"/>
<circle cx="379.28" cy="412.80" r="2.20" fill="#b0186a"/>
<polygon points="379.28,399.48 381.70,403.84 376.86,403.84" fill="#5a8cd0"/>
<line x1="373.98" y1="412.80" x2="384.58" y2="412.80" stroke="#000" stroke-width="1.3"/>
<circle cx="385.96" cy="435.30" r="2.20" fill="white" stroke="#b9509a" stroke-width="0.75"/>
<rect x="383.98" y="430.02" width="3.96" height="3.96" fill="white" stroke="#e0892a" stroke-width="0.75"/>
<polygon points="385.96,423.69 388.27,426.00 385.96,428.31 383.65,426.00" fill="white" stroke="#3a3a3a" stroke-width="0.75"/>
<polygon points="385.96,413.38 388.38,417.74 383.54,417.74" fill="white" stroke="#5a8cd0" stroke-width="0.75"/>
<line x1="380.66" y1="427.30" x2="391.26" y2="427.30" stroke="#000" stroke-width="1.3"/>
<circle cx="399.32" cy="393.60" r="2.20" fill="#c8782a"/>
<polygon points="399.32,381.38 401.74,385.74 396.90,385.74" fill="#5a8cd0"/>
<polygon points="399.32,368.49 401.63,370.80 399.32,373.11 397.01,370.80" fill="#1f4a3e"/>
<line x1="393.72" y1="385.60" x2="404.92" y2="385.60" stroke="#000" stroke-width="1.3"/>
<circle cx="406.00" cy="408.30" r="2.20" fill="white" stroke="#b9509a" stroke-width="0.75"/>
<polygon points="406.00,390.39 408.31,392.70 406.00,395.01 403.69,392.70" fill="white" stroke="#3a3a3a" stroke-width="0.75"/>
<polygon points="406.00,387.08 408.42,391.44 403.58,391.44" fill="white" stroke="#5a8cd0" stroke-width="0.75"/>
<line x1="400.70" y1="400.30" x2="411.30" y2="400.30" stroke="#000" stroke-width="1.3"/>
<polygon points="419.36,436.59 421.67,438.90 419.36,441.21 417.05,438.90" fill="#1f4a3e"/>
<rect x="417.38" y="434.22" width="3.96" height="3.96" fill="#e0892a"/>
<circle cx="419.36" cy="434.00" r="2.20" fill="#b0186a"/>
<polygon points="419.36,423.68 421.78,428.04 416.94,428.04" fill="#5a8cd0"/>
<line x1="413.86" y1="433.90" x2="424.86" y2="433.90" stroke="#000" stroke-width="1.3"/>
<circle cx="426.04" cy="449.60" r="2.20" fill="white" stroke="#b9509a" stroke-width="0.75"/>
<polygon points="426.04,442.19 428.35,444.50 426.04,446.81 423.73,444.50" fill="white" stroke="#3a3a3a" stroke-width="0.75"/>
<polygon points="426.04,439.18 428.46,443.54 423.62,443.54" fill="white" stroke="#5a8cd0" stroke-width="0.75"/>
<line x1="420.74" y1="445.60" x2="431.34" y2="445.60" stroke="#000" stroke-width="1.3"/>
<rect x="437.42" y="437.22" width="3.96" height="3.96" fill="#e0892a"/>
<circle cx="439.40" cy="424.20" r="2.20" fill="#b0186a"/>
<polygon points="439.40,414.98 441.82,419.34 436.98,419.34" fill="#5a8cd0"/>
<polygon points="439.40,408.99 441.71,411.30 439.40,413.61 437.09,411.30" fill="#1f4a3e"/>
<line x1="433.80" y1="422.80" x2="445.00" y2="422.80" stroke="#000" stroke-width="1.3"/>
<circle cx="446.08" cy="448.80" r="2.20" fill="white" stroke="#b9509a" stroke-width="0.75"/>
<polygon points="446.08,435.28 448.50,439.64 443.66,439.64" fill="white" stroke="#5a8cd0" stroke-width="0.75"/>
<polygon points="446.08,432.09 448.39,434.40 446.08,436.71 443.77,434.40" fill="white" stroke="#3a3a3a" stroke-width="0.75"/>
<line x1="440.78" y1="442.50" x2="451.38" y2="442.50" stroke="#000" stroke-width="1.3"/>
<rect x="457.46" y="415.42" width="3.96" height="3.96" fill="#e0892a"/>
<circle cx="459.44" cy="399.10" r="2.20" fill="#b0186a"/>
<polygon points="459.44,377.59 461.75,379.90 459.44,382.21 457.13,379.90" fill="#1f4a3e"/>
<polygon points="459.44,374.58 461.86,378.94 457.02,378.94" fill="#5a8cd0"/>
<line x1="453.94" y1="393.90" x2="464.94" y2="393.90" stroke="#000" stroke-width="1.3"/>
<circle cx="466.12" cy="437.70" r="2.20" fill="white" stroke="#b9509a" stroke-width="0.75"/>
<rect x="464.14" y="425.12" width="3.96" height="3.96" fill="white" stroke="#e0892a" stroke-width="0.75"/>
<polygon points="466.12,405.09 468.43,407.40 466.12,409.71 463.81,407.40" fill="white" stroke="#3a3a3a" stroke-width="0.75"/>
<polygon points="466.12,400.58 468.54,404.94 463.70,404.94" fill="white" stroke="#5a8cd0" stroke-width="0.75"/>
<line x1="460.62" y1="418.40" x2="471.62" y2="418.40" stroke="#000" stroke-width="1.3"/>
<rect x="477.50" y="446.32" width="3.96" height="3.96" fill="#e0892a"/>
<polygon points="479.48,438.58 481.90,442.94 477.06,442.94" fill="#5a8cd0"/>
<circle cx="479.48" cy="442.50" r="2.20" fill="#4a4a8a"/>
<line x1="474.08" y1="444.20" x2="484.88" y2="444.20" stroke="#000" stroke-width="1.3"/>
<circle cx="486.16" cy="452.10" r="2.20" fill="white" stroke="#b9509a" stroke-width="0.75"/>
<polygon points="486.16,444.99 488.47,447.30 486.16,449.61 483.85,447.30" fill="white" stroke="#3a3a3a" stroke-width="0.75"/>
<rect x="484.18" y="443.52" width="3.96" height="3.96" fill="white" stroke="#e0892a" stroke-width="0.75"/>
<line x1="480.56" y1="450.00" x2="491.76" y2="450.00" stroke="#000" stroke-width="1.3"/>
<text x="379.90" y="398.30" font-size="10.0" text-anchor="middle" fill="#231f20" letter-spacing="0">*</text>
<line x1="375.30" y1="396.70" x2="384.50" y2="396.70" stroke="#55565a" stroke-width="0.75"/>
<text x="421.10" y="423.20" font-size="10.0" text-anchor="middle" fill="#231f20" letter-spacing="0">*</text>
<line x1="416.50" y1="421.60" x2="425.70" y2="421.60" stroke="#55565a" stroke-width="0.75"/>
<text x="441.60" y="405.10" font-size="10.0" text-anchor="middle" fill="#231f20" letter-spacing="0">*</text>
<line x1="437.00" y1="403.50" x2="446.20" y2="403.50" stroke="#55565a" stroke-width="0.75"/>
<text x="480.40" y="438.00" font-size="10.0" text-anchor="middle" fill="#231f20" letter-spacing="0">*</text>
<line x1="475.80" y1="436.40" x2="485.00" y2="436.40" stroke="#55565a" stroke-width="0.75"/>
<line x1="360.10" y1="338.80" x2="476.90" y2="338.80" stroke="#606164" stroke-width="0.9"/>
<line x1="360.10" y1="338.80" x2="360.10" y2="343.10" stroke="#606164" stroke-width="0.9"/>
<line x1="376.50" y1="338.80" x2="376.50" y2="343.10" stroke="#606164" stroke-width="0.9"/>
<line x1="419.20" y1="338.80" x2="419.20" y2="343.10" stroke="#606164" stroke-width="0.9"/>
<line x1="438.00" y1="338.80" x2="438.00" y2="343.10" stroke="#606164" stroke-width="0.9"/>
<line x1="476.90" y1="338.80" x2="476.90" y2="343.10" stroke="#606164" stroke-width="0.9"/>
<text x="418.40" y="339.40" font-size="7.4" text-anchor="middle" fill="#231f20" letter-spacing="0.1">***</text>
<line x1="358.70" y1="345.20" x2="459.60" y2="345.20" stroke="#606164" stroke-width="0.9"/>
<line x1="398.50" y1="345.20" x2="398.50" y2="349.50" stroke="#606164" stroke-width="0.9"/>
<line x1="459.60" y1="345.20" x2="459.60" y2="349.50" stroke="#606164" stroke-width="0.9"/>
<text x="401.30" y="345.80" font-size="7.4" text-anchor="middle" fill="#231f20" letter-spacing="0.1">**</text>
<line x1="367.30" y1="353.00" x2="485.00" y2="353.00" stroke="#606164" stroke-width="0.9"/>
<line x1="367.30" y1="353.00" x2="367.30" y2="357.30" stroke="#606164" stroke-width="0.9"/>
<line x1="384.60" y1="353.00" x2="384.60" y2="357.30" stroke="#606164" stroke-width="0.9"/>
<line x1="404.80" y1="353.00" x2="404.80" y2="357.30" stroke="#606164" stroke-width="0.9"/>
<line x1="425.60" y1="353.00" x2="425.60" y2="357.30" stroke="#606164" stroke-width="0.9"/>
<line x1="445.20" y1="353.00" x2="445.20" y2="357.30" stroke="#606164" stroke-width="0.9"/>
<line x1="464.80" y1="353.00" x2="464.80" y2="357.30" stroke="#606164" stroke-width="0.9"/>
<line x1="485.00" y1="353.00" x2="485.00" y2="357.30" stroke="#606164" stroke-width="0.9"/>
<text x="414.90" y="353.60" font-size="7.4" text-anchor="middle" fill="#231f20" letter-spacing="0.1">***</text>
<circle cx="491.40" cy="381.80" r="2.00" fill="#b0186a"/>
<text x="497.20" y="384.30" font-size="6.8" text-anchor="start" fill="#231f20" letter-spacing="0.05"># 28</text>
<polygon points="491.40,387.35 493.60,391.31 489.20,391.31" fill="#5a8cd0"/>
<text x="497.20" y="392.05" font-size="6.8" text-anchor="start" fill="#231f20" letter-spacing="0.05"># 29</text>
<polygon points="491.40,395.20 493.50,397.30 491.40,399.40 489.30,397.30" fill="#1f4a3e"/>
<text x="497.20" y="399.80" font-size="6.8" text-anchor="start" fill="#231f20" letter-spacing="0.05"># 31</text>
<rect x="489.60" y="403.25" width="3.60" height="3.60" fill="#e0892a"/>
<text x="497.20" y="407.55" font-size="6.8" text-anchor="start" fill="#231f20" letter-spacing="0.05"># 32</text>
<line x1="489.00" y1="413.00" x2="494.00" y2="413.00" stroke="#000" stroke-width="1.2"/>
<text x="497.20" y="415.50" font-size="6.8" text-anchor="start" fill="#231f20" letter-spacing="0.05">Mean</text>
<text x="127.60" y="510.00" font-size="8.7" text-anchor="middle" fill="#231f20">Normal BM, 48 h (n = 3)</text>
<line x1="79.00" y1="512.40" x2="176.50" y2="512.40" stroke="#231f20" stroke-width="0.6"/>
<text x="26.80" y="583.30" font-size="6.8" text-anchor="middle" fill="#231f20" transform="rotate(-90 26.8 583.3)" letter-spacing="0.15">Specific apoptosis (%)</text>
<line x1="50.00" y1="515.60" x2="50.00" y2="573.30" stroke="#231f20" stroke-width="1.0"/>
<line x1="47.00" y1="573.30" x2="50.00" y2="573.30" stroke="#231f20" stroke-width="1.0"/>
<text x="45.60" y="575.54" font-size="6.4" text-anchor="end" fill="#231f20" letter-spacing="0.15">0</text>
<line x1="47.00" y1="559.30" x2="50.00" y2="559.30" stroke="#231f20" stroke-width="1.0"/>
<text x="45.60" y="561.54" font-size="6.4" text-anchor="end" fill="#231f20" letter-spacing="0.15">25</text>
<line x1="47.00" y1="545.30" x2="50.00" y2="545.30" stroke="#231f20" stroke-width="1.0"/>
<text x="45.60" y="547.54" font-size="6.4" text-anchor="end" fill="#231f20" letter-spacing="0.15">50</text>
<line x1="47.00" y1="531.30" x2="50.00" y2="531.30" stroke="#231f20" stroke-width="1.0"/>
<text x="45.60" y="533.54" font-size="6.4" text-anchor="end" fill="#231f20" letter-spacing="0.15">75</text>
<line x1="47.00" y1="517.30" x2="50.00" y2="517.30" stroke="#231f20" stroke-width="1.0"/>
<text x="45.60" y="519.54" font-size="6.4" text-anchor="end" fill="#231f20" letter-spacing="0.15">100</text>
<line x1="50.00" y1="573.30" x2="203.50" y2="573.30" stroke="#231f20" stroke-width="1.0"/>
<line x1="69.10" y1="573.30" x2="69.10" y2="575.60" stroke="#231f20" stroke-width="1.0"/>
<line x1="88.00" y1="573.30" x2="88.00" y2="575.60" stroke="#231f20" stroke-width="1.0"/>
<line x1="106.90" y1="573.30" x2="106.90" y2="575.60" stroke="#231f20" stroke-width="1.0"/>
<line x1="125.80" y1="573.30" x2="125.80" y2="575.60" stroke="#231f20" stroke-width="1.0"/>
<line x1="144.60" y1="573.30" x2="144.60" y2="575.60" stroke="#231f20" stroke-width="1.0"/>
<line x1="163.40" y1="573.30" x2="163.40" y2="575.60" stroke="#231f20" stroke-width="1.0"/>
<line x1="182.20" y1="573.30" x2="182.20" y2="575.60" stroke="#231f20" stroke-width="1.0"/>
<line x1="201.00" y1="573.30" x2="201.00" y2="575.60" stroke="#231f20" stroke-width="1.0"/>
<text x="113.80" y="539.00" font-size="9.0" text-anchor="start" fill="#231f20">CD45<tspan font-size="6.2" dy="-3.2">+</tspan></text>
<path d="M59.6 573.3 L78.6 573.0 L97.5 572.5 L116.4 571.3 L135.2 570.8 L154.0 570.2 L172.8 569.4 L191.6 568.8" stroke="#a8303a" stroke-width="1.1" fill="none"/>
<path d="M59.6 573.3 L78.6 572.5 L97.5 571.9 L116.4 570.8 L135.2 570.2 L154.0 569.7 L172.8 568.8 L191.6 568.3" stroke="#72b050" stroke-width="1.1" fill="none"/>
<path d="M59.6 573.3 L78.6 571.1 L97.5 571.1 L116.4 569.7 L135.2 569.7 L154.0 569.1 L172.8 568.8 L191.6 568.0" stroke="#4a3474" stroke-width="1.1" fill="none"/>
<polygon points="59.60,571.10 61.80,575.06 57.40,575.06" fill="#a8303a"/>
<polygon points="78.60,570.82 80.80,574.78 76.40,574.78" fill="#a8303a"/>
<polygon points="97.50,570.26 99.70,574.22 95.30,574.22" fill="#a8303a"/>
<polygon points="116.40,569.14 118.60,573.10 114.20,573.10" fill="#a8303a"/>
<polygon points="135.20,568.58 137.40,572.54 133.00,572.54" fill="#a8303a"/>
<polygon points="154.00,568.02 156.20,571.98 151.80,571.98" fill="#a8303a"/>
<polygon points="172.80,567.18 175.00,571.14 170.60,571.14" fill="#a8303a"/>
<polygon points="191.60,566.62 193.80,570.58 189.40,570.58" fill="#a8303a"/>
<rect x="57.80" y="571.50" width="3.60" height="3.60" fill="#72b050"/>
<rect x="76.80" y="570.66" width="3.60" height="3.60" fill="#72b050"/>
<rect x="95.70" y="570.10" width="3.60" height="3.60" fill="#72b050"/>
<rect x="114.60" y="568.98" width="3.60" height="3.60" fill="#72b050"/>
<rect x="133.40" y="568.42" width="3.60" height="3.60" fill="#72b050"/>
<rect x="152.20" y="567.86" width="3.60" height="3.60" fill="#72b050"/>
<rect x="171.00" y="567.02" width="3.60" height="3.60" fill="#72b050"/>
<rect x="189.80" y="566.46" width="3.60" height="3.60" fill="#72b050"/>
<circle cx="59.60" cy="573.30" r="2.30" fill="#2a1a4a"/>
<circle cx="78.60" cy="571.06" r="2.30" fill="#2a1a4a"/>
<circle cx="97.50" cy="571.06" r="2.30" fill="#2a1a4a"/>
<circle cx="116.40" cy="569.66" r="2.30" fill="#2a1a4a"/>
<circle cx="135.20" cy="569.66" r="2.30" fill="#2a1a4a"/>
<circle cx="154.00" cy="569.10" r="2.30" fill="#2a1a4a"/>
<circle cx="172.80" cy="568.82" r="2.30" fill="#2a1a4a"/>
<circle cx="191.60" cy="567.98" r="2.30" fill="#2a1a4a"/>
<line x1="54.50" y1="546.50" x2="71.50" y2="546.50" stroke="#a8303a" stroke-width="1.1"/>
<polygon points="63.00,544.19 65.31,548.35 60.69,548.35" fill="#a8303a"/>
<text x="75.60" y="548.70" font-size="6.1" text-anchor="start" fill="#231f20" letter-spacing="0.15">VEN</text>
<line x1="54.50" y1="555.00" x2="71.50" y2="555.00" stroke="#72b050" stroke-width="1.1"/>
<rect x="61.11" y="553.11" width="3.78" height="3.78" fill="#72b050"/>
<text x="75.60" y="557.20" font-size="6.1" text-anchor="start" fill="#231f20" letter-spacing="0.15">PU-H71</text>
<line x1="54.50" y1="563.30" x2="71.50" y2="563.30" stroke="#4a3474" stroke-width="1.1"/>
<circle cx="63.00" cy="563.30" r="2.30" fill="#2a1a4a"/>
<text x="75.60" y="565.50" font-size="6.1" text-anchor="start" fill="#231f20" letter-spacing="0.15">VEN + PU-H71</text>
<line x1="50.00" y1="584.40" x2="50.00" y2="643.30" stroke="#231f20" stroke-width="1.0"/>
<line x1="47.00" y1="643.30" x2="50.00" y2="643.30" stroke="#231f20" stroke-width="1.0"/>
<text x="45.60" y="645.54" font-size="6.4" text-anchor="end" fill="#231f20" letter-spacing="0.15">0</text>
<line x1="47.00" y1="629.15" x2="50.00" y2="629.15" stroke="#231f20" stroke-width="1.0"/>
<text x="45.60" y="631.39" font-size="6.4" text-anchor="end" fill="#231f20" letter-spacing="0.15">25</text>
<line x1="47.00" y1="615.00" x2="50.00" y2="615.00" stroke="#231f20" stroke-width="1.0"/>
<text x="45.60" y="617.24" font-size="6.4" text-anchor="end" fill="#231f20" letter-spacing="0.15">50</text>
<line x1="47.00" y1="600.85" x2="50.00" y2="600.85" stroke="#231f20" stroke-width="1.0"/>
<text x="45.60" y="603.09" font-size="6.4" text-anchor="end" fill="#231f20" letter-spacing="0.15">75</text>
<line x1="47.00" y1="586.70" x2="50.00" y2="586.70" stroke="#231f20" stroke-width="1.0"/>
<text x="45.60" y="588.94" font-size="6.4" text-anchor="end" fill="#231f20" letter-spacing="0.15">100</text>
<line x1="50.00" y1="643.30" x2="203.50" y2="643.30" stroke="#231f20" stroke-width="1.0"/>
<line x1="69.10" y1="643.30" x2="69.10" y2="645.60" stroke="#231f20" stroke-width="1.0"/>
<line x1="88.00" y1="643.30" x2="88.00" y2="645.60" stroke="#231f20" stroke-width="1.0"/>
<line x1="106.90" y1="643.30" x2="106.90" y2="645.60" stroke="#231f20" stroke-width="1.0"/>
<line x1="125.80" y1="643.30" x2="125.80" y2="645.60" stroke="#231f20" stroke-width="1.0"/>
<line x1="144.60" y1="643.30" x2="144.60" y2="645.60" stroke="#231f20" stroke-width="1.0"/>
<line x1="163.40" y1="643.30" x2="163.40" y2="645.60" stroke="#231f20" stroke-width="1.0"/>
<line x1="182.20" y1="643.30" x2="182.20" y2="645.60" stroke="#231f20" stroke-width="1.0"/>
<line x1="201.00" y1="643.30" x2="201.00" y2="645.60" stroke="#231f20" stroke-width="1.0"/>
<text x="113.80" y="605.40" font-size="9.0" text-anchor="start" fill="#231f20">CD34<tspan font-size="6.2" dy="-3.2">+</tspan></text>
<path d="M59.6 643.3 L78.6 642.2 L97.5 641.6 L116.4 641.3 L135.2 640.8 L154.0 640.2 L172.8 638.5 L191.6 637.4" stroke="#a8303a" stroke-width="1.1" fill="none"/>
<path d="M59.6 643.3 L78.6 641.6 L97.5 640.5 L116.4 639.6 L135.2 639.1 L154.0 638.2 L172.8 637.4 L191.6 635.1" stroke="#72b050" stroke-width="1.1" fill="none"/>
<path d="M59.6 643.3 L78.6 640.5 L97.5 637.9 L116.4 635.7 L135.2 635.1 L154.0 634.5 L172.8 632.8 L191.6 630.8" stroke="#4a3474" stroke-width="1.1" fill="none"/>
<polygon points="59.60,641.10 61.80,645.06 57.40,645.06" fill="#a8303a"/>
<polygon points="78.60,639.97 80.80,643.93 76.40,643.93" fill="#a8303a"/>
<polygon points="97.50,639.40 99.70,643.36 95.30,643.36" fill="#a8303a"/>
<polygon points="116.40,639.12 118.60,643.08 114.20,643.08" fill="#a8303a"/>
<polygon points="135.20,638.55 137.40,642.51 133.00,642.51" fill="#a8303a"/>
<polygon points="154.00,637.99 156.20,641.95 151.80,641.95" fill="#a8303a"/>
<polygon points="172.80,636.29 175.00,640.25 170.60,640.25" fill="#a8303a"/>
<polygon points="191.60,635.16 193.80,639.12 189.40,639.12" fill="#a8303a"/>
<rect x="57.80" y="641.50" width="3.60" height="3.60" fill="#72b050"/>
<rect x="76.80" y="639.80" width="3.60" height="3.60" fill="#72b050"/>
<rect x="95.70" y="638.67" width="3.60" height="3.60" fill="#72b050"/>
<rect x="114.60" y="637.82" width="3.60" height="3.60" fill="#72b050"/>
<rect x="133.40" y="637.25" width="3.60" height="3.60" fill="#72b050"/>
<rect x="152.20" y="636.41" width="3.60" height="3.60" fill="#72b050"/>
<rect x="171.00" y="635.56" width="3.60" height="3.60" fill="#72b050"/>
<rect x="189.80" y="633.29" width="3.60" height="3.60" fill="#72b050"/>
<circle cx="59.60" cy="643.30" r="2.30" fill="#2a1a4a"/>
<circle cx="78.60" cy="640.47" r="2.30" fill="#2a1a4a"/>
<circle cx="97.50" cy="637.92" r="2.30" fill="#2a1a4a"/>
<circle cx="116.40" cy="635.66" r="2.30" fill="#2a1a4a"/>
<circle cx="135.20" cy="635.09" r="2.30" fill="#2a1a4a"/>
<circle cx="154.00" cy="634.53" r="2.30" fill="#2a1a4a"/>
<circle cx="172.80" cy="632.83" r="2.30" fill="#2a1a4a"/>
<circle cx="191.60" cy="630.85" r="2.30" fill="#2a1a4a"/>
<line x1="54.50" y1="605.90" x2="71.50" y2="605.90" stroke="#a8303a" stroke-width="1.1"/>
<polygon points="63.00,603.59 65.31,607.75 60.69,607.75" fill="#a8303a"/>
<text x="75.60" y="608.10" font-size="6.1" text-anchor="start" fill="#231f20" letter-spacing="0.15">VEN</text>
<line x1="54.50" y1="614.40" x2="71.50" y2="614.40" stroke="#72b050" stroke-width="1.1"/>
<rect x="61.11" y="612.51" width="3.78" height="3.78" fill="#72b050"/>
<text x="75.60" y="616.60" font-size="6.1" text-anchor="start" fill="#231f20" letter-spacing="0.15">PU-H71</text>
<line x1="54.50" y1="622.90" x2="71.50" y2="622.90" stroke="#4a3474" stroke-width="1.1"/>
<circle cx="63.00" cy="622.90" r="2.30" fill="#2a1a4a"/>
<text x="75.60" y="625.10" font-size="6.1" text-anchor="start" fill="#231f20" letter-spacing="0.15">VEN + PU-H71</text>
<text x="60.80" y="656.40" font-size="6.4" text-anchor="middle" fill="#231f20" letter-spacing="0.15">0.00</text>
<text x="61.20" y="665.50" font-size="6.4" text-anchor="middle" fill="#231f20" letter-spacing="0.15">0.00</text>
<text x="79.80" y="656.40" font-size="6.4" text-anchor="middle" fill="#231f20" letter-spacing="0.15">0.00</text>
<text x="80.20" y="665.50" font-size="6.4" text-anchor="middle" fill="#231f20" letter-spacing="0.15">0.05</text>
<text x="98.70" y="656.40" font-size="6.4" text-anchor="middle" fill="#231f20" letter-spacing="0.15">0.01</text>
<text x="99.10" y="665.50" font-size="6.4" text-anchor="middle" fill="#231f20" letter-spacing="0.15">0.16</text>
<text x="117.60" y="656.40" font-size="6.4" text-anchor="middle" fill="#231f20" letter-spacing="0.15">0.02</text>
<text x="118.00" y="665.50" font-size="6.4" text-anchor="middle" fill="#231f20" letter-spacing="0.15">0.49</text>
<text x="136.40" y="656.40" font-size="6.4" text-anchor="middle" fill="#231f20" letter-spacing="0.15">0.07</text>
<text x="136.80" y="665.50" font-size="6.4" text-anchor="middle" fill="#231f20" letter-spacing="0.15">1.48</text>
<text x="155.20" y="656.40" font-size="6.4" text-anchor="middle" fill="#231f20" letter-spacing="0.15">0.22</text>
<text x="155.60" y="665.50" font-size="6.4" text-anchor="middle" fill="#231f20" letter-spacing="0.15">4.44</text>
<text x="174.00" y="656.40" font-size="6.4" text-anchor="middle" fill="#231f20" letter-spacing="0.15">0.67</text>
<text x="174.40" y="665.50" font-size="6.4" text-anchor="middle" fill="#231f20" letter-spacing="0.15">13.33</text>
<text x="192.80" y="656.40" font-size="6.4" text-anchor="middle" fill="#231f20" letter-spacing="0.15">2.00</text>
<text x="193.20" y="665.50" font-size="6.4" text-anchor="middle" fill="#231f20" letter-spacing="0.15">40.00</text>
<text x="206.30" y="656.40" font-size="6.4" text-anchor="start" fill="#231f20" letter-spacing="0.15">PU, µM</text>
<text x="205.00" y="665.50" font-size="6.4" text-anchor="start" fill="#231f20" letter-spacing="0.15">VEN, nM</text>
<line x1="313.00" y1="530.50" x2="313.00" y2="633.80" stroke="#231f20" stroke-width="1.0"/>
<line x1="309.60" y1="633.80" x2="313.00" y2="633.80" stroke="#231f20" stroke-width="1.0"/>
<text x="308.20" y="636.00" font-size="6.5" text-anchor="end" fill="#231f20" letter-spacing="0.15">0</text>
<line x1="309.60" y1="613.56" x2="313.00" y2="613.56" stroke="#231f20" stroke-width="1.0"/>
<text x="308.20" y="615.76" font-size="6.5" text-anchor="end" fill="#231f20" letter-spacing="0.15">50</text>
<line x1="309.60" y1="593.32" x2="313.00" y2="593.32" stroke="#231f20" stroke-width="1.0"/>
<text x="308.20" y="595.52" font-size="6.5" text-anchor="end" fill="#231f20" letter-spacing="0.15">100</text>
<line x1="309.60" y1="573.08" x2="313.00" y2="573.08" stroke="#231f20" stroke-width="1.0"/>
<text x="308.20" y="575.29" font-size="6.5" text-anchor="end" fill="#231f20" letter-spacing="0.15">150</text>
<line x1="309.60" y1="552.84" x2="313.00" y2="552.84" stroke="#231f20" stroke-width="1.0"/>
<text x="308.20" y="555.05" font-size="6.5" text-anchor="end" fill="#231f20" letter-spacing="0.15">200</text>
<line x1="309.60" y1="532.60" x2="313.00" y2="532.60" stroke="#231f20" stroke-width="1.0"/>
<text x="308.20" y="534.81" font-size="6.5" text-anchor="end" fill="#231f20" letter-spacing="0.15">250</text>
<line x1="313.00" y1="633.80" x2="474.80" y2="633.80" stroke="#231f20" stroke-width="1.0"/>
<line x1="338.80" y1="633.80" x2="338.80" y2="636.30" stroke="#231f20" stroke-width="1.0"/>
<line x1="394.00" y1="633.80" x2="394.00" y2="636.30" stroke="#231f20" stroke-width="1.0"/>
<line x1="449.30" y1="633.80" x2="449.30" y2="636.30" stroke="#231f20" stroke-width="1.0"/>
<text x="394.20" y="524.40" font-size="8.8" text-anchor="middle" fill="#231f20">Normal BM (n = 3)</text>
<line x1="357.00" y1="526.60" x2="432.00" y2="526.60" stroke="#231f20" stroke-width="0.6"/>
<text x="289.90" y="582.00" font-size="7.0" text-anchor="middle" fill="#231f20" transform="rotate(-90 289.9 582.0)" letter-spacing="0.15">Number of colonies</text>
<rect x="318.40" y="579.96" width="6.20" height="53.84" fill="#3b4157"/>
<line x1="321.50" y1="574.29" x2="321.50" y2="583.36" stroke="#231f20" stroke-width="0.7"/>
<line x1="319.30" y1="574.29" x2="323.70" y2="574.29" stroke="#231f20" stroke-width="0.7"/>
<rect x="330.30" y="553.24" width="6.20" height="80.56" fill="#5a9e3a"/>
<line x1="333.40" y1="543.93" x2="333.40" y2="558.83" stroke="#231f20" stroke-width="0.7"/>
<line x1="331.20" y1="543.93" x2="335.60" y2="543.93" stroke="#231f20" stroke-width="0.7"/>
<rect x="342.20" y="562.56" width="6.20" height="71.24" fill="#93172b"/>
<line x1="345.30" y1="552.84" x2="345.30" y2="568.38" stroke="#231f20" stroke-width="0.7"/>
<line x1="343.10" y1="552.84" x2="347.50" y2="552.84" stroke="#231f20" stroke-width="0.7"/>
<rect x="354.10" y="572.27" width="6.20" height="61.53" fill="#e8b830"/>
<line x1="357.20" y1="565.39" x2="357.20" y2="576.40" stroke="#231f20" stroke-width="0.7"/>
<line x1="355.00" y1="565.39" x2="359.40" y2="565.39" stroke="#231f20" stroke-width="0.7"/>
<rect x="373.30" y="598.58" width="6.20" height="35.22" fill="#3b4157"/>
<line x1="376.40" y1="594.53" x2="376.40" y2="601.01" stroke="#231f20" stroke-width="0.7"/>
<line x1="374.20" y1="594.53" x2="378.60" y2="594.53" stroke="#231f20" stroke-width="0.7"/>
<rect x="385.20" y="581.99" width="6.20" height="51.81" fill="#5a9e3a"/>
<line x1="388.30" y1="574.29" x2="388.30" y2="586.60" stroke="#231f20" stroke-width="0.7"/>
<line x1="386.10" y1="574.29" x2="390.50" y2="574.29" stroke="#231f20" stroke-width="0.7"/>
<rect x="397.10" y="586.03" width="6.20" height="47.77" fill="#93172b"/>
<line x1="400.20" y1="579.15" x2="400.20" y2="590.16" stroke="#231f20" stroke-width="0.7"/>
<line x1="398.00" y1="579.15" x2="402.40" y2="579.15" stroke="#231f20" stroke-width="0.7"/>
<rect x="409.00" y="590.08" width="6.20" height="43.72" fill="#e8b830"/>
<line x1="412.10" y1="584.82" x2="412.10" y2="593.24" stroke="#231f20" stroke-width="0.7"/>
<line x1="409.90" y1="584.82" x2="414.30" y2="584.82" stroke="#231f20" stroke-width="0.7"/>
<rect x="428.40" y="616.39" width="6.20" height="17.41" fill="#3b4157"/>
<line x1="431.50" y1="613.96" x2="431.50" y2="617.85" stroke="#231f20" stroke-width="0.7"/>
<line x1="429.30" y1="613.96" x2="433.70" y2="613.96" stroke="#231f20" stroke-width="0.7"/>
<rect x="440.30" y="606.68" width="6.20" height="27.12" fill="#5a9e3a"/>
<line x1="443.40" y1="603.04" x2="443.40" y2="608.86" stroke="#231f20" stroke-width="0.7"/>
<line x1="441.20" y1="603.04" x2="445.60" y2="603.04" stroke="#231f20" stroke-width="0.7"/>
<rect x="452.20" y="611.54" width="6.20" height="22.26" fill="#93172b"/>
<line x1="455.30" y1="608.30" x2="455.30" y2="613.48" stroke="#231f20" stroke-width="0.7"/>
<line x1="453.10" y1="608.30" x2="457.50" y2="608.30" stroke="#231f20" stroke-width="0.7"/>
<rect x="464.10" y="616.80" width="6.20" height="17.00" fill="#e8b830"/>
<line x1="467.20" y1="614.77" x2="467.20" y2="618.01" stroke="#231f20" stroke-width="0.7"/>
<line x1="465.00" y1="614.77" x2="469.40" y2="614.77" stroke="#231f20" stroke-width="0.7"/>
<text x="338.80" y="646.00" font-size="6.6" text-anchor="middle" fill="#231f20" letter-spacing="0.15">Total Colonies</text>
<text x="394.00" y="646.00" font-size="6.6" text-anchor="middle" fill="#231f20" letter-spacing="0.15">BFU-E</text>
<text x="449.30" y="646.00" font-size="6.6" text-anchor="middle" fill="#231f20" letter-spacing="0.15">CFU-E</text>
<text x="460.50" y="538.00" font-size="6.5" text-anchor="middle" fill="#231f20" letter-spacing="0.15">nM</text>
<rect x="399.40" y="540.80" width="9.40" height="5.00" fill="#3b4157"/>
<text x="412.60" y="545.60" font-size="6.6" text-anchor="start" fill="#231f20" letter-spacing="0.15">Control</text>
<rect x="399.40" y="550.25" width="9.40" height="5.00" fill="#5a9e3a"/>
<text x="412.60" y="555.05" font-size="6.6" text-anchor="start" fill="#231f20" letter-spacing="0.15">PU-H71</text>
<text x="453.80" y="555.05" font-size="6.5" text-anchor="start" fill="#231f20" letter-spacing="0.15">700</text>
<rect x="399.40" y="559.70" width="9.40" height="5.00" fill="#93172b"/>
<text x="412.60" y="564.50" font-size="6.6" text-anchor="start" fill="#231f20" letter-spacing="0.15">VEN</text>
<text x="453.80" y="564.50" font-size="6.5" text-anchor="start" fill="#231f20" letter-spacing="0.15">15</text>
<rect x="399.40" y="569.15" width="9.40" height="5.00" fill="#e8b830"/>
<text x="412.60" y="573.95" font-size="6.6" text-anchor="start" fill="#231f20" letter-spacing="0.15">Combination</text>
<text x="453.80" y="573.95" font-size="6.5" text-anchor="start" fill="#231f20" letter-spacing="0.15">700/15</text>
</svg></body></html>
